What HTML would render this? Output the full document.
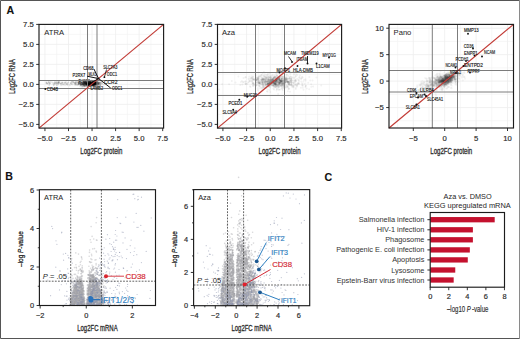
<!DOCTYPE html>
<html><head><meta charset="utf-8"><style>
html,body{margin:0;padding:0;background:#fff;}
body{width:520px;height:339px;overflow:hidden;}
svg{display:block;font-family:"Liberation Sans",sans-serif;}
.r60 circle{r:0.6px} .r70 circle{r:0.7px} .r75 circle{r:0.75px} .r80 circle{r:0.8px} .r90 circle{r:0.9px} .r95 circle{r:0.95px} .r100 circle{r:1px} .r110 circle{r:1.1px} .r120 circle{r:1.2px}
</style></head><body>
<svg width="520" height="339" viewBox="0 0 520 339">
<rect x="0" y="0" width="520" height="339" fill="#fff"/>
<line x1="56.72" y1="24.4" x2="56.72" y2="128.1" stroke="#f4f4f4" stroke-width="0.7"/>
<line x1="80.27" y1="24.4" x2="80.27" y2="128.1" stroke="#f4f4f4" stroke-width="0.7"/>
<line x1="103.83" y1="24.4" x2="103.83" y2="128.1" stroke="#f4f4f4" stroke-width="0.7"/>
<line x1="127.38" y1="24.4" x2="127.38" y2="128.1" stroke="#f4f4f4" stroke-width="0.7"/>
<line x1="150.93" y1="24.4" x2="150.93" y2="128.1" stroke="#f4f4f4" stroke-width="0.7"/>
<line x1="39" y1="34.4" x2="163.6" y2="34.4" stroke="#f4f4f4" stroke-width="0.7"/>
<line x1="39" y1="54.4" x2="163.6" y2="54.4" stroke="#f4f4f4" stroke-width="0.7"/>
<line x1="39" y1="74.4" x2="163.6" y2="74.4" stroke="#f4f4f4" stroke-width="0.7"/>
<line x1="39" y1="94.4" x2="163.6" y2="94.4" stroke="#f4f4f4" stroke-width="0.7"/>
<line x1="39" y1="114.4" x2="163.6" y2="114.4" stroke="#f4f4f4" stroke-width="0.7"/>
<line x1="44.95" y1="24.4" x2="44.95" y2="128.1" stroke="#eeeeee" stroke-width="0.8"/>
<line x1="68.5" y1="24.4" x2="68.5" y2="128.1" stroke="#eeeeee" stroke-width="0.8"/>
<line x1="92.05" y1="24.4" x2="92.05" y2="128.1" stroke="#eeeeee" stroke-width="0.8"/>
<line x1="115.6" y1="24.4" x2="115.6" y2="128.1" stroke="#eeeeee" stroke-width="0.8"/>
<line x1="139.15" y1="24.4" x2="139.15" y2="128.1" stroke="#eeeeee" stroke-width="0.8"/>
<line x1="39" y1="44.4" x2="163.6" y2="44.4" stroke="#eeeeee" stroke-width="0.8"/>
<line x1="39" y1="64.4" x2="163.6" y2="64.4" stroke="#eeeeee" stroke-width="0.8"/>
<line x1="39" y1="84.4" x2="163.6" y2="84.4" stroke="#eeeeee" stroke-width="0.8"/>
<line x1="39" y1="104.4" x2="163.6" y2="104.4" stroke="#eeeeee" stroke-width="0.8"/>
<line x1="39" y1="124.4" x2="163.6" y2="124.4" stroke="#eeeeee" stroke-width="0.8"/>
<g class="r90" fill="#111" fill-opacity="0.1"><circle cx="90.0" cy="83.9"/><circle cx="91.6" cy="83.8"/><circle cx="88.5" cy="83.4"/><circle cx="85.1" cy="83.0"/><circle cx="87.5" cy="84.3"/><circle cx="84.5" cy="81.4"/><circle cx="90.3" cy="84.2"/><circle cx="97.4" cy="83.9"/><circle cx="87.3" cy="84.0"/><circle cx="86.6" cy="84.1"/><circle cx="92.7" cy="82.8"/><circle cx="92.0" cy="83.3"/><circle cx="90.6" cy="84.4"/><circle cx="84.9" cy="84.2"/><circle cx="89.8" cy="83.9"/><circle cx="93.8" cy="81.6"/><circle cx="82.6" cy="84.3"/><circle cx="87.5" cy="85.1"/><circle cx="79.5" cy="84.9"/><circle cx="82.9" cy="83.9"/><circle cx="79.9" cy="81.6"/><circle cx="88.7" cy="84.8"/><circle cx="83.0" cy="83.4"/><circle cx="91.5" cy="80.3"/><circle cx="90.9" cy="84.1"/><circle cx="89.0" cy="81.7"/><circle cx="76.2" cy="81.9"/><circle cx="87.0" cy="82.8"/><circle cx="89.7" cy="85.3"/><circle cx="90.6" cy="83.1"/><circle cx="81.6" cy="84.0"/><circle cx="87.4" cy="85.9"/><circle cx="84.6" cy="85.7"/><circle cx="85.6" cy="83.5"/><circle cx="95.8" cy="83.3"/><circle cx="85.6" cy="82.0"/><circle cx="89.8" cy="82.7"/><circle cx="94.9" cy="84.2"/><circle cx="86.8" cy="84.1"/><circle cx="89.4" cy="83.7"/><circle cx="90.6" cy="84.9"/><circle cx="90.4" cy="82.6"/><circle cx="83.3" cy="83.5"/><circle cx="90.4" cy="84.6"/><circle cx="97.5" cy="84.4"/><circle cx="81.5" cy="85.0"/><circle cx="94.7" cy="84.1"/><circle cx="90.7" cy="83.2"/><circle cx="86.5" cy="84.1"/><circle cx="101.0" cy="82.3"/><circle cx="94.2" cy="81.5"/><circle cx="83.4" cy="84.4"/><circle cx="90.4" cy="83.5"/><circle cx="93.2" cy="84.0"/><circle cx="89.0" cy="81.4"/><circle cx="93.8" cy="83.1"/><circle cx="89.6" cy="82.8"/><circle cx="93.7" cy="82.5"/><circle cx="97.9" cy="80.7"/><circle cx="86.3" cy="83.2"/><circle cx="91.1" cy="84.8"/><circle cx="87.5" cy="84.1"/><circle cx="90.7" cy="82.8"/><circle cx="83.5" cy="83.6"/><circle cx="86.8" cy="84.6"/><circle cx="88.9" cy="80.0"/><circle cx="94.9" cy="83.4"/><circle cx="96.3" cy="84.3"/><circle cx="82.7" cy="84.5"/><circle cx="85.6" cy="85.8"/><circle cx="93.6" cy="85.1"/><circle cx="79.0" cy="84.0"/><circle cx="87.5" cy="84.0"/><circle cx="89.5" cy="84.6"/><circle cx="96.9" cy="82.9"/><circle cx="93.8" cy="83.5"/><circle cx="88.2" cy="84.8"/><circle cx="88.0" cy="86.1"/><circle cx="88.6" cy="83.4"/><circle cx="98.4" cy="83.5"/><circle cx="87.6" cy="83.9"/><circle cx="88.3" cy="85.3"/><circle cx="91.9" cy="83.6"/><circle cx="89.3" cy="85.5"/><circle cx="88.9" cy="82.3"/><circle cx="83.9" cy="83.4"/><circle cx="89.9" cy="83.3"/><circle cx="87.6" cy="84.6"/><circle cx="96.4" cy="85.0"/><circle cx="93.6" cy="81.6"/><circle cx="89.9" cy="82.4"/><circle cx="93.7" cy="84.0"/><circle cx="88.1" cy="82.7"/><circle cx="95.8" cy="81.6"/><circle cx="90.0" cy="85.0"/><circle cx="93.2" cy="84.2"/><circle cx="82.9" cy="84.2"/><circle cx="91.9" cy="83.0"/><circle cx="80.7" cy="84.9"/><circle cx="78.8" cy="83.3"/><circle cx="88.3" cy="85.0"/><circle cx="85.1" cy="82.4"/><circle cx="90.9" cy="82.5"/><circle cx="102.3" cy="83.9"/><circle cx="85.4" cy="82.7"/><circle cx="86.6" cy="84.5"/><circle cx="91.1" cy="83.9"/><circle cx="92.7" cy="82.4"/><circle cx="89.0" cy="83.7"/><circle cx="88.9" cy="83.1"/><circle cx="93.9" cy="84.8"/><circle cx="92.9" cy="82.8"/><circle cx="84.3" cy="83.0"/><circle cx="89.6" cy="85.2"/><circle cx="90.2" cy="86.5"/><circle cx="84.2" cy="86.2"/><circle cx="91.4" cy="83.7"/><circle cx="85.3" cy="83.9"/><circle cx="95.3" cy="85.6"/><circle cx="91.1" cy="83.4"/><circle cx="90.5" cy="82.3"/><circle cx="86.7" cy="83.8"/><circle cx="89.3" cy="84.2"/><circle cx="79.0" cy="82.5"/><circle cx="83.8" cy="81.5"/><circle cx="92.0" cy="81.7"/><circle cx="78.3" cy="84.5"/><circle cx="94.7" cy="82.6"/><circle cx="80.4" cy="83.4"/><circle cx="94.2" cy="83.9"/><circle cx="85.3" cy="84.4"/><circle cx="94.3" cy="83.2"/><circle cx="90.7" cy="84.2"/><circle cx="81.5" cy="82.4"/><circle cx="96.9" cy="83.1"/><circle cx="97.9" cy="82.3"/><circle cx="89.6" cy="85.1"/><circle cx="88.5" cy="83.6"/><circle cx="89.1" cy="82.6"/><circle cx="84.6" cy="83.1"/><circle cx="96.0" cy="83.3"/><circle cx="87.0" cy="84.5"/><circle cx="89.7" cy="81.5"/><circle cx="85.6" cy="82.3"/><circle cx="86.6" cy="83.1"/><circle cx="83.0" cy="86.9"/><circle cx="96.9" cy="84.8"/><circle cx="89.2" cy="83.5"/><circle cx="95.3" cy="84.5"/><circle cx="90.1" cy="86.3"/><circle cx="86.2" cy="83.3"/><circle cx="88.2" cy="83.1"/><circle cx="86.9" cy="85.2"/><circle cx="90.0" cy="84.2"/><circle cx="87.9" cy="84.5"/><circle cx="88.4" cy="82.9"/><circle cx="82.4" cy="86.1"/><circle cx="85.6" cy="85.8"/><circle cx="99.1" cy="84.3"/><circle cx="86.3" cy="84.5"/><circle cx="84.2" cy="81.0"/><circle cx="91.9" cy="84.4"/><circle cx="97.7" cy="83.3"/><circle cx="82.0" cy="84.2"/><circle cx="88.9" cy="84.5"/><circle cx="86.5" cy="83.2"/><circle cx="80.3" cy="81.4"/><circle cx="94.0" cy="84.1"/><circle cx="89.9" cy="82.6"/><circle cx="90.4" cy="83.2"/><circle cx="85.9" cy="82.8"/><circle cx="92.5" cy="83.2"/><circle cx="87.0" cy="80.6"/><circle cx="89.2" cy="85.2"/><circle cx="83.9" cy="83.9"/><circle cx="83.3" cy="85.0"/><circle cx="97.3" cy="86.2"/><circle cx="87.2" cy="83.6"/><circle cx="91.6" cy="81.3"/><circle cx="89.8" cy="82.4"/><circle cx="87.6" cy="82.0"/><circle cx="87.2" cy="82.9"/><circle cx="93.5" cy="83.7"/><circle cx="88.3" cy="81.0"/><circle cx="89.2" cy="84.0"/><circle cx="90.1" cy="81.6"/><circle cx="96.5" cy="84.0"/><circle cx="93.7" cy="83.5"/><circle cx="92.1" cy="83.2"/><circle cx="86.9" cy="83.5"/><circle cx="82.4" cy="82.9"/><circle cx="95.2" cy="82.8"/><circle cx="95.3" cy="81.4"/><circle cx="89.2" cy="83.6"/><circle cx="93.0" cy="86.0"/><circle cx="94.3" cy="86.2"/><circle cx="94.6" cy="85.3"/><circle cx="95.1" cy="84.5"/><circle cx="87.5" cy="82.7"/><circle cx="98.3" cy="85.5"/><circle cx="83.1" cy="83.5"/><circle cx="94.7" cy="83.5"/><circle cx="92.7" cy="83.2"/><circle cx="94.8" cy="83.7"/><circle cx="100.3" cy="83.0"/><circle cx="98.2" cy="83.5"/><circle cx="83.7" cy="82.2"/><circle cx="80.7" cy="83.1"/><circle cx="94.5" cy="86.6"/><circle cx="84.4" cy="83.5"/><circle cx="89.9" cy="83.3"/><circle cx="94.6" cy="84.3"/><circle cx="81.0" cy="84.5"/><circle cx="78.4" cy="82.2"/><circle cx="91.4" cy="83.3"/><circle cx="90.2" cy="84.8"/><circle cx="88.6" cy="84.0"/><circle cx="90.2" cy="83.8"/><circle cx="85.3" cy="85.6"/><circle cx="81.7" cy="82.7"/><circle cx="89.1" cy="83.7"/><circle cx="84.7" cy="82.9"/><circle cx="81.0" cy="85.5"/><circle cx="92.8" cy="81.1"/><circle cx="89.7" cy="82.7"/><circle cx="92.2" cy="82.9"/><circle cx="84.6" cy="84.5"/><circle cx="86.4" cy="84.4"/><circle cx="84.5" cy="85.4"/><circle cx="85.1" cy="81.6"/><circle cx="91.1" cy="84.6"/><circle cx="85.7" cy="83.2"/><circle cx="92.0" cy="82.7"/><circle cx="91.9" cy="84.3"/><circle cx="101.1" cy="82.4"/><circle cx="82.3" cy="80.9"/><circle cx="94.9" cy="83.1"/><circle cx="89.5" cy="81.7"/><circle cx="89.9" cy="82.8"/><circle cx="82.0" cy="84.1"/><circle cx="87.5" cy="84.0"/><circle cx="94.1" cy="85.7"/><circle cx="89.5" cy="83.3"/><circle cx="90.4" cy="81.6"/><circle cx="88.4" cy="82.6"/><circle cx="96.4" cy="82.4"/><circle cx="89.9" cy="82.0"/><circle cx="77.9" cy="84.2"/><circle cx="86.2" cy="82.8"/><circle cx="79.2" cy="81.0"/><circle cx="72.1" cy="84.5"/><circle cx="87.1" cy="83.5"/><circle cx="97.3" cy="84.1"/><circle cx="90.3" cy="83.7"/><circle cx="83.6" cy="84.4"/><circle cx="84.8" cy="83.6"/><circle cx="96.2" cy="85.2"/><circle cx="90.9" cy="84.2"/><circle cx="90.3" cy="84.1"/><circle cx="89.7" cy="84.1"/><circle cx="90.2" cy="81.7"/><circle cx="94.4" cy="83.4"/><circle cx="93.0" cy="83.3"/><circle cx="91.2" cy="83.9"/><circle cx="84.3" cy="81.8"/><circle cx="92.8" cy="85.7"/><circle cx="86.2" cy="83.7"/><circle cx="96.0" cy="82.0"/><circle cx="83.0" cy="81.4"/><circle cx="89.2" cy="83.2"/><circle cx="90.0" cy="83.5"/><circle cx="82.7" cy="82.7"/><circle cx="99.5" cy="83.7"/><circle cx="98.0" cy="82.8"/><circle cx="87.5" cy="84.3"/><circle cx="94.2" cy="82.7"/><circle cx="92.1" cy="83.5"/><circle cx="75.6" cy="84.9"/><circle cx="91.4" cy="86.9"/><circle cx="89.7" cy="82.3"/><circle cx="90.5" cy="83.0"/><circle cx="84.1" cy="82.5"/><circle cx="88.5" cy="84.6"/><circle cx="89.0" cy="82.1"/><circle cx="96.5" cy="83.0"/><circle cx="91.8" cy="83.6"/><circle cx="90.0" cy="82.3"/><circle cx="98.4" cy="82.4"/><circle cx="86.9" cy="83.0"/><circle cx="87.9" cy="80.9"/><circle cx="80.0" cy="81.7"/><circle cx="98.6" cy="83.1"/><circle cx="95.3" cy="83.8"/><circle cx="95.0" cy="83.4"/><circle cx="93.7" cy="81.3"/><circle cx="90.6" cy="83.0"/><circle cx="91.2" cy="84.6"/><circle cx="88.6" cy="84.3"/><circle cx="88.9" cy="83.5"/><circle cx="90.3" cy="82.4"/><circle cx="98.3" cy="84.4"/><circle cx="93.1" cy="82.8"/><circle cx="89.7" cy="82.1"/><circle cx="86.8" cy="82.6"/><circle cx="86.5" cy="85.5"/><circle cx="98.8" cy="83.9"/><circle cx="92.8" cy="85.1"/><circle cx="90.4" cy="83.0"/><circle cx="88.1" cy="84.8"/><circle cx="83.9" cy="82.8"/><circle cx="89.6" cy="83.4"/><circle cx="94.8" cy="86.8"/><circle cx="87.8" cy="84.6"/><circle cx="88.8" cy="82.9"/><circle cx="88.8" cy="83.5"/><circle cx="90.6" cy="84.0"/><circle cx="81.2" cy="85.2"/><circle cx="88.7" cy="83.0"/><circle cx="85.3" cy="81.3"/><circle cx="94.9" cy="83.2"/><circle cx="85.8" cy="83.6"/><circle cx="93.2" cy="83.7"/><circle cx="98.4" cy="85.3"/><circle cx="88.3" cy="84.0"/><circle cx="86.7" cy="84.7"/><circle cx="91.1" cy="82.2"/><circle cx="90.0" cy="84.7"/><circle cx="84.5" cy="86.3"/><circle cx="92.5" cy="84.6"/><circle cx="101.1" cy="83.9"/><circle cx="88.6" cy="83.8"/><circle cx="88.9" cy="85.9"/><circle cx="84.3" cy="82.4"/><circle cx="91.8" cy="83.5"/><circle cx="83.1" cy="84.2"/><circle cx="83.9" cy="84.6"/><circle cx="97.0" cy="83.0"/><circle cx="85.0" cy="84.0"/><circle cx="95.9" cy="83.2"/><circle cx="98.4" cy="83.8"/><circle cx="91.4" cy="83.4"/><circle cx="93.0" cy="82.1"/><circle cx="100.7" cy="83.6"/><circle cx="88.9" cy="84.7"/><circle cx="86.7" cy="82.3"/><circle cx="82.6" cy="83.3"/><circle cx="90.2" cy="84.5"/><circle cx="98.1" cy="82.2"/><circle cx="95.3" cy="83.8"/><circle cx="84.8" cy="82.2"/><circle cx="85.3" cy="85.1"/><circle cx="87.2" cy="86.6"/><circle cx="91.6" cy="86.2"/><circle cx="88.9" cy="83.3"/><circle cx="91.2" cy="84.6"/><circle cx="91.6" cy="83.8"/><circle cx="88.4" cy="83.7"/><circle cx="89.8" cy="85.6"/><circle cx="91.1" cy="81.9"/><circle cx="89.5" cy="85.0"/><circle cx="92.8" cy="83.5"/><circle cx="100.3" cy="85.4"/><circle cx="93.3" cy="83.8"/><circle cx="90.3" cy="82.7"/><circle cx="80.7" cy="84.0"/><circle cx="92.1" cy="84.6"/><circle cx="79.3" cy="83.6"/><circle cx="82.3" cy="84.2"/><circle cx="94.7" cy="82.9"/><circle cx="93.9" cy="80.8"/><circle cx="89.2" cy="84.8"/><circle cx="80.6" cy="84.5"/><circle cx="88.0" cy="83.8"/><circle cx="86.3" cy="83.7"/><circle cx="93.5" cy="84.9"/><circle cx="102.4" cy="83.0"/><circle cx="91.2" cy="82.7"/><circle cx="85.7" cy="83.4"/><circle cx="83.6" cy="85.1"/><circle cx="89.7" cy="81.8"/><circle cx="89.0" cy="85.1"/><circle cx="83.7" cy="82.8"/><circle cx="90.6" cy="82.2"/><circle cx="83.7" cy="85.2"/><circle cx="96.1" cy="83.5"/><circle cx="95.8" cy="81.9"/><circle cx="96.0" cy="83.1"/><circle cx="87.4" cy="84.8"/><circle cx="92.8" cy="85.1"/><circle cx="89.3" cy="83.0"/><circle cx="87.9" cy="84.1"/><circle cx="88.1" cy="84.5"/><circle cx="82.9" cy="82.8"/><circle cx="82.1" cy="84.1"/><circle cx="94.4" cy="83.6"/><circle cx="88.9" cy="82.9"/><circle cx="91.2" cy="83.0"/><circle cx="95.5" cy="83.7"/><circle cx="80.5" cy="83.6"/><circle cx="85.7" cy="82.9"/><circle cx="91.0" cy="83.0"/><circle cx="92.2" cy="85.0"/><circle cx="87.9" cy="83.9"/><circle cx="95.7" cy="84.8"/><circle cx="91.2" cy="85.2"/><circle cx="83.3" cy="84.4"/><circle cx="84.9" cy="86.6"/><circle cx="94.4" cy="82.5"/><circle cx="92.6" cy="84.7"/><circle cx="79.6" cy="83.2"/><circle cx="97.4" cy="86.0"/><circle cx="93.3" cy="85.8"/><circle cx="97.4" cy="81.1"/><circle cx="87.9" cy="82.3"/><circle cx="88.4" cy="84.5"/><circle cx="83.8" cy="84.6"/><circle cx="104.0" cy="84.6"/><circle cx="89.0" cy="83.5"/><circle cx="98.7" cy="84.2"/><circle cx="86.4" cy="84.4"/><circle cx="90.9" cy="83.5"/><circle cx="80.8" cy="84.9"/><circle cx="87.9" cy="80.7"/><circle cx="95.4" cy="84.4"/><circle cx="83.1" cy="82.3"/><circle cx="95.9" cy="84.8"/><circle cx="91.9" cy="83.3"/><circle cx="84.3" cy="82.4"/><circle cx="87.2" cy="84.1"/><circle cx="87.5" cy="82.4"/><circle cx="89.7" cy="82.4"/><circle cx="87.1" cy="81.6"/><circle cx="85.4" cy="83.6"/><circle cx="88.3" cy="84.2"/><circle cx="84.4" cy="84.9"/><circle cx="82.9" cy="83.4"/><circle cx="89.7" cy="85.0"/><circle cx="94.9" cy="83.6"/><circle cx="81.6" cy="83.5"/><circle cx="90.0" cy="84.3"/><circle cx="86.4" cy="85.0"/><circle cx="84.6" cy="83.2"/><circle cx="94.7" cy="83.3"/><circle cx="87.2" cy="83.4"/><circle cx="98.2" cy="83.7"/><circle cx="85.7" cy="82.4"/><circle cx="92.1" cy="84.9"/><circle cx="88.7" cy="83.1"/><circle cx="85.9" cy="84.2"/><circle cx="93.2" cy="82.5"/><circle cx="89.1" cy="84.1"/><circle cx="93.3" cy="84.1"/><circle cx="89.7" cy="83.1"/><circle cx="84.0" cy="86.2"/><circle cx="89.4" cy="84.1"/><circle cx="90.3" cy="85.9"/><circle cx="95.3" cy="84.8"/><circle cx="85.0" cy="82.7"/><circle cx="89.8" cy="83.1"/><circle cx="80.5" cy="84.2"/><circle cx="93.6" cy="83.7"/><circle cx="84.1" cy="83.7"/><circle cx="80.1" cy="83.2"/><circle cx="89.7" cy="81.2"/><circle cx="96.1" cy="83.3"/><circle cx="81.6" cy="80.7"/><circle cx="84.0" cy="84.1"/><circle cx="85.9" cy="82.7"/><circle cx="83.8" cy="82.7"/><circle cx="92.1" cy="83.3"/><circle cx="85.6" cy="84.0"/><circle cx="86.0" cy="81.7"/><circle cx="93.2" cy="81.3"/><circle cx="85.8" cy="82.2"/><circle cx="92.4" cy="80.9"/><circle cx="84.7" cy="82.3"/><circle cx="83.3" cy="85.7"/><circle cx="79.9" cy="82.2"/><circle cx="100.2" cy="84.4"/><circle cx="88.2" cy="81.8"/><circle cx="91.3" cy="84.0"/><circle cx="89.8" cy="83.2"/><circle cx="90.9" cy="83.5"/><circle cx="90.3" cy="84.3"/><circle cx="100.5" cy="85.9"/><circle cx="84.3" cy="83.9"/><circle cx="81.4" cy="83.8"/><circle cx="84.4" cy="82.3"/><circle cx="82.7" cy="84.4"/><circle cx="94.1" cy="83.3"/><circle cx="94.5" cy="84.7"/><circle cx="84.7" cy="83.5"/><circle cx="82.4" cy="85.9"/><circle cx="88.0" cy="81.0"/><circle cx="97.7" cy="83.2"/><circle cx="74.5" cy="84.7"/><circle cx="92.9" cy="83.1"/><circle cx="84.1" cy="82.6"/><circle cx="95.7" cy="83.3"/><circle cx="84.1" cy="81.8"/><circle cx="88.4" cy="83.8"/><circle cx="81.7" cy="86.8"/><circle cx="84.6" cy="85.1"/><circle cx="97.6" cy="82.2"/><circle cx="94.5" cy="82.5"/><circle cx="87.8" cy="83.1"/><circle cx="85.2" cy="84.9"/><circle cx="79.6" cy="82.5"/><circle cx="87.8" cy="82.7"/><circle cx="89.8" cy="84.8"/><circle cx="89.5" cy="84.7"/><circle cx="89.5" cy="83.1"/><circle cx="83.8" cy="82.1"/><circle cx="89.6" cy="81.6"/><circle cx="89.8" cy="82.7"/><circle cx="97.1" cy="80.7"/><circle cx="100.3" cy="84.6"/><circle cx="89.2" cy="82.8"/><circle cx="85.8" cy="84.2"/><circle cx="89.6" cy="86.0"/><circle cx="86.7" cy="85.1"/><circle cx="85.9" cy="82.1"/><circle cx="89.7" cy="84.7"/><circle cx="84.3" cy="85.1"/><circle cx="93.3" cy="82.6"/><circle cx="89.4" cy="82.4"/><circle cx="91.4" cy="83.5"/><circle cx="89.0" cy="81.5"/><circle cx="86.0" cy="85.5"/><circle cx="84.8" cy="80.5"/><circle cx="88.7" cy="82.2"/><circle cx="87.0" cy="83.2"/><circle cx="91.3" cy="83.3"/><circle cx="90.0" cy="83.8"/><circle cx="82.5" cy="84.0"/><circle cx="90.4" cy="83.3"/><circle cx="82.6" cy="85.1"/><circle cx="86.6" cy="80.8"/><circle cx="88.4" cy="83.6"/><circle cx="78.6" cy="82.7"/><circle cx="90.5" cy="83.8"/><circle cx="90.8" cy="83.9"/><circle cx="89.1" cy="82.4"/><circle cx="87.7" cy="82.8"/><circle cx="87.9" cy="84.6"/><circle cx="84.6" cy="84.1"/><circle cx="88.5" cy="82.7"/><circle cx="87.0" cy="86.3"/><circle cx="90.5" cy="86.6"/><circle cx="83.4" cy="81.7"/></g>
<g class="r90" fill="#111" fill-opacity="0.14"><circle cx="92.8" cy="82.4"/><circle cx="99.0" cy="83.4"/><circle cx="94.2" cy="81.4"/><circle cx="92.6" cy="81.9"/><circle cx="91.4" cy="83.7"/><circle cx="90.5" cy="82.6"/><circle cx="91.4" cy="83.4"/><circle cx="90.5" cy="83.5"/><circle cx="94.1" cy="85.5"/><circle cx="90.9" cy="84.9"/><circle cx="90.8" cy="83.6"/><circle cx="88.6" cy="84.8"/><circle cx="91.9" cy="82.8"/><circle cx="89.5" cy="83.3"/><circle cx="91.5" cy="84.5"/><circle cx="94.9" cy="82.4"/><circle cx="93.0" cy="83.3"/><circle cx="93.4" cy="82.3"/><circle cx="93.0" cy="83.7"/><circle cx="92.2" cy="85.2"/><circle cx="91.6" cy="82.8"/><circle cx="91.1" cy="83.8"/><circle cx="94.1" cy="82.7"/><circle cx="89.0" cy="82.5"/><circle cx="95.8" cy="82.4"/><circle cx="92.1" cy="85.1"/><circle cx="89.9" cy="86.0"/><circle cx="90.6" cy="84.1"/><circle cx="90.1" cy="82.9"/><circle cx="92.4" cy="84.3"/><circle cx="90.0" cy="83.3"/><circle cx="95.2" cy="84.4"/><circle cx="89.8" cy="83.9"/><circle cx="85.6" cy="83.9"/><circle cx="90.0" cy="84.2"/><circle cx="86.4" cy="83.0"/><circle cx="91.9" cy="83.2"/><circle cx="95.0" cy="81.9"/><circle cx="93.8" cy="83.2"/><circle cx="88.3" cy="82.2"/><circle cx="89.9" cy="83.5"/><circle cx="97.0" cy="82.6"/><circle cx="92.9" cy="83.7"/><circle cx="92.0" cy="84.1"/><circle cx="95.0" cy="82.2"/><circle cx="98.9" cy="82.8"/><circle cx="95.6" cy="82.7"/><circle cx="92.4" cy="84.3"/><circle cx="93.0" cy="85.3"/><circle cx="93.7" cy="84.5"/><circle cx="90.3" cy="83.3"/><circle cx="89.0" cy="85.1"/><circle cx="92.1" cy="82.1"/><circle cx="89.3" cy="85.1"/><circle cx="91.8" cy="82.9"/><circle cx="92.3" cy="80.8"/><circle cx="98.6" cy="86.3"/><circle cx="89.6" cy="85.2"/><circle cx="91.7" cy="82.6"/><circle cx="91.5" cy="83.8"/><circle cx="93.2" cy="83.4"/><circle cx="94.9" cy="83.7"/><circle cx="90.6" cy="82.1"/><circle cx="89.7" cy="82.9"/><circle cx="87.4" cy="84.1"/><circle cx="89.4" cy="83.8"/><circle cx="93.5" cy="84.8"/><circle cx="92.1" cy="83.7"/><circle cx="89.2" cy="85.9"/><circle cx="91.0" cy="82.9"/><circle cx="92.1" cy="83.9"/><circle cx="93.4" cy="81.7"/><circle cx="90.3" cy="82.3"/><circle cx="91.3" cy="84.9"/><circle cx="86.9" cy="82.7"/><circle cx="88.8" cy="84.1"/><circle cx="96.5" cy="83.5"/><circle cx="85.9" cy="82.6"/><circle cx="91.1" cy="83.3"/><circle cx="92.6" cy="83.1"/><circle cx="91.0" cy="83.1"/><circle cx="89.7" cy="84.4"/><circle cx="91.8" cy="84.3"/><circle cx="92.0" cy="83.0"/><circle cx="91.8" cy="82.7"/><circle cx="86.7" cy="83.9"/><circle cx="91.6" cy="83.5"/><circle cx="89.6" cy="84.6"/><circle cx="90.5" cy="86.3"/><circle cx="92.6" cy="84.4"/><circle cx="93.8" cy="83.6"/><circle cx="94.5" cy="83.4"/><circle cx="90.6" cy="82.7"/><circle cx="94.6" cy="82.7"/><circle cx="95.3" cy="82.6"/><circle cx="95.2" cy="83.2"/><circle cx="95.9" cy="83.2"/><circle cx="91.6" cy="84.3"/><circle cx="91.5" cy="83.2"/><circle cx="94.3" cy="83.4"/><circle cx="88.2" cy="82.4"/><circle cx="92.6" cy="85.2"/><circle cx="90.5" cy="84.1"/><circle cx="91.0" cy="85.4"/><circle cx="87.1" cy="84.4"/><circle cx="89.5" cy="85.1"/><circle cx="91.9" cy="83.4"/><circle cx="94.5" cy="84.3"/><circle cx="94.8" cy="86.3"/><circle cx="91.8" cy="82.4"/><circle cx="91.5" cy="84.8"/><circle cx="89.7" cy="85.3"/><circle cx="93.1" cy="84.0"/><circle cx="91.3" cy="84.4"/><circle cx="93.7" cy="84.9"/><circle cx="96.9" cy="82.9"/><circle cx="91.9" cy="84.0"/><circle cx="87.8" cy="82.7"/><circle cx="89.6" cy="82.9"/><circle cx="87.9" cy="83.0"/><circle cx="88.6" cy="83.5"/><circle cx="95.7" cy="83.7"/><circle cx="92.6" cy="84.1"/><circle cx="87.7" cy="82.1"/><circle cx="93.8" cy="85.6"/><circle cx="95.5" cy="84.8"/><circle cx="91.0" cy="84.3"/><circle cx="90.1" cy="83.2"/><circle cx="91.1" cy="83.5"/><circle cx="92.8" cy="84.2"/><circle cx="93.8" cy="84.0"/><circle cx="95.3" cy="81.9"/><circle cx="95.4" cy="84.4"/><circle cx="95.3" cy="86.6"/><circle cx="95.8" cy="81.7"/><circle cx="93.9" cy="84.6"/><circle cx="87.7" cy="84.0"/><circle cx="91.6" cy="83.5"/><circle cx="92.9" cy="85.0"/><circle cx="90.9" cy="82.4"/><circle cx="94.6" cy="83.8"/><circle cx="91.0" cy="85.1"/><circle cx="89.4" cy="83.4"/><circle cx="96.0" cy="83.2"/><circle cx="93.9" cy="83.7"/><circle cx="92.6" cy="83.1"/><circle cx="94.6" cy="85.2"/><circle cx="95.0" cy="82.7"/><circle cx="93.0" cy="84.5"/><circle cx="85.1" cy="82.3"/><circle cx="90.1" cy="84.3"/><circle cx="90.7" cy="83.5"/><circle cx="89.2" cy="80.9"/><circle cx="92.6" cy="83.6"/><circle cx="95.3" cy="82.5"/><circle cx="90.6" cy="83.1"/><circle cx="88.8" cy="85.2"/><circle cx="97.7" cy="82.5"/><circle cx="90.7" cy="82.5"/><circle cx="88.5" cy="85.1"/><circle cx="92.7" cy="83.7"/><circle cx="93.2" cy="85.2"/><circle cx="90.0" cy="83.9"/><circle cx="94.2" cy="82.7"/><circle cx="90.6" cy="83.5"/><circle cx="89.4" cy="84.9"/><circle cx="92.5" cy="84.6"/><circle cx="94.2" cy="83.6"/><circle cx="90.2" cy="83.7"/><circle cx="92.9" cy="83.5"/><circle cx="91.7" cy="83.0"/><circle cx="99.9" cy="85.6"/><circle cx="90.0" cy="83.6"/><circle cx="95.9" cy="82.4"/><circle cx="91.9" cy="83.1"/><circle cx="91.6" cy="84.3"/><circle cx="94.0" cy="84.3"/><circle cx="94.5" cy="83.5"/><circle cx="95.5" cy="82.9"/><circle cx="92.9" cy="83.6"/><circle cx="90.3" cy="81.9"/><circle cx="90.5" cy="82.3"/><circle cx="93.4" cy="84.4"/><circle cx="93.6" cy="83.1"/><circle cx="95.9" cy="84.0"/><circle cx="93.2" cy="84.9"/><circle cx="95.0" cy="84.3"/><circle cx="96.2" cy="83.6"/><circle cx="92.5" cy="85.8"/><circle cx="87.8" cy="84.3"/><circle cx="88.7" cy="83.2"/><circle cx="88.0" cy="84.4"/><circle cx="96.5" cy="84.0"/><circle cx="89.6" cy="82.7"/><circle cx="95.4" cy="83.7"/><circle cx="93.6" cy="83.4"/><circle cx="96.8" cy="81.6"/><circle cx="94.8" cy="83.4"/><circle cx="91.7" cy="83.3"/><circle cx="91.4" cy="83.1"/><circle cx="92.2" cy="81.9"/><circle cx="92.5" cy="83.2"/><circle cx="90.5" cy="83.6"/><circle cx="91.9" cy="83.7"/><circle cx="96.5" cy="82.4"/><circle cx="87.2" cy="84.3"/><circle cx="92.7" cy="82.4"/><circle cx="89.5" cy="83.4"/><circle cx="92.5" cy="84.9"/><circle cx="94.4" cy="82.9"/><circle cx="91.8" cy="83.1"/><circle cx="94.2" cy="84.7"/><circle cx="87.5" cy="83.2"/><circle cx="95.1" cy="83.3"/><circle cx="90.3" cy="83.8"/><circle cx="93.7" cy="84.7"/><circle cx="92.5" cy="81.3"/><circle cx="84.8" cy="82.7"/><circle cx="89.9" cy="82.6"/><circle cx="92.6" cy="82.5"/><circle cx="96.4" cy="82.7"/><circle cx="92.8" cy="82.7"/><circle cx="92.7" cy="83.9"/><circle cx="88.0" cy="82.7"/><circle cx="96.0" cy="83.7"/><circle cx="97.1" cy="84.0"/><circle cx="92.1" cy="82.9"/><circle cx="91.4" cy="83.7"/><circle cx="87.5" cy="85.3"/><circle cx="94.5" cy="83.9"/><circle cx="99.6" cy="82.9"/><circle cx="94.0" cy="83.5"/><circle cx="95.5" cy="82.7"/><circle cx="93.5" cy="83.9"/><circle cx="89.2" cy="84.5"/><circle cx="95.7" cy="82.8"/><circle cx="88.5" cy="83.4"/><circle cx="91.4" cy="84.7"/><circle cx="92.8" cy="83.1"/><circle cx="94.5" cy="83.8"/><circle cx="93.2" cy="82.6"/><circle cx="93.1" cy="82.8"/><circle cx="89.9" cy="83.1"/><circle cx="88.4" cy="85.8"/><circle cx="92.2" cy="83.2"/><circle cx="90.0" cy="83.1"/><circle cx="88.3" cy="83.0"/><circle cx="88.5" cy="83.4"/><circle cx="90.6" cy="84.3"/><circle cx="86.8" cy="83.8"/><circle cx="88.2" cy="85.7"/><circle cx="87.4" cy="83.8"/><circle cx="92.5" cy="85.0"/><circle cx="93.1" cy="83.9"/><circle cx="97.6" cy="84.2"/><circle cx="87.8" cy="82.2"/><circle cx="90.1" cy="83.5"/><circle cx="94.6" cy="83.5"/><circle cx="91.4" cy="83.4"/><circle cx="91.1" cy="81.4"/><circle cx="96.8" cy="84.5"/><circle cx="91.1" cy="83.2"/><circle cx="88.8" cy="83.2"/><circle cx="88.3" cy="83.3"/><circle cx="92.9" cy="83.4"/><circle cx="92.9" cy="84.0"/><circle cx="88.2" cy="82.3"/><circle cx="89.2" cy="82.7"/><circle cx="93.5" cy="83.9"/><circle cx="93.6" cy="83.7"/><circle cx="90.2" cy="83.2"/><circle cx="93.7" cy="83.0"/><circle cx="93.6" cy="82.8"/><circle cx="87.0" cy="83.5"/><circle cx="91.1" cy="84.8"/><circle cx="93.2" cy="82.5"/><circle cx="90.4" cy="85.1"/><circle cx="86.0" cy="84.4"/><circle cx="91.2" cy="83.1"/><circle cx="94.1" cy="84.4"/><circle cx="96.4" cy="82.1"/><circle cx="85.9" cy="81.9"/><circle cx="99.3" cy="82.3"/><circle cx="88.8" cy="83.2"/><circle cx="94.7" cy="83.3"/><circle cx="95.5" cy="83.1"/><circle cx="94.8" cy="83.7"/><circle cx="92.4" cy="81.5"/><circle cx="88.7" cy="84.1"/><circle cx="93.8" cy="82.2"/><circle cx="90.0" cy="82.9"/><circle cx="84.9" cy="83.2"/><circle cx="99.9" cy="82.4"/><circle cx="94.0" cy="82.2"/><circle cx="97.1" cy="82.6"/><circle cx="89.4" cy="83.6"/><circle cx="96.1" cy="84.2"/><circle cx="96.5" cy="84.2"/><circle cx="96.4" cy="82.6"/><circle cx="91.9" cy="82.8"/></g>
<g class="r80" fill="#333" fill-opacity="0.1"><circle cx="62.3" cy="82.9"/><circle cx="61.0" cy="85.4"/><circle cx="54.6" cy="82.9"/><circle cx="80.3" cy="81.8"/><circle cx="48.5" cy="82.4"/><circle cx="53.4" cy="82.9"/><circle cx="69.8" cy="85.6"/><circle cx="67.2" cy="83.4"/><circle cx="56.0" cy="84.2"/><circle cx="79.7" cy="82.1"/><circle cx="60.7" cy="83.6"/><circle cx="67.5" cy="83.9"/><circle cx="49.3" cy="85.2"/><circle cx="78.1" cy="82.4"/><circle cx="49.7" cy="83.9"/><circle cx="60.2" cy="83.5"/><circle cx="77.9" cy="82.1"/><circle cx="80.0" cy="83.2"/><circle cx="78.5" cy="82.9"/><circle cx="75.8" cy="80.6"/><circle cx="54.4" cy="83.9"/><circle cx="47.1" cy="83.8"/><circle cx="62.3" cy="82.7"/><circle cx="48.3" cy="81.7"/><circle cx="80.6" cy="84.8"/><circle cx="46.3" cy="83.5"/><circle cx="57.7" cy="84.3"/><circle cx="53.3" cy="84.8"/><circle cx="46.5" cy="82.6"/><circle cx="64.0" cy="84.1"/><circle cx="48.7" cy="82.9"/><circle cx="78.4" cy="83.1"/><circle cx="70.8" cy="83.1"/><circle cx="59.3" cy="83.2"/><circle cx="76.3" cy="84.4"/><circle cx="74.7" cy="83.3"/><circle cx="57.8" cy="83.0"/><circle cx="76.5" cy="82.9"/><circle cx="79.5" cy="83.6"/><circle cx="68.3" cy="82.2"/><circle cx="58.7" cy="82.6"/><circle cx="78.4" cy="83.1"/><circle cx="79.9" cy="82.6"/><circle cx="58.5" cy="83.1"/><circle cx="49.1" cy="82.5"/><circle cx="77.2" cy="85.4"/><circle cx="69.9" cy="84.7"/><circle cx="54.4" cy="83.7"/><circle cx="66.4" cy="83.1"/><circle cx="57.1" cy="85.6"/><circle cx="79.1" cy="83.6"/><circle cx="58.3" cy="83.1"/><circle cx="53.1" cy="83.5"/><circle cx="47.6" cy="83.5"/><circle cx="58.3" cy="84.8"/><circle cx="81.6" cy="83.2"/><circle cx="53.9" cy="85.5"/><circle cx="62.5" cy="82.2"/><circle cx="81.0" cy="84.0"/><circle cx="46.2" cy="82.1"/><circle cx="56.6" cy="85.2"/><circle cx="75.6" cy="82.8"/><circle cx="49.4" cy="83.1"/><circle cx="79.4" cy="84.2"/><circle cx="76.0" cy="84.6"/><circle cx="51.1" cy="82.0"/><circle cx="67.3" cy="82.8"/><circle cx="66.0" cy="81.7"/><circle cx="71.0" cy="83.4"/><circle cx="57.0" cy="83.1"/><circle cx="59.8" cy="82.8"/><circle cx="54.7" cy="82.4"/><circle cx="56.5" cy="82.8"/><circle cx="52.3" cy="82.4"/><circle cx="78.6" cy="83.8"/><circle cx="77.9" cy="84.9"/><circle cx="59.0" cy="81.1"/><circle cx="71.0" cy="83.1"/><circle cx="63.6" cy="82.7"/><circle cx="56.1" cy="83.7"/><circle cx="58.6" cy="82.2"/><circle cx="80.7" cy="83.0"/><circle cx="58.3" cy="82.1"/><circle cx="66.8" cy="84.0"/><circle cx="80.0" cy="83.3"/><circle cx="56.7" cy="83.0"/><circle cx="75.1" cy="83.6"/><circle cx="50.1" cy="82.9"/><circle cx="72.4" cy="81.5"/><circle cx="75.0" cy="83.9"/><circle cx="76.1" cy="83.5"/><circle cx="81.1" cy="83.0"/><circle cx="71.6" cy="84.3"/><circle cx="81.2" cy="84.5"/><circle cx="56.0" cy="82.0"/><circle cx="64.8" cy="82.3"/><circle cx="53.7" cy="84.9"/><circle cx="49.0" cy="84.8"/><circle cx="61.8" cy="82.4"/><circle cx="71.9" cy="81.9"/><circle cx="74.0" cy="82.5"/><circle cx="46.6" cy="82.7"/><circle cx="79.9" cy="81.5"/><circle cx="54.9" cy="83.2"/><circle cx="56.5" cy="81.8"/><circle cx="76.0" cy="81.9"/><circle cx="78.2" cy="84.2"/><circle cx="72.5" cy="82.4"/><circle cx="58.0" cy="83.1"/><circle cx="62.7" cy="83.9"/><circle cx="76.0" cy="84.1"/><circle cx="58.9" cy="82.8"/><circle cx="75.0" cy="83.2"/><circle cx="74.2" cy="82.3"/><circle cx="62.9" cy="85.1"/><circle cx="78.3" cy="83.9"/><circle cx="59.8" cy="82.0"/><circle cx="73.0" cy="83.2"/><circle cx="69.0" cy="84.0"/><circle cx="57.9" cy="83.7"/><circle cx="65.1" cy="85.2"/><circle cx="67.8" cy="84.7"/><circle cx="65.3" cy="82.6"/><circle cx="50.0" cy="83.1"/><circle cx="81.7" cy="81.8"/><circle cx="80.8" cy="83.5"/><circle cx="47.3" cy="83.4"/><circle cx="80.0" cy="86.2"/><circle cx="65.1" cy="83.3"/><circle cx="50.5" cy="80.9"/><circle cx="75.5" cy="82.5"/><circle cx="61.6" cy="83.3"/><circle cx="71.7" cy="81.8"/><circle cx="75.8" cy="82.2"/><circle cx="65.4" cy="82.8"/><circle cx="47.8" cy="83.6"/><circle cx="75.6" cy="83.0"/><circle cx="71.0" cy="82.2"/><circle cx="78.8" cy="84.1"/><circle cx="55.7" cy="82.6"/><circle cx="74.3" cy="82.7"/><circle cx="77.4" cy="81.7"/><circle cx="58.8" cy="82.3"/><circle cx="60.8" cy="83.9"/><circle cx="58.0" cy="81.4"/><circle cx="46.2" cy="83.1"/><circle cx="54.3" cy="84.0"/><circle cx="57.9" cy="82.8"/><circle cx="49.9" cy="83.5"/><circle cx="73.6" cy="82.0"/><circle cx="61.4" cy="84.6"/><circle cx="66.5" cy="84.4"/><circle cx="56.2" cy="83.5"/><circle cx="59.0" cy="81.3"/><circle cx="73.1" cy="82.0"/><circle cx="62.9" cy="84.3"/><circle cx="67.5" cy="85.1"/><circle cx="61.2" cy="83.5"/><circle cx="66.1" cy="84.6"/><circle cx="78.3" cy="82.5"/><circle cx="55.6" cy="83.0"/><circle cx="64.7" cy="83.2"/><circle cx="70.7" cy="83.7"/><circle cx="49.1" cy="81.5"/><circle cx="80.6" cy="84.2"/><circle cx="64.0" cy="84.7"/><circle cx="54.8" cy="81.9"/><circle cx="73.4" cy="81.7"/><circle cx="75.4" cy="83.6"/><circle cx="68.7" cy="82.5"/></g>
<text x="78.5" y="83.3" font-size="4.7" fill="#1a1a1a" textLength="11.5" lengthAdjust="spacingAndGlyphs" stroke="#1a1a1a" stroke-width="0.15">PLXNB2</text>
<line x1="87.5" y1="24.4" x2="87.5" y2="128.1" stroke="#7c7c7c" stroke-width="1"/>
<line x1="97" y1="24.4" x2="97" y2="128.1" stroke="#7c7c7c" stroke-width="1"/>
<line x1="39" y1="80.5" x2="163.6" y2="80.5" stroke="#7c7c7c" stroke-width="1"/>
<line x1="39" y1="88.5" x2="163.6" y2="88.5" stroke="#7c7c7c" stroke-width="1"/>
<line x1="39" y1="128.1" x2="163.6" y2="24.4" stroke="#c23b36" stroke-width="1.2"/>
<line x1="93.9" y1="69" x2="98.6" y2="78.6" stroke="#111" stroke-width="1.0"/>
<line x1="87.1" y1="76.2" x2="98.6" y2="78.6" stroke="#111" stroke-width="1.0"/>
<line x1="110.7" y1="88" x2="98.6" y2="78.6" stroke="#111" stroke-width="1.0"/>
<line x1="91.5" y1="82.5" x2="98.6" y2="78.6" stroke="#111" stroke-width="1.0"/>
<g class="r90" fill="#111" fill-opacity="1"><circle cx="104.4" cy="77.2"/><circle cx="98.6" cy="78.6"/><circle cx="45.3" cy="89.0"/></g>
<line x1="104.4" y1="77.2" x2="106.5" y2="69.5" stroke="#111" stroke-width="0.8"/>
<text x="83.2" y="70.2" font-size="4.7" fill="#1a1a1a" textLength="10.2" lengthAdjust="spacingAndGlyphs" stroke="#1a1a1a" stroke-width="0.15">CD68</text>
<text x="103.2" y="68.7" font-size="4.7" fill="#1a1a1a" textLength="14.2" lengthAdjust="spacingAndGlyphs" stroke="#1a1a1a" stroke-width="0.15">SLC7A3</text>
<text x="88.6" y="76" font-size="4.7" fill="#1a1a1a" textLength="7.7" lengthAdjust="spacingAndGlyphs" stroke="#1a1a1a" stroke-width="0.15">MLKL</text>
<text x="106.8" y="76.4" font-size="4.7" fill="#1a1a1a" textLength="10.2" lengthAdjust="spacingAndGlyphs" stroke="#1a1a1a" stroke-width="0.15">ODC1</text>
<text x="72.5" y="77.4" font-size="4.7" fill="#1a1a1a" textLength="12.7" lengthAdjust="spacingAndGlyphs" stroke="#1a1a1a" stroke-width="0.15">P2RX7</text>
<text x="104" y="84.1" font-size="4.7" fill="#1a1a1a" textLength="13.4" lengthAdjust="spacingAndGlyphs" stroke="#1a1a1a" stroke-width="0.15">CCR2</text>
<text x="90.5" y="90.1" font-size="4.7" fill="#1a1a1a" textLength="12.5" lengthAdjust="spacingAndGlyphs" stroke="#1a1a1a" stroke-width="0.15">LAMB2</text>
<text x="112.1" y="90.1" font-size="4.7" fill="#1a1a1a" textLength="10.1" lengthAdjust="spacingAndGlyphs" stroke="#1a1a1a" stroke-width="0.15">ODC1</text>
<text x="46.8" y="90.8" font-size="4.7" fill="#1a1a1a" textLength="11.2" lengthAdjust="spacingAndGlyphs" stroke="#1a1a1a" stroke-width="0.15">CD48</text>
<rect x="39" y="24.4" width="124.6" height="103.7" fill="none" stroke="#1c1c1c" stroke-width="1.15"/>
<line x1="44.95" y1="128.1" x2="44.95" y2="131.1" stroke="#1c1c1c" stroke-width="0.9"/>
<text x="44.95" y="140.9" font-size="7.7" fill="#2b2b2b" text-anchor="middle" stroke="#2b2b2b" stroke-width="0.18">−5.0</text>
<line x1="68.5" y1="128.1" x2="68.5" y2="131.1" stroke="#1c1c1c" stroke-width="0.9"/>
<text x="68.5" y="140.9" font-size="7.7" fill="#2b2b2b" text-anchor="middle" stroke="#2b2b2b" stroke-width="0.18">−2.5</text>
<line x1="92.05" y1="128.1" x2="92.05" y2="131.1" stroke="#1c1c1c" stroke-width="0.9"/>
<text x="92.05" y="140.9" font-size="7.7" fill="#2b2b2b" text-anchor="middle" stroke="#2b2b2b" stroke-width="0.18">0.0</text>
<line x1="115.6" y1="128.1" x2="115.6" y2="131.1" stroke="#1c1c1c" stroke-width="0.9"/>
<text x="115.6" y="140.9" font-size="7.7" fill="#2b2b2b" text-anchor="middle" stroke="#2b2b2b" stroke-width="0.18">2.5</text>
<line x1="139.15" y1="128.1" x2="139.15" y2="131.1" stroke="#1c1c1c" stroke-width="0.9"/>
<text x="139.15" y="140.9" font-size="7.7" fill="#2b2b2b" text-anchor="middle" stroke="#2b2b2b" stroke-width="0.18">5.0</text>
<line x1="162.7" y1="128.1" x2="162.7" y2="131.1" stroke="#1c1c1c" stroke-width="0.9"/>
<text x="162.7" y="140.9" font-size="7.7" fill="#2b2b2b" text-anchor="middle" stroke="#2b2b2b" stroke-width="0.18">7.5</text>
<line x1="36.2" y1="24.4" x2="39" y2="24.4" stroke="#1c1c1c" stroke-width="0.9"/>
<text x="33.8" y="27.15" font-size="7.7" fill="#2b2b2b" text-anchor="end" stroke="#2b2b2b" stroke-width="0.18">7.5</text>
<line x1="36.2" y1="44.4" x2="39" y2="44.4" stroke="#1c1c1c" stroke-width="0.9"/>
<text x="33.8" y="47.15" font-size="7.7" fill="#2b2b2b" text-anchor="end" stroke="#2b2b2b" stroke-width="0.18">5.0</text>
<line x1="36.2" y1="64.4" x2="39" y2="64.4" stroke="#1c1c1c" stroke-width="0.9"/>
<text x="33.8" y="67.15" font-size="7.7" fill="#2b2b2b" text-anchor="end" stroke="#2b2b2b" stroke-width="0.18">2.5</text>
<line x1="36.2" y1="84.4" x2="39" y2="84.4" stroke="#1c1c1c" stroke-width="0.9"/>
<text x="33.8" y="87.15" font-size="7.7" fill="#2b2b2b" text-anchor="end" stroke="#2b2b2b" stroke-width="0.18">0.0</text>
<line x1="36.2" y1="104.4" x2="39" y2="104.4" stroke="#1c1c1c" stroke-width="0.9"/>
<text x="33.8" y="107.15" font-size="7.7" fill="#2b2b2b" text-anchor="end" stroke="#2b2b2b" stroke-width="0.18">−2.5</text>
<line x1="36.2" y1="124.4" x2="39" y2="124.4" stroke="#1c1c1c" stroke-width="0.9"/>
<text x="33.8" y="127.15" font-size="7.7" fill="#2b2b2b" text-anchor="end" stroke="#2b2b2b" stroke-width="0.18">−5.0</text>
<text x="44.3" y="34.6" font-size="7.6" fill="#1c1c1c">ATRA</text>
<text x="101.3" y="153.5" font-size="8.8" fill="#2b2b2b" text-anchor="middle" textLength="42" lengthAdjust="spacingAndGlyphs" stroke="#2b2b2b" stroke-width="0.3">Log2FC protein</text>
<text x="15.4" y="76.4" font-size="8.4" fill="#2b2b2b" text-anchor="middle" textLength="34.6" lengthAdjust="spacingAndGlyphs" transform="rotate(-90 15.4 76.4)" stroke="#2b2b2b" stroke-width="0.3">Log2FC RNA</text>
<line x1="234.75" y1="24.4" x2="234.75" y2="128.1" stroke="#f4f4f4" stroke-width="0.7"/>
<line x1="258.42" y1="24.4" x2="258.42" y2="128.1" stroke="#f4f4f4" stroke-width="0.7"/>
<line x1="282.1" y1="24.4" x2="282.1" y2="128.1" stroke="#f4f4f4" stroke-width="0.7"/>
<line x1="305.77" y1="24.4" x2="305.77" y2="128.1" stroke="#f4f4f4" stroke-width="0.7"/>
<line x1="329.45" y1="24.4" x2="329.45" y2="128.1" stroke="#f4f4f4" stroke-width="0.7"/>
<line x1="217.5" y1="34.4" x2="341.6" y2="34.4" stroke="#f4f4f4" stroke-width="0.7"/>
<line x1="217.5" y1="54.4" x2="341.6" y2="54.4" stroke="#f4f4f4" stroke-width="0.7"/>
<line x1="217.5" y1="74.4" x2="341.6" y2="74.4" stroke="#f4f4f4" stroke-width="0.7"/>
<line x1="217.5" y1="94.4" x2="341.6" y2="94.4" stroke="#f4f4f4" stroke-width="0.7"/>
<line x1="217.5" y1="114.4" x2="341.6" y2="114.4" stroke="#f4f4f4" stroke-width="0.7"/>
<line x1="222.91" y1="24.4" x2="222.91" y2="128.1" stroke="#eeeeee" stroke-width="0.8"/>
<line x1="246.58" y1="24.4" x2="246.58" y2="128.1" stroke="#eeeeee" stroke-width="0.8"/>
<line x1="270.26" y1="24.4" x2="270.26" y2="128.1" stroke="#eeeeee" stroke-width="0.8"/>
<line x1="293.94" y1="24.4" x2="293.94" y2="128.1" stroke="#eeeeee" stroke-width="0.8"/>
<line x1="317.61" y1="24.4" x2="317.61" y2="128.1" stroke="#eeeeee" stroke-width="0.8"/>
<line x1="217.5" y1="44.4" x2="341.6" y2="44.4" stroke="#eeeeee" stroke-width="0.8"/>
<line x1="217.5" y1="64.4" x2="341.6" y2="64.4" stroke="#eeeeee" stroke-width="0.8"/>
<line x1="217.5" y1="84.4" x2="341.6" y2="84.4" stroke="#eeeeee" stroke-width="0.8"/>
<line x1="217.5" y1="104.4" x2="341.6" y2="104.4" stroke="#eeeeee" stroke-width="0.8"/>
<line x1="217.5" y1="124.4" x2="341.6" y2="124.4" stroke="#eeeeee" stroke-width="0.8"/>
<g class="r100" fill="#222" fill-opacity="0.06"><circle cx="238.4" cy="76.4"/><circle cx="286.1" cy="76.6"/><circle cx="276.3" cy="83.5"/><circle cx="266.9" cy="82.0"/><circle cx="305.7" cy="85.7"/><circle cx="276.1" cy="85.8"/><circle cx="262.7" cy="80.5"/><circle cx="275.5" cy="84.3"/><circle cx="258.4" cy="76.3"/><circle cx="262.6" cy="90.5"/><circle cx="279.8" cy="86.3"/><circle cx="265.7" cy="81.0"/><circle cx="267.2" cy="77.4"/><circle cx="299.0" cy="83.2"/><circle cx="286.9" cy="74.7"/><circle cx="286.0" cy="78.8"/><circle cx="281.9" cy="84.6"/><circle cx="281.3" cy="82.1"/><circle cx="295.8" cy="79.9"/><circle cx="273.7" cy="85.4"/><circle cx="301.8" cy="77.9"/><circle cx="259.7" cy="82.9"/><circle cx="270.2" cy="79.9"/><circle cx="253.3" cy="78.6"/><circle cx="268.8" cy="83.6"/><circle cx="281.8" cy="78.0"/><circle cx="295.8" cy="89.0"/><circle cx="264.1" cy="79.6"/><circle cx="274.1" cy="89.4"/><circle cx="268.6" cy="77.6"/><circle cx="262.9" cy="84.1"/><circle cx="256.2" cy="77.2"/><circle cx="274.9" cy="76.7"/><circle cx="248.0" cy="82.4"/><circle cx="275.7" cy="84.4"/><circle cx="274.3" cy="77.0"/><circle cx="264.1" cy="86.3"/><circle cx="258.8" cy="78.8"/><circle cx="253.2" cy="82.3"/><circle cx="302.1" cy="83.2"/><circle cx="253.9" cy="84.1"/><circle cx="297.4" cy="75.0"/><circle cx="283.0" cy="88.0"/><circle cx="268.5" cy="83.9"/><circle cx="256.6" cy="80.2"/><circle cx="289.6" cy="77.9"/><circle cx="299.9" cy="75.4"/><circle cx="260.0" cy="76.6"/><circle cx="269.5" cy="83.9"/><circle cx="289.8" cy="80.5"/><circle cx="279.0" cy="77.5"/><circle cx="304.0" cy="79.8"/><circle cx="265.4" cy="87.7"/><circle cx="282.1" cy="80.5"/><circle cx="255.2" cy="79.6"/><circle cx="305.4" cy="86.9"/><circle cx="263.0" cy="83.6"/><circle cx="240.9" cy="82.0"/><circle cx="272.1" cy="79.5"/><circle cx="271.9" cy="75.9"/><circle cx="302.7" cy="77.4"/><circle cx="268.9" cy="80.0"/><circle cx="273.8" cy="81.0"/><circle cx="282.9" cy="83.2"/><circle cx="297.8" cy="83.9"/><circle cx="273.1" cy="82.6"/><circle cx="289.6" cy="82.6"/><circle cx="281.8" cy="78.0"/><circle cx="269.6" cy="73.6"/><circle cx="275.2" cy="79.8"/><circle cx="274.4" cy="78.2"/><circle cx="260.3" cy="79.3"/><circle cx="292.2" cy="80.8"/><circle cx="253.2" cy="77.1"/><circle cx="291.6" cy="77.6"/><circle cx="288.3" cy="81.4"/><circle cx="272.6" cy="82.2"/><circle cx="262.5" cy="79.3"/><circle cx="270.6" cy="83.7"/><circle cx="281.1" cy="81.0"/><circle cx="285.1" cy="77.9"/><circle cx="278.3" cy="82.0"/><circle cx="288.9" cy="89.0"/><circle cx="265.6" cy="79.2"/><circle cx="277.5" cy="86.2"/><circle cx="250.5" cy="87.0"/><circle cx="285.5" cy="87.5"/><circle cx="276.3" cy="78.7"/><circle cx="267.8" cy="89.5"/><circle cx="291.4" cy="82.2"/><circle cx="284.4" cy="80.8"/><circle cx="231.8" cy="80.9"/><circle cx="274.6" cy="84.1"/><circle cx="252.2" cy="82.0"/><circle cx="290.0" cy="81.1"/><circle cx="311.3" cy="86.7"/><circle cx="266.2" cy="79.1"/><circle cx="275.1" cy="77.8"/><circle cx="270.2" cy="84.8"/><circle cx="279.3" cy="84.5"/><circle cx="283.7" cy="86.0"/><circle cx="293.3" cy="77.7"/><circle cx="259.2" cy="85.9"/><circle cx="297.6" cy="83.6"/><circle cx="260.0" cy="88.5"/><circle cx="278.2" cy="77.1"/><circle cx="291.4" cy="82.6"/><circle cx="284.7" cy="80.7"/><circle cx="259.9" cy="75.8"/><circle cx="263.5" cy="79.1"/><circle cx="267.1" cy="86.1"/><circle cx="273.2" cy="80.0"/><circle cx="291.2" cy="79.1"/><circle cx="254.6" cy="85.1"/><circle cx="281.0" cy="85.6"/><circle cx="283.1" cy="85.5"/><circle cx="282.4" cy="78.8"/><circle cx="281.0" cy="81.6"/><circle cx="296.8" cy="85.7"/><circle cx="281.3" cy="79.3"/><circle cx="286.9" cy="79.0"/><circle cx="282.5" cy="84.9"/><circle cx="300.9" cy="87.7"/><circle cx="245.5" cy="77.4"/><circle cx="293.2" cy="71.9"/><circle cx="270.1" cy="76.3"/><circle cx="269.8" cy="78.0"/><circle cx="259.5" cy="81.3"/><circle cx="246.0" cy="84.1"/><circle cx="268.3" cy="81.2"/><circle cx="263.7" cy="79.1"/><circle cx="281.4" cy="82.4"/><circle cx="251.9" cy="78.1"/><circle cx="295.5" cy="81.6"/><circle cx="278.1" cy="79.4"/><circle cx="270.3" cy="92.0"/><circle cx="263.4" cy="84.9"/><circle cx="262.2" cy="78.6"/><circle cx="257.0" cy="78.0"/><circle cx="265.8" cy="80.1"/><circle cx="274.1" cy="75.5"/><circle cx="271.3" cy="79.0"/><circle cx="252.8" cy="79.0"/><circle cx="270.0" cy="85.2"/><circle cx="260.6" cy="80.2"/><circle cx="276.4" cy="78.8"/><circle cx="302.0" cy="76.7"/><circle cx="283.4" cy="77.3"/><circle cx="269.3" cy="81.5"/><circle cx="249.6" cy="81.0"/><circle cx="252.8" cy="86.1"/><circle cx="248.7" cy="79.4"/><circle cx="284.9" cy="85.8"/><circle cx="262.5" cy="82.8"/><circle cx="274.9" cy="81.8"/><circle cx="264.7" cy="74.2"/><circle cx="275.4" cy="76.9"/><circle cx="295.0" cy="84.6"/><circle cx="263.7" cy="87.1"/><circle cx="268.9" cy="82.6"/><circle cx="261.9" cy="84.7"/><circle cx="287.1" cy="80.3"/><circle cx="258.6" cy="80.4"/><circle cx="257.0" cy="79.3"/><circle cx="253.2" cy="85.5"/><circle cx="252.9" cy="83.1"/><circle cx="281.1" cy="80.9"/><circle cx="312.5" cy="80.6"/><circle cx="259.1" cy="83.9"/><circle cx="288.3" cy="83.0"/><circle cx="277.8" cy="78.6"/><circle cx="257.5" cy="88.3"/><circle cx="269.8" cy="82.8"/><circle cx="270.5" cy="81.8"/><circle cx="263.6" cy="87.4"/><circle cx="303.0" cy="85.7"/><circle cx="245.4" cy="81.5"/><circle cx="279.7" cy="83.8"/><circle cx="279.0" cy="77.7"/><circle cx="265.3" cy="79.4"/><circle cx="276.2" cy="73.2"/><circle cx="287.2" cy="86.4"/><circle cx="276.3" cy="74.6"/><circle cx="280.3" cy="84.4"/><circle cx="284.4" cy="78.6"/><circle cx="243.5" cy="78.1"/><circle cx="296.2" cy="81.1"/><circle cx="308.2" cy="82.8"/><circle cx="288.7" cy="84.1"/><circle cx="289.2" cy="88.5"/><circle cx="252.9" cy="83.2"/><circle cx="272.2" cy="85.1"/><circle cx="261.8" cy="79.5"/><circle cx="265.2" cy="84.5"/><circle cx="288.5" cy="82.4"/><circle cx="261.9" cy="80.0"/><circle cx="272.0" cy="81.4"/><circle cx="245.4" cy="81.6"/><circle cx="271.6" cy="82.5"/><circle cx="275.4" cy="83.3"/><circle cx="263.4" cy="79.9"/><circle cx="263.2" cy="79.0"/><circle cx="302.3" cy="84.6"/><circle cx="255.9" cy="75.4"/><circle cx="258.2" cy="79.5"/><circle cx="261.9" cy="87.7"/><circle cx="292.0" cy="71.5"/><circle cx="305.5" cy="79.2"/><circle cx="279.0" cy="84.4"/><circle cx="263.2" cy="75.5"/><circle cx="267.6" cy="91.7"/><circle cx="290.0" cy="72.0"/><circle cx="260.3" cy="87.3"/><circle cx="295.8" cy="87.7"/><circle cx="295.2" cy="85.3"/><circle cx="275.1" cy="81.0"/><circle cx="283.7" cy="83.2"/><circle cx="285.2" cy="78.4"/><circle cx="297.3" cy="84.9"/><circle cx="258.2" cy="77.5"/><circle cx="291.7" cy="80.8"/><circle cx="268.4" cy="85.6"/><circle cx="262.5" cy="77.6"/><circle cx="275.5" cy="80.4"/><circle cx="270.8" cy="82.4"/><circle cx="259.2" cy="76.7"/><circle cx="250.0" cy="86.2"/><circle cx="259.9" cy="83.1"/><circle cx="295.8" cy="76.0"/><circle cx="303.4" cy="81.6"/><circle cx="283.8" cy="78.9"/><circle cx="291.8" cy="79.3"/><circle cx="266.2" cy="82.1"/><circle cx="272.8" cy="79.1"/><circle cx="278.2" cy="85.5"/><circle cx="257.8" cy="79.1"/><circle cx="259.2" cy="85.5"/><circle cx="275.5" cy="81.6"/><circle cx="269.2" cy="85.1"/><circle cx="258.0" cy="79.7"/><circle cx="279.8" cy="79.9"/><circle cx="270.1" cy="77.4"/><circle cx="289.3" cy="84.0"/><circle cx="273.9" cy="85.4"/><circle cx="269.5" cy="89.9"/><circle cx="275.9" cy="86.7"/><circle cx="271.4" cy="82.7"/><circle cx="264.0" cy="81.0"/><circle cx="268.0" cy="83.3"/><circle cx="285.2" cy="81.7"/><circle cx="283.7" cy="87.4"/><circle cx="293.3" cy="85.4"/><circle cx="248.6" cy="78.6"/><circle cx="268.1" cy="79.2"/><circle cx="267.8" cy="87.0"/><circle cx="276.6" cy="83.0"/><circle cx="267.2" cy="80.9"/><circle cx="266.3" cy="86.3"/><circle cx="285.7" cy="80.3"/><circle cx="276.7" cy="80.7"/><circle cx="256.5" cy="80.0"/><circle cx="294.0" cy="74.3"/><circle cx="289.0" cy="85.1"/><circle cx="265.4" cy="77.2"/><circle cx="286.5" cy="79.6"/><circle cx="263.0" cy="79.0"/><circle cx="290.9" cy="84.6"/><circle cx="270.7" cy="81.5"/><circle cx="262.0" cy="81.9"/><circle cx="268.4" cy="75.4"/><circle cx="262.5" cy="81.5"/><circle cx="276.9" cy="76.2"/><circle cx="276.6" cy="83.0"/><circle cx="274.5" cy="83.2"/><circle cx="265.7" cy="81.7"/><circle cx="219.1" cy="89.6"/><circle cx="275.4" cy="83.8"/><circle cx="245.6" cy="84.1"/><circle cx="277.7" cy="82.3"/><circle cx="291.0" cy="81.1"/><circle cx="278.1" cy="85.5"/><circle cx="268.2" cy="86.0"/><circle cx="271.3" cy="76.9"/><circle cx="272.0" cy="85.8"/><circle cx="265.8" cy="83.8"/><circle cx="265.2" cy="85.5"/><circle cx="260.1" cy="83.6"/><circle cx="291.8" cy="77.1"/><circle cx="273.8" cy="77.3"/><circle cx="288.3" cy="88.7"/><circle cx="270.2" cy="82.8"/><circle cx="275.1" cy="76.4"/><circle cx="271.4" cy="83.1"/><circle cx="280.9" cy="80.4"/><circle cx="286.4" cy="74.8"/><circle cx="277.6" cy="73.1"/><circle cx="263.9" cy="75.7"/><circle cx="262.3" cy="82.8"/><circle cx="298.9" cy="81.6"/><circle cx="269.8" cy="80.9"/><circle cx="269.6" cy="82.9"/><circle cx="296.0" cy="84.1"/><circle cx="290.3" cy="73.8"/><circle cx="282.0" cy="80.7"/><circle cx="268.0" cy="78.7"/><circle cx="309.3" cy="77.1"/><circle cx="279.9" cy="79.7"/><circle cx="282.2" cy="81.3"/><circle cx="271.4" cy="80.8"/><circle cx="252.8" cy="76.3"/><circle cx="254.0" cy="80.0"/><circle cx="280.1" cy="89.5"/><circle cx="279.9" cy="77.8"/><circle cx="270.4" cy="75.4"/><circle cx="256.4" cy="82.8"/><circle cx="252.4" cy="84.1"/><circle cx="269.1" cy="83.6"/><circle cx="252.2" cy="77.5"/><circle cx="287.5" cy="85.6"/><circle cx="291.3" cy="78.8"/><circle cx="316.4" cy="77.5"/><circle cx="287.2" cy="79.5"/><circle cx="265.1" cy="81.4"/><circle cx="260.9" cy="84.5"/><circle cx="222.2" cy="84.2"/><circle cx="265.1" cy="81.7"/><circle cx="271.3" cy="85.3"/><circle cx="288.5" cy="82.1"/><circle cx="283.2" cy="85.2"/><circle cx="282.8" cy="76.5"/><circle cx="277.2" cy="75.8"/><circle cx="283.9" cy="84.7"/><circle cx="295.7" cy="76.5"/><circle cx="258.0" cy="80.7"/><circle cx="267.1" cy="81.4"/><circle cx="253.2" cy="79.9"/><circle cx="298.3" cy="80.1"/><circle cx="293.5" cy="87.1"/><circle cx="285.3" cy="72.2"/><circle cx="256.0" cy="85.2"/><circle cx="276.6" cy="90.5"/><circle cx="270.5" cy="81.9"/><circle cx="275.2" cy="81.7"/><circle cx="271.2" cy="84.6"/><circle cx="281.8" cy="88.7"/><circle cx="268.1" cy="77.3"/><circle cx="286.8" cy="82.1"/><circle cx="277.6" cy="81.1"/><circle cx="269.6" cy="83.9"/><circle cx="272.3" cy="82.4"/><circle cx="267.4" cy="84.3"/><circle cx="286.2" cy="80.2"/><circle cx="269.9" cy="82.0"/><circle cx="278.4" cy="79.3"/><circle cx="268.1" cy="79.3"/><circle cx="251.7" cy="81.3"/><circle cx="287.6" cy="81.3"/><circle cx="258.1" cy="77.3"/><circle cx="284.2" cy="87.8"/><circle cx="280.3" cy="81.3"/><circle cx="249.2" cy="76.5"/><circle cx="259.8" cy="86.0"/><circle cx="266.3" cy="79.0"/><circle cx="261.7" cy="83.7"/><circle cx="256.3" cy="81.7"/><circle cx="285.1" cy="82.8"/><circle cx="270.4" cy="82.4"/><circle cx="279.8" cy="79.6"/><circle cx="267.5" cy="82.0"/><circle cx="278.6" cy="89.5"/><circle cx="262.7" cy="73.3"/><circle cx="273.6" cy="82.1"/><circle cx="282.7" cy="83.5"/><circle cx="274.7" cy="77.8"/><circle cx="267.1" cy="76.6"/><circle cx="257.7" cy="90.0"/><circle cx="276.5" cy="80.4"/><circle cx="279.2" cy="89.7"/><circle cx="270.1" cy="83.8"/><circle cx="262.5" cy="82.1"/><circle cx="282.1" cy="83.6"/><circle cx="311.2" cy="84.2"/><circle cx="269.5" cy="86.3"/><circle cx="279.1" cy="83.5"/><circle cx="279.7" cy="82.3"/><circle cx="235.5" cy="82.5"/><circle cx="275.9" cy="86.9"/><circle cx="263.4" cy="84.9"/><circle cx="294.8" cy="78.0"/><circle cx="270.2" cy="79.4"/><circle cx="262.3" cy="83.1"/><circle cx="270.7" cy="79.4"/><circle cx="276.5" cy="80.4"/><circle cx="265.6" cy="78.2"/><circle cx="273.2" cy="80.8"/><circle cx="253.7" cy="83.4"/><circle cx="270.6" cy="85.6"/><circle cx="285.6" cy="81.8"/><circle cx="303.5" cy="89.7"/><circle cx="284.6" cy="81.5"/><circle cx="278.1" cy="93.9"/><circle cx="291.8" cy="85.6"/><circle cx="289.3" cy="83.7"/><circle cx="299.0" cy="79.9"/><circle cx="290.2" cy="71.1"/><circle cx="272.2" cy="81.2"/><circle cx="277.9" cy="82.5"/><circle cx="276.7" cy="89.1"/><circle cx="278.5" cy="76.6"/><circle cx="277.0" cy="89.0"/><circle cx="262.3" cy="80.8"/><circle cx="242.4" cy="84.6"/><circle cx="263.9" cy="72.1"/><circle cx="243.6" cy="82.3"/><circle cx="275.0" cy="80.5"/><circle cx="274.1" cy="84.4"/><circle cx="248.9" cy="82.1"/><circle cx="284.3" cy="77.5"/><circle cx="287.0" cy="85.4"/><circle cx="275.4" cy="84.4"/><circle cx="299.0" cy="84.1"/><circle cx="302.1" cy="85.6"/><circle cx="255.9" cy="86.0"/><circle cx="289.6" cy="81.7"/><circle cx="280.6" cy="76.6"/><circle cx="280.3" cy="76.5"/><circle cx="288.0" cy="86.9"/><circle cx="263.2" cy="84.5"/><circle cx="265.1" cy="82.2"/><circle cx="261.6" cy="80.1"/><circle cx="262.7" cy="81.9"/><circle cx="272.5" cy="81.9"/><circle cx="252.2" cy="80.5"/><circle cx="258.3" cy="79.1"/><circle cx="282.7" cy="90.0"/><circle cx="272.9" cy="82.7"/><circle cx="279.7" cy="79.5"/><circle cx="245.7" cy="76.9"/><circle cx="262.2" cy="79.0"/><circle cx="265.7" cy="84.5"/><circle cx="274.5" cy="84.7"/><circle cx="265.2" cy="81.0"/><circle cx="288.0" cy="82.0"/><circle cx="273.1" cy="80.6"/><circle cx="274.3" cy="77.6"/><circle cx="274.2" cy="86.7"/><circle cx="284.6" cy="83.2"/><circle cx="266.9" cy="91.2"/><circle cx="290.8" cy="78.9"/><circle cx="280.9" cy="81.3"/><circle cx="276.3" cy="85.2"/><circle cx="274.6" cy="80.9"/><circle cx="281.8" cy="76.5"/><circle cx="289.2" cy="78.2"/><circle cx="288.2" cy="82.2"/><circle cx="279.6" cy="83.1"/><circle cx="287.2" cy="81.4"/><circle cx="275.8" cy="85.6"/><circle cx="292.8" cy="85.6"/><circle cx="273.6" cy="83.0"/><circle cx="242.9" cy="81.9"/><circle cx="294.1" cy="80.8"/><circle cx="275.6" cy="83.9"/><circle cx="256.4" cy="85.3"/><circle cx="271.0" cy="82.0"/><circle cx="260.7" cy="83.5"/><circle cx="305.5" cy="80.6"/><circle cx="281.5" cy="76.4"/><circle cx="250.5" cy="78.0"/><circle cx="282.2" cy="84.7"/><circle cx="268.0" cy="83.5"/><circle cx="302.8" cy="87.8"/><circle cx="258.2" cy="82.0"/><circle cx="240.3" cy="85.1"/><circle cx="275.0" cy="86.8"/><circle cx="268.8" cy="85.6"/><circle cx="267.8" cy="79.5"/><circle cx="241.9" cy="81.1"/><circle cx="280.4" cy="82.3"/><circle cx="299.1" cy="78.1"/><circle cx="245.4" cy="83.6"/><circle cx="291.6" cy="85.7"/><circle cx="265.5" cy="80.0"/><circle cx="309.2" cy="89.3"/><circle cx="280.5" cy="80.7"/><circle cx="271.2" cy="81.0"/><circle cx="290.6" cy="80.9"/><circle cx="281.9" cy="79.1"/><circle cx="265.1" cy="83.4"/><circle cx="284.7" cy="81.9"/><circle cx="266.3" cy="88.1"/><circle cx="247.2" cy="84.1"/><circle cx="304.5" cy="83.8"/><circle cx="268.8" cy="81.0"/><circle cx="264.9" cy="76.4"/><circle cx="279.1" cy="81.5"/><circle cx="250.6" cy="78.6"/><circle cx="253.7" cy="85.4"/><circle cx="266.5" cy="81.7"/><circle cx="266.2" cy="88.1"/><circle cx="275.1" cy="84.6"/><circle cx="290.8" cy="85.0"/><circle cx="266.9" cy="82.7"/><circle cx="281.4" cy="82.6"/><circle cx="283.0" cy="84.3"/><circle cx="257.7" cy="85.3"/><circle cx="277.4" cy="79.1"/><circle cx="259.9" cy="83.7"/><circle cx="290.0" cy="91.8"/><circle cx="280.8" cy="81.5"/><circle cx="274.2" cy="80.8"/><circle cx="253.9" cy="79.2"/><circle cx="275.7" cy="76.3"/><circle cx="262.5" cy="86.3"/><circle cx="284.6" cy="82.0"/><circle cx="272.2" cy="82.9"/><circle cx="261.8" cy="88.8"/><circle cx="287.9" cy="91.3"/><circle cx="284.8" cy="78.4"/><circle cx="265.1" cy="85.8"/><circle cx="291.4" cy="84.2"/><circle cx="269.5" cy="83.3"/><circle cx="269.4" cy="83.6"/><circle cx="275.9" cy="81.7"/><circle cx="262.7" cy="87.8"/><circle cx="267.4" cy="84.1"/><circle cx="271.6" cy="83.1"/><circle cx="297.0" cy="86.5"/><circle cx="296.5" cy="85.2"/><circle cx="270.1" cy="83.6"/><circle cx="298.2" cy="83.1"/><circle cx="273.4" cy="88.5"/><circle cx="279.7" cy="83.7"/><circle cx="287.3" cy="81.5"/><circle cx="278.4" cy="78.6"/><circle cx="310.2" cy="80.5"/><circle cx="277.7" cy="77.8"/><circle cx="256.0" cy="82.2"/><circle cx="293.6" cy="82.8"/><circle cx="267.8" cy="74.0"/><circle cx="269.4" cy="81.9"/><circle cx="229.1" cy="84.3"/><circle cx="289.0" cy="82.4"/><circle cx="286.3" cy="78.2"/><circle cx="286.0" cy="86.6"/><circle cx="288.7" cy="79.2"/><circle cx="299.4" cy="77.1"/><circle cx="273.3" cy="77.7"/><circle cx="288.1" cy="81.8"/><circle cx="262.8" cy="85.5"/><circle cx="268.7" cy="86.2"/><circle cx="289.9" cy="82.6"/><circle cx="279.9" cy="77.3"/><circle cx="254.0" cy="79.3"/><circle cx="279.4" cy="78.4"/><circle cx="271.3" cy="81.1"/><circle cx="261.7" cy="75.1"/><circle cx="280.5" cy="82.2"/><circle cx="267.9" cy="84.3"/><circle cx="250.4" cy="81.2"/><circle cx="257.3" cy="83.6"/><circle cx="300.5" cy="78.2"/><circle cx="251.3" cy="76.3"/><circle cx="277.3" cy="79.4"/><circle cx="283.2" cy="86.2"/><circle cx="283.6" cy="85.7"/><circle cx="255.6" cy="80.1"/><circle cx="269.2" cy="86.4"/><circle cx="276.1" cy="80.6"/><circle cx="286.0" cy="87.5"/><circle cx="264.3" cy="83.6"/><circle cx="256.5" cy="80.1"/><circle cx="289.0" cy="84.8"/><circle cx="290.6" cy="78.9"/><circle cx="279.6" cy="78.2"/><circle cx="264.9" cy="76.3"/><circle cx="280.1" cy="82.8"/><circle cx="275.6" cy="81.6"/><circle cx="286.6" cy="81.5"/><circle cx="255.3" cy="80.2"/><circle cx="275.7" cy="87.3"/><circle cx="271.6" cy="80.2"/><circle cx="257.4" cy="79.1"/><circle cx="277.2" cy="86.5"/><circle cx="274.5" cy="87.2"/><circle cx="267.8" cy="83.1"/><circle cx="279.9" cy="75.2"/><circle cx="252.7" cy="79.5"/><circle cx="273.2" cy="84.1"/><circle cx="280.5" cy="81.9"/><circle cx="278.3" cy="87.7"/><circle cx="290.1" cy="76.6"/><circle cx="256.0" cy="84.4"/><circle cx="251.4" cy="79.4"/><circle cx="277.6" cy="86.8"/><circle cx="280.8" cy="81.5"/><circle cx="305.8" cy="85.7"/><circle cx="283.2" cy="79.3"/><circle cx="260.9" cy="76.4"/><circle cx="286.1" cy="77.6"/><circle cx="261.3" cy="79.5"/><circle cx="251.7" cy="77.9"/><circle cx="313.1" cy="86.4"/><circle cx="278.9" cy="86.9"/><circle cx="284.7" cy="82.8"/><circle cx="282.5" cy="77.9"/><circle cx="301.2" cy="81.4"/><circle cx="278.3" cy="79.2"/><circle cx="292.3" cy="87.3"/><circle cx="258.6" cy="83.0"/><circle cx="253.1" cy="83.7"/><circle cx="295.4" cy="80.3"/><circle cx="296.1" cy="74.2"/><circle cx="281.7" cy="78.9"/><circle cx="277.4" cy="77.6"/><circle cx="276.5" cy="83.2"/><circle cx="263.7" cy="82.2"/><circle cx="297.1" cy="78.8"/><circle cx="283.9" cy="80.3"/><circle cx="281.6" cy="87.8"/><circle cx="279.6" cy="78.2"/><circle cx="289.7" cy="78.3"/><circle cx="281.6" cy="80.9"/><circle cx="285.2" cy="79.1"/><circle cx="256.5" cy="80.2"/><circle cx="281.7" cy="83.8"/><circle cx="306.8" cy="88.4"/><circle cx="266.2" cy="75.0"/><circle cx="272.1" cy="81.7"/><circle cx="287.4" cy="82.0"/><circle cx="288.4" cy="81.5"/><circle cx="283.4" cy="81.1"/><circle cx="249.7" cy="80.5"/><circle cx="281.5" cy="85.6"/><circle cx="256.2" cy="80.0"/><circle cx="261.6" cy="81.3"/><circle cx="282.2" cy="81.8"/><circle cx="269.6" cy="82.2"/><circle cx="286.1" cy="81.2"/><circle cx="321.2" cy="85.6"/><circle cx="285.7" cy="81.8"/><circle cx="284.8" cy="82.5"/><circle cx="260.6" cy="81.6"/><circle cx="264.4" cy="78.0"/><circle cx="258.0" cy="78.6"/><circle cx="266.0" cy="77.8"/><circle cx="257.6" cy="82.5"/><circle cx="264.1" cy="79.1"/><circle cx="270.9" cy="77.8"/><circle cx="259.0" cy="82.7"/></g>
<g class="r100" fill="#222" fill-opacity="0.065"><circle cx="280.2" cy="82.7"/><circle cx="261.9" cy="79.9"/><circle cx="289.5" cy="82.7"/><circle cx="276.3" cy="79.8"/><circle cx="275.2" cy="83.8"/><circle cx="284.5" cy="84.2"/><circle cx="276.6" cy="83.7"/><circle cx="271.2" cy="82.7"/><circle cx="293.6" cy="83.0"/><circle cx="267.4" cy="75.0"/><circle cx="275.2" cy="83.5"/><circle cx="282.8" cy="80.8"/><circle cx="267.4" cy="81.7"/><circle cx="275.2" cy="80.8"/><circle cx="279.1" cy="78.2"/><circle cx="295.2" cy="80.2"/><circle cx="268.9" cy="83.1"/><circle cx="275.6" cy="84.9"/><circle cx="281.3" cy="80.0"/><circle cx="276.6" cy="79.3"/><circle cx="266.4" cy="85.0"/><circle cx="279.3" cy="79.4"/><circle cx="276.9" cy="86.5"/><circle cx="279.6" cy="81.6"/><circle cx="285.1" cy="79.4"/><circle cx="284.1" cy="83.9"/><circle cx="279.3" cy="85.6"/><circle cx="278.5" cy="78.1"/><circle cx="267.2" cy="85.2"/><circle cx="274.9" cy="80.8"/><circle cx="277.8" cy="85.1"/><circle cx="272.8" cy="80.6"/><circle cx="276.8" cy="77.7"/><circle cx="269.4" cy="82.7"/><circle cx="288.3" cy="83.7"/><circle cx="293.2" cy="86.5"/><circle cx="272.9" cy="85.6"/><circle cx="279.2" cy="83.2"/><circle cx="274.1" cy="80.9"/><circle cx="286.1" cy="80.3"/><circle cx="279.5" cy="80.8"/><circle cx="276.6" cy="79.5"/><circle cx="274.2" cy="80.8"/><circle cx="277.0" cy="75.4"/><circle cx="268.0" cy="81.9"/><circle cx="281.4" cy="81.4"/><circle cx="270.3" cy="87.7"/><circle cx="280.3" cy="83.3"/><circle cx="277.0" cy="80.3"/><circle cx="284.8" cy="82.9"/><circle cx="275.9" cy="78.6"/><circle cx="284.2" cy="80.1"/><circle cx="268.6" cy="77.0"/><circle cx="280.9" cy="84.9"/><circle cx="274.2" cy="82.9"/><circle cx="277.6" cy="78.7"/><circle cx="276.6" cy="81.4"/><circle cx="283.5" cy="83.8"/><circle cx="259.8" cy="82.7"/><circle cx="278.6" cy="82.4"/><circle cx="264.0" cy="79.4"/><circle cx="285.7" cy="80.0"/><circle cx="260.2" cy="81.7"/><circle cx="268.0" cy="83.7"/><circle cx="262.6" cy="79.5"/><circle cx="289.1" cy="78.8"/><circle cx="265.7" cy="84.2"/><circle cx="276.9" cy="79.3"/><circle cx="271.7" cy="84.1"/><circle cx="261.6" cy="82.1"/><circle cx="273.3" cy="83.6"/><circle cx="281.3" cy="85.7"/><circle cx="274.5" cy="83.2"/><circle cx="283.5" cy="83.4"/><circle cx="273.1" cy="79.3"/><circle cx="276.1" cy="79.8"/><circle cx="272.9" cy="83.0"/><circle cx="278.7" cy="85.2"/><circle cx="291.2" cy="84.8"/><circle cx="278.9" cy="87.1"/><circle cx="277.6" cy="82.2"/><circle cx="271.1" cy="82.0"/><circle cx="270.0" cy="83.9"/><circle cx="287.7" cy="81.5"/><circle cx="267.1" cy="81.4"/><circle cx="268.7" cy="79.0"/><circle cx="275.2" cy="83.9"/><circle cx="272.6" cy="78.9"/><circle cx="291.6" cy="82.7"/><circle cx="257.1" cy="78.1"/><circle cx="278.9" cy="84.1"/><circle cx="281.7" cy="79.0"/><circle cx="267.0" cy="83.5"/><circle cx="270.8" cy="77.7"/><circle cx="279.5" cy="80.4"/><circle cx="289.0" cy="84.3"/><circle cx="268.6" cy="79.6"/><circle cx="263.4" cy="81.7"/><circle cx="283.8" cy="80.4"/><circle cx="288.2" cy="76.0"/><circle cx="273.3" cy="82.2"/><circle cx="258.3" cy="82.5"/><circle cx="287.6" cy="78.8"/><circle cx="274.4" cy="82.9"/><circle cx="285.0" cy="79.6"/><circle cx="275.7" cy="79.1"/><circle cx="273.0" cy="81.5"/><circle cx="272.4" cy="79.9"/><circle cx="287.8" cy="87.0"/><circle cx="287.5" cy="77.8"/><circle cx="258.9" cy="83.3"/><circle cx="268.5" cy="83.9"/><circle cx="290.2" cy="76.7"/><circle cx="273.1" cy="77.3"/><circle cx="265.1" cy="82.8"/><circle cx="276.0" cy="80.3"/><circle cx="275.1" cy="82.4"/><circle cx="275.2" cy="84.2"/><circle cx="272.2" cy="80.6"/><circle cx="273.5" cy="78.9"/><circle cx="272.4" cy="74.9"/><circle cx="278.7" cy="82.0"/><circle cx="269.5" cy="79.3"/><circle cx="273.7" cy="82.3"/><circle cx="274.8" cy="82.1"/><circle cx="286.4" cy="78.2"/><circle cx="279.0" cy="85.6"/><circle cx="275.1" cy="84.1"/><circle cx="280.3" cy="83.5"/><circle cx="279.2" cy="78.7"/><circle cx="284.7" cy="80.5"/><circle cx="280.1" cy="80.2"/><circle cx="290.4" cy="80.5"/><circle cx="286.8" cy="78.8"/><circle cx="275.7" cy="82.5"/><circle cx="272.7" cy="82.1"/><circle cx="283.1" cy="82.4"/><circle cx="280.1" cy="80.3"/><circle cx="275.2" cy="84.6"/><circle cx="264.2" cy="82.0"/><circle cx="261.3" cy="74.9"/><circle cx="278.8" cy="80.0"/><circle cx="282.2" cy="81.4"/><circle cx="282.4" cy="83.8"/><circle cx="265.7" cy="80.8"/><circle cx="284.3" cy="80.9"/><circle cx="271.7" cy="79.9"/><circle cx="279.1" cy="83.1"/><circle cx="279.3" cy="80.4"/><circle cx="269.6" cy="80.1"/><circle cx="271.3" cy="79.7"/><circle cx="259.4" cy="82.8"/><circle cx="268.7" cy="80.2"/><circle cx="261.6" cy="77.5"/><circle cx="279.5" cy="83.0"/><circle cx="276.5" cy="79.8"/><circle cx="283.3" cy="82.4"/><circle cx="278.9" cy="82.4"/><circle cx="270.9" cy="84.4"/><circle cx="278.8" cy="84.0"/><circle cx="272.9" cy="80.1"/><circle cx="280.9" cy="81.1"/><circle cx="278.5" cy="78.4"/><circle cx="268.1" cy="85.5"/><circle cx="276.0" cy="82.6"/><circle cx="276.4" cy="84.8"/><circle cx="273.5" cy="80.7"/><circle cx="283.2" cy="76.6"/><circle cx="289.7" cy="85.2"/><circle cx="273.1" cy="81.7"/><circle cx="273.2" cy="81.8"/><circle cx="258.0" cy="81.6"/><circle cx="275.0" cy="83.0"/><circle cx="272.5" cy="82.8"/><circle cx="258.7" cy="77.7"/><circle cx="278.3" cy="84.1"/><circle cx="280.7" cy="80.2"/><circle cx="270.1" cy="80.4"/><circle cx="273.0" cy="85.6"/><circle cx="268.3" cy="83.7"/><circle cx="282.1" cy="80.7"/><circle cx="263.9" cy="77.0"/><circle cx="273.5" cy="81.9"/><circle cx="291.6" cy="82.8"/><circle cx="276.4" cy="81.3"/><circle cx="279.7" cy="78.5"/><circle cx="274.8" cy="79.6"/><circle cx="266.6" cy="78.5"/><circle cx="275.7" cy="82.0"/><circle cx="279.3" cy="83.5"/><circle cx="267.8" cy="84.0"/><circle cx="278.7" cy="79.7"/><circle cx="286.0" cy="82.1"/><circle cx="284.6" cy="82.8"/><circle cx="263.3" cy="80.3"/><circle cx="268.2" cy="81.1"/><circle cx="263.1" cy="86.6"/><circle cx="284.6" cy="82.0"/><circle cx="280.9" cy="83.6"/><circle cx="281.6" cy="80.5"/><circle cx="269.0" cy="81.6"/><circle cx="266.7" cy="77.4"/><circle cx="276.6" cy="81.4"/><circle cx="276.8" cy="84.4"/><circle cx="269.2" cy="86.5"/><circle cx="277.1" cy="84.4"/><circle cx="281.2" cy="83.1"/><circle cx="277.8" cy="81.6"/><circle cx="267.7" cy="80.1"/><circle cx="259.1" cy="81.1"/><circle cx="273.9" cy="83.0"/><circle cx="277.3" cy="79.6"/><circle cx="273.9" cy="83.7"/><circle cx="272.6" cy="79.1"/><circle cx="270.5" cy="77.2"/><circle cx="281.7" cy="79.1"/><circle cx="275.6" cy="77.5"/><circle cx="277.0" cy="78.2"/><circle cx="268.2" cy="84.2"/><circle cx="271.0" cy="81.0"/><circle cx="277.3" cy="82.0"/><circle cx="268.0" cy="84.3"/><circle cx="265.9" cy="84.5"/><circle cx="273.4" cy="80.3"/><circle cx="285.6" cy="84.7"/><circle cx="277.5" cy="82.4"/><circle cx="287.7" cy="81.5"/><circle cx="274.9" cy="82.6"/><circle cx="273.5" cy="78.1"/><circle cx="264.9" cy="79.6"/><circle cx="271.4" cy="81.2"/><circle cx="287.5" cy="83.0"/><circle cx="278.6" cy="80.6"/><circle cx="281.9" cy="81.2"/><circle cx="281.6" cy="83.8"/><circle cx="275.9" cy="84.9"/><circle cx="274.4" cy="83.3"/><circle cx="277.0" cy="84.5"/><circle cx="281.4" cy="80.5"/><circle cx="279.7" cy="80.8"/><circle cx="279.9" cy="82.3"/><circle cx="277.2" cy="80.8"/><circle cx="269.8" cy="80.3"/><circle cx="273.9" cy="85.5"/><circle cx="268.5" cy="81.0"/><circle cx="284.0" cy="79.2"/><circle cx="259.2" cy="82.7"/><circle cx="274.3" cy="85.9"/><circle cx="295.1" cy="81.7"/><circle cx="273.3" cy="84.5"/><circle cx="266.9" cy="80.4"/><circle cx="275.9" cy="80.3"/><circle cx="286.3" cy="79.8"/><circle cx="274.7" cy="81.2"/><circle cx="280.9" cy="85.9"/><circle cx="276.8" cy="78.7"/><circle cx="273.0" cy="85.4"/><circle cx="301.2" cy="79.1"/><circle cx="276.6" cy="80.9"/><circle cx="271.7" cy="83.5"/><circle cx="272.1" cy="83.0"/><circle cx="279.0" cy="82.2"/><circle cx="279.3" cy="77.5"/><circle cx="282.2" cy="82.4"/><circle cx="277.1" cy="79.0"/><circle cx="264.5" cy="87.7"/><circle cx="280.3" cy="81.0"/><circle cx="273.5" cy="82.0"/><circle cx="273.7" cy="78.7"/><circle cx="264.1" cy="80.4"/><circle cx="271.4" cy="78.4"/><circle cx="270.2" cy="83.9"/><circle cx="275.7" cy="80.9"/><circle cx="264.4" cy="82.9"/><circle cx="276.4" cy="79.9"/><circle cx="277.0" cy="80.3"/><circle cx="267.0" cy="84.6"/><circle cx="271.0" cy="79.2"/><circle cx="269.1" cy="77.2"/><circle cx="283.3" cy="82.5"/><circle cx="255.8" cy="78.8"/><circle cx="273.3" cy="80.4"/><circle cx="262.7" cy="83.7"/><circle cx="272.5" cy="79.5"/><circle cx="282.8" cy="83.6"/><circle cx="271.0" cy="79.9"/><circle cx="277.1" cy="85.1"/><circle cx="269.2" cy="84.7"/><circle cx="291.5" cy="80.4"/><circle cx="283.3" cy="81.0"/><circle cx="285.0" cy="79.5"/><circle cx="265.4" cy="82.0"/><circle cx="267.2" cy="84.3"/><circle cx="284.6" cy="78.0"/><circle cx="274.4" cy="83.7"/><circle cx="273.9" cy="78.3"/><circle cx="278.7" cy="79.4"/><circle cx="266.0" cy="77.2"/><circle cx="282.2" cy="86.6"/><circle cx="276.1" cy="81.6"/></g>
<line x1="255.5" y1="24.4" x2="255.5" y2="128.1" stroke="#7c7c7c" stroke-width="1"/>
<line x1="284.5" y1="24.4" x2="284.5" y2="128.1" stroke="#7c7c7c" stroke-width="1"/>
<line x1="217.5" y1="72.5" x2="341.6" y2="72.5" stroke="#7c7c7c" stroke-width="1"/>
<line x1="217.5" y1="95.5" x2="341.6" y2="95.5" stroke="#7c7c7c" stroke-width="1"/>
<line x1="217.5" y1="128.1" x2="341.6" y2="24.4" stroke="#c23b36" stroke-width="1.2"/>
<line x1="288.5" y1="56.5" x2="292" y2="61.5" stroke="#111" stroke-width="0.9"/>
<line x1="307.5" y1="56" x2="307.5" y2="63" stroke="#111" stroke-width="0.9"/>
<g class="r95" fill="#111" fill-opacity="1"><circle cx="292.0" cy="62.0"/><circle cx="307.5" cy="63.5"/><circle cx="316.5" cy="63.5"/><circle cx="329.0" cy="57.5"/><circle cx="285.0" cy="68.3"/><circle cx="279.5" cy="72.5"/><circle cx="297.5" cy="66.0"/><circle cx="247.2" cy="96.8"/><circle cx="239.3" cy="99.8"/><circle cx="233.2" cy="109.8"/></g>
<text x="284" y="55" font-size="4.7" fill="#1a1a1a" textLength="12" lengthAdjust="spacingAndGlyphs" stroke="#1a1a1a" stroke-width="0.15">MCAM</text>
<text x="301" y="55" font-size="4.7" fill="#1a1a1a" textLength="17.6" lengthAdjust="spacingAndGlyphs" stroke="#1a1a1a" stroke-width="0.15">TMEM119</text>
<text x="322.4" y="57.3" font-size="4.7" fill="#1a1a1a" textLength="13.6" lengthAdjust="spacingAndGlyphs" stroke="#1a1a1a" stroke-width="0.15">MYO1G</text>
<text x="296.5" y="61.2" font-size="4.7" fill="#1a1a1a" textLength="11.1" lengthAdjust="spacingAndGlyphs" stroke="#1a1a1a" stroke-width="0.15">ITGAM</text>
<text x="316" y="68.3" font-size="4.7" fill="#1a1a1a" textLength="13.7" lengthAdjust="spacingAndGlyphs" stroke="#1a1a1a" stroke-width="0.15">L1CAM</text>
<text x="276.6" y="72.3" font-size="4.7" fill="#1a1a1a" textLength="13.4" lengthAdjust="spacingAndGlyphs" stroke="#1a1a1a" stroke-width="0.15">MOAP1</text>
<text x="293" y="72.3" font-size="4.7" fill="#1a1a1a" textLength="20" lengthAdjust="spacingAndGlyphs" stroke="#1a1a1a" stroke-width="0.15">HLA-DMB</text>
<text x="243.8" y="96.7" font-size="4.7" fill="#1a1a1a" textLength="13.2" lengthAdjust="spacingAndGlyphs" stroke="#1a1a1a" stroke-width="0.15">MUC20</text>
<text x="228.6" y="105" font-size="4.7" fill="#1a1a1a" textLength="13.8" lengthAdjust="spacingAndGlyphs" stroke="#1a1a1a" stroke-width="0.15">PCED1</text>
<text x="222.5" y="114.4" font-size="4.7" fill="#1a1a1a" textLength="14.5" lengthAdjust="spacingAndGlyphs" stroke="#1a1a1a" stroke-width="0.15">SLC9A4</text>
<rect x="217.5" y="24.4" width="124.1" height="103.7" fill="none" stroke="#1c1c1c" stroke-width="1.15"/>
<line x1="222.91" y1="128.1" x2="222.91" y2="131.1" stroke="#1c1c1c" stroke-width="0.9"/>
<text x="222.91" y="140.9" font-size="7.7" fill="#2b2b2b" text-anchor="middle" stroke="#2b2b2b" stroke-width="0.18">−5.0</text>
<line x1="246.58" y1="128.1" x2="246.58" y2="131.1" stroke="#1c1c1c" stroke-width="0.9"/>
<text x="246.58" y="140.9" font-size="7.7" fill="#2b2b2b" text-anchor="middle" stroke="#2b2b2b" stroke-width="0.18">−2.5</text>
<line x1="270.26" y1="128.1" x2="270.26" y2="131.1" stroke="#1c1c1c" stroke-width="0.9"/>
<text x="270.26" y="140.9" font-size="7.7" fill="#2b2b2b" text-anchor="middle" stroke="#2b2b2b" stroke-width="0.18">0.0</text>
<line x1="293.94" y1="128.1" x2="293.94" y2="131.1" stroke="#1c1c1c" stroke-width="0.9"/>
<text x="293.94" y="140.9" font-size="7.7" fill="#2b2b2b" text-anchor="middle" stroke="#2b2b2b" stroke-width="0.18">2.5</text>
<line x1="317.61" y1="128.1" x2="317.61" y2="131.1" stroke="#1c1c1c" stroke-width="0.9"/>
<text x="317.61" y="140.9" font-size="7.7" fill="#2b2b2b" text-anchor="middle" stroke="#2b2b2b" stroke-width="0.18">5.0</text>
<line x1="341.28" y1="128.1" x2="341.28" y2="131.1" stroke="#1c1c1c" stroke-width="0.9"/>
<text x="341.28" y="140.9" font-size="7.7" fill="#2b2b2b" text-anchor="middle" stroke="#2b2b2b" stroke-width="0.18">7.5</text>
<line x1="214.7" y1="24.4" x2="217.5" y2="24.4" stroke="#1c1c1c" stroke-width="0.9"/>
<text x="212.3" y="27.15" font-size="7.7" fill="#2b2b2b" text-anchor="end" stroke="#2b2b2b" stroke-width="0.18">7.5</text>
<line x1="214.7" y1="44.4" x2="217.5" y2="44.4" stroke="#1c1c1c" stroke-width="0.9"/>
<text x="212.3" y="47.15" font-size="7.7" fill="#2b2b2b" text-anchor="end" stroke="#2b2b2b" stroke-width="0.18">5.0</text>
<line x1="214.7" y1="64.4" x2="217.5" y2="64.4" stroke="#1c1c1c" stroke-width="0.9"/>
<text x="212.3" y="67.15" font-size="7.7" fill="#2b2b2b" text-anchor="end" stroke="#2b2b2b" stroke-width="0.18">2.5</text>
<line x1="214.7" y1="84.4" x2="217.5" y2="84.4" stroke="#1c1c1c" stroke-width="0.9"/>
<text x="212.3" y="87.15" font-size="7.7" fill="#2b2b2b" text-anchor="end" stroke="#2b2b2b" stroke-width="0.18">0.0</text>
<line x1="214.7" y1="104.4" x2="217.5" y2="104.4" stroke="#1c1c1c" stroke-width="0.9"/>
<text x="212.3" y="107.15" font-size="7.7" fill="#2b2b2b" text-anchor="end" stroke="#2b2b2b" stroke-width="0.18">−2.5</text>
<line x1="214.7" y1="124.4" x2="217.5" y2="124.4" stroke="#1c1c1c" stroke-width="0.9"/>
<text x="212.3" y="127.15" font-size="7.7" fill="#2b2b2b" text-anchor="end" stroke="#2b2b2b" stroke-width="0.18">−5.0</text>
<text x="222" y="34.6" font-size="7.6" fill="#1c1c1c">Aza</text>
<text x="279.55" y="153.5" font-size="8.8" fill="#2b2b2b" text-anchor="middle" textLength="42" lengthAdjust="spacingAndGlyphs" stroke="#2b2b2b" stroke-width="0.3">Log2FC protein</text>
<text x="193" y="76.4" font-size="8.4" fill="#2b2b2b" text-anchor="middle" textLength="34.6" lengthAdjust="spacingAndGlyphs" transform="rotate(-90 193 76.4)" stroke="#2b2b2b" stroke-width="0.3">Log2FC RNA</text>
<line x1="397.6" y1="24.4" x2="397.6" y2="128" stroke="#f4f4f4" stroke-width="0.7"/>
<line x1="429" y1="24.4" x2="429" y2="128" stroke="#f4f4f4" stroke-width="0.7"/>
<line x1="460.4" y1="24.4" x2="460.4" y2="128" stroke="#f4f4f4" stroke-width="0.7"/>
<line x1="491.8" y1="24.4" x2="491.8" y2="128" stroke="#f4f4f4" stroke-width="0.7"/>
<line x1="389" y1="41.42" x2="513.5" y2="41.42" stroke="#f4f4f4" stroke-width="0.7"/>
<line x1="389" y1="67.88" x2="513.5" y2="67.88" stroke="#f4f4f4" stroke-width="0.7"/>
<line x1="389" y1="94.32" x2="513.5" y2="94.32" stroke="#f4f4f4" stroke-width="0.7"/>
<line x1="389" y1="120.77" x2="513.5" y2="120.77" stroke="#f4f4f4" stroke-width="0.7"/>
<line x1="413.3" y1="24.4" x2="413.3" y2="128" stroke="#eeeeee" stroke-width="0.8"/>
<line x1="444.7" y1="24.4" x2="444.7" y2="128" stroke="#eeeeee" stroke-width="0.8"/>
<line x1="476.1" y1="24.4" x2="476.1" y2="128" stroke="#eeeeee" stroke-width="0.8"/>
<line x1="507.5" y1="24.4" x2="507.5" y2="128" stroke="#eeeeee" stroke-width="0.8"/>
<line x1="389" y1="28.2" x2="513.5" y2="28.2" stroke="#eeeeee" stroke-width="0.8"/>
<line x1="389" y1="54.65" x2="513.5" y2="54.65" stroke="#eeeeee" stroke-width="0.8"/>
<line x1="389" y1="81.1" x2="513.5" y2="81.1" stroke="#eeeeee" stroke-width="0.8"/>
<line x1="389" y1="107.55" x2="513.5" y2="107.55" stroke="#eeeeee" stroke-width="0.8"/>
<g class="r110" fill="#222" fill-opacity="0.048"><circle cx="443.4" cy="83.3"/><circle cx="434.2" cy="85.1"/><circle cx="451.7" cy="88.2"/><circle cx="420.0" cy="89.9"/><circle cx="441.3" cy="78.0"/><circle cx="463.1" cy="75.2"/><circle cx="437.2" cy="85.6"/><circle cx="441.2" cy="80.4"/><circle cx="447.7" cy="87.3"/><circle cx="432.9" cy="84.8"/><circle cx="441.2" cy="79.8"/><circle cx="450.6" cy="76.8"/><circle cx="442.9" cy="84.0"/><circle cx="444.7" cy="77.5"/><circle cx="437.5" cy="75.8"/><circle cx="444.2" cy="82.4"/><circle cx="441.6" cy="78.9"/><circle cx="455.6" cy="83.7"/><circle cx="448.2" cy="86.9"/><circle cx="438.6" cy="80.1"/><circle cx="416.5" cy="87.7"/><circle cx="448.2" cy="79.2"/><circle cx="448.6" cy="81.9"/><circle cx="431.8" cy="85.0"/><circle cx="421.0" cy="83.8"/><circle cx="429.6" cy="78.4"/><circle cx="450.3" cy="80.2"/><circle cx="430.4" cy="90.3"/><circle cx="436.4" cy="78.2"/><circle cx="443.2" cy="79.0"/><circle cx="453.2" cy="76.2"/><circle cx="440.8" cy="81.1"/><circle cx="440.0" cy="73.6"/><circle cx="435.5" cy="82.8"/><circle cx="457.3" cy="75.8"/><circle cx="451.7" cy="85.7"/><circle cx="440.0" cy="84.0"/><circle cx="427.0" cy="87.6"/><circle cx="433.1" cy="83.8"/><circle cx="446.8" cy="79.0"/><circle cx="433.8" cy="86.2"/><circle cx="449.9" cy="73.2"/><circle cx="444.6" cy="84.6"/><circle cx="443.9" cy="82.6"/><circle cx="447.5" cy="79.2"/><circle cx="446.0" cy="84.9"/><circle cx="432.4" cy="81.8"/><circle cx="437.7" cy="80.2"/><circle cx="464.4" cy="76.9"/><circle cx="428.9" cy="77.8"/><circle cx="436.3" cy="82.6"/><circle cx="451.7" cy="78.0"/><circle cx="439.4" cy="85.5"/><circle cx="432.9" cy="89.7"/><circle cx="427.8" cy="87.3"/><circle cx="446.4" cy="81.5"/><circle cx="451.2" cy="80.8"/><circle cx="455.0" cy="75.4"/><circle cx="441.5" cy="90.1"/><circle cx="451.4" cy="83.2"/><circle cx="430.7" cy="90.8"/><circle cx="442.7" cy="76.4"/><circle cx="434.2" cy="85.4"/><circle cx="442.7" cy="83.1"/><circle cx="448.5" cy="83.8"/><circle cx="451.7" cy="75.8"/><circle cx="431.1" cy="85.6"/><circle cx="453.7" cy="77.7"/><circle cx="436.3" cy="90.2"/><circle cx="430.7" cy="80.0"/><circle cx="439.3" cy="80.7"/><circle cx="426.4" cy="83.3"/><circle cx="441.0" cy="77.2"/><circle cx="443.9" cy="81.7"/><circle cx="439.0" cy="82.8"/><circle cx="446.4" cy="77.8"/><circle cx="437.9" cy="80.9"/><circle cx="441.0" cy="82.6"/><circle cx="426.6" cy="85.1"/><circle cx="441.4" cy="83.4"/><circle cx="432.5" cy="81.2"/><circle cx="436.5" cy="79.4"/><circle cx="440.1" cy="81.9"/><circle cx="442.9" cy="74.4"/><circle cx="424.5" cy="91.3"/><circle cx="425.4" cy="86.4"/><circle cx="438.0" cy="76.3"/><circle cx="445.7" cy="82.0"/><circle cx="444.6" cy="86.5"/><circle cx="449.9" cy="74.4"/><circle cx="454.0" cy="76.5"/><circle cx="446.0" cy="84.7"/><circle cx="440.8" cy="78.9"/><circle cx="430.7" cy="87.9"/><circle cx="431.5" cy="88.9"/><circle cx="436.3" cy="83.4"/><circle cx="443.7" cy="82.7"/><circle cx="443.2" cy="85.1"/><circle cx="441.0" cy="83.0"/><circle cx="439.5" cy="85.7"/><circle cx="447.3" cy="79.9"/><circle cx="443.1" cy="81.2"/><circle cx="444.0" cy="78.2"/><circle cx="444.1" cy="82.5"/><circle cx="435.5" cy="87.8"/><circle cx="430.7" cy="89.0"/><circle cx="445.9" cy="81.3"/><circle cx="445.2" cy="75.1"/><circle cx="438.8" cy="79.2"/><circle cx="436.8" cy="85.0"/><circle cx="463.8" cy="72.6"/><circle cx="433.4" cy="87.8"/><circle cx="438.8" cy="78.6"/><circle cx="443.7" cy="82.4"/><circle cx="429.5" cy="81.8"/><circle cx="442.2" cy="79.1"/><circle cx="459.0" cy="78.2"/><circle cx="450.3" cy="78.2"/><circle cx="447.3" cy="83.9"/><circle cx="446.9" cy="80.5"/><circle cx="442.1" cy="77.5"/><circle cx="450.6" cy="64.5"/><circle cx="439.4" cy="79.5"/><circle cx="436.8" cy="82.4"/><circle cx="442.0" cy="85.1"/><circle cx="450.1" cy="75.6"/><circle cx="444.3" cy="86.8"/><circle cx="447.7" cy="82.9"/><circle cx="420.8" cy="85.4"/><circle cx="452.9" cy="83.0"/><circle cx="464.4" cy="70.3"/><circle cx="454.3" cy="74.4"/><circle cx="437.8" cy="84.5"/><circle cx="432.5" cy="85.8"/><circle cx="443.8" cy="85.7"/><circle cx="431.1" cy="89.2"/><circle cx="448.3" cy="78.3"/><circle cx="435.7" cy="80.7"/><circle cx="450.6" cy="78.0"/><circle cx="454.6" cy="77.3"/><circle cx="420.7" cy="88.8"/><circle cx="443.9" cy="79.6"/><circle cx="434.0" cy="88.7"/><circle cx="426.9" cy="85.2"/><circle cx="434.8" cy="77.9"/><circle cx="438.8" cy="77.4"/><circle cx="451.3" cy="80.8"/><circle cx="425.8" cy="86.7"/><circle cx="451.5" cy="74.1"/><circle cx="461.2" cy="70.2"/><circle cx="447.0" cy="85.6"/><circle cx="446.5" cy="81.8"/><circle cx="440.9" cy="80.9"/><circle cx="429.2" cy="80.2"/><circle cx="446.3" cy="83.4"/><circle cx="444.8" cy="78.4"/><circle cx="448.3" cy="80.9"/><circle cx="466.7" cy="66.7"/><circle cx="448.3" cy="78.3"/><circle cx="445.3" cy="81.1"/><circle cx="456.6" cy="79.0"/><circle cx="427.5" cy="81.2"/><circle cx="429.6" cy="82.1"/><circle cx="437.2" cy="86.5"/><circle cx="434.5" cy="82.5"/><circle cx="447.9" cy="84.8"/><circle cx="437.8" cy="85.2"/><circle cx="458.4" cy="82.0"/><circle cx="456.2" cy="82.7"/><circle cx="448.7" cy="82.2"/><circle cx="437.1" cy="86.2"/><circle cx="447.2" cy="78.2"/><circle cx="449.1" cy="76.8"/><circle cx="430.3" cy="85.2"/><circle cx="444.5" cy="84.8"/><circle cx="448.1" cy="77.0"/><circle cx="443.2" cy="88.4"/><circle cx="456.7" cy="84.7"/><circle cx="453.1" cy="76.0"/><circle cx="432.7" cy="81.4"/><circle cx="442.2" cy="77.8"/><circle cx="432.6" cy="84.5"/><circle cx="446.8" cy="84.8"/><circle cx="432.3" cy="85.7"/><circle cx="450.2" cy="77.3"/><circle cx="444.9" cy="83.5"/><circle cx="450.7" cy="81.8"/><circle cx="439.5" cy="87.1"/><circle cx="426.4" cy="89.5"/><circle cx="458.7" cy="74.2"/><circle cx="439.3" cy="80.4"/><circle cx="454.8" cy="82.4"/><circle cx="445.3" cy="84.5"/><circle cx="447.7" cy="82.0"/><circle cx="459.3" cy="75.1"/><circle cx="444.4" cy="85.0"/><circle cx="455.0" cy="78.8"/><circle cx="426.2" cy="93.1"/><circle cx="449.7" cy="84.0"/><circle cx="438.6" cy="80.7"/><circle cx="439.7" cy="78.7"/><circle cx="441.1" cy="85.8"/><circle cx="444.5" cy="83.6"/><circle cx="457.6" cy="74.6"/><circle cx="422.5" cy="87.7"/><circle cx="441.4" cy="83.5"/><circle cx="433.8" cy="81.6"/><circle cx="452.7" cy="78.0"/><circle cx="436.8" cy="78.7"/><circle cx="445.6" cy="77.6"/><circle cx="437.0" cy="84.7"/><circle cx="447.7" cy="80.4"/><circle cx="451.1" cy="79.3"/><circle cx="437.0" cy="87.6"/><circle cx="441.5" cy="85.1"/><circle cx="426.8" cy="81.7"/><circle cx="444.1" cy="86.6"/><circle cx="449.6" cy="75.9"/><circle cx="435.4" cy="82.0"/><circle cx="452.2" cy="79.4"/><circle cx="420.3" cy="84.9"/><circle cx="422.5" cy="84.6"/><circle cx="427.1" cy="80.8"/><circle cx="436.2" cy="84.3"/><circle cx="441.2" cy="82.4"/><circle cx="440.2" cy="82.7"/><circle cx="440.3" cy="75.0"/><circle cx="448.2" cy="76.4"/><circle cx="436.3" cy="86.2"/><circle cx="428.4" cy="86.0"/><circle cx="428.6" cy="87.3"/><circle cx="462.1" cy="76.3"/><circle cx="417.5" cy="86.8"/><circle cx="439.2" cy="73.8"/><circle cx="455.6" cy="84.6"/><circle cx="445.8" cy="76.7"/><circle cx="432.7" cy="82.1"/><circle cx="441.0" cy="84.2"/><circle cx="449.6" cy="80.0"/><circle cx="453.1" cy="80.4"/><circle cx="432.0" cy="83.7"/><circle cx="448.6" cy="76.1"/><circle cx="443.5" cy="86.5"/><circle cx="452.0" cy="74.1"/><circle cx="454.9" cy="79.5"/><circle cx="437.6" cy="77.1"/><circle cx="426.5" cy="83.8"/><circle cx="445.0" cy="76.2"/><circle cx="458.8" cy="75.2"/><circle cx="447.9" cy="76.0"/><circle cx="443.3" cy="80.9"/><circle cx="465.0" cy="78.6"/><circle cx="430.6" cy="81.8"/><circle cx="450.0" cy="76.8"/><circle cx="435.3" cy="75.5"/><circle cx="441.5" cy="88.7"/><circle cx="441.9" cy="82.1"/><circle cx="456.1" cy="74.0"/><circle cx="431.6" cy="88.5"/><circle cx="435.6" cy="83.8"/><circle cx="425.1" cy="78.0"/><circle cx="445.9" cy="75.3"/><circle cx="436.4" cy="85.9"/><circle cx="445.2" cy="75.4"/><circle cx="430.3" cy="80.0"/><circle cx="437.4" cy="79.7"/><circle cx="451.4" cy="77.6"/><circle cx="439.3" cy="81.2"/><circle cx="447.3" cy="83.2"/><circle cx="446.3" cy="82.2"/><circle cx="437.5" cy="79.9"/><circle cx="425.4" cy="85.0"/><circle cx="450.9" cy="72.5"/><circle cx="442.7" cy="82.4"/><circle cx="450.8" cy="87.8"/><circle cx="420.9" cy="87.8"/><circle cx="424.5" cy="84.7"/><circle cx="419.6" cy="85.6"/><circle cx="432.2" cy="83.6"/><circle cx="451.4" cy="82.0"/><circle cx="446.7" cy="74.8"/><circle cx="440.7" cy="84.1"/><circle cx="442.3" cy="78.7"/><circle cx="448.6" cy="80.7"/><circle cx="438.0" cy="86.7"/><circle cx="445.0" cy="75.5"/><circle cx="442.4" cy="90.3"/><circle cx="419.1" cy="90.1"/><circle cx="437.2" cy="81.0"/><circle cx="454.6" cy="79.5"/><circle cx="437.0" cy="79.9"/><circle cx="439.6" cy="82.3"/><circle cx="434.9" cy="84.7"/><circle cx="436.2" cy="75.0"/><circle cx="452.2" cy="79.6"/><circle cx="438.3" cy="82.8"/><circle cx="430.8" cy="88.0"/><circle cx="409.9" cy="92.1"/><circle cx="435.3" cy="80.7"/><circle cx="421.3" cy="84.5"/><circle cx="422.8" cy="86.1"/><circle cx="449.0" cy="82.1"/><circle cx="448.1" cy="77.3"/><circle cx="421.8" cy="92.5"/><circle cx="449.5" cy="80.7"/><circle cx="445.6" cy="81.3"/><circle cx="433.2" cy="86.6"/><circle cx="448.3" cy="79.2"/><circle cx="424.7" cy="88.0"/><circle cx="429.0" cy="87.5"/><circle cx="426.6" cy="78.7"/><circle cx="429.9" cy="81.7"/><circle cx="449.8" cy="75.0"/><circle cx="427.7" cy="84.7"/><circle cx="429.5" cy="81.0"/><circle cx="431.5" cy="81.1"/><circle cx="443.0" cy="76.7"/><circle cx="437.6" cy="73.9"/><circle cx="449.6" cy="80.2"/><circle cx="433.9" cy="82.4"/><circle cx="428.1" cy="84.9"/><circle cx="436.0" cy="95.5"/><circle cx="441.3" cy="86.5"/><circle cx="431.7" cy="83.8"/><circle cx="443.7" cy="78.6"/><circle cx="459.1" cy="79.1"/><circle cx="435.1" cy="78.9"/><circle cx="441.4" cy="76.8"/><circle cx="454.4" cy="79.7"/><circle cx="434.4" cy="78.0"/><circle cx="432.4" cy="77.4"/><circle cx="429.9" cy="82.6"/><circle cx="444.9" cy="84.1"/><circle cx="446.0" cy="75.0"/><circle cx="439.4" cy="82.5"/><circle cx="441.3" cy="82.8"/><circle cx="453.6" cy="77.9"/><circle cx="449.5" cy="81.3"/><circle cx="426.8" cy="81.2"/><circle cx="440.7" cy="78.8"/><circle cx="441.8" cy="76.9"/><circle cx="448.0" cy="77.7"/><circle cx="438.5" cy="85.0"/><circle cx="434.3" cy="83.7"/><circle cx="436.2" cy="79.6"/><circle cx="423.0" cy="87.5"/><circle cx="440.5" cy="71.1"/><circle cx="434.8" cy="83.9"/><circle cx="445.4" cy="82.5"/><circle cx="430.4" cy="80.0"/><circle cx="436.3" cy="80.0"/><circle cx="430.9" cy="84.1"/><circle cx="430.0" cy="85.1"/><circle cx="447.7" cy="78.3"/><circle cx="436.0" cy="79.7"/><circle cx="445.1" cy="77.7"/><circle cx="429.5" cy="85.5"/><circle cx="441.6" cy="79.8"/><circle cx="423.7" cy="82.8"/><circle cx="435.8" cy="80.0"/><circle cx="435.6" cy="94.0"/><circle cx="446.4" cy="83.3"/><circle cx="442.4" cy="83.9"/><circle cx="438.8" cy="82.9"/><circle cx="449.0" cy="78.9"/><circle cx="442.5" cy="77.8"/><circle cx="446.0" cy="78.0"/><circle cx="448.2" cy="80.1"/><circle cx="439.9" cy="81.7"/><circle cx="437.6" cy="76.0"/><circle cx="443.8" cy="83.0"/><circle cx="436.4" cy="81.6"/><circle cx="444.4" cy="75.0"/><circle cx="451.6" cy="77.6"/><circle cx="449.1" cy="86.8"/><circle cx="436.7" cy="81.2"/><circle cx="427.7" cy="86.2"/><circle cx="440.0" cy="82.2"/><circle cx="439.3" cy="78.1"/><circle cx="451.6" cy="77.2"/><circle cx="436.7" cy="83.5"/><circle cx="438.5" cy="78.9"/><circle cx="447.9" cy="78.2"/><circle cx="435.8" cy="82.4"/><circle cx="438.9" cy="80.9"/><circle cx="457.6" cy="76.4"/><circle cx="455.4" cy="79.1"/><circle cx="446.8" cy="81.7"/><circle cx="443.2" cy="80.9"/><circle cx="430.9" cy="87.5"/><circle cx="446.1" cy="84.8"/><circle cx="441.1" cy="76.8"/><circle cx="442.7" cy="81.9"/><circle cx="435.4" cy="83.0"/><circle cx="440.4" cy="82.1"/><circle cx="438.7" cy="82.0"/><circle cx="443.7" cy="80.7"/><circle cx="454.8" cy="77.8"/><circle cx="444.1" cy="83.6"/><circle cx="424.0" cy="82.4"/><circle cx="430.8" cy="86.5"/><circle cx="424.7" cy="81.8"/><circle cx="432.6" cy="90.5"/><circle cx="446.1" cy="84.0"/><circle cx="444.5" cy="77.0"/><circle cx="434.5" cy="83.6"/><circle cx="443.2" cy="83.4"/><circle cx="433.0" cy="82.2"/><circle cx="426.3" cy="88.9"/><circle cx="426.5" cy="84.9"/><circle cx="431.9" cy="91.7"/><circle cx="454.7" cy="79.7"/><circle cx="427.1" cy="87.3"/><circle cx="452.9" cy="76.6"/><circle cx="453.8" cy="75.2"/><circle cx="438.7" cy="85.2"/><circle cx="440.0" cy="76.0"/><circle cx="434.4" cy="85.3"/><circle cx="440.3" cy="89.1"/><circle cx="447.1" cy="88.5"/><circle cx="440.6" cy="76.1"/><circle cx="450.4" cy="79.5"/><circle cx="452.3" cy="81.0"/><circle cx="443.9" cy="83.5"/><circle cx="443.8" cy="84.7"/><circle cx="439.9" cy="76.9"/><circle cx="443.9" cy="81.1"/><circle cx="429.4" cy="78.0"/><circle cx="444.5" cy="81.3"/><circle cx="442.5" cy="89.6"/><circle cx="431.9" cy="80.7"/><circle cx="462.0" cy="77.6"/><circle cx="430.8" cy="84.9"/><circle cx="431.8" cy="78.2"/><circle cx="443.3" cy="81.9"/><circle cx="421.1" cy="82.3"/><circle cx="432.6" cy="83.6"/><circle cx="425.3" cy="88.1"/><circle cx="430.8" cy="82.2"/><circle cx="439.1" cy="84.1"/><circle cx="443.7" cy="76.4"/><circle cx="451.5" cy="75.4"/><circle cx="448.5" cy="79.4"/><circle cx="452.3" cy="76.5"/><circle cx="446.3" cy="78.1"/><circle cx="435.8" cy="83.8"/><circle cx="451.6" cy="75.6"/><circle cx="435.6" cy="83.7"/><circle cx="434.3" cy="80.9"/><circle cx="455.7" cy="81.2"/><circle cx="448.3" cy="79.3"/><circle cx="442.6" cy="79.6"/><circle cx="448.0" cy="82.6"/><circle cx="449.2" cy="80.9"/><circle cx="426.8" cy="86.9"/><circle cx="439.5" cy="79.2"/><circle cx="428.7" cy="87.2"/><circle cx="441.7" cy="79.7"/><circle cx="433.7" cy="77.8"/><circle cx="454.0" cy="76.9"/><circle cx="445.6" cy="86.1"/><circle cx="432.3" cy="83.2"/><circle cx="440.3" cy="77.9"/><circle cx="428.3" cy="85.7"/><circle cx="440.9" cy="77.5"/><circle cx="445.9" cy="78.0"/><circle cx="443.1" cy="79.4"/><circle cx="421.2" cy="87.4"/><circle cx="437.1" cy="84.3"/><circle cx="445.5" cy="81.3"/><circle cx="443.5" cy="80.6"/><circle cx="452.0" cy="76.8"/><circle cx="427.6" cy="83.3"/><circle cx="445.7" cy="81.4"/><circle cx="433.9" cy="83.0"/><circle cx="442.4" cy="79.7"/><circle cx="444.5" cy="86.4"/><circle cx="447.3" cy="82.7"/><circle cx="434.7" cy="85.9"/><circle cx="442.3" cy="81.9"/><circle cx="428.8" cy="85.5"/><circle cx="426.3" cy="86.1"/><circle cx="446.0" cy="83.4"/><circle cx="439.9" cy="79.3"/><circle cx="424.2" cy="84.6"/><circle cx="431.9" cy="89.6"/><circle cx="440.6" cy="81.5"/><circle cx="456.0" cy="81.8"/><circle cx="450.9" cy="72.9"/><circle cx="448.4" cy="81.2"/><circle cx="422.6" cy="87.5"/><circle cx="439.4" cy="81.5"/><circle cx="445.2" cy="81.1"/><circle cx="444.4" cy="80.8"/><circle cx="444.6" cy="75.0"/><circle cx="438.1" cy="81.4"/><circle cx="458.0" cy="74.2"/><circle cx="455.2" cy="73.8"/><circle cx="439.5" cy="85.3"/><circle cx="430.6" cy="78.0"/><circle cx="460.9" cy="74.0"/><circle cx="434.9" cy="79.5"/><circle cx="452.4" cy="81.7"/><circle cx="459.5" cy="73.9"/><circle cx="431.0" cy="82.5"/><circle cx="443.3" cy="82.8"/><circle cx="436.9" cy="74.2"/><circle cx="445.6" cy="78.3"/><circle cx="443.6" cy="81.6"/><circle cx="459.9" cy="76.0"/><circle cx="446.3" cy="76.8"/><circle cx="440.3" cy="77.5"/><circle cx="451.7" cy="76.7"/><circle cx="437.7" cy="77.9"/><circle cx="436.8" cy="77.2"/><circle cx="462.8" cy="80.4"/><circle cx="432.2" cy="85.4"/><circle cx="435.5" cy="86.2"/><circle cx="440.9" cy="81.1"/><circle cx="429.8" cy="79.0"/><circle cx="419.3" cy="84.5"/><circle cx="451.0" cy="82.7"/><circle cx="432.6" cy="84.6"/><circle cx="435.0" cy="79.2"/><circle cx="436.7" cy="84.4"/><circle cx="430.6" cy="84.4"/><circle cx="429.7" cy="83.2"/><circle cx="442.0" cy="87.7"/><circle cx="464.4" cy="72.8"/><circle cx="447.8" cy="78.5"/><circle cx="447.9" cy="77.7"/><circle cx="425.4" cy="88.9"/><circle cx="440.2" cy="84.4"/><circle cx="428.6" cy="86.7"/><circle cx="448.1" cy="78.7"/><circle cx="438.1" cy="81.9"/><circle cx="440.8" cy="81.0"/><circle cx="439.5" cy="75.3"/><circle cx="434.6" cy="78.3"/><circle cx="425.2" cy="88.0"/><circle cx="446.2" cy="82.5"/><circle cx="426.6" cy="78.9"/><circle cx="428.6" cy="85.7"/><circle cx="437.4" cy="77.4"/><circle cx="433.3" cy="77.6"/><circle cx="443.0" cy="82.9"/><circle cx="450.5" cy="80.0"/><circle cx="442.9" cy="80.7"/><circle cx="442.4" cy="84.2"/><circle cx="440.6" cy="85.0"/><circle cx="449.0" cy="80.9"/><circle cx="422.0" cy="83.1"/><circle cx="444.1" cy="82.3"/><circle cx="431.1" cy="84.7"/><circle cx="428.1" cy="86.3"/><circle cx="440.5" cy="86.5"/><circle cx="436.5" cy="77.2"/><circle cx="446.2" cy="88.5"/><circle cx="451.4" cy="81.2"/><circle cx="417.2" cy="85.4"/><circle cx="439.7" cy="86.8"/><circle cx="460.0" cy="74.5"/><circle cx="449.1" cy="74.9"/><circle cx="454.9" cy="81.1"/><circle cx="441.4" cy="80.6"/><circle cx="426.1" cy="89.2"/><circle cx="429.2" cy="82.6"/><circle cx="447.5" cy="79.5"/><circle cx="450.0" cy="78.4"/><circle cx="433.1" cy="78.5"/><circle cx="437.7" cy="80.6"/><circle cx="443.0" cy="76.1"/><circle cx="422.9" cy="83.7"/><circle cx="436.9" cy="86.8"/><circle cx="456.6" cy="76.6"/><circle cx="462.3" cy="74.4"/><circle cx="439.3" cy="87.1"/><circle cx="458.7" cy="72.2"/><circle cx="435.2" cy="82.6"/><circle cx="432.3" cy="82.3"/><circle cx="418.0" cy="90.4"/><circle cx="450.0" cy="78.9"/><circle cx="436.7" cy="81.4"/><circle cx="463.8" cy="76.9"/><circle cx="443.7" cy="80.5"/><circle cx="442.3" cy="88.7"/><circle cx="422.4" cy="81.2"/><circle cx="455.4" cy="81.8"/><circle cx="436.8" cy="90.3"/><circle cx="438.8" cy="85.4"/><circle cx="418.4" cy="90.1"/><circle cx="449.7" cy="77.3"/><circle cx="450.3" cy="82.4"/><circle cx="434.4" cy="82.1"/><circle cx="441.4" cy="84.8"/><circle cx="444.4" cy="72.6"/><circle cx="450.1" cy="77.2"/><circle cx="441.5" cy="74.3"/><circle cx="457.7" cy="80.9"/><circle cx="438.0" cy="79.8"/></g>
<g class="r110" fill="#222" fill-opacity="0.08"><circle cx="442.8" cy="81.2"/><circle cx="449.7" cy="78.2"/><circle cx="450.1" cy="76.1"/><circle cx="439.9" cy="81.0"/><circle cx="442.0" cy="83.6"/><circle cx="441.8" cy="81.1"/><circle cx="440.3" cy="80.3"/><circle cx="443.8" cy="81.2"/><circle cx="442.8" cy="77.9"/><circle cx="440.6" cy="79.5"/><circle cx="447.5" cy="81.1"/><circle cx="449.5" cy="77.4"/><circle cx="441.2" cy="76.5"/><circle cx="444.6" cy="76.3"/><circle cx="447.1" cy="79.1"/><circle cx="446.0" cy="77.3"/><circle cx="443.9" cy="81.6"/><circle cx="450.7" cy="81.0"/><circle cx="450.9" cy="76.3"/><circle cx="450.1" cy="77.3"/><circle cx="446.1" cy="78.1"/><circle cx="456.0" cy="75.9"/><circle cx="454.9" cy="75.4"/><circle cx="445.2" cy="80.8"/><circle cx="446.5" cy="78.1"/><circle cx="452.4" cy="75.2"/><circle cx="443.5" cy="80.4"/><circle cx="448.8" cy="76.5"/><circle cx="447.3" cy="83.0"/><circle cx="443.9" cy="81.9"/><circle cx="446.0" cy="76.0"/><circle cx="440.0" cy="77.4"/><circle cx="444.6" cy="79.3"/><circle cx="438.1" cy="82.4"/><circle cx="457.3" cy="78.3"/><circle cx="453.8" cy="75.7"/><circle cx="452.6" cy="75.2"/><circle cx="448.4" cy="81.9"/><circle cx="451.5" cy="76.1"/><circle cx="452.8" cy="75.8"/><circle cx="451.6" cy="76.3"/><circle cx="451.2" cy="80.1"/><circle cx="442.9" cy="79.2"/><circle cx="449.0" cy="81.7"/><circle cx="444.6" cy="76.4"/><circle cx="441.7" cy="80.6"/><circle cx="441.9" cy="83.5"/><circle cx="449.0" cy="75.2"/><circle cx="451.8" cy="74.7"/><circle cx="440.9" cy="82.7"/><circle cx="454.9" cy="71.1"/><circle cx="453.6" cy="79.0"/><circle cx="445.3" cy="78.9"/><circle cx="444.9" cy="77.0"/><circle cx="446.7" cy="84.3"/><circle cx="451.4" cy="75.1"/><circle cx="445.3" cy="79.8"/><circle cx="442.0" cy="80.8"/><circle cx="448.6" cy="80.9"/><circle cx="437.7" cy="81.5"/><circle cx="447.6" cy="81.3"/><circle cx="452.2" cy="79.4"/><circle cx="448.4" cy="79.5"/><circle cx="450.5" cy="80.6"/><circle cx="449.2" cy="74.6"/><circle cx="450.3" cy="80.9"/><circle cx="447.7" cy="80.5"/><circle cx="443.3" cy="81.1"/><circle cx="446.0" cy="79.4"/><circle cx="446.7" cy="77.3"/><circle cx="452.7" cy="75.1"/><circle cx="454.3" cy="77.1"/><circle cx="448.9" cy="79.2"/><circle cx="443.6" cy="80.1"/><circle cx="443.7" cy="78.3"/><circle cx="446.2" cy="77.7"/><circle cx="453.2" cy="78.0"/><circle cx="448.5" cy="83.2"/><circle cx="446.8" cy="74.2"/><circle cx="443.6" cy="78.0"/><circle cx="451.0" cy="77.0"/><circle cx="448.3" cy="77.8"/><circle cx="446.8" cy="80.3"/><circle cx="447.5" cy="81.1"/><circle cx="454.6" cy="77.1"/><circle cx="446.3" cy="79.8"/><circle cx="454.6" cy="77.7"/><circle cx="452.6" cy="80.4"/><circle cx="447.2" cy="79.6"/><circle cx="451.0" cy="76.3"/><circle cx="446.4" cy="80.3"/><circle cx="443.3" cy="80.3"/><circle cx="445.8" cy="84.2"/><circle cx="442.9" cy="80.9"/><circle cx="449.3" cy="78.5"/><circle cx="447.1" cy="81.8"/><circle cx="449.6" cy="82.1"/><circle cx="450.7" cy="76.7"/><circle cx="433.0" cy="85.9"/><circle cx="448.4" cy="77.4"/><circle cx="438.9" cy="82.8"/><circle cx="447.7" cy="77.3"/><circle cx="443.1" cy="81.2"/><circle cx="447.5" cy="82.3"/><circle cx="453.1" cy="77.0"/><circle cx="439.3" cy="82.5"/><circle cx="447.9" cy="77.2"/><circle cx="446.6" cy="80.2"/><circle cx="438.5" cy="82.9"/><circle cx="449.9" cy="76.0"/><circle cx="447.2" cy="76.3"/><circle cx="444.7" cy="78.1"/><circle cx="443.8" cy="77.8"/><circle cx="461.5" cy="72.8"/><circle cx="445.2" cy="77.9"/><circle cx="438.9" cy="79.9"/><circle cx="442.8" cy="79.6"/><circle cx="445.4" cy="79.4"/><circle cx="445.3" cy="79.3"/><circle cx="446.6" cy="73.6"/><circle cx="442.3" cy="80.6"/><circle cx="449.4" cy="78.7"/><circle cx="444.8" cy="80.6"/><circle cx="440.9" cy="81.3"/><circle cx="443.3" cy="79.7"/><circle cx="445.3" cy="82.2"/><circle cx="450.8" cy="82.2"/><circle cx="449.2" cy="77.5"/><circle cx="445.5" cy="83.2"/><circle cx="447.1" cy="78.4"/><circle cx="448.0" cy="78.3"/><circle cx="456.2" cy="73.1"/><circle cx="444.2" cy="76.1"/><circle cx="449.1" cy="77.4"/><circle cx="450.3" cy="79.1"/><circle cx="442.7" cy="83.2"/><circle cx="447.9" cy="80.5"/><circle cx="447.7" cy="78.6"/><circle cx="444.9" cy="84.5"/><circle cx="449.6" cy="77.9"/><circle cx="451.6" cy="77.4"/><circle cx="452.1" cy="75.7"/><circle cx="446.1" cy="80.1"/><circle cx="447.9" cy="78.5"/><circle cx="457.6" cy="76.9"/><circle cx="442.0" cy="81.8"/><circle cx="448.0" cy="82.7"/><circle cx="451.0" cy="77.3"/><circle cx="447.7" cy="75.2"/><circle cx="450.0" cy="77.6"/><circle cx="447.8" cy="77.9"/><circle cx="450.4" cy="80.1"/><circle cx="452.8" cy="73.7"/><circle cx="446.0" cy="81.1"/><circle cx="447.9" cy="76.8"/><circle cx="446.8" cy="78.8"/><circle cx="445.2" cy="81.9"/><circle cx="446.9" cy="76.7"/><circle cx="441.9" cy="80.8"/><circle cx="450.4" cy="77.4"/><circle cx="454.7" cy="75.2"/><circle cx="454.7" cy="76.3"/><circle cx="452.7" cy="77.8"/><circle cx="442.7" cy="79.5"/><circle cx="453.8" cy="77.5"/><circle cx="443.8" cy="80.0"/><circle cx="446.8" cy="80.6"/><circle cx="455.3" cy="79.5"/><circle cx="442.2" cy="82.3"/><circle cx="450.8" cy="78.8"/><circle cx="448.3" cy="78.5"/><circle cx="446.3" cy="76.5"/><circle cx="443.1" cy="84.3"/><circle cx="448.9" cy="78.0"/><circle cx="444.9" cy="84.8"/><circle cx="451.7" cy="79.7"/><circle cx="452.5" cy="78.2"/><circle cx="440.8" cy="86.4"/><circle cx="444.7" cy="84.1"/><circle cx="445.6" cy="79.2"/><circle cx="441.7" cy="80.7"/><circle cx="442.0" cy="81.1"/><circle cx="447.4" cy="80.7"/><circle cx="446.1" cy="74.4"/><circle cx="439.6" cy="82.0"/><circle cx="444.6" cy="81.8"/><circle cx="449.3" cy="74.3"/><circle cx="441.6" cy="79.5"/><circle cx="442.8" cy="81.3"/><circle cx="454.1" cy="73.7"/><circle cx="452.9" cy="76.5"/><circle cx="439.7" cy="80.1"/><circle cx="440.9" cy="80.6"/><circle cx="448.7" cy="80.8"/><circle cx="441.6" cy="78.7"/><circle cx="445.9" cy="79.0"/><circle cx="445.0" cy="82.0"/><circle cx="449.5" cy="79.9"/><circle cx="435.6" cy="80.8"/><circle cx="437.1" cy="83.4"/><circle cx="441.5" cy="80.9"/><circle cx="451.6" cy="75.9"/><circle cx="446.3" cy="79.0"/><circle cx="439.3" cy="85.2"/><circle cx="449.2" cy="76.7"/><circle cx="450.2" cy="75.7"/><circle cx="445.9" cy="77.4"/><circle cx="445.5" cy="75.8"/><circle cx="449.0" cy="77.5"/><circle cx="452.4" cy="75.3"/><circle cx="447.7" cy="75.1"/><circle cx="449.4" cy="78.8"/><circle cx="446.8" cy="75.1"/><circle cx="445.3" cy="75.6"/><circle cx="442.9" cy="78.7"/><circle cx="448.2" cy="74.4"/><circle cx="445.6" cy="77.5"/><circle cx="445.9" cy="81.4"/><circle cx="451.2" cy="74.9"/><circle cx="449.2" cy="77.5"/><circle cx="450.9" cy="76.7"/><circle cx="439.9" cy="81.2"/><circle cx="449.5" cy="75.0"/><circle cx="444.3" cy="78.7"/><circle cx="443.4" cy="81.9"/><circle cx="443.2" cy="79.2"/><circle cx="452.5" cy="75.4"/><circle cx="450.7" cy="79.3"/><circle cx="443.8" cy="81.1"/><circle cx="441.9" cy="81.7"/><circle cx="447.1" cy="80.4"/><circle cx="444.9" cy="78.9"/><circle cx="454.5" cy="74.0"/><circle cx="440.4" cy="77.0"/><circle cx="438.8" cy="79.2"/><circle cx="445.8" cy="77.1"/><circle cx="447.0" cy="76.4"/><circle cx="447.6" cy="75.7"/><circle cx="450.4" cy="78.7"/><circle cx="456.3" cy="74.1"/><circle cx="445.5" cy="78.8"/><circle cx="444.6" cy="80.2"/><circle cx="439.1" cy="82.9"/><circle cx="448.1" cy="79.8"/><circle cx="450.8" cy="78.3"/><circle cx="445.8" cy="82.3"/><circle cx="452.3" cy="75.9"/><circle cx="447.1" cy="79.0"/><circle cx="453.8" cy="76.3"/><circle cx="448.5" cy="77.7"/><circle cx="442.2" cy="79.0"/><circle cx="444.1" cy="81.4"/><circle cx="440.1" cy="81.7"/><circle cx="439.2" cy="85.5"/><circle cx="448.2" cy="83.7"/><circle cx="450.9" cy="82.1"/><circle cx="455.8" cy="72.3"/><circle cx="446.8" cy="83.3"/><circle cx="445.9" cy="78.3"/><circle cx="442.0" cy="77.4"/><circle cx="451.4" cy="78.5"/><circle cx="448.8" cy="74.6"/><circle cx="444.3" cy="75.7"/><circle cx="450.1" cy="75.7"/><circle cx="449.5" cy="72.6"/><circle cx="438.6" cy="80.6"/><circle cx="450.3" cy="79.5"/><circle cx="447.6" cy="77.6"/><circle cx="445.2" cy="80.6"/><circle cx="445.1" cy="82.7"/><circle cx="454.9" cy="79.1"/><circle cx="453.9" cy="71.2"/><circle cx="455.2" cy="77.3"/><circle cx="441.8" cy="80.9"/><circle cx="444.1" cy="81.6"/><circle cx="451.1" cy="77.2"/><circle cx="441.6" cy="81.5"/><circle cx="443.8" cy="81.1"/><circle cx="438.9" cy="84.7"/><circle cx="455.3" cy="79.3"/><circle cx="451.8" cy="79.0"/><circle cx="449.1" cy="77.6"/><circle cx="448.0" cy="73.8"/><circle cx="445.1" cy="77.2"/><circle cx="445.2" cy="75.4"/><circle cx="449.8" cy="76.9"/><circle cx="443.8" cy="80.3"/><circle cx="452.5" cy="80.0"/><circle cx="444.8" cy="79.7"/><circle cx="443.1" cy="85.3"/><circle cx="452.8" cy="77.6"/><circle cx="446.4" cy="75.4"/><circle cx="449.5" cy="77.3"/><circle cx="445.1" cy="77.0"/><circle cx="436.9" cy="83.4"/><circle cx="449.5" cy="81.2"/><circle cx="440.9" cy="82.2"/><circle cx="451.9" cy="78.1"/><circle cx="440.0" cy="78.7"/><circle cx="438.6" cy="77.4"/><circle cx="448.4" cy="80.2"/><circle cx="448.9" cy="79.1"/><circle cx="447.5" cy="79.1"/><circle cx="441.5" cy="81.7"/><circle cx="451.0" cy="80.4"/><circle cx="440.4" cy="81.1"/><circle cx="444.9" cy="78.9"/><circle cx="443.5" cy="79.3"/><circle cx="445.3" cy="82.3"/><circle cx="450.8" cy="77.8"/><circle cx="444.1" cy="84.0"/><circle cx="449.5" cy="75.9"/><circle cx="450.1" cy="80.2"/><circle cx="439.3" cy="82.3"/><circle cx="441.8" cy="81.8"/><circle cx="445.3" cy="80.9"/><circle cx="444.3" cy="82.3"/><circle cx="448.4" cy="82.5"/><circle cx="438.3" cy="78.0"/><circle cx="450.2" cy="77.2"/><circle cx="450.4" cy="77.1"/><circle cx="446.2" cy="74.4"/><circle cx="440.8" cy="81.4"/><circle cx="447.0" cy="77.7"/><circle cx="444.6" cy="79.7"/><circle cx="449.5" cy="75.3"/><circle cx="446.6" cy="77.9"/><circle cx="450.3" cy="77.0"/><circle cx="445.1" cy="80.2"/><circle cx="453.5" cy="76.0"/><circle cx="436.6" cy="79.9"/><circle cx="442.4" cy="85.3"/><circle cx="449.2" cy="78.4"/><circle cx="440.2" cy="82.3"/><circle cx="450.3" cy="78.4"/><circle cx="441.5" cy="85.4"/><circle cx="447.4" cy="77.1"/><circle cx="442.9" cy="82.3"/><circle cx="445.0" cy="80.2"/><circle cx="447.8" cy="79.8"/><circle cx="446.5" cy="82.9"/><circle cx="445.3" cy="80.6"/><circle cx="456.7" cy="79.7"/><circle cx="447.0" cy="81.1"/><circle cx="442.6" cy="81.2"/><circle cx="451.2" cy="77.5"/><circle cx="450.7" cy="77.5"/><circle cx="452.5" cy="77.3"/><circle cx="455.0" cy="71.1"/><circle cx="442.8" cy="79.4"/><circle cx="451.8" cy="80.0"/><circle cx="452.1" cy="78.5"/><circle cx="447.0" cy="80.4"/><circle cx="448.1" cy="78.9"/><circle cx="433.5" cy="85.1"/><circle cx="444.4" cy="81.8"/><circle cx="455.0" cy="72.3"/><circle cx="439.0" cy="81.7"/><circle cx="444.6" cy="80.6"/><circle cx="448.3" cy="79.0"/><circle cx="449.6" cy="78.5"/><circle cx="454.3" cy="73.1"/><circle cx="439.1" cy="80.6"/><circle cx="447.2" cy="76.3"/><circle cx="450.9" cy="84.7"/><circle cx="441.1" cy="80.3"/><circle cx="446.8" cy="76.5"/><circle cx="455.5" cy="71.4"/><circle cx="452.9" cy="76.7"/><circle cx="449.4" cy="82.0"/><circle cx="435.2" cy="81.7"/><circle cx="446.4" cy="80.5"/><circle cx="448.7" cy="82.4"/><circle cx="445.6" cy="80.8"/><circle cx="446.7" cy="76.6"/><circle cx="460.9" cy="71.2"/><circle cx="446.0" cy="77.6"/><circle cx="442.6" cy="82.9"/><circle cx="448.1" cy="72.7"/><circle cx="445.6" cy="82.1"/></g>
<line x1="432.3" y1="24.4" x2="432.3" y2="128" stroke="#7c7c7c" stroke-width="1"/>
<line x1="457.5" y1="24.4" x2="457.5" y2="128" stroke="#7c7c7c" stroke-width="1"/>
<line x1="389" y1="70.5" x2="513.5" y2="70.5" stroke="#7c7c7c" stroke-width="1"/>
<line x1="389" y1="92" x2="513.5" y2="92" stroke="#7c7c7c" stroke-width="1"/>
<line x1="389" y1="128" x2="513.5" y2="24.4" stroke="#c23b36" stroke-width="1.2"/>
<g class="r95" fill="#111" fill-opacity="1"><circle cx="468.0" cy="33.8"/><circle cx="473.0" cy="48.5"/><circle cx="474.5" cy="55.5"/><circle cx="482.0" cy="56.5"/><circle cx="466.0" cy="61.0"/><circle cx="455.5" cy="67.5"/><circle cx="463.5" cy="66.0"/><circle cx="456.0" cy="73.0"/><circle cx="470.0" cy="72.5"/></g>
<g class="r110" fill="#111" fill-opacity="1"><circle cx="416.4" cy="93.0"/><circle cx="424.5" cy="94.5"/><circle cx="418.0" cy="97.5"/><circle cx="426.0" cy="96.0"/><circle cx="416.5" cy="104.5"/></g>
<text x="464" y="32.4" font-size="4.7" fill="#1a1a1a" textLength="14.6" lengthAdjust="spacingAndGlyphs" stroke="#1a1a1a" stroke-width="0.15">MMP13</text>
<text x="463.8" y="48.2" font-size="4.7" fill="#1a1a1a" textLength="9.7" lengthAdjust="spacingAndGlyphs" stroke="#1a1a1a" stroke-width="0.15">CD36</text>
<text x="464" y="54.8" font-size="4.7" fill="#1a1a1a" textLength="13.5" lengthAdjust="spacingAndGlyphs" stroke="#1a1a1a" stroke-width="0.15">ENPP1</text>
<text x="484" y="54.4" font-size="4.7" fill="#1a1a1a" textLength="11" lengthAdjust="spacingAndGlyphs" stroke="#1a1a1a" stroke-width="0.15">NCAM</text>
<text x="455.4" y="61" font-size="4.7" fill="#1a1a1a" textLength="13.3" lengthAdjust="spacingAndGlyphs" stroke="#1a1a1a" stroke-width="0.15">PCDH1</text>
<text x="445.4" y="67.2" font-size="4.7" fill="#1a1a1a" textLength="11.6" lengthAdjust="spacingAndGlyphs" stroke="#1a1a1a" stroke-width="0.15">NCAM1</text>
<text x="464" y="67.2" font-size="4.7" fill="#1a1a1a" textLength="19" lengthAdjust="spacingAndGlyphs" stroke="#1a1a1a" stroke-width="0.15">ENTPD2</text>
<text x="450" y="74.3" font-size="4.7" fill="#1a1a1a" textLength="11" lengthAdjust="spacingAndGlyphs" stroke="#1a1a1a" stroke-width="0.15">NR2E1</text>
<text x="467.6" y="73.2" font-size="4.7" fill="#1a1a1a" textLength="12.1" lengthAdjust="spacingAndGlyphs" stroke="#1a1a1a" stroke-width="0.15">PTPRF</text>
<text x="407" y="91.8" font-size="4.7" fill="#1a1a1a" textLength="9.4" lengthAdjust="spacingAndGlyphs" stroke="#1a1a1a" stroke-width="0.15">CD96</text>
<text x="419.9" y="91.8" font-size="4.7" fill="#1a1a1a" textLength="13.8" lengthAdjust="spacingAndGlyphs" stroke="#1a1a1a" stroke-width="0.15">LILRB4</text>
<text x="409.8" y="98.3" font-size="4.7" fill="#1a1a1a" textLength="13.2" lengthAdjust="spacingAndGlyphs" stroke="#1a1a1a" stroke-width="0.15">EPCAM</text>
<text x="427" y="101" font-size="4.7" fill="#1a1a1a" textLength="16" lengthAdjust="spacingAndGlyphs" stroke="#1a1a1a" stroke-width="0.15">SLC45A1</text>
<text x="405.8" y="108.8" font-size="4.7" fill="#1a1a1a" textLength="14.1" lengthAdjust="spacingAndGlyphs" stroke="#1a1a1a" stroke-width="0.15">SLC8A1</text>
<rect x="389" y="24.4" width="124.5" height="103.6" fill="none" stroke="#1c1c1c" stroke-width="1.15"/>
<line x1="413.3" y1="128" x2="413.3" y2="131" stroke="#1c1c1c" stroke-width="0.9"/>
<text x="413.3" y="140.9" font-size="7.7" fill="#2b2b2b" text-anchor="middle" stroke="#2b2b2b" stroke-width="0.18">−5</text>
<line x1="444.7" y1="128" x2="444.7" y2="131" stroke="#1c1c1c" stroke-width="0.9"/>
<text x="444.7" y="140.9" font-size="7.7" fill="#2b2b2b" text-anchor="middle" stroke="#2b2b2b" stroke-width="0.18">0</text>
<line x1="476.1" y1="128" x2="476.1" y2="131" stroke="#1c1c1c" stroke-width="0.9"/>
<text x="476.1" y="140.9" font-size="7.7" fill="#2b2b2b" text-anchor="middle" stroke="#2b2b2b" stroke-width="0.18">5</text>
<line x1="507.5" y1="128" x2="507.5" y2="131" stroke="#1c1c1c" stroke-width="0.9"/>
<text x="507.5" y="140.9" font-size="7.7" fill="#2b2b2b" text-anchor="middle" stroke="#2b2b2b" stroke-width="0.18">10</text>
<line x1="386.2" y1="28.2" x2="389" y2="28.2" stroke="#1c1c1c" stroke-width="0.9"/>
<text x="383.8" y="30.95" font-size="7.7" fill="#2b2b2b" text-anchor="end" stroke="#2b2b2b" stroke-width="0.18">10</text>
<line x1="386.2" y1="54.65" x2="389" y2="54.65" stroke="#1c1c1c" stroke-width="0.9"/>
<text x="383.8" y="57.4" font-size="7.7" fill="#2b2b2b" text-anchor="end" stroke="#2b2b2b" stroke-width="0.18">5</text>
<line x1="386.2" y1="81.1" x2="389" y2="81.1" stroke="#1c1c1c" stroke-width="0.9"/>
<text x="383.8" y="83.85" font-size="7.7" fill="#2b2b2b" text-anchor="end" stroke="#2b2b2b" stroke-width="0.18">0</text>
<line x1="386.2" y1="107.55" x2="389" y2="107.55" stroke="#1c1c1c" stroke-width="0.9"/>
<text x="383.8" y="110.3" font-size="7.7" fill="#2b2b2b" text-anchor="end" stroke="#2b2b2b" stroke-width="0.18">−5</text>
<text x="393.6" y="34.6" font-size="7.6" fill="#1c1c1c">Pano</text>
<text x="451.25" y="153.5" font-size="8.8" fill="#2b2b2b" text-anchor="middle" textLength="42" lengthAdjust="spacingAndGlyphs" stroke="#2b2b2b" stroke-width="0.3">Log2FC protein</text>
<text x="368.2" y="76.4" font-size="8.4" fill="#2b2b2b" text-anchor="middle" textLength="34.6" lengthAdjust="spacingAndGlyphs" transform="rotate(-90 368.2 76.4)" stroke="#2b2b2b" stroke-width="0.3">Log2FC RNA</text>
<g class="r80" fill="#a4a4a9" fill-opacity="0.4"><circle cx="73.4" cy="305.2"/><circle cx="77.6" cy="293.5"/><circle cx="77.0" cy="288.3"/><circle cx="82.1" cy="296.5"/><circle cx="75.1" cy="302.0"/><circle cx="81.2" cy="289.5"/><circle cx="76.3" cy="295.5"/><circle cx="73.5" cy="297.3"/><circle cx="70.7" cy="300.9"/><circle cx="77.3" cy="299.1"/><circle cx="81.0" cy="299.5"/><circle cx="81.3" cy="292.5"/><circle cx="72.9" cy="296.2"/><circle cx="72.8" cy="300.4"/><circle cx="76.3" cy="297.1"/><circle cx="75.3" cy="286.0"/><circle cx="75.0" cy="292.0"/><circle cx="73.2" cy="297.6"/><circle cx="79.0" cy="288.4"/><circle cx="73.5" cy="304.5"/><circle cx="80.5" cy="302.8"/><circle cx="72.0" cy="298.0"/><circle cx="71.4" cy="302.0"/><circle cx="75.6" cy="296.5"/><circle cx="81.3" cy="296.7"/><circle cx="84.8" cy="304.0"/><circle cx="73.8" cy="300.6"/><circle cx="76.1" cy="291.7"/><circle cx="74.0" cy="296.0"/><circle cx="76.9" cy="292.8"/><circle cx="74.9" cy="299.4"/><circle cx="81.6" cy="293.8"/><circle cx="76.8" cy="297.7"/><circle cx="76.3" cy="301.5"/><circle cx="81.1" cy="304.7"/><circle cx="75.0" cy="301.2"/><circle cx="83.4" cy="291.8"/><circle cx="82.3" cy="297.3"/><circle cx="79.6" cy="297.1"/><circle cx="71.1" cy="300.6"/><circle cx="81.6" cy="303.9"/><circle cx="74.6" cy="300.1"/><circle cx="79.7" cy="294.1"/><circle cx="77.8" cy="282.2"/><circle cx="74.8" cy="303.3"/><circle cx="80.5" cy="284.1"/><circle cx="79.1" cy="281.0"/><circle cx="76.3" cy="287.7"/><circle cx="80.4" cy="302.2"/><circle cx="83.2" cy="300.2"/><circle cx="72.0" cy="303.3"/><circle cx="78.2" cy="302.3"/><circle cx="71.8" cy="305.1"/><circle cx="76.4" cy="295.4"/><circle cx="79.6" cy="303.4"/><circle cx="80.4" cy="293.2"/><circle cx="84.5" cy="303.2"/><circle cx="83.9" cy="301.3"/><circle cx="74.6" cy="292.7"/><circle cx="80.7" cy="296.9"/><circle cx="76.9" cy="298.6"/><circle cx="70.8" cy="305.2"/><circle cx="83.6" cy="294.4"/><circle cx="80.4" cy="288.2"/><circle cx="77.5" cy="300.9"/><circle cx="85.0" cy="305.0"/><circle cx="71.7" cy="300.6"/><circle cx="82.0" cy="299.0"/><circle cx="81.8" cy="293.0"/><circle cx="77.1" cy="283.9"/><circle cx="81.3" cy="297.6"/><circle cx="81.7" cy="304.9"/><circle cx="79.6" cy="282.9"/><circle cx="70.9" cy="300.2"/><circle cx="77.2" cy="293.1"/><circle cx="77.1" cy="286.9"/><circle cx="79.0" cy="304.9"/><circle cx="78.8" cy="284.5"/><circle cx="79.5" cy="287.8"/><circle cx="78.3" cy="301.4"/><circle cx="81.5" cy="286.1"/><circle cx="78.4" cy="291.3"/><circle cx="70.8" cy="301.8"/><circle cx="75.2" cy="302.2"/><circle cx="78.6" cy="295.5"/><circle cx="77.9" cy="298.7"/><circle cx="70.9" cy="302.1"/><circle cx="83.5" cy="301.5"/><circle cx="76.5" cy="289.3"/><circle cx="80.3" cy="283.1"/><circle cx="81.8" cy="288.7"/><circle cx="80.8" cy="281.9"/><circle cx="84.3" cy="298.4"/><circle cx="74.4" cy="296.6"/><circle cx="79.4" cy="296.2"/><circle cx="74.3" cy="296.5"/><circle cx="72.5" cy="298.8"/><circle cx="76.2" cy="285.7"/><circle cx="79.8" cy="298.4"/><circle cx="82.9" cy="295.1"/><circle cx="75.0" cy="293.7"/><circle cx="73.0" cy="297.3"/><circle cx="83.0" cy="288.2"/><circle cx="75.7" cy="295.8"/><circle cx="83.6" cy="305.0"/><circle cx="74.1" cy="292.4"/><circle cx="75.3" cy="298.9"/><circle cx="76.5" cy="298.2"/><circle cx="74.0" cy="305.5"/><circle cx="73.2" cy="296.0"/><circle cx="80.3" cy="294.0"/><circle cx="74.0" cy="296.8"/><circle cx="74.8" cy="301.7"/><circle cx="81.9" cy="303.4"/><circle cx="71.9" cy="297.1"/><circle cx="75.1" cy="291.2"/><circle cx="81.7" cy="290.9"/><circle cx="79.2" cy="287.3"/><circle cx="82.9" cy="289.0"/><circle cx="78.4" cy="303.4"/><circle cx="79.2" cy="296.2"/><circle cx="79.0" cy="302.7"/><circle cx="83.2" cy="304.4"/><circle cx="73.5" cy="292.3"/><circle cx="83.1" cy="302.5"/><circle cx="75.6" cy="286.1"/><circle cx="76.4" cy="303.9"/><circle cx="81.9" cy="299.5"/><circle cx="76.7" cy="300.3"/><circle cx="75.0" cy="295.4"/><circle cx="80.0" cy="284.2"/><circle cx="75.7" cy="295.2"/><circle cx="78.7" cy="303.7"/><circle cx="81.9" cy="296.5"/><circle cx="73.9" cy="304.8"/><circle cx="82.7" cy="291.1"/><circle cx="71.8" cy="303.8"/><circle cx="81.3" cy="298.1"/><circle cx="79.8" cy="302.0"/><circle cx="75.6" cy="288.1"/><circle cx="72.4" cy="299.9"/><circle cx="77.6" cy="292.1"/><circle cx="82.1" cy="294.4"/><circle cx="75.6" cy="304.7"/><circle cx="76.0" cy="287.8"/><circle cx="79.2" cy="282.7"/><circle cx="77.0" cy="296.2"/><circle cx="82.3" cy="289.4"/><circle cx="75.1" cy="290.3"/><circle cx="78.1" cy="304.2"/><circle cx="77.5" cy="298.7"/><circle cx="82.6" cy="290.0"/><circle cx="82.4" cy="292.9"/><circle cx="79.5" cy="283.7"/><circle cx="79.7" cy="303.2"/><circle cx="81.9" cy="300.9"/><circle cx="82.6" cy="283.4"/><circle cx="77.8" cy="286.3"/><circle cx="81.2" cy="289.1"/><circle cx="81.3" cy="282.7"/><circle cx="82.4" cy="300.1"/><circle cx="80.9" cy="287.3"/><circle cx="83.1" cy="301.0"/><circle cx="74.0" cy="294.0"/><circle cx="80.8" cy="297.0"/><circle cx="78.9" cy="289.7"/><circle cx="80.8" cy="289.5"/><circle cx="79.2" cy="282.9"/><circle cx="80.4" cy="284.5"/><circle cx="79.6" cy="303.9"/><circle cx="74.1" cy="301.2"/><circle cx="82.4" cy="304.4"/><circle cx="74.5" cy="287.7"/><circle cx="79.7" cy="296.8"/><circle cx="83.2" cy="300.1"/><circle cx="80.8" cy="286.4"/><circle cx="81.8" cy="299.6"/><circle cx="80.9" cy="283.8"/><circle cx="83.3" cy="290.3"/><circle cx="83.2" cy="299.8"/><circle cx="76.3" cy="293.2"/><circle cx="76.4" cy="297.6"/><circle cx="77.2" cy="304.4"/><circle cx="78.3" cy="281.8"/><circle cx="81.2" cy="285.4"/><circle cx="78.8" cy="292.2"/><circle cx="75.2" cy="290.7"/><circle cx="81.3" cy="287.4"/><circle cx="82.7" cy="285.4"/><circle cx="71.2" cy="303.0"/><circle cx="77.2" cy="291.0"/><circle cx="72.1" cy="301.4"/><circle cx="71.8" cy="296.1"/><circle cx="73.1" cy="293.8"/><circle cx="73.4" cy="303.6"/><circle cx="76.1" cy="292.1"/><circle cx="83.2" cy="305.0"/><circle cx="71.5" cy="302.1"/><circle cx="75.9" cy="293.2"/><circle cx="77.9" cy="294.0"/><circle cx="70.4" cy="303.8"/><circle cx="82.0" cy="297.0"/><circle cx="82.4" cy="298.3"/><circle cx="71.3" cy="298.3"/><circle cx="82.6" cy="294.4"/><circle cx="72.4" cy="304.6"/><circle cx="81.8" cy="304.7"/><circle cx="72.5" cy="299.6"/><circle cx="78.8" cy="287.6"/><circle cx="75.7" cy="286.6"/><circle cx="79.0" cy="303.6"/><circle cx="77.1" cy="284.9"/><circle cx="72.3" cy="299.0"/><circle cx="81.9" cy="293.1"/><circle cx="81.6" cy="294.5"/><circle cx="79.0" cy="304.6"/><circle cx="73.1" cy="292.0"/><circle cx="77.1" cy="298.9"/><circle cx="80.2" cy="281.7"/><circle cx="82.1" cy="285.3"/><circle cx="74.1" cy="304.7"/><circle cx="76.3" cy="294.0"/><circle cx="75.9" cy="299.2"/><circle cx="80.5" cy="291.7"/><circle cx="78.0" cy="294.7"/><circle cx="83.1" cy="288.8"/><circle cx="79.4" cy="298.8"/><circle cx="79.8" cy="283.4"/><circle cx="79.0" cy="288.3"/><circle cx="81.3" cy="296.9"/><circle cx="81.9" cy="292.4"/><circle cx="74.3" cy="296.6"/><circle cx="75.2" cy="303.5"/><circle cx="81.4" cy="301.3"/><circle cx="80.7" cy="295.1"/><circle cx="79.6" cy="292.5"/><circle cx="81.4" cy="280.7"/><circle cx="77.6" cy="299.0"/><circle cx="75.2" cy="301.1"/><circle cx="80.9" cy="303.7"/><circle cx="74.3" cy="302.8"/><circle cx="75.9" cy="296.4"/><circle cx="77.8" cy="300.6"/><circle cx="70.9" cy="300.7"/><circle cx="76.3" cy="298.7"/><circle cx="75.6" cy="297.0"/><circle cx="75.8" cy="298.9"/><circle cx="80.6" cy="285.4"/><circle cx="83.7" cy="303.7"/><circle cx="75.0" cy="299.4"/><circle cx="71.9" cy="304.2"/><circle cx="72.5" cy="302.5"/><circle cx="79.9" cy="292.8"/><circle cx="78.8" cy="297.6"/><circle cx="82.5" cy="302.6"/><circle cx="80.4" cy="298.8"/><circle cx="81.4" cy="282.0"/><circle cx="82.3" cy="303.1"/><circle cx="75.8" cy="302.5"/><circle cx="72.3" cy="301.4"/><circle cx="81.4" cy="289.5"/><circle cx="76.4" cy="301.8"/><circle cx="77.2" cy="291.1"/><circle cx="83.2" cy="290.6"/><circle cx="80.3" cy="291.2"/><circle cx="76.3" cy="290.9"/><circle cx="74.5" cy="303.3"/><circle cx="81.3" cy="298.2"/><circle cx="76.5" cy="289.6"/><circle cx="78.4" cy="290.2"/><circle cx="81.7" cy="284.7"/><circle cx="80.3" cy="296.6"/><circle cx="73.3" cy="305.2"/><circle cx="74.0" cy="304.3"/><circle cx="81.3" cy="305.0"/><circle cx="81.5" cy="297.5"/><circle cx="78.3" cy="289.1"/><circle cx="76.3" cy="286.3"/><circle cx="79.4" cy="287.5"/><circle cx="82.3" cy="294.0"/><circle cx="78.8" cy="295.2"/><circle cx="76.4" cy="303.5"/><circle cx="83.0" cy="305.2"/><circle cx="73.8" cy="301.8"/><circle cx="79.3" cy="304.0"/><circle cx="78.1" cy="284.8"/><circle cx="79.6" cy="292.0"/><circle cx="74.3" cy="292.8"/><circle cx="82.8" cy="299.0"/><circle cx="78.1" cy="295.5"/><circle cx="78.8" cy="283.3"/><circle cx="77.0" cy="285.1"/><circle cx="80.0" cy="292.1"/><circle cx="75.0" cy="294.0"/><circle cx="74.8" cy="292.4"/><circle cx="75.6" cy="296.3"/><circle cx="78.0" cy="304.0"/><circle cx="75.6" cy="295.7"/><circle cx="78.0" cy="289.3"/><circle cx="79.5" cy="290.5"/><circle cx="77.1" cy="283.2"/><circle cx="73.7" cy="305.3"/><circle cx="77.6" cy="302.5"/><circle cx="81.7" cy="288.8"/><circle cx="84.0" cy="302.0"/><circle cx="79.1" cy="298.3"/><circle cx="75.0" cy="299.5"/><circle cx="81.0" cy="303.3"/><circle cx="74.4" cy="296.1"/><circle cx="78.3" cy="303.0"/><circle cx="80.8" cy="297.5"/><circle cx="79.9" cy="286.3"/><circle cx="75.7" cy="286.0"/><circle cx="82.3" cy="281.2"/><circle cx="74.1" cy="291.1"/><circle cx="82.0" cy="291.9"/><circle cx="78.2" cy="300.8"/><circle cx="77.8" cy="293.8"/><circle cx="76.4" cy="302.5"/><circle cx="77.9" cy="282.5"/><circle cx="82.1" cy="293.0"/><circle cx="74.5" cy="302.2"/><circle cx="81.0" cy="281.3"/><circle cx="80.6" cy="291.0"/><circle cx="71.9" cy="298.5"/><circle cx="81.7" cy="304.2"/><circle cx="77.0" cy="302.7"/><circle cx="76.4" cy="296.3"/><circle cx="80.8" cy="283.3"/><circle cx="79.1" cy="282.9"/><circle cx="76.5" cy="284.9"/><circle cx="79.7" cy="302.0"/><circle cx="76.4" cy="292.4"/><circle cx="79.6" cy="297.7"/><circle cx="74.1" cy="297.7"/><circle cx="77.3" cy="297.2"/><circle cx="73.8" cy="291.3"/><circle cx="82.9" cy="302.0"/><circle cx="72.5" cy="294.1"/><circle cx="78.8" cy="282.5"/><circle cx="76.4" cy="287.4"/><circle cx="81.8" cy="286.8"/><circle cx="76.7" cy="294.8"/><circle cx="74.6" cy="302.1"/><circle cx="72.2" cy="301.3"/><circle cx="84.6" cy="302.5"/><circle cx="70.8" cy="304.0"/><circle cx="77.3" cy="287.9"/><circle cx="70.8" cy="300.9"/><circle cx="82.3" cy="288.3"/><circle cx="79.4" cy="291.4"/><circle cx="82.5" cy="288.2"/><circle cx="74.7" cy="287.9"/><circle cx="73.2" cy="299.2"/><circle cx="76.4" cy="293.0"/><circle cx="81.7" cy="303.3"/><circle cx="84.4" cy="303.7"/><circle cx="79.3" cy="305.2"/><circle cx="74.5" cy="295.6"/><circle cx="82.0" cy="293.5"/><circle cx="75.9" cy="297.1"/><circle cx="70.1" cy="304.7"/><circle cx="76.3" cy="290.7"/><circle cx="73.4" cy="303.4"/><circle cx="77.3" cy="293.6"/><circle cx="78.3" cy="296.6"/><circle cx="81.9" cy="289.0"/><circle cx="80.7" cy="283.4"/><circle cx="83.6" cy="301.3"/><circle cx="80.9" cy="295.5"/><circle cx="76.6" cy="283.9"/><circle cx="76.3" cy="295.7"/><circle cx="76.9" cy="296.4"/><circle cx="71.9" cy="303.4"/><circle cx="81.0" cy="302.5"/><circle cx="76.5" cy="291.2"/><circle cx="81.0" cy="291.3"/><circle cx="74.7" cy="295.5"/><circle cx="76.5" cy="297.4"/><circle cx="79.3" cy="299.4"/><circle cx="76.3" cy="287.8"/><circle cx="79.9" cy="284.3"/><circle cx="75.2" cy="289.6"/><circle cx="74.5" cy="302.8"/><circle cx="75.2" cy="293.1"/><circle cx="77.0" cy="300.9"/><circle cx="79.6" cy="302.9"/><circle cx="78.5" cy="298.9"/><circle cx="80.7" cy="302.4"/><circle cx="75.5" cy="302.1"/><circle cx="82.0" cy="280.6"/><circle cx="80.5" cy="304.0"/><circle cx="74.4" cy="302.5"/><circle cx="76.5" cy="291.3"/><circle cx="78.9" cy="285.2"/><circle cx="74.6" cy="305.2"/><circle cx="82.6" cy="285.0"/><circle cx="73.4" cy="292.4"/><circle cx="82.7" cy="304.9"/><circle cx="76.7" cy="292.7"/><circle cx="79.3" cy="291.4"/><circle cx="80.9" cy="283.4"/><circle cx="73.9" cy="303.9"/><circle cx="70.5" cy="302.0"/><circle cx="83.8" cy="301.3"/><circle cx="78.3" cy="295.4"/><circle cx="80.3" cy="304.0"/><circle cx="79.1" cy="286.1"/><circle cx="81.8" cy="292.7"/><circle cx="80.0" cy="292.5"/><circle cx="78.0" cy="297.6"/><circle cx="75.8" cy="287.4"/><circle cx="72.1" cy="298.0"/><circle cx="78.8" cy="290.5"/><circle cx="78.3" cy="302.3"/><circle cx="78.8" cy="284.0"/><circle cx="79.3" cy="295.0"/><circle cx="71.8" cy="297.9"/><circle cx="80.7" cy="302.4"/><circle cx="74.6" cy="292.0"/><circle cx="79.4" cy="294.6"/><circle cx="73.0" cy="298.5"/><circle cx="77.5" cy="292.5"/><circle cx="76.6" cy="296.3"/><circle cx="71.8" cy="297.8"/><circle cx="78.3" cy="283.9"/><circle cx="74.7" cy="289.1"/><circle cx="81.0" cy="297.9"/><circle cx="76.0" cy="301.6"/><circle cx="74.8" cy="295.9"/><circle cx="82.1" cy="282.0"/><circle cx="76.7" cy="284.7"/><circle cx="70.8" cy="300.2"/><circle cx="82.0" cy="290.3"/><circle cx="77.5" cy="305.4"/><circle cx="78.5" cy="281.9"/><circle cx="77.0" cy="296.9"/><circle cx="77.9" cy="298.0"/><circle cx="70.7" cy="300.8"/><circle cx="74.8" cy="288.4"/><circle cx="73.1" cy="296.1"/><circle cx="79.4" cy="305.4"/><circle cx="71.2" cy="300.0"/><circle cx="74.9" cy="305.1"/><circle cx="75.0" cy="289.5"/><circle cx="81.1" cy="289.2"/><circle cx="76.0" cy="286.0"/><circle cx="76.8" cy="297.1"/><circle cx="80.5" cy="284.2"/><circle cx="73.0" cy="294.5"/><circle cx="78.4" cy="304.0"/><circle cx="75.0" cy="289.2"/><circle cx="73.0" cy="296.9"/><circle cx="73.8" cy="289.6"/><circle cx="83.5" cy="296.2"/><circle cx="75.0" cy="287.8"/><circle cx="82.8" cy="298.1"/><circle cx="83.1" cy="288.8"/><circle cx="77.4" cy="299.7"/><circle cx="82.3" cy="285.7"/><circle cx="81.6" cy="303.7"/><circle cx="70.5" cy="304.5"/><circle cx="74.0" cy="290.5"/><circle cx="76.5" cy="297.4"/><circle cx="74.7" cy="291.1"/><circle cx="74.4" cy="297.7"/><circle cx="80.7" cy="294.5"/><circle cx="77.5" cy="283.7"/><circle cx="84.4" cy="304.4"/><circle cx="75.4" cy="300.8"/><circle cx="74.0" cy="295.9"/><circle cx="78.4" cy="283.3"/><circle cx="79.2" cy="292.5"/><circle cx="81.1" cy="289.0"/><circle cx="78.2" cy="303.8"/><circle cx="78.6" cy="300.9"/><circle cx="71.5" cy="301.6"/><circle cx="73.3" cy="300.3"/><circle cx="72.8" cy="302.0"/><circle cx="77.3" cy="289.5"/><circle cx="80.9" cy="282.7"/><circle cx="72.5" cy="298.9"/><circle cx="83.3" cy="296.1"/><circle cx="75.9" cy="289.5"/><circle cx="75.3" cy="298.0"/><circle cx="83.4" cy="293.2"/><circle cx="81.9" cy="282.7"/><circle cx="74.7" cy="302.6"/><circle cx="79.0" cy="300.2"/><circle cx="76.9" cy="286.2"/><circle cx="74.1" cy="300.3"/><circle cx="76.1" cy="285.2"/><circle cx="77.9" cy="295.4"/><circle cx="74.1" cy="296.4"/><circle cx="72.7" cy="293.2"/><circle cx="76.4" cy="302.8"/><circle cx="74.9" cy="298.6"/><circle cx="82.1" cy="295.1"/><circle cx="82.6" cy="283.2"/><circle cx="81.6" cy="285.3"/><circle cx="78.3" cy="284.2"/><circle cx="71.4" cy="303.2"/><circle cx="82.8" cy="297.6"/><circle cx="81.2" cy="286.6"/><circle cx="75.4" cy="291.4"/><circle cx="72.4" cy="295.4"/><circle cx="73.0" cy="305.1"/><circle cx="77.1" cy="302.3"/><circle cx="76.7" cy="296.6"/><circle cx="82.4" cy="302.0"/><circle cx="83.3" cy="299.7"/><circle cx="82.2" cy="291.3"/><circle cx="78.2" cy="299.8"/><circle cx="75.6" cy="290.0"/><circle cx="73.4" cy="295.0"/><circle cx="80.5" cy="282.0"/><circle cx="72.3" cy="296.9"/><circle cx="73.4" cy="299.5"/><circle cx="76.1" cy="286.3"/><circle cx="76.2" cy="285.2"/><circle cx="79.1" cy="287.5"/><circle cx="79.1" cy="300.7"/><circle cx="81.4" cy="290.4"/><circle cx="76.4" cy="292.1"/><circle cx="76.1" cy="299.4"/><circle cx="79.0" cy="297.8"/><circle cx="73.5" cy="292.7"/><circle cx="74.2" cy="293.8"/><circle cx="75.0" cy="302.4"/><circle cx="81.7" cy="286.0"/><circle cx="75.4" cy="300.5"/><circle cx="73.2" cy="295.7"/><circle cx="78.5" cy="290.2"/><circle cx="82.5" cy="284.7"/><circle cx="79.6" cy="305.3"/><circle cx="81.9" cy="302.1"/><circle cx="76.6" cy="296.7"/><circle cx="75.0" cy="293.7"/><circle cx="73.5" cy="301.8"/><circle cx="80.0" cy="295.8"/><circle cx="81.9" cy="304.2"/><circle cx="75.7" cy="296.9"/><circle cx="78.7" cy="302.1"/><circle cx="78.7" cy="289.0"/><circle cx="83.2" cy="290.4"/><circle cx="75.9" cy="303.6"/><circle cx="83.3" cy="304.8"/><circle cx="82.6" cy="298.0"/><circle cx="80.4" cy="291.2"/><circle cx="82.8" cy="294.9"/><circle cx="78.3" cy="298.5"/><circle cx="73.4" cy="300.4"/><circle cx="73.0" cy="304.4"/><circle cx="75.9" cy="285.3"/><circle cx="82.8" cy="304.3"/><circle cx="76.8" cy="289.5"/><circle cx="81.2" cy="295.1"/><circle cx="79.7" cy="294.9"/><circle cx="80.6" cy="297.7"/><circle cx="79.6" cy="293.1"/><circle cx="79.7" cy="296.8"/><circle cx="73.4" cy="295.7"/><circle cx="77.9" cy="293.1"/><circle cx="72.0" cy="303.6"/><circle cx="77.3" cy="290.4"/><circle cx="80.6" cy="290.9"/><circle cx="75.0" cy="299.4"/><circle cx="72.0" cy="304.5"/><circle cx="81.5" cy="287.8"/><circle cx="75.3" cy="290.6"/><circle cx="79.3" cy="298.7"/><circle cx="81.2" cy="296.8"/><circle cx="83.6" cy="298.9"/><circle cx="82.1" cy="289.3"/><circle cx="80.3" cy="299.6"/><circle cx="76.9" cy="297.6"/><circle cx="78.9" cy="293.9"/><circle cx="82.9" cy="296.3"/><circle cx="84.8" cy="303.9"/><circle cx="80.5" cy="294.1"/><circle cx="82.7" cy="291.0"/><circle cx="71.4" cy="304.3"/><circle cx="75.6" cy="303.4"/><circle cx="82.3" cy="304.6"/><circle cx="77.2" cy="290.5"/><circle cx="70.6" cy="301.2"/><circle cx="73.7" cy="300.7"/><circle cx="77.2" cy="292.6"/><circle cx="77.7" cy="293.9"/><circle cx="81.7" cy="295.8"/><circle cx="76.4" cy="286.8"/><circle cx="76.4" cy="300.8"/><circle cx="84.1" cy="304.0"/><circle cx="80.5" cy="294.8"/><circle cx="82.4" cy="300.7"/><circle cx="81.6" cy="282.5"/><circle cx="80.2" cy="294.2"/><circle cx="79.4" cy="299.9"/><circle cx="80.0" cy="301.0"/><circle cx="77.6" cy="303.3"/><circle cx="82.5" cy="304.2"/><circle cx="81.7" cy="287.6"/><circle cx="81.7" cy="302.9"/><circle cx="76.3" cy="284.5"/><circle cx="80.4" cy="281.3"/><circle cx="80.8" cy="282.6"/><circle cx="77.0" cy="301.1"/><circle cx="78.7" cy="298.2"/><circle cx="82.5" cy="290.1"/><circle cx="84.4" cy="300.8"/><circle cx="77.6" cy="290.5"/><circle cx="75.3" cy="287.4"/><circle cx="79.2" cy="285.3"/><circle cx="81.7" cy="284.1"/><circle cx="74.4" cy="304.8"/><circle cx="76.0" cy="286.5"/><circle cx="79.7" cy="297.4"/><circle cx="75.6" cy="286.4"/><circle cx="72.1" cy="301.7"/><circle cx="77.1" cy="296.1"/><circle cx="79.1" cy="295.3"/><circle cx="75.6" cy="288.1"/><circle cx="77.3" cy="290.1"/><circle cx="71.1" cy="305.3"/><circle cx="83.2" cy="298.4"/><circle cx="78.4" cy="299.5"/><circle cx="77.0" cy="297.7"/><circle cx="77.8" cy="304.1"/><circle cx="81.3" cy="282.6"/><circle cx="73.2" cy="302.7"/><circle cx="72.3" cy="295.2"/><circle cx="77.3" cy="295.8"/><circle cx="74.1" cy="292.1"/><circle cx="82.1" cy="285.6"/><circle cx="79.7" cy="300.6"/><circle cx="76.5" cy="300.2"/><circle cx="71.2" cy="305.2"/><circle cx="74.7" cy="303.2"/><circle cx="80.6" cy="285.9"/><circle cx="80.6" cy="304.1"/><circle cx="74.7" cy="295.9"/><circle cx="84.3" cy="301.6"/><circle cx="81.1" cy="297.0"/><circle cx="76.5" cy="299.2"/><circle cx="82.2" cy="295.3"/><circle cx="77.9" cy="301.0"/><circle cx="74.8" cy="304.9"/><circle cx="81.2" cy="286.9"/><circle cx="74.6" cy="295.3"/><circle cx="77.8" cy="298.3"/><circle cx="81.9" cy="305.0"/><circle cx="79.9" cy="282.4"/><circle cx="76.1" cy="294.8"/><circle cx="83.8" cy="305.1"/><circle cx="80.3" cy="296.8"/><circle cx="76.3" cy="298.7"/><circle cx="80.2" cy="287.4"/><circle cx="83.7" cy="297.5"/><circle cx="80.4" cy="296.4"/><circle cx="75.4" cy="303.3"/><circle cx="74.3" cy="293.0"/><circle cx="71.5" cy="299.7"/><circle cx="74.5" cy="292.9"/><circle cx="74.7" cy="293.4"/><circle cx="75.9" cy="285.1"/><circle cx="74.8" cy="299.8"/><circle cx="73.8" cy="292.8"/><circle cx="82.3" cy="303.0"/><circle cx="75.1" cy="302.0"/><circle cx="83.2" cy="299.5"/><circle cx="81.9" cy="294.6"/><circle cx="78.8" cy="286.9"/><circle cx="81.8" cy="303.2"/><circle cx="76.1" cy="286.0"/><circle cx="74.8" cy="288.4"/><circle cx="76.5" cy="305.0"/><circle cx="80.1" cy="283.7"/><circle cx="73.1" cy="304.4"/><circle cx="79.1" cy="293.2"/><circle cx="79.9" cy="300.1"/><circle cx="76.6" cy="290.7"/><circle cx="73.7" cy="290.3"/><circle cx="83.1" cy="290.7"/><circle cx="78.5" cy="296.0"/><circle cx="75.4" cy="288.8"/><circle cx="76.4" cy="294.3"/><circle cx="84.6" cy="303.1"/><circle cx="80.7" cy="305.2"/><circle cx="82.0" cy="284.1"/><circle cx="74.5" cy="303.4"/><circle cx="83.7" cy="303.0"/><circle cx="76.9" cy="286.0"/><circle cx="84.1" cy="299.9"/><circle cx="72.8" cy="303.7"/><circle cx="80.0" cy="283.7"/><circle cx="80.4" cy="291.1"/><circle cx="80.7" cy="303.1"/><circle cx="81.6" cy="303.1"/><circle cx="79.4" cy="287.6"/><circle cx="70.6" cy="301.0"/><circle cx="84.6" cy="304.8"/><circle cx="80.4" cy="286.3"/><circle cx="80.1" cy="289.8"/><circle cx="73.5" cy="295.9"/><circle cx="74.6" cy="295.9"/><circle cx="73.5" cy="297.8"/><circle cx="79.0" cy="293.6"/><circle cx="78.5" cy="293.0"/><circle cx="70.5" cy="301.4"/><circle cx="84.4" cy="305.2"/><circle cx="72.4" cy="303.0"/><circle cx="77.1" cy="299.2"/><circle cx="74.3" cy="301.9"/><circle cx="72.5" cy="298.2"/><circle cx="76.9" cy="289.3"/><circle cx="80.0" cy="305.3"/><circle cx="78.7" cy="281.6"/><circle cx="82.1" cy="286.6"/><circle cx="73.3" cy="295.1"/><circle cx="80.7" cy="293.6"/><circle cx="77.2" cy="283.0"/><circle cx="77.8" cy="299.6"/><circle cx="75.7" cy="292.9"/><circle cx="80.8" cy="297.1"/><circle cx="75.6" cy="293.7"/><circle cx="77.3" cy="304.6"/><circle cx="81.7" cy="301.3"/><circle cx="75.1" cy="299.0"/><circle cx="83.7" cy="299.9"/><circle cx="76.7" cy="287.5"/><circle cx="76.7" cy="288.3"/><circle cx="76.1" cy="299.8"/><circle cx="76.0" cy="296.4"/><circle cx="81.7" cy="300.4"/><circle cx="78.4" cy="293.8"/><circle cx="79.0" cy="292.5"/><circle cx="82.5" cy="301.3"/><circle cx="79.1" cy="287.2"/><circle cx="83.6" cy="293.6"/><circle cx="83.2" cy="302.0"/><circle cx="77.2" cy="287.2"/><circle cx="80.1" cy="292.0"/><circle cx="82.3" cy="285.3"/><circle cx="73.6" cy="290.4"/><circle cx="72.4" cy="305.1"/><circle cx="82.6" cy="289.2"/><circle cx="75.5" cy="290.5"/><circle cx="81.0" cy="286.0"/><circle cx="77.4" cy="300.0"/><circle cx="78.2" cy="290.9"/><circle cx="76.1" cy="298.8"/><circle cx="76.3" cy="286.6"/><circle cx="70.9" cy="303.5"/><circle cx="75.4" cy="301.6"/><circle cx="79.7" cy="281.9"/><circle cx="82.6" cy="299.2"/><circle cx="73.1" cy="297.7"/><circle cx="76.2" cy="294.6"/><circle cx="81.1" cy="299.7"/><circle cx="73.4" cy="302.0"/><circle cx="80.9" cy="286.8"/><circle cx="77.3" cy="287.5"/><circle cx="75.3" cy="287.1"/><circle cx="80.2" cy="297.9"/><circle cx="76.1" cy="299.9"/><circle cx="73.9" cy="295.8"/><circle cx="80.4" cy="300.0"/><circle cx="77.7" cy="292.8"/><circle cx="72.6" cy="300.8"/><circle cx="79.1" cy="299.4"/><circle cx="79.9" cy="294.3"/><circle cx="79.9" cy="289.4"/><circle cx="72.9" cy="301.5"/><circle cx="78.2" cy="283.8"/><circle cx="78.6" cy="291.2"/><circle cx="76.3" cy="292.9"/><circle cx="82.2" cy="302.8"/><circle cx="83.6" cy="299.5"/><circle cx="78.8" cy="302.7"/><circle cx="80.9" cy="292.2"/><circle cx="82.7" cy="294.6"/><circle cx="74.3" cy="303.0"/><circle cx="79.1" cy="291.1"/><circle cx="83.4" cy="305.2"/><circle cx="79.7" cy="299.9"/><circle cx="72.8" cy="292.6"/><circle cx="82.2" cy="299.9"/><circle cx="76.3" cy="293.8"/><circle cx="84.0" cy="305.3"/><circle cx="84.1" cy="297.4"/><circle cx="83.5" cy="294.4"/><circle cx="74.1" cy="304.1"/><circle cx="75.4" cy="301.8"/><circle cx="81.8" cy="293.3"/><circle cx="78.7" cy="283.1"/><circle cx="70.4" cy="304.1"/><circle cx="81.8" cy="291.4"/><circle cx="84.0" cy="298.4"/><circle cx="75.1" cy="295.8"/><circle cx="76.5" cy="289.8"/><circle cx="81.1" cy="298.4"/><circle cx="80.2" cy="294.9"/><circle cx="82.6" cy="292.3"/><circle cx="81.3" cy="301.7"/><circle cx="81.3" cy="281.3"/><circle cx="79.4" cy="299.8"/><circle cx="81.4" cy="300.0"/><circle cx="81.3" cy="302.7"/><circle cx="76.8" cy="292.3"/><circle cx="82.8" cy="296.2"/><circle cx="76.4" cy="291.6"/><circle cx="81.3" cy="284.1"/><circle cx="80.6" cy="288.1"/><circle cx="81.5" cy="288.4"/><circle cx="80.0" cy="297.5"/><circle cx="72.1" cy="298.9"/><circle cx="78.3" cy="300.6"/><circle cx="78.2" cy="284.1"/><circle cx="72.6" cy="293.4"/><circle cx="69.6" cy="305.5"/><circle cx="78.2" cy="282.5"/><circle cx="81.6" cy="283.8"/><circle cx="81.2" cy="301.1"/><circle cx="81.9" cy="292.6"/><circle cx="74.5" cy="287.8"/><circle cx="73.4" cy="296.5"/><circle cx="81.0" cy="304.6"/><circle cx="79.7" cy="286.0"/><circle cx="77.6" cy="295.9"/><circle cx="81.2" cy="299.3"/><circle cx="80.6" cy="284.4"/><circle cx="79.5" cy="288.8"/><circle cx="79.8" cy="304.6"/><circle cx="78.0" cy="302.8"/><circle cx="72.4" cy="296.7"/><circle cx="79.5" cy="301.0"/><circle cx="82.5" cy="291.0"/><circle cx="75.9" cy="296.8"/><circle cx="84.3" cy="300.6"/><circle cx="75.1" cy="295.9"/><circle cx="82.6" cy="294.0"/><circle cx="74.7" cy="300.4"/><circle cx="77.0" cy="290.4"/><circle cx="80.3" cy="299.5"/><circle cx="77.2" cy="302.8"/><circle cx="75.8" cy="294.3"/><circle cx="82.9" cy="302.8"/><circle cx="74.2" cy="295.2"/><circle cx="74.4" cy="291.6"/><circle cx="79.5" cy="281.1"/><circle cx="73.9" cy="288.4"/><circle cx="80.3" cy="269.1"/><circle cx="82.2" cy="270.0"/><circle cx="73.0" cy="278.4"/><circle cx="80.4" cy="264.7"/><circle cx="81.3" cy="271.1"/><circle cx="80.6" cy="277.4"/><circle cx="81.5" cy="273.5"/><circle cx="83.0" cy="271.9"/><circle cx="79.1" cy="270.2"/><circle cx="82.2" cy="268.0"/><circle cx="75.1" cy="280.9"/><circle cx="83.5" cy="287.7"/><circle cx="79.6" cy="279.3"/><circle cx="70.4" cy="298.8"/><circle cx="78.0" cy="277.0"/><circle cx="71.3" cy="288.7"/><circle cx="81.6" cy="257.6"/><circle cx="72.9" cy="285.8"/><circle cx="83.8" cy="291.4"/><circle cx="70.4" cy="298.2"/><circle cx="70.2" cy="297.6"/><circle cx="74.4" cy="285.5"/><circle cx="82.0" cy="259.1"/><circle cx="73.4" cy="289.3"/><circle cx="72.6" cy="281.6"/><circle cx="75.0" cy="284.7"/><circle cx="73.1" cy="282.3"/><circle cx="81.2" cy="270.3"/><circle cx="73.0" cy="287.8"/><circle cx="81.6" cy="271.0"/><circle cx="77.3" cy="278.3"/><circle cx="79.0" cy="266.4"/><circle cx="81.8" cy="278.2"/><circle cx="81.1" cy="278.9"/><circle cx="71.4" cy="293.2"/><circle cx="84.1" cy="294.6"/><circle cx="77.5" cy="276.5"/><circle cx="77.6" cy="281.1"/><circle cx="83.4" cy="285.2"/><circle cx="83.8" cy="292.8"/><circle cx="78.3" cy="270.9"/><circle cx="79.5" cy="279.2"/><circle cx="81.1" cy="261.3"/><circle cx="81.1" cy="271.1"/><circle cx="81.6" cy="279.3"/><circle cx="75.2" cy="285.6"/><circle cx="80.3" cy="279.5"/><circle cx="78.9" cy="280.4"/><circle cx="74.3" cy="285.2"/><circle cx="80.3" cy="262.4"/><circle cx="83.1" cy="287.5"/><circle cx="75.0" cy="284.9"/><circle cx="79.6" cy="279.4"/><circle cx="80.0" cy="276.8"/><circle cx="71.5" cy="290.8"/><circle cx="84.3" cy="297.0"/><circle cx="71.3" cy="295.7"/><circle cx="75.6" cy="278.8"/><circle cx="72.2" cy="275.8"/><circle cx="76.4" cy="268.1"/><circle cx="74.1" cy="285.2"/><circle cx="71.4" cy="275.0"/><circle cx="82.4" cy="275.9"/><circle cx="83.4" cy="286.9"/><circle cx="76.2" cy="267.4"/><circle cx="77.7" cy="277.5"/><circle cx="77.0" cy="280.1"/><circle cx="79.5" cy="277.5"/><circle cx="75.7" cy="284.3"/><circle cx="75.6" cy="282.5"/><circle cx="84.7" cy="298.3"/><circle cx="80.8" cy="273.7"/><circle cx="80.7" cy="278.9"/><circle cx="83.0" cy="270.9"/><circle cx="77.3" cy="279.2"/><circle cx="73.8" cy="286.8"/><circle cx="75.5" cy="274.4"/><circle cx="73.3" cy="283.8"/><circle cx="79.5" cy="280.1"/><circle cx="82.6" cy="272.2"/><circle cx="81.6" cy="280.3"/><circle cx="76.6" cy="282.3"/><circle cx="77.0" cy="279.6"/><circle cx="78.8" cy="280.4"/><circle cx="70.9" cy="289.9"/><circle cx="78.9" cy="278.4"/><circle cx="81.8" cy="276.7"/><circle cx="75.8" cy="252.9"/><circle cx="76.1" cy="283.5"/><circle cx="72.9" cy="291.1"/><circle cx="76.4" cy="270.3"/><circle cx="77.6" cy="281.0"/><circle cx="82.2" cy="265.9"/><circle cx="81.5" cy="275.2"/><circle cx="73.2" cy="291.0"/><circle cx="70.2" cy="300.4"/><circle cx="71.6" cy="294.1"/><circle cx="81.4" cy="256.7"/><circle cx="78.5" cy="254.1"/><circle cx="71.8" cy="258.8"/><circle cx="72.1" cy="282.6"/><circle cx="84.2" cy="290.9"/><circle cx="80.8" cy="280.0"/><circle cx="75.9" cy="264.7"/><circle cx="82.1" cy="267.7"/><circle cx="84.8" cy="300.4"/><circle cx="81.7" cy="272.1"/><circle cx="76.7" cy="282.2"/><circle cx="74.0" cy="282.0"/><circle cx="73.7" cy="286.7"/><circle cx="76.3" cy="281.4"/><circle cx="75.8" cy="277.8"/><circle cx="77.0" cy="275.9"/><circle cx="72.8" cy="287.9"/><circle cx="75.0" cy="284.4"/><circle cx="74.5" cy="267.6"/><circle cx="71.1" cy="291.2"/><circle cx="83.3" cy="286.1"/><circle cx="84.5" cy="299.0"/><circle cx="76.9" cy="279.8"/><circle cx="78.2" cy="273.1"/><circle cx="71.0" cy="288.8"/><circle cx="80.3" cy="269.4"/><circle cx="74.6" cy="286.4"/><circle cx="74.3" cy="274.4"/><circle cx="81.4" cy="276.5"/><circle cx="92.6" cy="280.4"/><circle cx="97.9" cy="283.8"/><circle cx="99.9" cy="295.9"/><circle cx="88.8" cy="290.2"/><circle cx="91.0" cy="281.6"/><circle cx="97.1" cy="282.9"/><circle cx="91.0" cy="276.1"/><circle cx="89.2" cy="300.9"/><circle cx="89.2" cy="282.6"/><circle cx="94.7" cy="296.7"/><circle cx="97.9" cy="290.2"/><circle cx="92.2" cy="285.7"/><circle cx="94.5" cy="288.8"/><circle cx="95.8" cy="287.5"/><circle cx="95.4" cy="279.5"/><circle cx="87.1" cy="303.8"/><circle cx="95.0" cy="301.6"/><circle cx="94.1" cy="278.6"/><circle cx="96.2" cy="286.7"/><circle cx="93.9" cy="282.2"/><circle cx="97.4" cy="296.1"/><circle cx="87.8" cy="303.8"/><circle cx="92.8" cy="284.5"/><circle cx="89.1" cy="283.2"/><circle cx="95.8" cy="284.3"/><circle cx="97.9" cy="284.6"/><circle cx="89.9" cy="300.6"/><circle cx="92.1" cy="299.9"/><circle cx="97.2" cy="289.4"/><circle cx="88.5" cy="300.3"/><circle cx="100.3" cy="289.9"/><circle cx="98.8" cy="297.2"/><circle cx="90.6" cy="279.5"/><circle cx="96.2" cy="281.0"/><circle cx="94.2" cy="297.9"/><circle cx="96.7" cy="289.0"/><circle cx="93.7" cy="286.4"/><circle cx="99.8" cy="304.0"/><circle cx="97.8" cy="297.8"/><circle cx="96.7" cy="290.9"/><circle cx="90.9" cy="290.0"/><circle cx="95.6" cy="301.7"/><circle cx="88.5" cy="298.6"/><circle cx="98.6" cy="300.3"/><circle cx="93.0" cy="294.1"/><circle cx="98.2" cy="294.7"/><circle cx="93.3" cy="289.5"/><circle cx="92.7" cy="276.2"/><circle cx="90.7" cy="280.3"/><circle cx="91.4" cy="275.1"/><circle cx="99.5" cy="298.4"/><circle cx="98.1" cy="291.2"/><circle cx="93.8" cy="281.0"/><circle cx="101.2" cy="298.3"/><circle cx="92.3" cy="291.6"/><circle cx="90.1" cy="301.5"/><circle cx="89.5" cy="288.3"/><circle cx="94.5" cy="300.1"/><circle cx="92.3" cy="287.0"/><circle cx="94.4" cy="300.9"/><circle cx="93.8" cy="292.1"/><circle cx="100.7" cy="300.2"/><circle cx="92.9" cy="288.6"/><circle cx="94.6" cy="290.4"/><circle cx="100.3" cy="304.3"/><circle cx="93.0" cy="283.2"/><circle cx="90.8" cy="291.3"/><circle cx="94.8" cy="291.1"/><circle cx="89.2" cy="279.5"/><circle cx="92.4" cy="295.0"/><circle cx="87.3" cy="300.0"/><circle cx="94.4" cy="282.2"/><circle cx="94.5" cy="286.4"/><circle cx="95.8" cy="294.9"/><circle cx="92.6" cy="279.4"/><circle cx="90.6" cy="282.1"/><circle cx="97.0" cy="304.5"/><circle cx="89.7" cy="283.5"/><circle cx="89.1" cy="298.2"/><circle cx="90.7" cy="300.8"/><circle cx="90.6" cy="278.9"/><circle cx="98.4" cy="292.4"/><circle cx="98.0" cy="292.7"/><circle cx="93.6" cy="281.8"/><circle cx="100.1" cy="297.3"/><circle cx="88.8" cy="290.4"/><circle cx="90.4" cy="275.2"/><circle cx="88.2" cy="291.6"/><circle cx="99.3" cy="304.9"/><circle cx="89.7" cy="302.2"/><circle cx="94.5" cy="300.8"/><circle cx="98.4" cy="296.6"/><circle cx="92.9" cy="290.1"/><circle cx="89.7" cy="276.5"/><circle cx="93.7" cy="290.7"/><circle cx="89.8" cy="290.9"/><circle cx="95.9" cy="294.5"/><circle cx="87.6" cy="304.5"/><circle cx="91.7" cy="295.9"/><circle cx="100.0" cy="303.3"/><circle cx="90.1" cy="301.9"/><circle cx="91.8" cy="301.8"/><circle cx="91.4" cy="294.0"/><circle cx="90.0" cy="288.3"/><circle cx="97.1" cy="299.7"/><circle cx="90.9" cy="296.5"/><circle cx="90.7" cy="301.6"/><circle cx="99.4" cy="300.6"/><circle cx="88.7" cy="290.2"/><circle cx="89.9" cy="303.2"/><circle cx="92.5" cy="279.8"/><circle cx="94.1" cy="289.8"/><circle cx="91.7" cy="296.0"/><circle cx="88.3" cy="293.5"/><circle cx="101.0" cy="301.1"/><circle cx="101.1" cy="293.7"/><circle cx="92.0" cy="279.2"/><circle cx="95.9" cy="279.1"/><circle cx="100.9" cy="298.1"/><circle cx="100.3" cy="290.6"/><circle cx="94.2" cy="295.7"/><circle cx="89.5" cy="277.7"/><circle cx="90.9" cy="305.4"/><circle cx="96.2" cy="296.4"/><circle cx="95.6" cy="297.0"/><circle cx="100.5" cy="291.5"/><circle cx="90.9" cy="282.2"/><circle cx="101.6" cy="299.5"/><circle cx="94.3" cy="290.2"/><circle cx="95.0" cy="295.6"/><circle cx="96.7" cy="291.7"/><circle cx="96.5" cy="297.3"/><circle cx="97.3" cy="286.0"/><circle cx="89.3" cy="293.1"/><circle cx="93.8" cy="297.8"/><circle cx="90.7" cy="303.8"/><circle cx="87.4" cy="302.7"/><circle cx="92.5" cy="291.8"/><circle cx="90.5" cy="286.9"/><circle cx="89.3" cy="284.8"/><circle cx="101.9" cy="297.3"/><circle cx="95.7" cy="299.0"/><circle cx="91.2" cy="295.0"/><circle cx="93.9" cy="276.7"/><circle cx="97.4" cy="296.1"/><circle cx="98.5" cy="304.5"/><circle cx="94.3" cy="302.5"/><circle cx="100.8" cy="291.5"/><circle cx="100.3" cy="304.7"/><circle cx="94.1" cy="292.7"/><circle cx="89.1" cy="300.9"/><circle cx="94.7" cy="294.1"/><circle cx="88.9" cy="297.9"/><circle cx="94.4" cy="282.2"/><circle cx="98.6" cy="288.7"/><circle cx="89.7" cy="294.6"/><circle cx="90.5" cy="280.4"/><circle cx="91.9" cy="287.5"/><circle cx="92.4" cy="277.2"/><circle cx="100.6" cy="299.1"/><circle cx="89.3" cy="279.2"/><circle cx="89.9" cy="282.6"/><circle cx="90.6" cy="296.4"/><circle cx="100.4" cy="291.7"/><circle cx="95.0" cy="279.9"/><circle cx="100.8" cy="303.1"/><circle cx="87.9" cy="305.1"/><circle cx="100.0" cy="303.5"/><circle cx="88.7" cy="301.4"/><circle cx="92.1" cy="298.3"/><circle cx="103.4" cy="301.3"/><circle cx="99.6" cy="304.9"/><circle cx="99.6" cy="297.1"/><circle cx="98.1" cy="286.8"/><circle cx="93.0" cy="282.5"/><circle cx="97.7" cy="290.8"/><circle cx="94.1" cy="276.8"/><circle cx="100.7" cy="304.2"/><circle cx="102.6" cy="304.0"/><circle cx="101.6" cy="299.1"/><circle cx="93.2" cy="280.3"/><circle cx="97.4" cy="300.6"/><circle cx="96.8" cy="281.9"/><circle cx="97.9" cy="291.4"/><circle cx="88.3" cy="292.1"/><circle cx="94.9" cy="290.0"/><circle cx="101.0" cy="301.6"/><circle cx="95.8" cy="302.3"/><circle cx="91.5" cy="282.5"/><circle cx="94.1" cy="280.1"/><circle cx="92.7" cy="292.2"/><circle cx="87.6" cy="294.1"/><circle cx="92.0" cy="290.1"/><circle cx="89.0" cy="287.0"/><circle cx="88.8" cy="285.1"/><circle cx="90.3" cy="295.1"/><circle cx="94.8" cy="294.0"/><circle cx="89.1" cy="301.6"/><circle cx="95.2" cy="278.5"/><circle cx="90.8" cy="275.7"/><circle cx="99.3" cy="297.3"/><circle cx="92.7" cy="286.0"/><circle cx="92.5" cy="277.7"/><circle cx="99.5" cy="299.9"/><circle cx="92.3" cy="286.0"/><circle cx="97.5" cy="285.3"/><circle cx="100.0" cy="295.5"/><circle cx="90.2" cy="299.8"/><circle cx="90.4" cy="281.3"/><circle cx="96.0" cy="280.8"/><circle cx="94.9" cy="294.3"/><circle cx="89.1" cy="280.6"/><circle cx="95.1" cy="286.6"/><circle cx="91.2" cy="276.4"/><circle cx="101.2" cy="298.5"/><circle cx="95.2" cy="281.6"/><circle cx="95.9" cy="291.6"/><circle cx="88.8" cy="299.1"/><circle cx="90.9" cy="297.8"/><circle cx="96.9" cy="284.4"/><circle cx="95.8" cy="296.1"/><circle cx="92.1" cy="295.0"/><circle cx="98.0" cy="301.7"/><circle cx="99.4" cy="289.1"/><circle cx="88.8" cy="302.1"/><circle cx="90.9" cy="295.8"/><circle cx="89.6" cy="277.4"/><circle cx="97.6" cy="295.9"/><circle cx="91.2" cy="305.5"/><circle cx="93.3" cy="280.5"/><circle cx="87.9" cy="298.9"/><circle cx="92.0" cy="298.6"/><circle cx="98.8" cy="299.6"/><circle cx="91.9" cy="292.5"/><circle cx="96.8" cy="287.3"/><circle cx="93.5" cy="301.4"/><circle cx="97.7" cy="298.9"/><circle cx="88.8" cy="286.8"/><circle cx="93.8" cy="281.2"/><circle cx="92.7" cy="291.2"/><circle cx="96.6" cy="288.8"/><circle cx="91.5" cy="303.1"/><circle cx="94.1" cy="296.8"/><circle cx="100.2" cy="301.8"/><circle cx="93.2" cy="304.1"/><circle cx="100.5" cy="296.4"/><circle cx="93.3" cy="301.4"/><circle cx="96.3" cy="300.3"/><circle cx="91.8" cy="293.0"/><circle cx="87.8" cy="294.8"/><circle cx="100.6" cy="297.2"/><circle cx="95.6" cy="299.9"/><circle cx="100.5" cy="293.4"/><circle cx="93.2" cy="299.5"/><circle cx="91.6" cy="281.2"/><circle cx="90.4" cy="302.3"/><circle cx="94.8" cy="293.6"/><circle cx="97.3" cy="299.1"/><circle cx="96.6" cy="284.8"/><circle cx="91.5" cy="285.5"/><circle cx="96.9" cy="303.0"/><circle cx="91.4" cy="305.1"/><circle cx="90.4" cy="281.2"/><circle cx="93.7" cy="278.8"/><circle cx="90.3" cy="274.8"/><circle cx="90.2" cy="278.3"/><circle cx="89.9" cy="284.2"/><circle cx="92.1" cy="294.5"/><circle cx="93.1" cy="298.3"/><circle cx="90.4" cy="284.3"/><circle cx="90.9" cy="280.3"/><circle cx="96.4" cy="285.5"/><circle cx="90.2" cy="280.7"/><circle cx="88.5" cy="301.9"/><circle cx="94.4" cy="282.6"/><circle cx="94.0" cy="291.0"/><circle cx="98.1" cy="290.5"/><circle cx="94.2" cy="281.6"/><circle cx="93.5" cy="303.6"/><circle cx="93.5" cy="282.4"/><circle cx="101.5" cy="297.7"/><circle cx="88.8" cy="293.9"/><circle cx="90.8" cy="285.4"/><circle cx="99.1" cy="297.1"/><circle cx="89.4" cy="289.8"/><circle cx="102.2" cy="303.2"/><circle cx="86.6" cy="303.3"/><circle cx="102.6" cy="299.1"/><circle cx="97.2" cy="291.4"/><circle cx="93.5" cy="277.1"/><circle cx="91.7" cy="281.9"/><circle cx="93.4" cy="296.0"/><circle cx="96.5" cy="283.7"/><circle cx="91.9" cy="286.4"/><circle cx="89.1" cy="303.2"/><circle cx="95.3" cy="287.0"/><circle cx="86.6" cy="304.2"/><circle cx="91.1" cy="285.8"/><circle cx="97.5" cy="293.8"/><circle cx="103.1" cy="300.1"/><circle cx="89.1" cy="289.5"/><circle cx="94.8" cy="300.6"/><circle cx="88.1" cy="293.7"/><circle cx="88.1" cy="304.5"/><circle cx="95.2" cy="278.0"/><circle cx="96.1" cy="294.2"/><circle cx="93.0" cy="280.0"/><circle cx="93.5" cy="280.2"/><circle cx="100.2" cy="292.5"/><circle cx="93.3" cy="294.3"/><circle cx="101.2" cy="299.2"/><circle cx="93.2" cy="280.6"/><circle cx="90.4" cy="275.5"/><circle cx="94.0" cy="286.3"/><circle cx="94.3" cy="305.4"/><circle cx="89.4" cy="299.3"/><circle cx="99.2" cy="304.1"/><circle cx="90.6" cy="296.5"/><circle cx="98.2" cy="287.7"/><circle cx="95.9" cy="288.4"/><circle cx="98.1" cy="286.7"/><circle cx="97.5" cy="291.9"/><circle cx="98.8" cy="298.2"/><circle cx="95.7" cy="292.7"/><circle cx="101.2" cy="299.9"/><circle cx="89.1" cy="287.7"/><circle cx="89.0" cy="289.1"/><circle cx="94.2" cy="305.0"/><circle cx="88.8" cy="301.9"/><circle cx="90.6" cy="295.0"/><circle cx="100.0" cy="303.4"/><circle cx="96.2" cy="294.0"/><circle cx="89.3" cy="304.2"/><circle cx="86.8" cy="303.4"/><circle cx="92.3" cy="283.0"/><circle cx="89.7" cy="298.6"/><circle cx="95.7" cy="292.6"/><circle cx="95.5" cy="287.9"/><circle cx="95.3" cy="302.2"/><circle cx="90.6" cy="304.8"/><circle cx="99.7" cy="294.5"/><circle cx="95.2" cy="292.8"/><circle cx="88.6" cy="286.7"/><circle cx="103.9" cy="305.5"/><circle cx="89.1" cy="285.1"/><circle cx="97.2" cy="302.6"/><circle cx="91.3" cy="291.7"/><circle cx="99.7" cy="296.1"/><circle cx="98.0" cy="303.2"/><circle cx="88.3" cy="293.5"/><circle cx="99.9" cy="300.9"/><circle cx="89.6" cy="304.5"/><circle cx="93.9" cy="292.8"/><circle cx="97.5" cy="295.2"/><circle cx="91.6" cy="284.5"/><circle cx="98.0" cy="295.7"/><circle cx="90.5" cy="288.6"/><circle cx="89.5" cy="292.2"/><circle cx="90.9" cy="293.3"/><circle cx="96.5" cy="298.7"/><circle cx="86.8" cy="303.4"/><circle cx="97.0" cy="290.2"/><circle cx="101.2" cy="295.6"/><circle cx="94.9" cy="302.0"/><circle cx="93.2" cy="291.6"/><circle cx="95.3" cy="299.1"/><circle cx="97.4" cy="284.2"/><circle cx="89.0" cy="295.9"/><circle cx="89.9" cy="288.7"/><circle cx="89.6" cy="280.9"/><circle cx="96.4" cy="287.5"/><circle cx="92.3" cy="276.1"/><circle cx="91.7" cy="302.3"/><circle cx="89.1" cy="304.6"/><circle cx="94.2" cy="300.7"/><circle cx="97.9" cy="303.8"/><circle cx="101.2" cy="292.9"/><circle cx="103.1" cy="300.6"/><circle cx="98.1" cy="287.1"/><circle cx="93.6" cy="303.7"/><circle cx="97.1" cy="292.7"/><circle cx="96.3" cy="302.6"/><circle cx="94.5" cy="292.2"/><circle cx="99.2" cy="291.0"/><circle cx="89.0" cy="287.0"/><circle cx="89.9" cy="293.0"/><circle cx="92.6" cy="292.4"/><circle cx="94.0" cy="282.6"/><circle cx="93.5" cy="280.6"/><circle cx="93.4" cy="303.9"/><circle cx="93.3" cy="297.3"/><circle cx="93.9" cy="277.0"/><circle cx="89.4" cy="304.8"/><circle cx="100.7" cy="293.1"/><circle cx="100.6" cy="303.0"/><circle cx="95.4" cy="295.2"/><circle cx="97.6" cy="302.3"/><circle cx="95.7" cy="294.6"/><circle cx="90.4" cy="291.2"/><circle cx="101.7" cy="297.5"/><circle cx="97.2" cy="282.2"/><circle cx="91.0" cy="296.3"/><circle cx="98.3" cy="290.1"/><circle cx="94.3" cy="302.6"/><circle cx="95.7" cy="279.1"/><circle cx="90.5" cy="280.9"/><circle cx="90.0" cy="281.6"/><circle cx="98.6" cy="295.1"/><circle cx="95.9" cy="301.2"/><circle cx="95.3" cy="292.4"/><circle cx="96.6" cy="287.7"/><circle cx="97.5" cy="285.8"/><circle cx="101.6" cy="298.1"/><circle cx="101.5" cy="302.7"/><circle cx="102.2" cy="302.1"/><circle cx="87.7" cy="303.9"/><circle cx="93.7" cy="278.6"/><circle cx="95.5" cy="279.4"/><circle cx="97.3" cy="293.2"/><circle cx="97.3" cy="285.4"/><circle cx="95.2" cy="283.9"/><circle cx="88.7" cy="297.3"/><circle cx="88.3" cy="290.4"/><circle cx="88.1" cy="288.7"/><circle cx="95.2" cy="292.9"/><circle cx="98.4" cy="304.4"/><circle cx="93.5" cy="281.7"/><circle cx="94.9" cy="292.1"/><circle cx="88.7" cy="299.0"/><circle cx="97.2" cy="286.1"/><circle cx="102.1" cy="300.8"/><circle cx="95.5" cy="288.0"/><circle cx="101.9" cy="297.2"/><circle cx="100.7" cy="303.1"/><circle cx="93.3" cy="279.7"/><circle cx="86.7" cy="304.5"/><circle cx="90.9" cy="279.9"/><circle cx="98.2" cy="288.4"/><circle cx="92.0" cy="305.3"/><circle cx="92.0" cy="301.6"/><circle cx="94.6" cy="294.2"/><circle cx="101.0" cy="298.0"/><circle cx="99.9" cy="291.7"/><circle cx="96.9" cy="291.1"/><circle cx="92.6" cy="289.2"/><circle cx="96.5" cy="283.9"/><circle cx="100.2" cy="300.3"/><circle cx="89.8" cy="304.7"/><circle cx="91.7" cy="293.4"/><circle cx="88.3" cy="301.4"/><circle cx="93.7" cy="298.4"/><circle cx="87.7" cy="300.3"/><circle cx="86.7" cy="301.9"/><circle cx="99.2" cy="286.2"/><circle cx="98.6" cy="305.2"/><circle cx="92.5" cy="277.2"/><circle cx="91.6" cy="280.7"/><circle cx="90.4" cy="291.0"/><circle cx="88.7" cy="294.7"/><circle cx="96.3" cy="301.2"/><circle cx="93.7" cy="302.4"/><circle cx="95.6" cy="282.8"/><circle cx="100.2" cy="296.2"/><circle cx="90.3" cy="297.2"/><circle cx="92.0" cy="280.5"/><circle cx="95.1" cy="278.5"/><circle cx="92.2" cy="293.6"/><circle cx="98.8" cy="294.8"/><circle cx="88.8" cy="289.5"/><circle cx="88.5" cy="289.0"/><circle cx="95.2" cy="297.3"/><circle cx="92.6" cy="305.3"/><circle cx="92.5" cy="276.2"/><circle cx="89.9" cy="295.0"/><circle cx="90.6" cy="292.3"/><circle cx="100.6" cy="298.4"/><circle cx="97.8" cy="302.6"/><circle cx="102.5" cy="303.6"/><circle cx="97.3" cy="304.6"/><circle cx="91.6" cy="303.0"/><circle cx="97.3" cy="282.8"/><circle cx="93.5" cy="289.6"/><circle cx="100.0" cy="301.3"/><circle cx="92.3" cy="294.8"/><circle cx="88.6" cy="298.0"/><circle cx="94.0" cy="277.2"/><circle cx="96.3" cy="287.6"/><circle cx="86.5" cy="303.7"/><circle cx="92.7" cy="294.3"/><circle cx="97.4" cy="285.3"/><circle cx="88.7" cy="291.9"/><circle cx="88.7" cy="287.9"/><circle cx="97.0" cy="300.5"/><circle cx="97.3" cy="287.8"/><circle cx="91.3" cy="300.5"/><circle cx="93.0" cy="293.0"/><circle cx="97.7" cy="289.8"/><circle cx="88.7" cy="296.5"/><circle cx="91.8" cy="303.2"/><circle cx="94.5" cy="289.6"/><circle cx="93.1" cy="302.4"/><circle cx="96.5" cy="289.3"/><circle cx="93.5" cy="280.5"/><circle cx="87.5" cy="299.9"/><circle cx="86.9" cy="299.2"/><circle cx="100.7" cy="299.7"/><circle cx="93.0" cy="278.1"/><circle cx="92.0" cy="302.8"/><circle cx="93.7" cy="286.3"/><circle cx="99.1" cy="304.9"/><circle cx="103.6" cy="302.1"/><circle cx="93.1" cy="282.5"/><circle cx="98.7" cy="289.9"/><circle cx="96.7" cy="300.3"/><circle cx="91.3" cy="291.6"/><circle cx="91.8" cy="301.2"/><circle cx="87.5" cy="302.6"/><circle cx="95.8" cy="300.2"/><circle cx="97.8" cy="288.4"/><circle cx="100.2" cy="296.1"/><circle cx="99.7" cy="304.7"/><circle cx="95.6" cy="293.1"/><circle cx="99.4" cy="287.9"/><circle cx="93.9" cy="296.5"/><circle cx="93.2" cy="276.7"/><circle cx="97.4" cy="282.1"/><circle cx="97.5" cy="293.0"/><circle cx="90.7" cy="279.3"/><circle cx="97.9" cy="296.7"/><circle cx="93.0" cy="275.6"/><circle cx="92.9" cy="292.6"/><circle cx="100.5" cy="300.3"/><circle cx="92.6" cy="300.2"/><circle cx="92.6" cy="304.6"/><circle cx="95.2" cy="294.1"/><circle cx="89.6" cy="285.6"/><circle cx="90.0" cy="303.2"/><circle cx="99.3" cy="289.5"/><circle cx="102.9" cy="300.1"/><circle cx="91.3" cy="303.3"/><circle cx="104.3" cy="305.3"/><circle cx="93.3" cy="277.3"/><circle cx="100.3" cy="293.5"/><circle cx="99.9" cy="290.6"/><circle cx="95.0" cy="290.3"/><circle cx="91.6" cy="293.4"/><circle cx="92.9" cy="283.8"/><circle cx="88.8" cy="304.5"/><circle cx="93.2" cy="285.0"/><circle cx="92.3" cy="302.3"/><circle cx="96.5" cy="283.3"/><circle cx="93.0" cy="289.2"/><circle cx="93.0" cy="277.9"/><circle cx="96.2" cy="289.4"/><circle cx="91.7" cy="278.7"/><circle cx="93.6" cy="299.7"/><circle cx="91.4" cy="281.7"/><circle cx="93.8" cy="288.5"/><circle cx="92.9" cy="275.0"/><circle cx="95.4" cy="304.0"/><circle cx="90.8" cy="296.3"/><circle cx="93.4" cy="276.9"/><circle cx="90.2" cy="287.5"/><circle cx="93.9" cy="298.9"/><circle cx="88.9" cy="300.1"/><circle cx="100.8" cy="304.6"/><circle cx="91.5" cy="277.4"/><circle cx="96.6" cy="290.1"/><circle cx="91.0" cy="297.1"/><circle cx="93.2" cy="303.9"/><circle cx="91.3" cy="276.8"/><circle cx="90.6" cy="293.8"/><circle cx="96.6" cy="297.1"/><circle cx="88.4" cy="298.1"/><circle cx="90.4" cy="276.5"/><circle cx="99.5" cy="289.0"/><circle cx="94.4" cy="282.4"/><circle cx="93.5" cy="289.0"/><circle cx="94.0" cy="284.9"/><circle cx="90.4" cy="282.2"/><circle cx="101.7" cy="295.1"/><circle cx="89.8" cy="283.7"/><circle cx="98.1" cy="300.5"/><circle cx="91.4" cy="304.1"/><circle cx="97.6" cy="290.0"/><circle cx="89.4" cy="281.8"/><circle cx="102.3" cy="298.6"/><circle cx="93.0" cy="278.0"/><circle cx="98.7" cy="291.0"/><circle cx="94.8" cy="278.5"/><circle cx="96.1" cy="280.7"/><circle cx="96.2" cy="296.9"/><circle cx="96.0" cy="300.0"/><circle cx="92.7" cy="287.2"/><circle cx="89.0" cy="286.9"/><circle cx="93.7" cy="293.2"/><circle cx="100.7" cy="300.0"/><circle cx="96.4" cy="304.7"/><circle cx="99.4" cy="289.0"/><circle cx="94.8" cy="289.0"/><circle cx="89.8" cy="303.2"/><circle cx="98.5" cy="298.8"/><circle cx="90.6" cy="300.6"/><circle cx="94.5" cy="286.3"/><circle cx="90.1" cy="278.5"/><circle cx="93.4" cy="295.4"/><circle cx="89.6" cy="288.4"/><circle cx="91.6" cy="287.5"/><circle cx="88.4" cy="300.6"/><circle cx="92.0" cy="292.2"/><circle cx="87.4" cy="297.2"/><circle cx="97.3" cy="295.8"/><circle cx="96.4" cy="303.8"/><circle cx="93.7" cy="295.6"/><circle cx="92.6" cy="290.9"/><circle cx="87.3" cy="303.2"/><circle cx="99.3" cy="288.3"/><circle cx="95.9" cy="285.5"/><circle cx="95.6" cy="296.5"/><circle cx="98.7" cy="303.8"/><circle cx="90.9" cy="285.4"/><circle cx="90.0" cy="282.5"/><circle cx="101.6" cy="296.0"/><circle cx="98.8" cy="293.5"/><circle cx="95.1" cy="277.5"/><circle cx="93.1" cy="302.0"/><circle cx="87.8" cy="297.3"/><circle cx="90.4" cy="292.3"/><circle cx="102.5" cy="301.7"/><circle cx="90.1" cy="305.0"/><circle cx="91.6" cy="280.7"/><circle cx="99.3" cy="300.6"/><circle cx="100.3" cy="296.7"/><circle cx="87.1" cy="299.4"/><circle cx="97.7" cy="290.4"/><circle cx="90.0" cy="288.9"/><circle cx="102.1" cy="298.7"/><circle cx="97.0" cy="296.0"/><circle cx="88.2" cy="293.5"/><circle cx="99.9" cy="302.3"/><circle cx="93.0" cy="297.4"/><circle cx="92.1" cy="275.4"/><circle cx="90.4" cy="304.9"/><circle cx="94.4" cy="305.3"/><circle cx="99.0" cy="293.8"/><circle cx="91.0" cy="277.9"/><circle cx="93.6" cy="287.1"/><circle cx="100.7" cy="295.5"/><circle cx="96.9" cy="285.2"/><circle cx="89.7" cy="286.1"/><circle cx="90.1" cy="280.1"/><circle cx="97.1" cy="301.7"/><circle cx="103.3" cy="302.8"/><circle cx="92.1" cy="289.9"/><circle cx="95.7" cy="304.7"/><circle cx="91.6" cy="292.2"/><circle cx="91.1" cy="298.8"/><circle cx="93.8" cy="281.2"/><circle cx="90.5" cy="294.5"/><circle cx="92.9" cy="301.5"/><circle cx="91.4" cy="303.6"/><circle cx="97.8" cy="298.0"/><circle cx="97.6" cy="302.2"/><circle cx="94.7" cy="280.9"/><circle cx="98.5" cy="303.4"/><circle cx="96.3" cy="299.1"/><circle cx="92.4" cy="290.8"/><circle cx="87.9" cy="304.0"/><circle cx="102.3" cy="300.6"/><circle cx="93.5" cy="275.8"/><circle cx="94.0" cy="285.8"/><circle cx="93.0" cy="275.1"/><circle cx="96.0" cy="284.7"/><circle cx="97.1" cy="296.5"/><circle cx="91.4" cy="294.5"/><circle cx="101.9" cy="305.4"/><circle cx="87.6" cy="303.0"/><circle cx="90.0" cy="299.8"/><circle cx="93.9" cy="284.8"/><circle cx="92.6" cy="293.2"/><circle cx="101.0" cy="295.6"/><circle cx="98.6" cy="295.3"/><circle cx="91.0" cy="286.6"/><circle cx="95.8" cy="282.3"/><circle cx="93.4" cy="282.6"/><circle cx="91.6" cy="275.2"/><circle cx="90.5" cy="274.8"/><circle cx="100.1" cy="296.3"/><circle cx="87.4" cy="302.1"/><circle cx="90.0" cy="301.6"/><circle cx="95.2" cy="285.5"/><circle cx="94.7" cy="284.4"/><circle cx="91.4" cy="294.0"/><circle cx="90.9" cy="280.4"/><circle cx="94.3" cy="282.1"/><circle cx="90.0" cy="293.8"/><circle cx="87.6" cy="294.7"/><circle cx="98.1" cy="285.1"/><circle cx="101.7" cy="302.5"/><circle cx="90.8" cy="284.5"/><circle cx="88.6" cy="297.9"/><circle cx="98.0" cy="294.9"/><circle cx="87.9" cy="298.0"/><circle cx="94.8" cy="291.9"/><circle cx="95.1" cy="285.8"/><circle cx="91.4" cy="280.8"/><circle cx="99.0" cy="298.8"/><circle cx="96.7" cy="294.9"/><circle cx="97.7" cy="304.0"/><circle cx="100.0" cy="293.0"/><circle cx="91.5" cy="291.7"/><circle cx="94.7" cy="293.8"/><circle cx="92.0" cy="299.2"/><circle cx="95.9" cy="280.0"/><circle cx="99.2" cy="304.9"/><circle cx="88.0" cy="291.7"/><circle cx="91.3" cy="294.1"/><circle cx="98.6" cy="299.9"/><circle cx="96.1" cy="292.6"/><circle cx="96.1" cy="281.3"/><circle cx="101.0" cy="295.0"/><circle cx="90.7" cy="304.3"/><circle cx="96.1" cy="299.8"/><circle cx="97.2" cy="299.5"/><circle cx="98.1" cy="302.0"/><circle cx="91.9" cy="279.0"/><circle cx="97.0" cy="293.6"/><circle cx="99.0" cy="296.5"/><circle cx="97.6" cy="286.8"/><circle cx="86.8" cy="305.2"/><circle cx="101.9" cy="299.4"/><circle cx="90.7" cy="282.9"/><circle cx="100.3" cy="292.4"/><circle cx="97.7" cy="305.3"/><circle cx="94.3" cy="279.3"/><circle cx="97.8" cy="285.8"/><circle cx="87.9" cy="301.0"/><circle cx="99.6" cy="302.5"/><circle cx="92.3" cy="304.9"/><circle cx="88.7" cy="290.4"/><circle cx="92.9" cy="292.6"/><circle cx="99.9" cy="292.1"/><circle cx="93.2" cy="289.8"/><circle cx="96.5" cy="301.0"/><circle cx="92.4" cy="293.9"/><circle cx="90.8" cy="290.4"/><circle cx="95.5" cy="295.8"/><circle cx="90.6" cy="279.0"/><circle cx="97.8" cy="288.5"/><circle cx="87.3" cy="304.2"/><circle cx="91.3" cy="300.5"/><circle cx="97.7" cy="285.6"/><circle cx="101.7" cy="301.7"/><circle cx="99.6" cy="289.1"/><circle cx="91.5" cy="275.5"/><circle cx="93.5" cy="289.4"/><circle cx="95.4" cy="291.4"/><circle cx="89.5" cy="289.2"/><circle cx="88.3" cy="305.1"/><circle cx="88.2" cy="300.4"/><circle cx="93.2" cy="298.7"/><circle cx="93.0" cy="287.9"/><circle cx="92.0" cy="300.5"/><circle cx="88.0" cy="294.4"/><circle cx="93.7" cy="285.1"/><circle cx="95.6" cy="281.6"/><circle cx="101.8" cy="295.1"/><circle cx="95.9" cy="297.5"/><circle cx="91.7" cy="283.7"/><circle cx="87.7" cy="293.0"/><circle cx="93.6" cy="303.1"/><circle cx="88.2" cy="293.7"/><circle cx="95.7" cy="295.4"/><circle cx="97.5" cy="299.0"/><circle cx="98.3" cy="291.7"/><circle cx="96.9" cy="290.1"/><circle cx="99.2" cy="295.2"/><circle cx="94.2" cy="280.3"/><circle cx="90.2" cy="291.6"/><circle cx="95.9" cy="299.6"/><circle cx="92.0" cy="296.7"/><circle cx="88.5" cy="293.3"/><circle cx="93.9" cy="292.7"/><circle cx="97.3" cy="300.3"/><circle cx="95.7" cy="294.4"/><circle cx="93.3" cy="303.6"/><circle cx="96.4" cy="296.8"/><circle cx="95.5" cy="285.2"/><circle cx="98.9" cy="298.8"/><circle cx="94.7" cy="298.4"/><circle cx="90.7" cy="297.8"/><circle cx="99.6" cy="304.0"/><circle cx="98.0" cy="294.8"/><circle cx="98.6" cy="299.1"/><circle cx="94.1" cy="291.4"/><circle cx="89.6" cy="279.3"/><circle cx="93.3" cy="285.3"/><circle cx="93.2" cy="304.8"/><circle cx="91.3" cy="287.2"/><circle cx="101.3" cy="294.4"/><circle cx="92.4" cy="275.4"/><circle cx="101.7" cy="303.2"/><circle cx="88.2" cy="305.3"/><circle cx="92.9" cy="284.5"/><circle cx="103.1" cy="300.8"/><circle cx="90.7" cy="279.3"/><circle cx="93.1" cy="292.0"/><circle cx="90.9" cy="295.1"/><circle cx="97.0" cy="283.3"/><circle cx="90.9" cy="292.9"/><circle cx="98.6" cy="300.4"/><circle cx="98.7" cy="292.2"/><circle cx="100.3" cy="304.3"/><circle cx="94.5" cy="295.9"/><circle cx="94.1" cy="287.4"/><circle cx="90.8" cy="303.0"/><circle cx="95.1" cy="292.0"/><circle cx="95.9" cy="290.6"/><circle cx="91.3" cy="304.4"/><circle cx="96.5" cy="299.0"/><circle cx="89.4" cy="304.1"/><circle cx="93.9" cy="289.4"/><circle cx="92.2" cy="285.7"/><circle cx="96.0" cy="305.4"/><circle cx="94.3" cy="304.1"/><circle cx="92.7" cy="295.6"/><circle cx="99.7" cy="301.1"/><circle cx="99.4" cy="295.8"/><circle cx="92.5" cy="277.5"/><circle cx="93.1" cy="297.7"/><circle cx="89.7" cy="278.4"/><circle cx="92.2" cy="277.3"/><circle cx="97.6" cy="305.4"/><circle cx="96.1" cy="305.4"/><circle cx="93.1" cy="302.3"/><circle cx="95.2" cy="294.9"/><circle cx="97.7" cy="296.3"/><circle cx="94.2" cy="295.9"/><circle cx="93.5" cy="280.2"/><circle cx="103.7" cy="304.2"/><circle cx="94.8" cy="291.5"/><circle cx="88.2" cy="295.4"/><circle cx="89.9" cy="286.0"/><circle cx="96.1" cy="283.2"/><circle cx="91.9" cy="300.6"/><circle cx="103.5" cy="300.9"/><circle cx="90.9" cy="278.7"/><circle cx="98.1" cy="283.9"/><circle cx="99.7" cy="305.0"/><circle cx="93.3" cy="287.0"/><circle cx="96.0" cy="298.3"/><circle cx="92.7" cy="284.8"/><circle cx="95.5" cy="302.9"/><circle cx="93.8" cy="290.8"/><circle cx="91.7" cy="280.9"/><circle cx="97.1" cy="291.9"/><circle cx="99.2" cy="293.3"/><circle cx="90.5" cy="305.1"/><circle cx="100.8" cy="291.2"/><circle cx="99.6" cy="302.8"/><circle cx="98.7" cy="304.5"/><circle cx="96.6" cy="300.1"/><circle cx="93.5" cy="286.1"/><circle cx="99.4" cy="296.0"/><circle cx="94.0" cy="297.9"/><circle cx="89.5" cy="278.5"/><circle cx="102.7" cy="305.2"/><circle cx="88.5" cy="294.7"/><circle cx="97.6" cy="296.5"/><circle cx="92.3" cy="289.5"/><circle cx="92.3" cy="301.1"/><circle cx="88.9" cy="296.9"/><circle cx="94.4" cy="285.5"/><circle cx="90.1" cy="284.5"/><circle cx="98.6" cy="300.2"/><circle cx="91.7" cy="275.2"/><circle cx="91.0" cy="286.7"/><circle cx="95.8" cy="296.8"/><circle cx="88.8" cy="287.4"/><circle cx="89.5" cy="285.1"/><circle cx="100.7" cy="300.8"/><circle cx="101.5" cy="297.9"/><circle cx="91.7" cy="301.4"/><circle cx="96.1" cy="286.2"/><circle cx="101.9" cy="300.6"/><circle cx="98.3" cy="296.1"/><circle cx="89.3" cy="301.4"/><circle cx="95.1" cy="294.3"/><circle cx="93.7" cy="302.5"/><circle cx="88.4" cy="304.9"/><circle cx="88.8" cy="303.7"/><circle cx="99.2" cy="291.8"/><circle cx="98.4" cy="300.5"/><circle cx="93.9" cy="303.7"/><circle cx="90.9" cy="281.8"/><circle cx="93.8" cy="276.1"/><circle cx="92.9" cy="289.1"/><circle cx="97.3" cy="292.7"/><circle cx="100.0" cy="295.2"/><circle cx="93.9" cy="305.0"/><circle cx="94.8" cy="283.5"/><circle cx="89.7" cy="289.8"/><circle cx="95.1" cy="288.2"/><circle cx="92.9" cy="287.0"/><circle cx="89.5" cy="286.8"/><circle cx="93.7" cy="296.5"/><circle cx="91.4" cy="289.8"/><circle cx="103.3" cy="303.9"/><circle cx="92.0" cy="280.8"/><circle cx="93.9" cy="290.4"/><circle cx="90.8" cy="288.7"/><circle cx="90.6" cy="280.6"/><circle cx="92.6" cy="293.2"/><circle cx="91.6" cy="289.8"/><circle cx="98.4" cy="300.5"/><circle cx="92.5" cy="286.9"/><circle cx="92.3" cy="286.6"/><circle cx="93.8" cy="294.7"/><circle cx="91.3" cy="286.4"/><circle cx="102.0" cy="297.7"/><circle cx="100.8" cy="293.5"/><circle cx="101.0" cy="303.2"/><circle cx="92.2" cy="296.8"/><circle cx="95.6" cy="296.2"/><circle cx="92.0" cy="292.7"/><circle cx="88.8" cy="296.5"/><circle cx="101.1" cy="297.6"/><circle cx="99.2" cy="294.9"/><circle cx="102.6" cy="301.3"/><circle cx="90.8" cy="280.5"/><circle cx="92.3" cy="303.0"/><circle cx="88.5" cy="298.5"/><circle cx="95.4" cy="305.0"/><circle cx="90.0" cy="290.0"/><circle cx="87.3" cy="305.1"/><circle cx="103.8" cy="303.5"/><circle cx="88.7" cy="285.5"/><circle cx="93.0" cy="285.4"/><circle cx="89.9" cy="302.5"/><circle cx="100.6" cy="292.2"/><circle cx="94.9" cy="287.6"/><circle cx="101.6" cy="296.9"/><circle cx="89.1" cy="291.4"/><circle cx="95.2" cy="281.5"/><circle cx="91.8" cy="304.2"/><circle cx="100.6" cy="305.1"/><circle cx="97.9" cy="296.8"/><circle cx="99.9" cy="303.5"/><circle cx="94.2" cy="304.8"/><circle cx="90.6" cy="301.1"/><circle cx="95.3" cy="295.7"/><circle cx="90.0" cy="293.2"/><circle cx="101.2" cy="304.1"/><circle cx="90.9" cy="292.6"/><circle cx="97.0" cy="282.9"/><circle cx="102.8" cy="300.6"/><circle cx="94.5" cy="297.3"/><circle cx="90.2" cy="295.1"/><circle cx="91.9" cy="305.1"/><circle cx="98.5" cy="302.6"/><circle cx="97.7" cy="298.8"/><circle cx="90.1" cy="291.7"/><circle cx="101.6" cy="302.9"/><circle cx="91.3" cy="289.8"/><circle cx="97.4" cy="300.3"/><circle cx="100.7" cy="300.0"/><circle cx="94.6" cy="288.8"/><circle cx="96.5" cy="302.7"/><circle cx="100.0" cy="300.4"/><circle cx="98.9" cy="286.4"/><circle cx="91.2" cy="302.1"/><circle cx="98.7" cy="297.0"/><circle cx="89.4" cy="305.0"/><circle cx="98.4" cy="287.5"/><circle cx="100.6" cy="305.4"/><circle cx="98.7" cy="302.2"/><circle cx="97.4" cy="302.7"/><circle cx="92.5" cy="290.4"/><circle cx="89.4" cy="301.5"/><circle cx="95.3" cy="293.3"/><circle cx="97.0" cy="294.7"/><circle cx="92.9" cy="283.9"/><circle cx="92.3" cy="295.5"/><circle cx="89.6" cy="304.7"/><circle cx="90.3" cy="290.5"/><circle cx="97.8" cy="292.8"/><circle cx="91.6" cy="282.0"/><circle cx="92.9" cy="285.6"/><circle cx="98.8" cy="288.8"/><circle cx="98.7" cy="301.1"/><circle cx="96.6" cy="297.9"/><circle cx="96.6" cy="286.7"/><circle cx="92.8" cy="299.7"/><circle cx="93.0" cy="298.3"/><circle cx="97.3" cy="286.1"/><circle cx="96.0" cy="285.8"/><circle cx="90.9" cy="286.9"/><circle cx="99.7" cy="296.5"/><circle cx="88.8" cy="303.8"/><circle cx="94.0" cy="294.9"/><circle cx="87.0" cy="292.1"/><circle cx="89.6" cy="250.1"/><circle cx="90.6" cy="268.2"/><circle cx="89.1" cy="275.0"/><circle cx="96.1" cy="264.9"/><circle cx="88.9" cy="266.3"/><circle cx="87.9" cy="278.6"/><circle cx="87.5" cy="284.8"/><circle cx="102.5" cy="237.4"/><circle cx="87.7" cy="288.2"/><circle cx="103.9" cy="295.0"/><circle cx="103.3" cy="296.6"/><circle cx="95.6" cy="267.5"/><circle cx="102.5" cy="290.0"/><circle cx="86.6" cy="300.7"/><circle cx="100.1" cy="282.9"/><circle cx="96.0" cy="259.8"/><circle cx="97.5" cy="274.2"/><circle cx="89.2" cy="274.4"/><circle cx="91.9" cy="259.6"/><circle cx="98.8" cy="279.8"/><circle cx="89.5" cy="261.8"/><circle cx="103.1" cy="283.0"/><circle cx="89.2" cy="275.8"/><circle cx="93.4" cy="269.5"/><circle cx="100.0" cy="282.7"/><circle cx="102.2" cy="278.1"/><circle cx="100.7" cy="273.9"/><circle cx="101.3" cy="290.8"/><circle cx="93.7" cy="239.0"/><circle cx="93.1" cy="274.2"/><circle cx="96.3" cy="272.0"/><circle cx="89.4" cy="275.2"/><circle cx="96.1" cy="222.7"/><circle cx="96.4" cy="252.1"/><circle cx="92.1" cy="265.2"/><circle cx="88.9" cy="275.2"/><circle cx="87.9" cy="288.6"/><circle cx="92.8" cy="248.9"/><circle cx="96.1" cy="263.5"/><circle cx="89.8" cy="273.3"/><circle cx="86.6" cy="299.5"/><circle cx="91.7" cy="255.7"/><circle cx="94.8" cy="272.8"/><circle cx="96.9" cy="274.0"/><circle cx="92.4" cy="267.1"/><circle cx="103.0" cy="279.9"/><circle cx="90.2" cy="271.7"/><circle cx="91.0" cy="242.3"/><circle cx="90.9" cy="258.9"/><circle cx="104.0" cy="285.9"/><circle cx="95.0" cy="260.1"/><circle cx="92.7" cy="268.4"/><circle cx="87.1" cy="290.4"/><circle cx="93.3" cy="269.7"/><circle cx="101.0" cy="270.3"/><circle cx="101.6" cy="292.3"/><circle cx="103.7" cy="294.1"/><circle cx="89.9" cy="273.1"/><circle cx="86.9" cy="293.9"/><circle cx="89.5" cy="252.4"/><circle cx="87.5" cy="285.6"/><circle cx="102.1" cy="294.3"/><circle cx="91.5" cy="254.2"/><circle cx="101.6" cy="292.3"/><circle cx="91.5" cy="269.7"/><circle cx="88.1" cy="274.6"/><circle cx="91.2" cy="272.5"/><circle cx="97.5" cy="268.4"/><circle cx="104.1" cy="298.9"/><circle cx="97.9" cy="279.8"/><circle cx="101.0" cy="270.1"/><circle cx="95.6" cy="277.7"/><circle cx="103.2" cy="287.3"/><circle cx="102.0" cy="292.5"/><circle cx="101.7" cy="290.4"/><circle cx="99.0" cy="281.0"/><circle cx="101.5" cy="283.4"/><circle cx="102.6" cy="275.1"/><circle cx="98.7" cy="275.4"/><circle cx="87.6" cy="282.0"/><circle cx="94.3" cy="268.6"/><circle cx="104.0" cy="291.6"/><circle cx="98.9" cy="279.7"/><circle cx="93.5" cy="266.5"/><circle cx="102.5" cy="296.4"/><circle cx="92.8" cy="269.0"/><circle cx="93.4" cy="270.0"/><circle cx="96.1" cy="251.1"/><circle cx="98.7" cy="264.8"/><circle cx="96.7" cy="271.6"/><circle cx="92.3" cy="270.5"/><circle cx="96.6" cy="217.6"/><circle cx="92.7" cy="274.7"/><circle cx="98.5" cy="282.5"/><circle cx="96.5" cy="278.0"/><circle cx="88.2" cy="275.2"/><circle cx="97.8" cy="278.8"/><circle cx="103.5" cy="298.8"/><circle cx="97.7" cy="272.9"/><circle cx="87.6" cy="291.0"/><circle cx="96.4" cy="240.0"/><circle cx="89.2" cy="272.1"/><circle cx="93.9" cy="274.2"/><circle cx="89.2" cy="256.3"/><circle cx="103.1" cy="298.1"/><circle cx="100.4" cy="282.5"/><circle cx="96.7" cy="277.5"/><circle cx="91.7" cy="271.3"/><circle cx="88.1" cy="274.7"/><circle cx="99.3" cy="285.3"/><circle cx="90.6" cy="262.6"/><circle cx="102.9" cy="294.1"/><circle cx="102.4" cy="284.4"/><circle cx="89.2" cy="270.6"/><circle cx="104.0" cy="292.9"/><circle cx="87.7" cy="290.2"/><circle cx="95.6" cy="268.2"/><circle cx="91.6" cy="270.0"/><circle cx="97.8" cy="282.2"/><circle cx="101.7" cy="271.1"/><circle cx="91.1" cy="226.6"/><circle cx="87.5" cy="287.5"/><circle cx="92.9" cy="267.2"/><circle cx="89.9" cy="261.9"/><circle cx="99.3" cy="275.4"/><circle cx="91.6" cy="262.3"/><circle cx="97.2" cy="268.8"/><circle cx="88.2" cy="284.7"/><circle cx="91.2" cy="272.0"/><circle cx="100.3" cy="283.9"/><circle cx="101.5" cy="280.6"/><circle cx="96.4" cy="268.3"/><circle cx="96.8" cy="269.1"/><circle cx="87.2" cy="288.8"/><circle cx="97.1" cy="274.0"/><circle cx="97.0" cy="240.2"/><circle cx="90.3" cy="239.7"/><circle cx="99.5" cy="282.9"/><circle cx="88.5" cy="277.6"/><circle cx="96.0" cy="278.2"/><circle cx="87.9" cy="277.9"/><circle cx="101.8" cy="280.1"/><circle cx="93.6" cy="275.4"/><circle cx="103.9" cy="287.4"/><circle cx="94.5" cy="248.6"/><circle cx="100.5" cy="286.7"/><circle cx="95.4" cy="273.0"/><circle cx="87.1" cy="295.0"/><circle cx="92.1" cy="236.4"/></g>
<g class="r60" fill="#8d93ad" fill-opacity="0.55"><circle cx="72.3" cy="263.2"/><circle cx="91.8" cy="301.8"/><circle cx="114.3" cy="301.0"/><circle cx="94.4" cy="279.3"/><circle cx="93.1" cy="300.3"/><circle cx="72.5" cy="301.9"/><circle cx="71.6" cy="282.7"/><circle cx="90.2" cy="293.4"/><circle cx="80.3" cy="301.3"/><circle cx="109.7" cy="238.5"/><circle cx="80.1" cy="287.5"/><circle cx="89.9" cy="299.0"/><circle cx="81.0" cy="303.2"/><circle cx="110.1" cy="288.2"/><circle cx="94.5" cy="302.5"/><circle cx="106.6" cy="280.8"/><circle cx="89.3" cy="301.7"/><circle cx="118.5" cy="283.0"/><circle cx="103.5" cy="286.8"/><circle cx="91.1" cy="302.2"/><circle cx="117.2" cy="217.6"/><circle cx="61.6" cy="232.8"/><circle cx="101.4" cy="287.3"/><circle cx="106.4" cy="301.2"/><circle cx="87.8" cy="304.0"/><circle cx="91.8" cy="292.6"/><circle cx="102.6" cy="249.3"/><circle cx="111.4" cy="244.5"/><circle cx="108.9" cy="303.2"/><circle cx="95.5" cy="296.9"/><circle cx="94.7" cy="304.6"/><circle cx="72.8" cy="285.0"/><circle cx="78.6" cy="298.4"/><circle cx="106.1" cy="281.0"/><circle cx="107.0" cy="291.3"/><circle cx="102.4" cy="303.0"/><circle cx="96.5" cy="278.5"/><circle cx="96.5" cy="296.2"/><circle cx="92.4" cy="304.8"/><circle cx="93.5" cy="302.1"/><circle cx="95.2" cy="304.8"/><circle cx="100.6" cy="262.7"/><circle cx="97.0" cy="301.6"/><circle cx="96.8" cy="270.5"/><circle cx="105.9" cy="239.2"/><circle cx="111.9" cy="299.7"/><circle cx="115.6" cy="230.5"/><circle cx="111.7" cy="293.5"/><circle cx="112.5" cy="246.7"/><circle cx="107.4" cy="234.7"/><circle cx="87.9" cy="302.6"/><circle cx="78.8" cy="302.4"/><circle cx="101.0" cy="275.1"/><circle cx="100.6" cy="278.8"/><circle cx="97.1" cy="299.3"/><circle cx="95.5" cy="290.5"/><circle cx="96.4" cy="290.3"/><circle cx="71.7" cy="290.6"/><circle cx="102.0" cy="290.1"/><circle cx="98.3" cy="266.7"/><circle cx="93.0" cy="290.8"/><circle cx="87.7" cy="303.3"/><circle cx="70.5" cy="281.2"/><circle cx="99.2" cy="280.2"/><circle cx="67.9" cy="255.3"/><circle cx="89.5" cy="300.8"/><circle cx="97.6" cy="274.4"/><circle cx="91.6" cy="303.7"/><circle cx="93.9" cy="286.9"/><circle cx="76.1" cy="285.0"/><circle cx="93.8" cy="305.4"/><circle cx="71.8" cy="279.0"/><circle cx="91.1" cy="304.9"/><circle cx="96.2" cy="273.8"/><circle cx="117.2" cy="255.6"/><circle cx="67.0" cy="300.1"/><circle cx="80.0" cy="292.8"/><circle cx="106.1" cy="292.6"/><circle cx="66.3" cy="303.5"/><circle cx="73.9" cy="286.7"/><circle cx="81.4" cy="294.8"/><circle cx="91.8" cy="291.8"/><circle cx="109.8" cy="243.7"/><circle cx="108.8" cy="255.0"/><circle cx="89.1" cy="302.0"/><circle cx="90.6" cy="303.2"/><circle cx="106.4" cy="288.2"/><circle cx="72.3" cy="269.9"/><circle cx="98.5" cy="305.2"/><circle cx="77.4" cy="304.5"/><circle cx="95.6" cy="275.2"/><circle cx="110.7" cy="305.3"/><circle cx="92.2" cy="295.0"/><circle cx="81.9" cy="294.6"/><circle cx="96.0" cy="290.3"/><circle cx="104.6" cy="261.6"/><circle cx="107.9" cy="304.7"/><circle cx="103.1" cy="265.5"/><circle cx="87.9" cy="301.2"/><circle cx="108.3" cy="262.8"/><circle cx="101.2" cy="295.5"/><circle cx="96.4" cy="286.1"/><circle cx="76.3" cy="283.2"/><circle cx="92.0" cy="288.0"/><circle cx="80.0" cy="304.8"/><circle cx="87.7" cy="299.4"/><circle cx="56.0" cy="240.8"/><circle cx="68.3" cy="278.7"/><circle cx="94.3" cy="285.6"/><circle cx="52.6" cy="228.6"/><circle cx="98.9" cy="284.7"/><circle cx="97.6" cy="271.9"/><circle cx="69.0" cy="258.0"/><circle cx="100.0" cy="268.4"/><circle cx="66.3" cy="296.2"/><circle cx="98.0" cy="293.2"/><circle cx="106.6" cy="271.5"/><circle cx="102.8" cy="299.7"/><circle cx="79.8" cy="290.6"/><circle cx="69.8" cy="299.9"/><circle cx="88.2" cy="297.0"/><circle cx="94.8" cy="287.3"/><circle cx="83.3" cy="298.2"/><circle cx="88.9" cy="303.0"/><circle cx="93.2" cy="283.6"/><circle cx="98.3" cy="296.2"/><circle cx="97.0" cy="304.1"/><circle cx="97.1" cy="278.4"/><circle cx="104.2" cy="247.8"/><circle cx="92.5" cy="284.4"/><circle cx="99.4" cy="302.1"/><circle cx="91.4" cy="296.2"/><circle cx="92.7" cy="291.3"/><circle cx="89.1" cy="302.8"/><circle cx="88.6" cy="298.7"/><circle cx="96.3" cy="295.3"/><circle cx="100.3" cy="264.1"/><circle cx="99.3" cy="283.4"/><circle cx="66.4" cy="283.8"/><circle cx="109.8" cy="272.0"/><circle cx="97.3" cy="292.8"/><circle cx="109.5" cy="273.8"/><circle cx="56.9" cy="244.3"/><circle cx="88.3" cy="303.4"/><circle cx="74.4" cy="305.2"/><circle cx="113.4" cy="248.2"/><circle cx="70.2" cy="286.9"/><circle cx="68.6" cy="257.7"/><circle cx="69.8" cy="305.1"/><circle cx="90.7" cy="293.2"/><circle cx="87.9" cy="303.8"/><circle cx="65.6" cy="253.4"/><circle cx="80.9" cy="301.8"/><circle cx="96.7" cy="303.0"/><circle cx="81.6" cy="297.7"/><circle cx="69.0" cy="298.0"/><circle cx="88.5" cy="298.2"/><circle cx="97.1" cy="287.4"/><circle cx="93.8" cy="282.9"/><circle cx="95.7" cy="284.8"/><circle cx="65.1" cy="280.6"/><circle cx="92.5" cy="293.4"/><circle cx="72.3" cy="304.4"/><circle cx="102.7" cy="302.6"/><circle cx="103.0" cy="295.7"/><circle cx="80.9" cy="298.7"/><circle cx="99.1" cy="265.7"/><circle cx="96.1" cy="305.4"/><circle cx="93.1" cy="301.0"/><circle cx="104.5" cy="302.7"/><circle cx="95.6" cy="279.2"/><circle cx="103.6" cy="253.2"/><circle cx="100.7" cy="281.8"/><circle cx="96.9" cy="300.1"/><circle cx="98.1" cy="272.4"/><circle cx="88.2" cy="303.4"/><circle cx="87.9" cy="301.2"/><circle cx="101.9" cy="264.4"/><circle cx="126.9" cy="271.1"/><circle cx="93.3" cy="302.0"/><circle cx="107.7" cy="303.1"/><circle cx="90.8" cy="289.7"/><circle cx="79.1" cy="305.2"/><circle cx="95.1" cy="280.7"/><circle cx="93.7" cy="280.1"/><circle cx="106.2" cy="283.0"/><circle cx="93.7" cy="303.5"/><circle cx="93.6" cy="288.7"/><circle cx="99.0" cy="300.0"/><circle cx="111.3" cy="275.7"/><circle cx="80.9" cy="301.7"/><circle cx="96.9" cy="280.0"/><circle cx="88.1" cy="299.7"/><circle cx="96.8" cy="285.1"/><circle cx="97.9" cy="288.2"/><circle cx="63.3" cy="254.1"/><circle cx="68.6" cy="299.2"/><circle cx="93.8" cy="302.0"/><circle cx="109.2" cy="297.3"/><circle cx="119.2" cy="292.2"/><circle cx="96.6" cy="292.1"/><circle cx="82.1" cy="304.5"/><circle cx="61.8" cy="232.2"/><circle cx="99.3" cy="304.0"/><circle cx="71.1" cy="260.3"/><circle cx="89.2" cy="296.3"/><circle cx="66.8" cy="275.8"/><circle cx="100.4" cy="283.6"/><circle cx="88.6" cy="297.9"/><circle cx="91.3" cy="300.9"/><circle cx="100.3" cy="267.3"/><circle cx="91.5" cy="298.7"/><circle cx="105.1" cy="255.6"/><circle cx="83.4" cy="302.3"/><circle cx="117.7" cy="199.6"/><circle cx="82.4" cy="299.7"/><circle cx="76.5" cy="288.0"/><circle cx="90.5" cy="303.0"/><circle cx="90.8" cy="287.7"/><circle cx="76.7" cy="304.7"/><circle cx="124.7" cy="304.3"/><circle cx="105.1" cy="288.2"/><circle cx="96.1" cy="270.7"/><circle cx="91.5" cy="302.0"/><circle cx="107.7" cy="303.2"/><circle cx="49.5" cy="277.5"/><circle cx="96.2" cy="280.0"/><circle cx="93.0" cy="287.0"/><circle cx="74.2" cy="304.1"/><circle cx="62.7" cy="280.6"/><circle cx="101.5" cy="287.5"/><circle cx="94.6" cy="302.4"/><circle cx="89.6" cy="304.4"/><circle cx="79.6" cy="300.9"/><circle cx="114.3" cy="277.4"/><circle cx="77.8" cy="291.6"/><circle cx="110.0" cy="257.8"/><circle cx="98.1" cy="283.0"/><circle cx="99.2" cy="290.4"/><circle cx="119.4" cy="293.7"/><circle cx="94.4" cy="303.8"/><circle cx="90.2" cy="304.3"/><circle cx="74.8" cy="280.9"/><circle cx="100.7" cy="299.5"/><circle cx="55.8" cy="267.2"/><circle cx="94.3" cy="300.7"/><circle cx="103.1" cy="295.0"/><circle cx="107.9" cy="253.8"/><circle cx="104.1" cy="259.2"/><circle cx="102.0" cy="280.6"/><circle cx="68.1" cy="273.2"/><circle cx="91.4" cy="294.5"/><circle cx="88.2" cy="299.0"/><circle cx="99.6" cy="305.5"/><circle cx="83.5" cy="304.2"/><circle cx="83.3" cy="299.8"/><circle cx="99.6" cy="258.1"/><circle cx="96.5" cy="282.2"/><circle cx="87.8" cy="299.6"/><circle cx="104.1" cy="298.5"/><circle cx="110.6" cy="304.3"/><circle cx="89.1" cy="294.5"/><circle cx="95.5" cy="300.2"/><circle cx="70.2" cy="295.7"/><circle cx="68.6" cy="273.5"/><circle cx="102.2" cy="281.7"/><circle cx="82.6" cy="297.4"/><circle cx="113.7" cy="290.5"/><circle cx="95.5" cy="302.0"/><circle cx="77.8" cy="304.5"/><circle cx="99.6" cy="270.4"/><circle cx="105.2" cy="267.1"/><circle cx="80.3" cy="294.7"/><circle cx="102.6" cy="295.1"/><circle cx="91.8" cy="302.9"/><circle cx="74.4" cy="280.4"/><circle cx="102.1" cy="263.5"/><circle cx="47.8" cy="280.0"/><circle cx="93.2" cy="299.8"/><circle cx="83.2" cy="299.4"/><circle cx="87.8" cy="299.8"/><circle cx="96.7" cy="301.7"/><circle cx="59.5" cy="289.9"/><circle cx="77.6" cy="286.6"/><circle cx="93.3" cy="288.8"/><circle cx="91.5" cy="299.8"/><circle cx="78.3" cy="287.0"/><circle cx="82.6" cy="299.2"/><circle cx="96.8" cy="292.6"/><circle cx="67.8" cy="281.1"/><circle cx="76.8" cy="301.6"/><circle cx="107.5" cy="282.4"/><circle cx="92.9" cy="304.0"/><circle cx="99.8" cy="285.1"/><circle cx="98.3" cy="304.1"/><circle cx="96.4" cy="305.4"/><circle cx="88.0" cy="297.6"/><circle cx="78.2" cy="303.6"/><circle cx="81.4" cy="302.2"/></g>
<g class="r60" fill="#8d93ad" fill-opacity="0.55"><circle cx="74.7" cy="298.5"/><circle cx="99.5" cy="297.5"/><circle cx="111.1" cy="281.6"/><circle cx="108.8" cy="304.5"/><circle cx="104.1" cy="290.8"/><circle cx="127.8" cy="297.4"/><circle cx="105.9" cy="304.2"/><circle cx="77.7" cy="286.6"/><circle cx="96.9" cy="284.1"/><circle cx="119.4" cy="285.9"/><circle cx="115.1" cy="264.9"/><circle cx="95.8" cy="301.7"/><circle cx="59.7" cy="270.8"/><circle cx="100.1" cy="293.6"/><circle cx="97.5" cy="299.8"/><circle cx="114.8" cy="281.4"/><circle cx="81.1" cy="298.0"/><circle cx="88.0" cy="301.4"/><circle cx="91.3" cy="305.2"/><circle cx="133.8" cy="194.2"/><circle cx="82.4" cy="302.2"/><circle cx="93.3" cy="305.1"/><circle cx="115.1" cy="247.3"/><circle cx="106.3" cy="280.5"/><circle cx="97.4" cy="304.2"/><circle cx="73.4" cy="305.5"/><circle cx="126.7" cy="290.2"/><circle cx="89.0" cy="298.2"/><circle cx="121.2" cy="256.0"/><circle cx="135.1" cy="277.7"/><circle cx="67.1" cy="296.1"/><circle cx="104.6" cy="275.8"/><circle cx="94.0" cy="299.4"/><circle cx="110.5" cy="303.0"/><circle cx="130.2" cy="245.7"/><circle cx="100.7" cy="290.4"/><circle cx="122.1" cy="232.0"/><circle cx="96.6" cy="304.2"/><circle cx="115.5" cy="263.6"/><circle cx="81.9" cy="299.2"/><circle cx="91.9" cy="299.3"/><circle cx="79.9" cy="295.3"/><circle cx="100.3" cy="275.3"/><circle cx="106.0" cy="272.6"/><circle cx="94.1" cy="303.0"/><circle cx="134.9" cy="297.7"/><circle cx="97.4" cy="292.6"/><circle cx="51.8" cy="226.4"/><circle cx="96.5" cy="280.9"/><circle cx="74.0" cy="295.4"/><circle cx="113.8" cy="269.0"/><circle cx="151.2" cy="217.9"/><circle cx="98.3" cy="305.3"/><circle cx="138.0" cy="196.3"/><circle cx="78.5" cy="290.5"/><circle cx="103.2" cy="279.8"/><circle cx="78.5" cy="304.2"/><circle cx="113.9" cy="249.3"/><circle cx="80.1" cy="302.7"/><circle cx="92.4" cy="293.4"/><circle cx="109.1" cy="259.1"/><circle cx="80.1" cy="297.1"/><circle cx="127.6" cy="284.4"/><circle cx="114.6" cy="268.0"/><circle cx="101.9" cy="273.4"/><circle cx="119.6" cy="252.5"/><circle cx="108.4" cy="263.4"/><circle cx="138.3" cy="199.3"/><circle cx="96.6" cy="293.9"/><circle cx="99.8" cy="285.1"/><circle cx="126.5" cy="258.6"/><circle cx="91.6" cy="291.5"/><circle cx="149.9" cy="298.4"/><circle cx="126.6" cy="304.6"/><circle cx="103.5" cy="273.5"/><circle cx="115.3" cy="254.4"/><circle cx="143.9" cy="231.2"/><circle cx="137.5" cy="305.1"/><circle cx="116.9" cy="289.4"/><circle cx="111.6" cy="255.6"/><circle cx="88.9" cy="304.8"/><circle cx="64.3" cy="305.1"/><circle cx="120.7" cy="223.6"/><circle cx="90.8" cy="299.9"/><circle cx="104.0" cy="302.8"/><circle cx="99.4" cy="296.4"/><circle cx="97.0" cy="283.4"/><circle cx="97.6" cy="282.3"/><circle cx="96.8" cy="300.9"/><circle cx="125.1" cy="237.9"/><circle cx="92.0" cy="301.7"/><circle cx="77.3" cy="303.3"/><circle cx="134.9" cy="248.0"/><circle cx="136.5" cy="271.4"/><circle cx="133.9" cy="222.1"/><circle cx="92.8" cy="290.6"/><circle cx="113.0" cy="259.9"/><circle cx="117.5" cy="285.4"/><circle cx="107.3" cy="292.4"/><circle cx="110.2" cy="298.8"/><circle cx="146.2" cy="251.4"/><circle cx="83.0" cy="301.2"/><circle cx="89.3" cy="305.3"/><circle cx="99.2" cy="303.6"/><circle cx="138.1" cy="227.3"/><circle cx="93.0" cy="302.5"/><circle cx="99.5" cy="290.2"/><circle cx="80.3" cy="300.0"/><circle cx="127.6" cy="295.6"/><circle cx="93.9" cy="288.6"/><circle cx="132.5" cy="264.0"/><circle cx="97.4" cy="305.1"/><circle cx="93.1" cy="290.3"/><circle cx="103.3" cy="277.2"/><circle cx="150.4" cy="290.5"/><circle cx="95.2" cy="288.3"/><circle cx="131.4" cy="298.6"/><circle cx="105.6" cy="286.8"/><circle cx="92.7" cy="295.3"/><circle cx="89.4" cy="296.6"/><circle cx="113.7" cy="242.2"/><circle cx="107.3" cy="261.1"/><circle cx="99.5" cy="275.1"/><circle cx="108.6" cy="302.1"/><circle cx="114.7" cy="304.1"/><circle cx="108.1" cy="302.4"/><circle cx="119.1" cy="256.6"/><circle cx="79.6" cy="305.3"/><circle cx="94.1" cy="303.0"/><circle cx="99.1" cy="304.8"/><circle cx="104.7" cy="280.5"/><circle cx="117.4" cy="259.7"/><circle cx="95.1" cy="302.1"/><circle cx="115.2" cy="293.8"/><circle cx="89.5" cy="302.4"/><circle cx="125.7" cy="288.0"/><circle cx="131.1" cy="240.1"/><circle cx="119.6" cy="252.4"/><circle cx="95.4" cy="295.4"/><circle cx="120.5" cy="301.9"/><circle cx="99.7" cy="299.6"/><circle cx="100.6" cy="278.5"/><circle cx="127.4" cy="286.5"/><circle cx="104.6" cy="301.3"/><circle cx="91.9" cy="302.6"/><circle cx="95.1" cy="289.9"/><circle cx="104.6" cy="265.1"/><circle cx="113.4" cy="249.4"/><circle cx="63.6" cy="260.2"/><circle cx="88.6" cy="299.2"/><circle cx="75.1" cy="281.4"/><circle cx="93.8" cy="289.7"/><circle cx="122.2" cy="257.7"/><circle cx="72.5" cy="299.0"/><circle cx="120.0" cy="223.2"/><circle cx="127.9" cy="291.4"/><circle cx="74.0" cy="299.2"/><circle cx="112.3" cy="260.2"/><circle cx="88.4" cy="303.2"/><circle cx="107.1" cy="281.8"/><circle cx="137.7" cy="199.8"/><circle cx="76.8" cy="296.4"/><circle cx="69.0" cy="277.3"/><circle cx="115.8" cy="296.6"/><circle cx="98.6" cy="282.9"/><circle cx="88.7" cy="303.7"/><circle cx="89.6" cy="303.0"/><circle cx="95.0" cy="290.2"/><circle cx="91.5" cy="298.8"/><circle cx="70.6" cy="293.4"/><circle cx="73.8" cy="298.1"/><circle cx="105.0" cy="295.3"/><circle cx="81.0" cy="296.1"/><circle cx="130.5" cy="252.6"/><circle cx="108.0" cy="267.2"/><circle cx="94.4" cy="285.6"/><circle cx="61.3" cy="284.6"/><circle cx="109.3" cy="268.7"/><circle cx="65.9" cy="303.9"/><circle cx="116.8" cy="275.3"/><circle cx="140.8" cy="225.4"/><circle cx="114.9" cy="256.4"/><circle cx="97.9" cy="289.6"/><circle cx="119.1" cy="275.0"/><circle cx="115.5" cy="240.2"/><circle cx="117.5" cy="297.4"/><circle cx="104.4" cy="277.7"/><circle cx="104.2" cy="292.4"/><circle cx="97.5" cy="305.4"/><circle cx="92.8" cy="293.1"/><circle cx="96.7" cy="284.0"/><circle cx="135.4" cy="298.6"/><circle cx="92.3" cy="293.0"/><circle cx="95.8" cy="296.9"/><circle cx="64.6" cy="295.8"/><circle cx="115.4" cy="272.2"/><circle cx="75.1" cy="285.1"/><circle cx="116.9" cy="236.0"/><circle cx="75.8" cy="295.7"/><circle cx="108.1" cy="268.2"/><circle cx="74.0" cy="283.6"/><circle cx="127.0" cy="249.4"/><circle cx="88.0" cy="299.7"/><circle cx="116.8" cy="278.3"/><circle cx="108.6" cy="302.7"/><circle cx="131.2" cy="267.2"/><circle cx="133.7" cy="255.5"/><circle cx="123.0" cy="242.9"/><circle cx="114.5" cy="251.0"/><circle cx="119.1" cy="304.1"/><circle cx="102.4" cy="299.3"/><circle cx="137.1" cy="294.5"/><circle cx="111.1" cy="251.5"/><circle cx="93.8" cy="304.5"/><circle cx="77.9" cy="290.2"/><circle cx="94.7" cy="303.0"/><circle cx="94.3" cy="288.1"/><circle cx="99.0" cy="292.1"/><circle cx="90.4" cy="296.8"/><circle cx="88.2" cy="299.4"/><circle cx="92.4" cy="304.9"/><circle cx="67.7" cy="268.9"/><circle cx="100.8" cy="280.6"/><circle cx="117.7" cy="285.5"/><circle cx="60.4" cy="271.0"/><circle cx="89.6" cy="299.5"/><circle cx="104.1" cy="302.2"/><circle cx="102.1" cy="279.3"/><circle cx="134.2" cy="251.5"/><circle cx="93.8" cy="293.5"/><circle cx="115.2" cy="249.6"/><circle cx="90.2" cy="301.5"/><circle cx="134.8" cy="198.7"/><circle cx="101.1" cy="287.5"/><circle cx="95.1" cy="301.4"/><circle cx="94.2" cy="299.8"/><circle cx="88.3" cy="304.2"/><circle cx="104.0" cy="264.7"/><circle cx="92.2" cy="296.3"/><circle cx="119.0" cy="269.5"/><circle cx="92.3" cy="291.1"/><circle cx="82.5" cy="301.6"/><circle cx="123.3" cy="267.9"/><circle cx="127.2" cy="270.5"/><circle cx="81.5" cy="297.3"/><circle cx="72.8" cy="292.5"/><circle cx="94.8" cy="299.5"/><circle cx="106.0" cy="299.4"/><circle cx="116.1" cy="252.6"/><circle cx="109.7" cy="298.0"/><circle cx="123.1" cy="232.4"/><circle cx="136.2" cy="213.4"/><circle cx="122.4" cy="291.6"/><circle cx="129.6" cy="299.2"/><circle cx="81.4" cy="297.4"/><circle cx="90.8" cy="299.3"/><circle cx="91.4" cy="294.3"/><circle cx="97.5" cy="279.2"/><circle cx="115.0" cy="297.8"/><circle cx="105.1" cy="278.6"/><circle cx="81.9" cy="304.0"/><circle cx="100.1" cy="291.5"/><circle cx="105.5" cy="302.4"/><circle cx="100.5" cy="278.8"/><circle cx="125.1" cy="277.7"/><circle cx="111.3" cy="300.5"/><circle cx="101.7" cy="303.0"/><circle cx="141.4" cy="262.6"/><circle cx="138.4" cy="278.3"/><circle cx="137.0" cy="227.4"/><circle cx="75.9" cy="300.5"/><circle cx="100.9" cy="272.3"/><circle cx="115.6" cy="287.3"/><circle cx="107.1" cy="302.0"/><circle cx="89.2" cy="304.5"/><circle cx="116.7" cy="240.2"/><circle cx="108.7" cy="300.3"/><circle cx="102.5" cy="300.2"/><circle cx="81.9" cy="301.1"/><circle cx="119.8" cy="283.3"/><circle cx="108.6" cy="304.5"/><circle cx="75.8" cy="298.0"/><circle cx="114.8" cy="296.0"/><circle cx="66.9" cy="291.4"/><circle cx="107.6" cy="279.9"/><circle cx="113.0" cy="279.3"/><circle cx="100.2" cy="303.2"/><circle cx="89.4" cy="300.0"/><circle cx="124.6" cy="293.3"/><circle cx="97.3" cy="284.3"/><circle cx="123.6" cy="268.4"/><circle cx="89.2" cy="305.4"/><circle cx="89.2" cy="296.9"/><circle cx="77.5" cy="302.4"/><circle cx="113.5" cy="305.4"/><circle cx="141.5" cy="197.2"/><circle cx="99.3" cy="294.6"/><circle cx="139.4" cy="269.9"/><circle cx="112.1" cy="260.9"/><circle cx="115.2" cy="234.5"/><circle cx="113.1" cy="256.6"/><circle cx="133.0" cy="194.3"/><circle cx="125.8" cy="217.2"/><circle cx="98.5" cy="298.9"/><circle cx="96.4" cy="305.0"/><circle cx="136.8" cy="254.7"/><circle cx="89.1" cy="301.0"/><circle cx="96.2" cy="301.6"/><circle cx="77.5" cy="295.5"/><circle cx="120.1" cy="304.6"/><circle cx="91.1" cy="294.7"/><circle cx="105.5" cy="293.1"/><circle cx="132.4" cy="303.2"/><circle cx="91.4" cy="303.0"/><circle cx="104.4" cy="266.6"/><circle cx="50.6" cy="295.7"/><circle cx="97.0" cy="300.8"/></g>
<line x1="70.7" y1="189.7" x2="70.7" y2="305.5" stroke="#3a3a3a" stroke-width="0.8" stroke-dasharray="1.8,1.3"/>
<line x1="101.4" y1="189.7" x2="101.4" y2="305.5" stroke="#3a3a3a" stroke-width="0.8" stroke-dasharray="1.8,1.3"/>
<line x1="39.4" y1="281.2" x2="155.5" y2="281.2" stroke="#3a3a3a" stroke-width="0.8" stroke-dasharray="1.8,1.3"/>
<g class="r100" fill="#2a72bb" fill-opacity="0.9"><circle cx="92.1" cy="299.5"/><circle cx="91.5" cy="300.4"/><circle cx="90.1" cy="298.9"/><circle cx="89.4" cy="297.6"/><circle cx="89.9" cy="300.1"/><circle cx="90.9" cy="300.8"/><circle cx="90.2" cy="297.7"/><circle cx="90.1" cy="297.3"/><circle cx="91.4" cy="298.9"/><circle cx="90.6" cy="297.3"/><circle cx="90.5" cy="299.9"/><circle cx="91.0" cy="298.1"/><circle cx="92.0" cy="300.2"/><circle cx="91.0" cy="299.0"/><circle cx="91.3" cy="299.5"/><circle cx="90.9" cy="300.1"/><circle cx="92.0" cy="299.2"/><circle cx="89.8" cy="298.3"/><circle cx="89.9" cy="300.4"/><circle cx="90.4" cy="297.8"/><circle cx="92.4" cy="300.9"/><circle cx="92.0" cy="298.7"/><circle cx="89.9" cy="298.8"/><circle cx="90.4" cy="299.8"/><circle cx="91.2" cy="299.9"/></g>
<ellipse cx="90.9" cy="299.4" rx="2.5" ry="3.1" fill="#2a72bb"/>
<line x1="92" y1="299.6" x2="100.2" y2="299.6" stroke="#2a72bb" stroke-width="1.2"/>
<text x="100.6" y="303.4" font-size="8.2" fill="#2f7dc0" textLength="33.6" lengthAdjust="spacingAndGlyphs" stroke="#2f7dc0" stroke-width="0.12">IFIT1/2/3</text>
<line x1="106" y1="276.2" x2="124" y2="276.2" stroke="#d42a35" stroke-width="0.9"/>
<circle cx="106" cy="276.2" r="2" fill="#d9252f"/>
<text x="125.5" y="278.9" font-size="7.4" fill="#d42a35" textLength="20.3" lengthAdjust="spacingAndGlyphs" stroke="#d42a35" stroke-width="0.18">CD38</text>
<rect x="39.4" y="189.7" width="116.1" height="115.8" fill="none" stroke="#1c1c1c" stroke-width="1.15"/>
<line x1="40.15" y1="305.5" x2="40.15" y2="308.5" stroke="#1c1c1c" stroke-width="0.9"/>
<text x="40.15" y="318.2" font-size="7.4" fill="#2b2b2b" text-anchor="middle" stroke="#2b2b2b" stroke-width="0.18">−2</text>
<line x1="86.25" y1="305.5" x2="86.25" y2="308.5" stroke="#1c1c1c" stroke-width="0.9"/>
<text x="86.25" y="318.2" font-size="7.4" fill="#2b2b2b" text-anchor="middle" stroke="#2b2b2b" stroke-width="0.18">0</text>
<line x1="132.35" y1="305.5" x2="132.35" y2="308.5" stroke="#1c1c1c" stroke-width="0.9"/>
<text x="132.35" y="318.2" font-size="7.4" fill="#2b2b2b" text-anchor="middle" stroke="#2b2b2b" stroke-width="0.18">2</text>
<line x1="63.2" y1="305.5" x2="63.2" y2="307.1" stroke="#1c1c1c" stroke-width="0.8"/>
<line x1="109.3" y1="305.5" x2="109.3" y2="307.1" stroke="#1c1c1c" stroke-width="0.8"/>
<line x1="36.6" y1="305.5" x2="39.4" y2="305.5" stroke="#1c1c1c" stroke-width="0.9"/>
<text x="34" y="308.15" font-size="7.4" fill="#2b2b2b" text-anchor="end" stroke="#2b2b2b" stroke-width="0.18">0</text>
<line x1="36.6" y1="267" x2="39.4" y2="267" stroke="#1c1c1c" stroke-width="0.9"/>
<text x="34" y="269.65" font-size="7.4" fill="#2b2b2b" text-anchor="end" stroke="#2b2b2b" stroke-width="0.18">2</text>
<line x1="36.6" y1="228.5" x2="39.4" y2="228.5" stroke="#1c1c1c" stroke-width="0.9"/>
<text x="34" y="231.15" font-size="7.4" fill="#2b2b2b" text-anchor="end" stroke="#2b2b2b" stroke-width="0.18">4</text>
<line x1="36.6" y1="190" x2="39.4" y2="190" stroke="#1c1c1c" stroke-width="0.9"/>
<text x="34" y="192.65" font-size="7.4" fill="#2b2b2b" text-anchor="end" stroke="#2b2b2b" stroke-width="0.18">6</text>
<line x1="37.8" y1="286.25" x2="39.4" y2="286.25" stroke="#1c1c1c" stroke-width="0.8"/>
<line x1="37.8" y1="247.75" x2="39.4" y2="247.75" stroke="#1c1c1c" stroke-width="0.8"/>
<line x1="37.8" y1="209.25" x2="39.4" y2="209.25" stroke="#1c1c1c" stroke-width="0.8"/>
<text x="44" y="199.6" font-size="7.4" fill="#1c1c1c">ATRA</text>
<text x="97.45" y="330.9" font-size="8.8" fill="#2b2b2b" text-anchor="middle" textLength="40.4" lengthAdjust="spacingAndGlyphs" stroke="#2b2b2b" stroke-width="0.3">Log2FC mRNA</text>
<text x="22.7" y="249.1" font-size="8.1" fill="#2b2b2b" stroke="#2b2b2b" stroke-width="0.3" text-anchor="middle" transform="rotate(-90 22.7 249.1)" textLength="35.6" lengthAdjust="spacingAndGlyphs">–log <tspan font-style="italic">P</tspan>-value</text>
<text x="42.8" y="279.4" font-size="8.1" fill="#1c1c1c" textLength="24.2" lengthAdjust="spacingAndGlyphs"><tspan font-style="italic">P</tspan> = .05</text>
<g class="r80" fill="#a4a4a9" fill-opacity="0.42"><circle cx="228.5" cy="283.1"/><circle cx="222.1" cy="295.5"/><circle cx="226.9" cy="271.7"/><circle cx="227.3" cy="289.6"/><circle cx="222.7" cy="299.6"/><circle cx="227.0" cy="281.1"/><circle cx="232.3" cy="288.2"/><circle cx="223.5" cy="299.5"/><circle cx="227.2" cy="294.8"/><circle cx="227.5" cy="271.7"/><circle cx="223.2" cy="291.1"/><circle cx="229.8" cy="287.9"/><circle cx="230.5" cy="256.7"/><circle cx="228.8" cy="293.7"/><circle cx="229.7" cy="297.3"/><circle cx="225.0" cy="288.4"/><circle cx="223.7" cy="285.5"/><circle cx="227.3" cy="279.8"/><circle cx="222.2" cy="298.1"/><circle cx="222.3" cy="295.8"/><circle cx="230.5" cy="300.3"/><circle cx="224.7" cy="275.1"/><circle cx="228.9" cy="262.1"/><circle cx="228.4" cy="293.0"/><circle cx="227.0" cy="264.4"/><circle cx="226.2" cy="291.2"/><circle cx="233.0" cy="268.6"/><circle cx="223.3" cy="284.3"/><circle cx="230.6" cy="275.1"/><circle cx="228.3" cy="273.2"/><circle cx="231.1" cy="301.9"/><circle cx="225.2" cy="271.2"/><circle cx="231.4" cy="264.3"/><circle cx="226.4" cy="295.9"/><circle cx="228.5" cy="301.5"/><circle cx="226.3" cy="278.4"/><circle cx="227.7" cy="282.1"/><circle cx="226.2" cy="302.3"/><circle cx="231.9" cy="272.8"/><circle cx="227.2" cy="263.8"/><circle cx="233.9" cy="295.0"/><circle cx="227.3" cy="294.7"/><circle cx="230.2" cy="283.7"/><circle cx="233.5" cy="265.0"/><circle cx="220.8" cy="301.3"/><circle cx="225.0" cy="302.6"/><circle cx="226.1" cy="286.3"/><circle cx="229.7" cy="274.0"/><circle cx="227.7" cy="257.2"/><circle cx="233.1" cy="300.7"/><circle cx="225.7" cy="284.8"/><circle cx="226.7" cy="296.0"/><circle cx="230.3" cy="268.3"/><circle cx="231.3" cy="283.3"/><circle cx="227.7" cy="270.6"/><circle cx="231.3" cy="294.9"/><circle cx="232.7" cy="297.0"/><circle cx="229.9" cy="284.7"/><circle cx="228.5" cy="290.8"/><circle cx="223.9" cy="281.5"/><circle cx="233.8" cy="296.3"/><circle cx="233.1" cy="270.9"/><circle cx="223.9" cy="277.5"/><circle cx="231.8" cy="296.1"/><circle cx="234.3" cy="301.4"/><circle cx="233.4" cy="275.3"/><circle cx="232.6" cy="283.7"/><circle cx="233.7" cy="300.3"/><circle cx="222.9" cy="305.6"/><circle cx="227.3" cy="299.7"/><circle cx="233.9" cy="304.7"/><circle cx="227.8" cy="262.1"/><circle cx="232.8" cy="278.0"/><circle cx="227.8" cy="302.3"/><circle cx="224.6" cy="272.0"/><circle cx="233.8" cy="272.9"/><circle cx="226.6" cy="263.5"/><circle cx="231.0" cy="288.1"/><circle cx="231.0" cy="290.7"/><circle cx="231.0" cy="280.1"/><circle cx="227.1" cy="291.4"/><circle cx="229.9" cy="255.0"/><circle cx="226.1" cy="300.7"/><circle cx="233.4" cy="285.0"/><circle cx="223.4" cy="278.0"/><circle cx="225.6" cy="289.1"/><circle cx="229.4" cy="268.0"/><circle cx="232.7" cy="280.6"/><circle cx="226.4" cy="276.0"/><circle cx="231.6" cy="267.6"/><circle cx="230.7" cy="296.8"/><circle cx="230.3" cy="298.5"/><circle cx="229.8" cy="297.4"/><circle cx="226.4" cy="285.2"/><circle cx="227.2" cy="265.5"/><circle cx="232.5" cy="271.6"/><circle cx="229.6" cy="271.3"/><circle cx="232.9" cy="255.0"/><circle cx="223.1" cy="304.2"/><circle cx="226.4" cy="281.1"/><circle cx="223.5" cy="287.0"/><circle cx="226.5" cy="289.4"/><circle cx="222.8" cy="284.1"/><circle cx="222.0" cy="297.7"/><circle cx="232.5" cy="294.2"/><circle cx="227.7" cy="278.8"/><circle cx="230.6" cy="275.6"/><circle cx="229.9" cy="293.1"/><circle cx="223.5" cy="288.2"/><circle cx="223.1" cy="286.0"/><circle cx="232.4" cy="260.7"/><circle cx="227.0" cy="277.1"/><circle cx="228.8" cy="261.1"/><circle cx="228.9" cy="271.3"/><circle cx="222.4" cy="287.8"/><circle cx="224.6" cy="288.5"/><circle cx="228.7" cy="275.2"/><circle cx="227.1" cy="288.1"/><circle cx="231.5" cy="267.3"/><circle cx="232.9" cy="291.9"/><circle cx="231.9" cy="289.5"/><circle cx="233.4" cy="305.4"/><circle cx="222.8" cy="299.9"/><circle cx="224.9" cy="288.6"/><circle cx="225.5" cy="288.7"/><circle cx="223.5" cy="283.4"/><circle cx="228.0" cy="271.7"/><circle cx="223.3" cy="291.7"/><circle cx="223.1" cy="296.8"/><circle cx="224.8" cy="273.1"/><circle cx="232.0" cy="268.4"/><circle cx="227.5" cy="279.6"/><circle cx="224.2" cy="302.5"/><circle cx="230.8" cy="288.0"/><circle cx="233.1" cy="270.1"/><circle cx="233.9" cy="284.8"/><circle cx="233.8" cy="298.2"/><circle cx="233.5" cy="261.5"/><circle cx="232.6" cy="292.2"/><circle cx="221.6" cy="299.0"/><circle cx="222.7" cy="292.8"/><circle cx="223.4" cy="279.2"/><circle cx="225.4" cy="290.8"/><circle cx="231.0" cy="286.2"/><circle cx="223.5" cy="278.0"/><circle cx="230.9" cy="304.8"/><circle cx="230.7" cy="288.5"/><circle cx="223.6" cy="298.7"/><circle cx="226.7" cy="260.9"/><circle cx="229.5" cy="264.4"/><circle cx="231.9" cy="291.7"/><circle cx="223.9" cy="302.5"/><circle cx="230.3" cy="259.7"/><circle cx="228.6" cy="275.7"/><circle cx="226.6" cy="298.8"/><circle cx="227.2" cy="302.1"/><circle cx="232.3" cy="287.8"/><circle cx="232.6" cy="275.7"/><circle cx="225.1" cy="302.9"/><circle cx="229.3" cy="294.8"/><circle cx="230.4" cy="282.4"/><circle cx="231.8" cy="282.9"/><circle cx="229.7" cy="254.6"/><circle cx="224.5" cy="282.3"/><circle cx="226.5" cy="303.2"/><circle cx="231.1" cy="270.7"/><circle cx="230.4" cy="290.5"/><circle cx="225.1" cy="302.1"/><circle cx="231.3" cy="269.0"/><circle cx="229.7" cy="285.5"/><circle cx="222.1" cy="298.4"/><circle cx="222.8" cy="302.5"/><circle cx="233.1" cy="269.2"/><circle cx="223.6" cy="299.8"/><circle cx="228.8" cy="303.0"/><circle cx="230.0" cy="292.8"/><circle cx="224.4" cy="305.0"/><circle cx="228.5" cy="274.4"/><circle cx="230.6" cy="282.8"/><circle cx="231.2" cy="301.6"/><circle cx="233.6" cy="278.8"/><circle cx="229.2" cy="288.0"/><circle cx="233.8" cy="291.6"/><circle cx="232.4" cy="291.0"/><circle cx="231.5" cy="285.9"/><circle cx="224.9" cy="275.7"/><circle cx="220.6" cy="303.4"/><circle cx="229.7" cy="293.6"/><circle cx="229.6" cy="263.5"/><circle cx="233.8" cy="285.4"/><circle cx="223.5" cy="282.1"/><circle cx="222.2" cy="289.8"/><circle cx="229.9" cy="260.5"/><circle cx="221.8" cy="302.6"/><circle cx="228.7" cy="292.3"/><circle cx="223.2" cy="283.3"/><circle cx="228.6" cy="266.1"/><circle cx="233.4" cy="296.1"/><circle cx="224.1" cy="298.3"/><circle cx="223.2" cy="285.1"/><circle cx="222.4" cy="288.3"/><circle cx="230.1" cy="283.1"/><circle cx="227.4" cy="269.1"/><circle cx="234.2" cy="293.5"/><circle cx="223.2" cy="295.6"/><circle cx="233.8" cy="299.5"/><circle cx="231.4" cy="258.4"/><circle cx="230.5" cy="282.1"/><circle cx="229.7" cy="302.2"/><circle cx="229.3" cy="294.6"/><circle cx="232.1" cy="284.2"/><circle cx="230.7" cy="265.9"/><circle cx="233.5" cy="282.8"/><circle cx="229.7" cy="301.9"/><circle cx="231.8" cy="283.8"/><circle cx="233.4" cy="295.7"/><circle cx="232.6" cy="255.5"/><circle cx="228.8" cy="284.5"/><circle cx="222.7" cy="301.2"/><circle cx="231.2" cy="254.9"/><circle cx="233.1" cy="272.6"/><circle cx="229.2" cy="280.2"/><circle cx="222.9" cy="295.3"/><circle cx="230.3" cy="298.2"/><circle cx="230.3" cy="283.7"/><circle cx="227.3" cy="287.8"/><circle cx="229.8" cy="274.9"/><circle cx="233.5" cy="296.1"/><circle cx="234.2" cy="296.4"/><circle cx="222.8" cy="286.2"/><circle cx="222.3" cy="302.8"/><circle cx="228.5" cy="295.3"/><circle cx="222.2" cy="288.5"/><circle cx="229.5" cy="294.2"/><circle cx="229.2" cy="303.1"/><circle cx="233.2" cy="289.7"/><circle cx="231.4" cy="278.6"/><circle cx="230.3" cy="286.1"/><circle cx="225.4" cy="274.4"/><circle cx="228.5" cy="301.1"/><circle cx="225.8" cy="273.5"/><circle cx="230.7" cy="287.9"/><circle cx="233.2" cy="261.5"/><circle cx="226.1" cy="302.7"/><circle cx="221.4" cy="294.6"/><circle cx="228.0" cy="276.1"/><circle cx="231.9" cy="285.3"/><circle cx="232.2" cy="275.8"/><circle cx="228.2" cy="298.4"/><circle cx="230.5" cy="292.2"/><circle cx="224.4" cy="293.6"/><circle cx="227.9" cy="283.9"/><circle cx="226.3" cy="286.4"/><circle cx="229.7" cy="285.0"/><circle cx="223.4" cy="285.1"/><circle cx="227.2" cy="286.0"/><circle cx="227.9" cy="281.5"/><circle cx="230.6" cy="276.8"/><circle cx="230.4" cy="259.4"/><circle cx="228.8" cy="303.8"/><circle cx="225.6" cy="284.6"/><circle cx="226.9" cy="294.8"/><circle cx="233.7" cy="279.3"/><circle cx="228.8" cy="286.4"/><circle cx="227.0" cy="274.0"/><circle cx="230.7" cy="293.3"/><circle cx="233.1" cy="272.6"/><circle cx="227.5" cy="268.2"/><circle cx="228.6" cy="299.6"/><circle cx="227.7" cy="304.2"/><circle cx="232.4" cy="284.2"/><circle cx="228.9" cy="287.5"/><circle cx="232.0" cy="297.6"/><circle cx="227.0" cy="270.1"/><circle cx="232.9" cy="271.6"/><circle cx="228.3" cy="276.9"/><circle cx="224.5" cy="277.7"/><circle cx="232.5" cy="292.5"/><circle cx="223.3" cy="287.6"/><circle cx="222.9" cy="291.2"/><circle cx="232.9" cy="287.5"/><circle cx="231.1" cy="254.0"/><circle cx="229.9" cy="299.0"/><circle cx="226.3" cy="296.7"/><circle cx="229.8" cy="288.1"/><circle cx="231.1" cy="297.1"/><circle cx="227.5" cy="296.1"/><circle cx="231.0" cy="256.4"/><circle cx="233.4" cy="305.0"/><circle cx="231.7" cy="285.1"/><circle cx="233.2" cy="290.5"/><circle cx="226.1" cy="304.3"/><circle cx="230.9" cy="303.9"/><circle cx="223.0" cy="297.4"/><circle cx="232.9" cy="288.1"/><circle cx="231.8" cy="282.3"/><circle cx="230.1" cy="285.3"/><circle cx="226.8" cy="261.0"/><circle cx="233.9" cy="279.7"/><circle cx="224.3" cy="303.2"/><circle cx="228.0" cy="291.8"/><circle cx="229.2" cy="292.8"/><circle cx="228.7" cy="260.4"/><circle cx="227.6" cy="277.2"/><circle cx="225.9" cy="263.9"/><circle cx="232.8" cy="298.4"/><circle cx="232.6" cy="294.2"/><circle cx="231.6" cy="304.0"/><circle cx="229.5" cy="296.4"/><circle cx="222.0" cy="293.7"/><circle cx="222.4" cy="302.0"/><circle cx="229.0" cy="280.8"/><circle cx="228.5" cy="288.7"/><circle cx="233.1" cy="274.7"/><circle cx="232.4" cy="256.8"/><circle cx="222.6" cy="297.8"/><circle cx="229.3" cy="265.7"/><circle cx="228.4" cy="273.7"/><circle cx="232.9" cy="285.0"/><circle cx="226.9" cy="294.6"/><circle cx="232.3" cy="271.2"/><circle cx="222.9" cy="281.7"/><circle cx="233.0" cy="296.7"/><circle cx="225.5" cy="301.7"/><circle cx="230.1" cy="263.7"/><circle cx="227.5" cy="271.7"/><circle cx="228.4" cy="281.1"/><circle cx="229.1" cy="301.0"/><circle cx="227.4" cy="301.6"/><circle cx="231.8" cy="282.8"/><circle cx="227.4" cy="258.9"/><circle cx="228.3" cy="296.5"/><circle cx="229.1" cy="265.6"/><circle cx="227.8" cy="277.6"/><circle cx="232.2" cy="263.6"/><circle cx="220.9" cy="300.9"/><circle cx="222.4" cy="288.2"/><circle cx="227.8" cy="291.8"/><circle cx="223.0" cy="304.6"/><circle cx="225.5" cy="303.7"/><circle cx="233.8" cy="283.7"/><circle cx="230.2" cy="294.0"/><circle cx="225.4" cy="290.6"/><circle cx="222.3" cy="289.9"/><circle cx="232.5" cy="304.4"/><circle cx="233.0" cy="269.4"/><circle cx="227.2" cy="264.9"/><circle cx="221.0" cy="302.9"/><circle cx="225.1" cy="300.2"/><circle cx="229.9" cy="290.4"/><circle cx="234.4" cy="297.4"/><circle cx="227.6" cy="303.9"/><circle cx="226.3" cy="278.8"/><circle cx="229.7" cy="284.4"/><circle cx="229.1" cy="293.3"/><circle cx="226.2" cy="304.6"/><circle cx="230.0" cy="271.8"/><circle cx="226.8" cy="269.1"/><circle cx="228.9" cy="285.3"/><circle cx="232.8" cy="299.5"/><circle cx="234.3" cy="299.4"/><circle cx="227.0" cy="280.5"/><circle cx="233.0" cy="301.8"/><circle cx="230.7" cy="263.7"/><circle cx="226.7" cy="294.8"/><circle cx="231.8" cy="302.7"/><circle cx="228.2" cy="298.2"/><circle cx="228.4" cy="302.9"/><circle cx="229.2" cy="256.5"/><circle cx="224.2" cy="293.0"/><circle cx="229.4" cy="269.2"/><circle cx="225.3" cy="291.9"/><circle cx="230.9" cy="259.1"/><circle cx="230.1" cy="259.2"/><circle cx="223.1" cy="303.8"/><circle cx="229.8" cy="291.0"/><circle cx="224.4" cy="284.9"/><circle cx="233.5" cy="289.3"/><circle cx="230.3" cy="270.0"/><circle cx="228.7" cy="271.8"/><circle cx="226.6" cy="294.3"/><circle cx="224.8" cy="280.8"/><circle cx="228.4" cy="272.5"/><circle cx="231.7" cy="266.7"/><circle cx="230.1" cy="268.1"/><circle cx="231.0" cy="276.6"/><circle cx="232.8" cy="295.1"/><circle cx="230.8" cy="302.1"/><circle cx="231.9" cy="278.2"/><circle cx="225.9" cy="263.7"/><circle cx="226.6" cy="260.4"/><circle cx="229.2" cy="270.1"/><circle cx="223.4" cy="289.3"/><circle cx="224.8" cy="283.5"/><circle cx="225.9" cy="263.7"/><circle cx="221.2" cy="298.5"/><circle cx="234.0" cy="293.9"/><circle cx="230.8" cy="290.5"/><circle cx="227.9" cy="298.8"/><circle cx="232.5" cy="279.1"/><circle cx="226.0" cy="303.3"/><circle cx="231.5" cy="286.3"/><circle cx="228.9" cy="281.2"/><circle cx="230.3" cy="266.9"/><circle cx="232.9" cy="264.8"/><circle cx="221.9" cy="296.8"/><circle cx="225.0" cy="289.6"/><circle cx="232.1" cy="282.9"/><circle cx="225.3" cy="275.7"/><circle cx="232.0" cy="301.5"/><circle cx="231.4" cy="278.0"/><circle cx="228.9" cy="294.9"/><circle cx="231.7" cy="289.4"/><circle cx="227.4" cy="284.9"/><circle cx="230.6" cy="296.7"/><circle cx="222.6" cy="305.4"/><circle cx="228.4" cy="257.6"/><circle cx="229.4" cy="273.2"/><circle cx="221.8" cy="293.4"/><circle cx="225.3" cy="305.2"/><circle cx="232.3" cy="257.7"/><circle cx="223.5" cy="287.6"/><circle cx="232.7" cy="287.4"/><circle cx="223.6" cy="299.6"/><circle cx="228.2" cy="270.8"/><circle cx="229.5" cy="290.4"/><circle cx="223.0" cy="301.6"/><circle cx="229.7" cy="298.0"/><circle cx="233.5" cy="297.2"/><circle cx="231.4" cy="276.6"/><circle cx="223.4" cy="289.8"/><circle cx="229.2" cy="281.3"/><circle cx="232.1" cy="258.7"/><circle cx="223.5" cy="302.5"/><circle cx="231.8" cy="255.5"/><circle cx="228.9" cy="268.9"/><circle cx="227.5" cy="285.8"/><circle cx="231.0" cy="290.2"/><circle cx="223.7" cy="291.7"/><circle cx="229.4" cy="303.7"/><circle cx="231.9" cy="304.9"/><circle cx="227.8" cy="282.5"/><circle cx="231.9" cy="281.5"/><circle cx="232.6" cy="292.8"/><circle cx="227.8" cy="281.2"/><circle cx="230.3" cy="273.4"/><circle cx="225.5" cy="298.7"/><circle cx="223.1" cy="297.3"/><circle cx="224.0" cy="278.2"/><circle cx="230.0" cy="260.0"/><circle cx="230.7" cy="261.2"/><circle cx="231.3" cy="287.7"/><circle cx="229.0" cy="292.4"/><circle cx="226.1" cy="286.0"/><circle cx="223.7" cy="288.3"/><circle cx="230.7" cy="284.6"/><circle cx="228.2" cy="287.9"/><circle cx="230.4" cy="260.9"/><circle cx="231.6" cy="260.2"/><circle cx="231.8" cy="275.2"/><circle cx="232.6" cy="264.7"/><circle cx="224.6" cy="281.6"/><circle cx="226.6" cy="266.6"/><circle cx="221.4" cy="294.5"/><circle cx="234.2" cy="286.9"/><circle cx="223.1" cy="287.1"/><circle cx="225.0" cy="276.8"/><circle cx="231.2" cy="296.5"/><circle cx="228.8" cy="279.1"/><circle cx="228.0" cy="258.3"/><circle cx="232.8" cy="270.6"/><circle cx="231.6" cy="262.6"/><circle cx="231.4" cy="283.5"/><circle cx="225.3" cy="298.2"/><circle cx="229.5" cy="262.5"/><circle cx="230.1" cy="280.7"/><circle cx="228.8" cy="298.0"/><circle cx="230.4" cy="276.6"/><circle cx="225.1" cy="277.2"/><circle cx="227.8" cy="294.7"/><circle cx="224.2" cy="280.8"/><circle cx="223.7" cy="294.9"/><circle cx="228.5" cy="274.3"/><circle cx="232.6" cy="278.5"/><circle cx="232.8" cy="303.1"/><circle cx="228.1" cy="295.7"/><circle cx="224.1" cy="273.3"/><circle cx="232.2" cy="272.8"/><circle cx="228.6" cy="294.5"/><circle cx="225.3" cy="270.4"/><circle cx="231.2" cy="258.2"/><circle cx="228.2" cy="264.0"/><circle cx="231.3" cy="279.1"/><circle cx="226.6" cy="265.0"/><circle cx="223.4" cy="295.1"/><circle cx="233.6" cy="273.4"/><circle cx="234.0" cy="286.0"/><circle cx="233.5" cy="271.1"/><circle cx="227.0" cy="293.1"/><circle cx="233.9" cy="278.0"/><circle cx="232.1" cy="275.5"/><circle cx="231.9" cy="266.2"/><circle cx="229.8" cy="269.4"/><circle cx="230.2" cy="259.9"/><circle cx="232.4" cy="254.9"/><circle cx="223.1" cy="298.6"/><circle cx="229.7" cy="298.0"/><circle cx="224.5" cy="280.0"/><circle cx="232.0" cy="267.0"/><circle cx="228.3" cy="271.9"/><circle cx="229.4" cy="292.6"/><circle cx="230.4" cy="254.4"/><circle cx="231.6" cy="272.1"/><circle cx="224.7" cy="305.4"/><circle cx="224.9" cy="288.4"/><circle cx="230.7" cy="281.1"/><circle cx="231.8" cy="283.6"/><circle cx="233.3" cy="255.1"/><circle cx="233.0" cy="290.3"/><circle cx="223.6" cy="290.5"/><circle cx="223.1" cy="305.3"/><circle cx="227.9" cy="268.3"/><circle cx="223.5" cy="283.3"/><circle cx="227.0" cy="302.2"/><circle cx="226.0" cy="273.2"/><circle cx="222.1" cy="294.7"/><circle cx="228.0" cy="296.4"/><circle cx="227.0" cy="263.5"/><circle cx="220.3" cy="304.9"/><circle cx="227.5" cy="293.7"/><circle cx="228.1" cy="280.6"/><circle cx="230.5" cy="302.7"/><circle cx="228.2" cy="263.2"/><circle cx="231.3" cy="278.5"/><circle cx="231.3" cy="262.7"/><circle cx="225.1" cy="272.9"/><circle cx="229.1" cy="292.2"/><circle cx="233.3" cy="280.0"/><circle cx="224.9" cy="296.5"/><circle cx="225.7" cy="273.2"/><circle cx="233.5" cy="288.2"/><circle cx="225.9" cy="273.3"/><circle cx="222.8" cy="304.1"/><circle cx="223.9" cy="291.4"/><circle cx="223.1" cy="290.2"/><circle cx="228.4" cy="300.8"/><circle cx="230.1" cy="264.5"/><circle cx="230.1" cy="294.4"/><circle cx="228.0" cy="267.1"/><circle cx="226.1" cy="272.0"/><circle cx="223.8" cy="282.7"/><circle cx="229.8" cy="267.5"/><circle cx="228.1" cy="299.2"/><circle cx="223.9" cy="279.9"/><circle cx="226.3" cy="275.0"/><circle cx="227.8" cy="301.9"/><circle cx="232.8" cy="263.8"/><circle cx="224.3" cy="274.5"/><circle cx="223.6" cy="291.9"/><circle cx="228.7" cy="267.2"/><circle cx="228.7" cy="266.1"/><circle cx="226.4" cy="281.4"/><circle cx="232.4" cy="262.7"/><circle cx="228.0" cy="286.3"/><circle cx="229.6" cy="289.2"/><circle cx="231.2" cy="296.1"/><circle cx="227.6" cy="291.7"/><circle cx="229.8" cy="291.3"/><circle cx="226.1" cy="286.6"/><circle cx="228.4" cy="290.4"/><circle cx="222.6" cy="297.6"/><circle cx="226.8" cy="274.6"/><circle cx="222.0" cy="288.8"/><circle cx="227.3" cy="269.0"/><circle cx="229.6" cy="290.8"/><circle cx="226.4" cy="281.5"/><circle cx="222.4" cy="299.7"/><circle cx="226.8" cy="302.1"/><circle cx="229.6" cy="263.4"/><circle cx="226.5" cy="300.4"/><circle cx="225.2" cy="304.0"/><circle cx="228.2" cy="284.2"/><circle cx="232.8" cy="270.5"/><circle cx="233.4" cy="284.0"/><circle cx="233.7" cy="277.6"/><circle cx="228.5" cy="304.9"/><circle cx="229.2" cy="293.1"/><circle cx="228.7" cy="259.5"/><circle cx="230.0" cy="295.1"/><circle cx="225.7" cy="294.5"/><circle cx="227.1" cy="287.4"/><circle cx="233.9" cy="285.7"/><circle cx="223.2" cy="282.9"/><circle cx="229.6" cy="281.0"/><circle cx="226.8" cy="273.5"/><circle cx="225.3" cy="290.2"/><circle cx="230.1" cy="276.5"/><circle cx="227.9" cy="266.7"/><circle cx="230.3" cy="300.4"/><circle cx="226.0" cy="290.0"/><circle cx="225.5" cy="266.7"/><circle cx="228.9" cy="300.5"/><circle cx="222.2" cy="297.1"/><circle cx="222.9" cy="301.5"/><circle cx="223.9" cy="292.4"/><circle cx="230.3" cy="269.8"/><circle cx="228.8" cy="292.7"/><circle cx="223.9" cy="295.0"/><circle cx="230.4" cy="255.3"/><circle cx="224.8" cy="294.4"/><circle cx="229.0" cy="305.4"/><circle cx="227.9" cy="257.6"/><circle cx="227.6" cy="271.1"/><circle cx="229.1" cy="297.9"/><circle cx="221.8" cy="296.0"/><circle cx="222.6" cy="290.8"/><circle cx="234.1" cy="295.6"/><circle cx="232.6" cy="283.4"/><circle cx="231.6" cy="293.0"/><circle cx="231.8" cy="290.5"/><circle cx="230.6" cy="257.9"/><circle cx="229.0" cy="270.8"/><circle cx="226.0" cy="266.2"/><circle cx="232.9" cy="291.9"/><circle cx="224.9" cy="293.7"/><circle cx="226.3" cy="264.4"/><circle cx="222.1" cy="300.7"/><circle cx="231.7" cy="292.0"/><circle cx="227.4" cy="288.8"/><circle cx="227.2" cy="269.3"/><circle cx="233.9" cy="294.0"/><circle cx="232.6" cy="280.6"/><circle cx="232.2" cy="279.5"/><circle cx="221.7" cy="304.2"/><circle cx="231.1" cy="279.4"/><circle cx="228.6" cy="285.3"/><circle cx="226.8" cy="301.1"/><circle cx="233.9" cy="284.7"/><circle cx="232.7" cy="268.2"/><circle cx="233.1" cy="255.7"/><circle cx="228.0" cy="258.0"/><circle cx="227.0" cy="259.7"/><circle cx="234.3" cy="302.0"/><circle cx="229.1" cy="292.9"/><circle cx="227.8" cy="262.0"/><circle cx="225.2" cy="266.9"/><circle cx="232.4" cy="280.3"/><circle cx="232.1" cy="283.5"/><circle cx="225.5" cy="274.4"/><circle cx="231.5" cy="271.9"/><circle cx="227.9" cy="280.7"/><circle cx="234.1" cy="295.9"/><circle cx="223.6" cy="293.1"/><circle cx="229.8" cy="272.9"/><circle cx="231.1" cy="273.2"/><circle cx="234.2" cy="293.8"/><circle cx="230.5" cy="288.5"/><circle cx="221.7" cy="301.1"/><circle cx="225.8" cy="304.1"/><circle cx="231.6" cy="279.8"/><circle cx="230.1" cy="282.4"/><circle cx="231.7" cy="272.5"/><circle cx="226.3" cy="283.8"/><circle cx="233.3" cy="254.7"/><circle cx="223.2" cy="281.8"/><circle cx="225.3" cy="304.1"/><circle cx="223.2" cy="290.5"/><circle cx="224.4" cy="291.7"/><circle cx="225.1" cy="300.0"/><circle cx="230.1" cy="302.3"/><circle cx="223.6" cy="302.6"/><circle cx="232.9" cy="301.2"/><circle cx="231.3" cy="301.6"/><circle cx="233.3" cy="272.0"/><circle cx="224.9" cy="281.7"/><circle cx="228.1" cy="284.6"/><circle cx="231.3" cy="265.5"/><circle cx="224.5" cy="280.8"/><circle cx="233.1" cy="283.5"/><circle cx="233.3" cy="292.6"/><circle cx="225.8" cy="304.4"/><circle cx="230.3" cy="272.5"/><circle cx="229.9" cy="303.2"/><circle cx="233.5" cy="293.5"/><circle cx="221.6" cy="293.0"/><circle cx="227.6" cy="274.8"/><circle cx="226.7" cy="274.0"/><circle cx="231.9" cy="304.4"/><circle cx="231.3" cy="284.4"/><circle cx="233.1" cy="266.4"/><circle cx="220.7" cy="302.5"/><circle cx="228.3" cy="298.9"/><circle cx="229.6" cy="266.5"/><circle cx="231.5" cy="271.7"/><circle cx="233.6" cy="263.6"/><circle cx="224.3" cy="278.1"/><circle cx="229.5" cy="291.7"/><circle cx="229.2" cy="299.7"/><circle cx="230.3" cy="268.5"/><circle cx="228.0" cy="284.0"/><circle cx="234.1" cy="283.8"/><circle cx="232.2" cy="273.5"/><circle cx="232.5" cy="268.5"/><circle cx="224.4" cy="285.9"/><circle cx="230.3" cy="259.1"/><circle cx="227.5" cy="257.4"/><circle cx="232.0" cy="278.7"/><circle cx="233.0" cy="277.6"/><circle cx="223.9" cy="290.0"/><circle cx="226.6" cy="281.2"/><circle cx="225.8" cy="279.7"/><circle cx="231.3" cy="286.9"/><circle cx="233.0" cy="266.7"/><circle cx="226.7" cy="269.1"/><circle cx="226.5" cy="301.6"/><circle cx="233.1" cy="288.3"/><circle cx="224.6" cy="275.0"/><circle cx="228.6" cy="301.1"/><circle cx="227.9" cy="269.2"/><circle cx="234.4" cy="293.8"/><circle cx="231.0" cy="297.5"/><circle cx="228.6" cy="297.1"/><circle cx="233.2" cy="260.5"/><circle cx="229.3" cy="259.8"/><circle cx="221.6" cy="299.8"/><circle cx="228.0" cy="261.3"/><circle cx="230.4" cy="304.4"/><circle cx="228.3" cy="273.3"/><circle cx="233.0" cy="274.6"/><circle cx="230.1" cy="282.0"/><circle cx="230.6" cy="295.7"/><circle cx="227.3" cy="260.5"/><circle cx="233.6" cy="288.0"/><circle cx="229.4" cy="262.6"/><circle cx="226.5" cy="284.5"/><circle cx="226.3" cy="294.0"/><circle cx="229.1" cy="286.9"/><circle cx="228.7" cy="277.4"/><circle cx="230.3" cy="300.2"/><circle cx="232.4" cy="256.0"/><circle cx="229.9" cy="286.0"/><circle cx="225.2" cy="294.1"/><circle cx="230.4" cy="273.8"/><circle cx="226.6" cy="297.6"/><circle cx="232.4" cy="286.3"/><circle cx="228.0" cy="284.5"/><circle cx="232.1" cy="261.7"/><circle cx="232.8" cy="292.2"/><circle cx="233.1" cy="287.2"/><circle cx="232.2" cy="295.4"/><circle cx="232.0" cy="279.8"/><circle cx="228.1" cy="286.8"/><circle cx="225.3" cy="296.4"/><circle cx="233.7" cy="298.3"/><circle cx="230.0" cy="269.1"/><circle cx="228.8" cy="297.7"/><circle cx="227.8" cy="296.8"/><circle cx="224.9" cy="269.0"/><circle cx="227.3" cy="266.5"/><circle cx="227.1" cy="302.6"/><circle cx="230.6" cy="299.9"/><circle cx="233.9" cy="291.8"/><circle cx="225.1" cy="287.6"/><circle cx="227.1" cy="279.3"/><circle cx="227.2" cy="296.9"/><circle cx="221.1" cy="297.3"/><circle cx="227.6" cy="291.1"/><circle cx="231.7" cy="275.4"/><circle cx="232.3" cy="282.4"/><circle cx="226.3" cy="296.6"/><circle cx="223.4" cy="299.6"/><circle cx="224.9" cy="282.6"/><circle cx="223.7" cy="283.1"/><circle cx="233.6" cy="303.7"/><circle cx="233.5" cy="286.9"/><circle cx="226.5" cy="304.2"/><circle cx="223.5" cy="302.4"/><circle cx="231.8" cy="267.3"/><circle cx="227.9" cy="295.4"/><circle cx="233.8" cy="282.2"/><circle cx="228.3" cy="292.9"/><circle cx="229.8" cy="289.8"/><circle cx="227.2" cy="294.9"/><circle cx="229.2" cy="304.7"/><circle cx="234.1" cy="285.8"/><circle cx="229.0" cy="260.3"/><circle cx="225.0" cy="270.2"/><circle cx="232.0" cy="259.9"/><circle cx="228.2" cy="289.0"/><circle cx="231.1" cy="304.8"/><circle cx="232.3" cy="294.7"/><circle cx="229.7" cy="290.6"/><circle cx="232.3" cy="259.4"/><circle cx="225.1" cy="292.9"/><circle cx="229.9" cy="292.5"/><circle cx="233.4" cy="283.2"/><circle cx="230.2" cy="291.9"/><circle cx="232.8" cy="262.8"/><circle cx="225.5" cy="269.3"/><circle cx="233.9" cy="283.9"/><circle cx="227.6" cy="284.5"/><circle cx="234.1" cy="293.3"/><circle cx="233.0" cy="269.9"/><circle cx="233.0" cy="282.6"/><circle cx="233.7" cy="272.8"/><circle cx="229.2" cy="303.3"/><circle cx="225.1" cy="276.9"/><circle cx="227.0" cy="304.7"/><circle cx="228.6" cy="278.3"/><circle cx="231.2" cy="261.2"/><circle cx="222.6" cy="301.4"/><circle cx="231.1" cy="289.8"/><circle cx="228.2" cy="288.5"/><circle cx="224.9" cy="300.9"/><circle cx="232.5" cy="263.3"/><circle cx="228.0" cy="273.9"/><circle cx="230.8" cy="300.4"/><circle cx="232.0" cy="293.5"/><circle cx="230.2" cy="286.2"/><circle cx="232.2" cy="253.9"/><circle cx="231.6" cy="279.8"/><circle cx="229.5" cy="263.5"/><circle cx="226.2" cy="295.8"/><circle cx="229.7" cy="285.2"/><circle cx="233.2" cy="267.3"/><circle cx="225.1" cy="291.9"/><circle cx="231.2" cy="302.0"/><circle cx="223.5" cy="285.4"/><circle cx="224.6" cy="278.5"/><circle cx="229.6" cy="258.6"/><circle cx="227.6" cy="272.3"/><circle cx="227.2" cy="271.4"/><circle cx="230.7" cy="261.3"/><circle cx="228.9" cy="274.6"/><circle cx="226.7" cy="273.5"/><circle cx="231.4" cy="275.6"/><circle cx="232.6" cy="304.5"/><circle cx="233.1" cy="273.1"/><circle cx="231.9" cy="300.0"/><circle cx="223.5" cy="297.7"/><circle cx="231.3" cy="268.0"/><circle cx="226.1" cy="287.4"/><circle cx="226.5" cy="267.0"/><circle cx="228.4" cy="267.9"/><circle cx="231.7" cy="276.7"/><circle cx="227.2" cy="301.0"/><circle cx="229.3" cy="262.5"/><circle cx="233.0" cy="269.0"/><circle cx="221.9" cy="293.5"/><circle cx="229.6" cy="261.6"/><circle cx="222.4" cy="285.2"/><circle cx="229.0" cy="267.3"/><circle cx="227.5" cy="291.6"/><circle cx="225.9" cy="294.7"/><circle cx="227.9" cy="291.2"/><circle cx="232.8" cy="305.3"/><circle cx="220.9" cy="301.8"/><circle cx="228.2" cy="258.8"/><circle cx="231.8" cy="261.5"/><circle cx="222.6" cy="288.8"/><circle cx="222.1" cy="293.5"/><circle cx="230.3" cy="284.3"/><circle cx="233.4" cy="270.5"/><circle cx="229.2" cy="281.5"/><circle cx="229.2" cy="260.6"/><circle cx="225.7" cy="284.8"/><circle cx="232.7" cy="284.8"/><circle cx="228.5" cy="258.5"/><circle cx="227.1" cy="279.6"/><circle cx="223.8" cy="276.8"/><circle cx="226.2" cy="294.3"/><circle cx="222.1" cy="300.5"/><circle cx="233.1" cy="274.4"/><circle cx="229.9" cy="257.3"/><circle cx="234.5" cy="303.6"/><circle cx="230.7" cy="292.6"/><circle cx="225.3" cy="292.9"/><circle cx="229.2" cy="257.6"/><circle cx="226.1" cy="280.1"/><circle cx="230.1" cy="278.1"/><circle cx="231.7" cy="294.5"/><circle cx="223.9" cy="302.2"/><circle cx="233.5" cy="272.5"/><circle cx="229.7" cy="256.7"/><circle cx="227.4" cy="284.4"/><circle cx="224.0" cy="305.2"/><circle cx="227.4" cy="287.2"/><circle cx="233.8" cy="282.7"/><circle cx="230.8" cy="286.9"/><circle cx="231.5" cy="276.4"/><circle cx="227.6" cy="284.2"/><circle cx="227.9" cy="292.5"/><circle cx="233.9" cy="295.3"/><circle cx="221.6" cy="296.3"/><circle cx="231.8" cy="296.9"/><circle cx="230.4" cy="296.5"/><circle cx="234.0" cy="286.0"/><circle cx="226.4" cy="304.1"/><circle cx="226.8" cy="273.9"/><circle cx="233.1" cy="280.1"/><circle cx="232.8" cy="273.6"/><circle cx="231.3" cy="268.4"/><circle cx="223.6" cy="296.4"/><circle cx="226.1" cy="267.9"/><circle cx="229.1" cy="263.4"/><circle cx="228.3" cy="268.8"/><circle cx="232.5" cy="293.5"/><circle cx="223.4" cy="280.8"/><circle cx="225.8" cy="287.9"/><circle cx="231.3" cy="284.9"/><circle cx="231.8" cy="292.0"/><circle cx="231.6" cy="281.1"/><circle cx="224.2" cy="300.9"/><circle cx="228.6" cy="297.2"/><circle cx="231.7" cy="294.0"/><circle cx="228.3" cy="292.2"/><circle cx="230.1" cy="259.5"/><circle cx="233.3" cy="276.8"/><circle cx="225.1" cy="267.1"/><circle cx="233.2" cy="292.2"/><circle cx="227.3" cy="300.6"/><circle cx="232.3" cy="288.0"/><circle cx="225.9" cy="289.7"/><circle cx="233.7" cy="289.0"/><circle cx="231.1" cy="272.7"/><circle cx="223.5" cy="295.6"/><circle cx="233.2" cy="286.1"/><circle cx="231.6" cy="276.1"/><circle cx="226.1" cy="276.6"/><circle cx="233.7" cy="269.4"/><circle cx="226.8" cy="280.3"/><circle cx="233.0" cy="303.1"/><circle cx="229.3" cy="284.7"/><circle cx="234.2" cy="294.8"/><circle cx="225.1" cy="287.2"/><circle cx="233.4" cy="290.0"/><circle cx="229.1" cy="269.1"/><circle cx="232.0" cy="273.9"/><circle cx="232.0" cy="282.9"/><circle cx="230.5" cy="296.4"/><circle cx="224.9" cy="294.0"/><circle cx="233.6" cy="277.4"/><circle cx="226.8" cy="292.7"/><circle cx="232.4" cy="282.7"/><circle cx="232.1" cy="257.3"/><circle cx="233.5" cy="300.1"/><circle cx="231.1" cy="255.4"/><circle cx="229.7" cy="263.1"/><circle cx="224.4" cy="299.9"/><circle cx="231.9" cy="259.2"/><circle cx="232.8" cy="274.5"/><circle cx="230.8" cy="295.8"/><circle cx="226.0" cy="266.7"/><circle cx="229.2" cy="301.9"/><circle cx="226.8" cy="260.8"/><circle cx="223.1" cy="303.2"/><circle cx="232.7" cy="280.2"/><circle cx="222.9" cy="301.1"/><circle cx="224.4" cy="284.8"/><circle cx="225.3" cy="288.6"/><circle cx="226.7" cy="269.4"/><circle cx="225.3" cy="268.8"/><circle cx="230.0" cy="286.5"/><circle cx="233.7" cy="268.5"/><circle cx="230.9" cy="305.1"/><circle cx="234.3" cy="293.5"/><circle cx="223.4" cy="299.9"/><circle cx="230.8" cy="297.3"/><circle cx="226.4" cy="296.3"/><circle cx="224.6" cy="278.7"/><circle cx="232.8" cy="263.4"/><circle cx="224.8" cy="298.2"/><circle cx="222.7" cy="301.3"/><circle cx="224.6" cy="271.3"/><circle cx="222.6" cy="283.7"/><circle cx="224.7" cy="295.6"/><circle cx="228.1" cy="301.2"/><circle cx="233.6" cy="289.7"/><circle cx="231.3" cy="282.3"/><circle cx="224.3" cy="304.4"/><circle cx="230.4" cy="284.5"/><circle cx="223.6" cy="297.4"/><circle cx="221.7" cy="294.6"/><circle cx="231.2" cy="264.9"/><circle cx="233.3" cy="266.1"/><circle cx="230.0" cy="298.4"/><circle cx="231.7" cy="292.6"/><circle cx="230.6" cy="299.0"/><circle cx="224.8" cy="290.6"/><circle cx="224.8" cy="271.6"/><circle cx="226.7" cy="301.5"/><circle cx="227.6" cy="266.5"/><circle cx="233.6" cy="298.9"/><circle cx="223.9" cy="291.8"/><circle cx="233.9" cy="282.2"/><circle cx="224.6" cy="303.1"/><circle cx="223.0" cy="287.8"/><circle cx="231.0" cy="256.2"/><circle cx="231.3" cy="263.6"/><circle cx="229.2" cy="290.1"/><circle cx="221.3" cy="305.6"/><circle cx="223.5" cy="283.9"/><circle cx="222.2" cy="293.3"/><circle cx="229.8" cy="253.8"/><circle cx="232.7" cy="301.5"/><circle cx="230.7" cy="275.2"/><circle cx="232.1" cy="284.8"/><circle cx="230.7" cy="255.5"/><circle cx="229.9" cy="274.4"/><circle cx="232.3" cy="287.6"/><circle cx="230.6" cy="274.4"/><circle cx="231.6" cy="294.2"/><circle cx="226.0" cy="292.9"/><circle cx="228.1" cy="266.4"/><circle cx="230.9" cy="269.0"/><circle cx="227.1" cy="272.3"/><circle cx="226.2" cy="298.6"/><circle cx="231.7" cy="259.6"/><circle cx="229.1" cy="299.0"/><circle cx="226.5" cy="282.5"/><circle cx="227.6" cy="258.0"/><circle cx="225.4" cy="270.5"/><circle cx="226.3" cy="297.6"/><circle cx="233.7" cy="300.0"/><circle cx="226.6" cy="264.4"/><circle cx="232.4" cy="297.2"/><circle cx="227.6" cy="291.3"/><circle cx="230.7" cy="260.4"/><circle cx="228.6" cy="278.0"/><circle cx="228.4" cy="265.1"/><circle cx="226.1" cy="265.5"/><circle cx="227.4" cy="283.6"/><circle cx="230.3" cy="267.1"/><circle cx="226.6" cy="286.0"/><circle cx="228.9" cy="270.5"/><circle cx="234.4" cy="300.8"/><circle cx="228.3" cy="266.9"/><circle cx="226.7" cy="265.8"/><circle cx="227.8" cy="279.4"/><circle cx="230.6" cy="263.1"/><circle cx="234.3" cy="294.1"/><circle cx="232.4" cy="304.6"/><circle cx="226.8" cy="298.9"/><circle cx="221.5" cy="293.7"/><circle cx="233.1" cy="291.1"/><circle cx="232.4" cy="304.4"/><circle cx="221.9" cy="293.4"/><circle cx="234.1" cy="284.6"/><circle cx="227.8" cy="296.8"/><circle cx="227.0" cy="302.7"/><circle cx="225.1" cy="290.5"/><circle cx="234.0" cy="294.5"/><circle cx="226.7" cy="277.7"/><circle cx="227.0" cy="301.4"/><circle cx="227.7" cy="297.0"/><circle cx="230.0" cy="266.3"/><circle cx="228.1" cy="285.6"/><circle cx="232.3" cy="286.3"/><circle cx="226.9" cy="297.1"/><circle cx="230.8" cy="278.8"/><circle cx="230.2" cy="280.3"/><circle cx="221.2" cy="301.5"/><circle cx="228.2" cy="256.4"/><circle cx="230.9" cy="259.3"/><circle cx="223.9" cy="300.0"/><circle cx="222.2" cy="288.1"/><circle cx="226.1" cy="292.0"/><circle cx="223.7" cy="278.1"/><circle cx="230.4" cy="264.5"/><circle cx="233.4" cy="255.5"/><circle cx="223.8" cy="290.5"/><circle cx="230.3" cy="282.7"/><circle cx="229.1" cy="281.5"/><circle cx="223.9" cy="302.1"/><circle cx="232.6" cy="276.6"/><circle cx="226.2" cy="286.9"/><circle cx="228.4" cy="279.1"/><circle cx="225.5" cy="296.6"/><circle cx="222.8" cy="283.2"/><circle cx="225.6" cy="293.2"/><circle cx="234.2" cy="303.3"/><circle cx="229.8" cy="275.4"/><circle cx="230.0" cy="284.3"/><circle cx="232.7" cy="269.5"/><circle cx="231.3" cy="302.1"/><circle cx="233.0" cy="300.2"/><circle cx="224.7" cy="281.8"/><circle cx="229.2" cy="283.6"/><circle cx="229.6" cy="278.2"/><circle cx="224.0" cy="274.7"/><circle cx="228.2" cy="290.2"/><circle cx="230.0" cy="284.7"/><circle cx="234.2" cy="293.5"/><circle cx="229.0" cy="276.1"/><circle cx="232.4" cy="257.7"/><circle cx="232.8" cy="266.3"/><circle cx="226.9" cy="274.8"/><circle cx="221.0" cy="304.9"/><circle cx="232.8" cy="265.5"/><circle cx="228.3" cy="265.4"/><circle cx="223.0" cy="274.6"/><circle cx="222.0" cy="288.4"/><circle cx="232.4" cy="250.2"/><circle cx="233.3" cy="245.8"/><circle cx="232.9" cy="252.6"/><circle cx="221.2" cy="278.6"/><circle cx="230.8" cy="249.7"/><circle cx="228.6" cy="240.1"/><circle cx="221.9" cy="288.5"/><circle cx="234.6" cy="299.1"/><circle cx="226.2" cy="241.0"/><circle cx="227.2" cy="252.9"/><circle cx="232.2" cy="238.6"/><circle cx="225.7" cy="258.1"/><circle cx="222.3" cy="285.6"/><circle cx="232.5" cy="253.0"/><circle cx="232.5" cy="240.0"/><circle cx="226.4" cy="250.3"/><circle cx="224.2" cy="264.5"/><circle cx="223.0" cy="278.2"/><circle cx="220.6" cy="293.7"/><circle cx="222.3" cy="284.2"/><circle cx="227.3" cy="225.5"/><circle cx="227.5" cy="253.3"/><circle cx="226.7" cy="255.8"/><circle cx="228.9" cy="235.4"/><circle cx="222.9" cy="280.4"/><circle cx="232.9" cy="249.7"/><circle cx="223.9" cy="264.3"/><circle cx="232.7" cy="252.6"/><circle cx="230.7" cy="243.7"/><circle cx="227.6" cy="251.3"/><circle cx="221.3" cy="289.6"/><circle cx="220.9" cy="283.9"/><circle cx="222.8" cy="280.5"/><circle cx="226.8" cy="246.8"/><circle cx="224.9" cy="267.1"/><circle cx="232.3" cy="234.2"/><circle cx="225.5" cy="264.3"/><circle cx="222.0" cy="279.5"/><circle cx="225.6" cy="261.6"/><circle cx="227.6" cy="257.1"/><circle cx="229.6" cy="246.6"/><circle cx="228.4" cy="250.6"/><circle cx="228.9" cy="247.2"/><circle cx="226.5" cy="247.9"/><circle cx="221.1" cy="291.3"/><circle cx="229.0" cy="248.8"/><circle cx="227.0" cy="253.1"/><circle cx="223.9" cy="267.0"/><circle cx="231.7" cy="247.8"/><circle cx="225.9" cy="255.8"/><circle cx="226.7" cy="257.6"/><circle cx="223.2" cy="277.8"/><circle cx="224.4" cy="262.8"/><circle cx="234.4" cy="286.1"/><circle cx="230.5" cy="250.0"/><circle cx="234.4" cy="294.4"/><circle cx="224.5" cy="269.2"/><circle cx="225.0" cy="266.7"/><circle cx="226.0" cy="252.2"/><circle cx="222.6" cy="266.1"/><circle cx="221.7" cy="290.4"/><circle cx="229.9" cy="239.8"/><circle cx="222.4" cy="282.1"/><circle cx="227.2" cy="247.6"/><circle cx="221.2" cy="289.8"/><circle cx="233.9" cy="264.5"/><circle cx="232.7" cy="247.4"/><circle cx="225.0" cy="261.7"/><circle cx="232.3" cy="251.6"/><circle cx="225.1" cy="252.5"/><circle cx="232.8" cy="253.3"/><circle cx="222.2" cy="283.1"/><circle cx="226.9" cy="247.0"/><circle cx="234.3" cy="284.8"/><circle cx="230.3" cy="241.5"/><circle cx="227.6" cy="249.6"/><circle cx="224.3" cy="261.0"/><circle cx="230.5" cy="203.2"/><circle cx="224.5" cy="259.5"/><circle cx="225.1" cy="253.3"/><circle cx="221.9" cy="284.2"/><circle cx="229.0" cy="249.4"/><circle cx="232.9" cy="243.7"/><circle cx="231.5" cy="217.5"/><circle cx="222.8" cy="272.3"/><circle cx="227.6" cy="255.0"/><circle cx="226.5" cy="253.0"/><circle cx="230.0" cy="243.1"/><circle cx="222.7" cy="282.2"/><circle cx="233.9" cy="271.1"/><circle cx="223.8" cy="268.4"/><circle cx="231.5" cy="245.4"/><circle cx="224.6" cy="269.8"/><circle cx="231.3" cy="233.9"/><circle cx="230.6" cy="247.2"/><circle cx="226.2" cy="254.6"/><circle cx="226.7" cy="254.9"/><circle cx="223.1" cy="272.8"/><circle cx="225.1" cy="261.7"/><circle cx="232.2" cy="252.6"/><circle cx="234.5" cy="290.7"/><circle cx="224.3" cy="265.9"/><circle cx="225.4" cy="263.1"/><circle cx="220.9" cy="297.8"/><circle cx="226.8" cy="253.9"/><circle cx="225.7" cy="246.2"/><circle cx="224.7" cy="243.4"/><circle cx="231.6" cy="249.6"/><circle cx="228.5" cy="231.7"/><circle cx="224.8" cy="265.9"/><circle cx="228.6" cy="243.9"/><circle cx="226.8" cy="258.3"/><circle cx="234.5" cy="295.8"/><circle cx="229.2" cy="246.3"/><circle cx="228.8" cy="254.4"/><circle cx="223.8" cy="270.5"/><circle cx="223.6" cy="234.1"/><circle cx="222.4" cy="268.8"/><circle cx="224.5" cy="254.9"/><circle cx="227.9" cy="254.6"/><circle cx="224.9" cy="262.5"/><circle cx="227.5" cy="224.3"/><circle cx="228.3" cy="255.2"/><circle cx="229.5" cy="252.3"/><circle cx="222.1" cy="286.9"/><circle cx="231.0" cy="245.3"/><circle cx="233.6" cy="227.8"/><circle cx="234.3" cy="288.8"/><circle cx="230.7" cy="242.2"/><circle cx="234.0" cy="271.8"/><circle cx="223.9" cy="272.7"/><circle cx="232.4" cy="250.6"/><circle cx="230.8" cy="249.2"/><circle cx="224.6" cy="262.8"/><circle cx="222.1" cy="284.3"/><circle cx="223.7" cy="275.3"/><circle cx="225.5" cy="233.0"/><circle cx="224.3" cy="252.0"/><circle cx="230.0" cy="242.9"/><circle cx="220.7" cy="297.2"/><circle cx="228.6" cy="252.8"/><circle cx="225.0" cy="250.9"/><circle cx="227.4" cy="244.8"/><circle cx="228.6" cy="248.6"/><circle cx="231.6" cy="245.2"/><circle cx="220.6" cy="295.8"/><circle cx="225.3" cy="264.3"/><circle cx="223.2" cy="269.9"/><circle cx="226.6" cy="253.1"/><circle cx="229.8" cy="250.6"/><circle cx="226.8" cy="250.6"/><circle cx="225.7" cy="245.0"/><circle cx="229.5" cy="250.1"/><circle cx="234.1" cy="267.2"/><circle cx="222.1" cy="286.3"/><circle cx="230.0" cy="237.0"/><circle cx="221.1" cy="295.5"/><circle cx="222.0" cy="277.0"/><circle cx="221.3" cy="290.9"/><circle cx="233.8" cy="270.0"/><circle cx="226.2" cy="248.0"/><circle cx="223.6" cy="274.7"/><circle cx="232.9" cy="250.6"/><circle cx="251.9" cy="292.5"/><circle cx="237.7" cy="290.5"/><circle cx="236.7" cy="284.4"/><circle cx="252.9" cy="284.7"/><circle cx="250.5" cy="296.1"/><circle cx="249.1" cy="299.2"/><circle cx="253.8" cy="297.4"/><circle cx="256.6" cy="294.4"/><circle cx="243.6" cy="270.9"/><circle cx="246.4" cy="280.2"/><circle cx="246.4" cy="272.9"/><circle cx="236.9" cy="282.4"/><circle cx="240.2" cy="282.5"/><circle cx="237.2" cy="294.0"/><circle cx="247.5" cy="300.8"/><circle cx="257.3" cy="299.5"/><circle cx="250.9" cy="271.2"/><circle cx="249.5" cy="267.8"/><circle cx="248.6" cy="294.9"/><circle cx="246.4" cy="258.5"/><circle cx="237.3" cy="305.1"/><circle cx="241.3" cy="251.3"/><circle cx="239.3" cy="249.9"/><circle cx="244.4" cy="290.5"/><circle cx="249.4" cy="279.2"/><circle cx="245.7" cy="275.3"/><circle cx="245.8" cy="264.1"/><circle cx="238.8" cy="256.4"/><circle cx="241.8" cy="289.1"/><circle cx="237.9" cy="278.7"/><circle cx="256.9" cy="303.9"/><circle cx="242.1" cy="304.6"/><circle cx="247.9" cy="292.8"/><circle cx="240.3" cy="293.2"/><circle cx="242.8" cy="282.4"/><circle cx="243.0" cy="305.3"/><circle cx="240.7" cy="260.5"/><circle cx="240.9" cy="292.8"/><circle cx="250.2" cy="287.9"/><circle cx="240.0" cy="302.4"/><circle cx="245.3" cy="282.9"/><circle cx="240.6" cy="255.4"/><circle cx="248.1" cy="281.3"/><circle cx="236.6" cy="286.9"/><circle cx="241.8" cy="304.4"/><circle cx="244.4" cy="302.1"/><circle cx="250.1" cy="289.2"/><circle cx="251.5" cy="282.3"/><circle cx="247.6" cy="283.0"/><circle cx="248.4" cy="274.2"/><circle cx="253.2" cy="283.4"/><circle cx="245.3" cy="289.9"/><circle cx="237.4" cy="277.1"/><circle cx="253.4" cy="282.5"/><circle cx="250.8" cy="280.5"/><circle cx="254.0" cy="286.6"/><circle cx="241.3" cy="265.0"/><circle cx="254.0" cy="290.4"/><circle cx="243.1" cy="274.6"/><circle cx="249.3" cy="292.0"/><circle cx="241.4" cy="270.8"/><circle cx="246.3" cy="264.6"/><circle cx="242.4" cy="268.3"/><circle cx="250.0" cy="285.3"/><circle cx="247.2" cy="299.4"/><circle cx="243.5" cy="255.8"/><circle cx="253.4" cy="290.2"/><circle cx="248.8" cy="296.9"/><circle cx="240.6" cy="263.5"/><circle cx="240.7" cy="261.4"/><circle cx="251.6" cy="298.8"/><circle cx="242.1" cy="282.9"/><circle cx="243.3" cy="263.3"/><circle cx="247.1" cy="299.6"/><circle cx="241.3" cy="305.1"/><circle cx="245.8" cy="304.9"/><circle cx="252.6" cy="300.1"/><circle cx="240.7" cy="266.0"/><circle cx="243.1" cy="281.9"/><circle cx="243.0" cy="265.3"/><circle cx="253.0" cy="283.5"/><circle cx="251.5" cy="292.3"/><circle cx="254.7" cy="298.5"/><circle cx="238.2" cy="253.5"/><circle cx="240.5" cy="252.0"/><circle cx="246.4" cy="258.2"/><circle cx="237.5" cy="260.3"/><circle cx="251.6" cy="292.1"/><circle cx="236.7" cy="282.5"/><circle cx="238.0" cy="260.9"/><circle cx="247.5" cy="264.7"/><circle cx="237.5" cy="301.6"/><circle cx="240.5" cy="285.3"/><circle cx="250.4" cy="288.3"/><circle cx="246.2" cy="283.9"/><circle cx="242.6" cy="271.5"/><circle cx="237.1" cy="271.3"/><circle cx="242.7" cy="248.4"/><circle cx="250.8" cy="285.1"/><circle cx="242.5" cy="300.0"/><circle cx="236.9" cy="267.0"/><circle cx="244.7" cy="252.7"/><circle cx="248.6" cy="280.2"/><circle cx="240.7" cy="257.7"/><circle cx="238.4" cy="280.4"/><circle cx="239.1" cy="276.2"/><circle cx="244.8" cy="264.4"/><circle cx="240.4" cy="279.7"/><circle cx="240.9" cy="248.4"/><circle cx="239.4" cy="275.2"/><circle cx="241.5" cy="258.2"/><circle cx="250.0" cy="303.4"/><circle cx="237.5" cy="290.4"/><circle cx="249.5" cy="282.1"/><circle cx="239.7" cy="301.7"/><circle cx="237.8" cy="274.0"/><circle cx="238.9" cy="275.0"/><circle cx="244.4" cy="297.8"/><circle cx="245.1" cy="264.8"/><circle cx="239.2" cy="284.8"/><circle cx="251.6" cy="285.1"/><circle cx="252.0" cy="296.1"/><circle cx="245.1" cy="264.3"/><circle cx="245.1" cy="258.3"/><circle cx="256.3" cy="305.3"/><circle cx="245.5" cy="257.8"/><circle cx="237.7" cy="276.4"/><circle cx="242.8" cy="268.6"/><circle cx="236.6" cy="288.3"/><circle cx="245.9" cy="259.3"/><circle cx="242.3" cy="271.3"/><circle cx="247.5" cy="295.2"/><circle cx="244.6" cy="293.9"/><circle cx="251.0" cy="305.3"/><circle cx="247.6" cy="284.5"/><circle cx="253.0" cy="304.6"/><circle cx="236.9" cy="295.0"/><circle cx="249.5" cy="273.8"/><circle cx="244.3" cy="277.0"/><circle cx="247.0" cy="273.2"/><circle cx="242.9" cy="279.7"/><circle cx="246.3" cy="303.0"/><circle cx="239.2" cy="274.9"/><circle cx="242.4" cy="287.4"/><circle cx="238.6" cy="248.1"/><circle cx="239.3" cy="303.3"/><circle cx="245.8" cy="280.2"/><circle cx="248.9" cy="269.3"/><circle cx="242.1" cy="263.3"/><circle cx="241.1" cy="297.0"/><circle cx="238.6" cy="300.6"/><circle cx="239.2" cy="301.0"/><circle cx="251.6" cy="275.9"/><circle cx="247.0" cy="262.5"/><circle cx="239.0" cy="283.9"/><circle cx="250.5" cy="300.2"/><circle cx="239.6" cy="303.3"/><circle cx="247.0" cy="301.9"/><circle cx="238.7" cy="256.2"/><circle cx="251.0" cy="288.3"/><circle cx="254.6" cy="298.0"/><circle cx="236.4" cy="303.1"/><circle cx="242.3" cy="305.2"/><circle cx="238.0" cy="247.2"/><circle cx="246.1" cy="283.5"/><circle cx="239.5" cy="286.3"/><circle cx="245.9" cy="263.4"/><circle cx="239.4" cy="279.8"/><circle cx="237.0" cy="262.6"/><circle cx="237.3" cy="286.8"/><circle cx="251.3" cy="276.7"/><circle cx="247.4" cy="294.7"/><circle cx="256.0" cy="292.4"/><circle cx="252.7" cy="299.1"/><circle cx="246.3" cy="265.4"/><circle cx="237.6" cy="302.2"/><circle cx="253.6" cy="294.1"/><circle cx="249.6" cy="278.1"/><circle cx="241.8" cy="254.0"/><circle cx="254.0" cy="303.7"/><circle cx="248.7" cy="295.2"/><circle cx="239.4" cy="277.4"/><circle cx="253.4" cy="296.6"/><circle cx="248.5" cy="295.2"/><circle cx="253.4" cy="285.2"/><circle cx="253.5" cy="298.4"/><circle cx="247.3" cy="296.8"/><circle cx="253.5" cy="304.4"/><circle cx="243.5" cy="300.9"/><circle cx="238.9" cy="290.4"/><circle cx="239.5" cy="260.2"/><circle cx="237.3" cy="262.7"/><circle cx="238.1" cy="291.9"/><circle cx="245.3" cy="275.3"/><circle cx="246.6" cy="296.6"/><circle cx="251.4" cy="305.0"/><circle cx="237.8" cy="292.7"/><circle cx="245.1" cy="263.4"/><circle cx="244.1" cy="261.9"/><circle cx="246.8" cy="298.4"/><circle cx="248.9" cy="271.6"/><circle cx="236.4" cy="302.6"/><circle cx="242.4" cy="250.5"/><circle cx="242.2" cy="263.8"/><circle cx="257.4" cy="299.3"/><circle cx="254.3" cy="283.7"/><circle cx="239.7" cy="282.8"/><circle cx="241.3" cy="302.7"/><circle cx="247.9" cy="283.7"/><circle cx="244.8" cy="260.9"/><circle cx="251.7" cy="277.6"/><circle cx="243.9" cy="264.6"/><circle cx="248.3" cy="292.9"/><circle cx="241.1" cy="260.5"/><circle cx="245.6" cy="272.3"/><circle cx="250.0" cy="271.5"/><circle cx="254.5" cy="297.6"/><circle cx="240.0" cy="287.2"/><circle cx="242.4" cy="266.1"/><circle cx="237.0" cy="262.1"/><circle cx="245.6" cy="263.7"/><circle cx="240.0" cy="303.7"/><circle cx="239.8" cy="279.1"/><circle cx="245.3" cy="293.6"/><circle cx="245.6" cy="265.7"/><circle cx="246.1" cy="302.1"/><circle cx="257.4" cy="299.4"/><circle cx="256.3" cy="301.0"/><circle cx="242.5" cy="274.4"/><circle cx="243.8" cy="292.9"/><circle cx="239.2" cy="294.9"/><circle cx="250.0" cy="278.3"/><circle cx="244.0" cy="282.7"/><circle cx="240.1" cy="269.9"/><circle cx="254.1" cy="301.1"/><circle cx="242.2" cy="258.5"/><circle cx="248.3" cy="300.4"/><circle cx="239.6" cy="266.3"/><circle cx="247.6" cy="274.0"/><circle cx="244.6" cy="257.9"/><circle cx="238.1" cy="256.6"/><circle cx="250.2" cy="275.8"/><circle cx="241.9" cy="286.8"/><circle cx="251.4" cy="283.4"/><circle cx="240.7" cy="274.4"/><circle cx="248.9" cy="262.7"/><circle cx="242.4" cy="246.5"/><circle cx="245.5" cy="303.8"/><circle cx="244.2" cy="304.0"/><circle cx="237.9" cy="265.4"/><circle cx="243.8" cy="255.1"/><circle cx="250.0" cy="284.3"/><circle cx="239.1" cy="301.2"/><circle cx="239.5" cy="281.4"/><circle cx="244.1" cy="302.9"/><circle cx="239.6" cy="277.0"/><circle cx="250.3" cy="273.5"/><circle cx="241.8" cy="248.2"/><circle cx="244.2" cy="271.9"/><circle cx="239.2" cy="302.2"/><circle cx="243.7" cy="291.6"/><circle cx="239.5" cy="285.3"/><circle cx="249.1" cy="283.0"/><circle cx="237.1" cy="266.6"/><circle cx="239.0" cy="282.6"/><circle cx="241.6" cy="295.2"/><circle cx="242.7" cy="297.2"/><circle cx="236.8" cy="286.1"/><circle cx="237.6" cy="248.3"/><circle cx="240.4" cy="293.9"/><circle cx="246.7" cy="256.6"/><circle cx="240.7" cy="246.3"/><circle cx="250.8" cy="272.6"/><circle cx="242.2" cy="248.3"/><circle cx="253.1" cy="282.2"/><circle cx="252.0" cy="299.9"/><circle cx="240.0" cy="295.0"/><circle cx="238.2" cy="284.4"/><circle cx="242.5" cy="258.4"/><circle cx="246.8" cy="276.2"/><circle cx="248.1" cy="282.2"/><circle cx="242.2" cy="285.3"/><circle cx="242.5" cy="260.5"/><circle cx="243.0" cy="295.3"/><circle cx="238.6" cy="259.9"/><circle cx="252.7" cy="304.3"/><circle cx="242.9" cy="282.6"/><circle cx="252.0" cy="304.2"/><circle cx="243.8" cy="257.4"/><circle cx="245.0" cy="284.9"/><circle cx="248.8" cy="298.1"/><circle cx="243.8" cy="289.9"/><circle cx="250.9" cy="295.7"/><circle cx="249.3" cy="281.4"/><circle cx="238.9" cy="271.4"/><circle cx="236.5" cy="295.1"/><circle cx="247.1" cy="275.2"/><circle cx="244.7" cy="266.3"/><circle cx="251.7" cy="291.6"/><circle cx="246.8" cy="279.2"/><circle cx="247.1" cy="278.2"/><circle cx="241.1" cy="298.3"/><circle cx="257.7" cy="301.1"/><circle cx="254.6" cy="286.0"/><circle cx="240.8" cy="302.4"/><circle cx="242.9" cy="299.4"/><circle cx="239.5" cy="274.1"/><circle cx="246.9" cy="261.3"/><circle cx="242.6" cy="262.9"/><circle cx="248.7" cy="284.6"/><circle cx="245.0" cy="274.4"/><circle cx="247.7" cy="263.5"/><circle cx="246.6" cy="284.8"/><circle cx="249.7" cy="268.1"/><circle cx="238.8" cy="264.1"/><circle cx="236.1" cy="295.4"/><circle cx="249.2" cy="282.6"/><circle cx="237.9" cy="290.9"/><circle cx="255.9" cy="292.7"/><circle cx="238.3" cy="253.8"/><circle cx="257.5" cy="303.5"/><circle cx="254.6" cy="301.8"/><circle cx="237.2" cy="295.0"/><circle cx="243.3" cy="298.8"/><circle cx="239.1" cy="299.5"/><circle cx="247.2" cy="304.7"/><circle cx="244.5" cy="287.9"/><circle cx="248.3" cy="277.9"/><circle cx="238.7" cy="284.2"/><circle cx="246.9" cy="294.4"/><circle cx="237.0" cy="272.1"/><circle cx="256.6" cy="298.8"/><circle cx="246.2" cy="277.3"/><circle cx="237.5" cy="245.4"/><circle cx="241.3" cy="299.1"/><circle cx="251.7" cy="305.4"/><circle cx="246.8" cy="303.2"/><circle cx="248.8" cy="298.5"/><circle cx="241.5" cy="270.4"/><circle cx="247.0" cy="261.5"/><circle cx="250.4" cy="275.3"/><circle cx="240.4" cy="292.7"/><circle cx="249.4" cy="294.3"/><circle cx="245.9" cy="281.9"/><circle cx="248.7" cy="265.9"/><circle cx="243.3" cy="298.4"/><circle cx="249.3" cy="278.4"/><circle cx="243.4" cy="287.9"/><circle cx="244.7" cy="255.3"/><circle cx="255.9" cy="293.8"/><circle cx="239.1" cy="276.4"/><circle cx="242.3" cy="268.2"/><circle cx="248.3" cy="291.2"/><circle cx="243.1" cy="268.5"/><circle cx="239.3" cy="298.7"/><circle cx="243.9" cy="278.3"/><circle cx="242.6" cy="253.5"/><circle cx="240.4" cy="288.1"/><circle cx="237.7" cy="278.0"/><circle cx="247.4" cy="299.8"/><circle cx="241.3" cy="284.1"/><circle cx="243.2" cy="260.0"/><circle cx="242.2" cy="283.8"/><circle cx="248.1" cy="286.7"/><circle cx="237.4" cy="287.6"/><circle cx="246.5" cy="292.3"/><circle cx="247.9" cy="292.5"/><circle cx="241.5" cy="304.8"/><circle cx="251.1" cy="283.1"/><circle cx="238.7" cy="270.0"/><circle cx="251.0" cy="273.0"/><circle cx="241.8" cy="251.4"/><circle cx="241.6" cy="304.4"/><circle cx="247.2" cy="272.2"/><circle cx="244.0" cy="263.8"/><circle cx="252.6" cy="280.5"/><circle cx="242.7" cy="268.6"/><circle cx="239.0" cy="270.7"/><circle cx="237.7" cy="260.0"/><circle cx="241.0" cy="266.7"/><circle cx="246.3" cy="293.1"/><circle cx="252.7" cy="292.2"/><circle cx="238.6" cy="263.9"/><circle cx="244.7" cy="296.2"/><circle cx="257.0" cy="300.2"/><circle cx="252.4" cy="293.0"/><circle cx="240.7" cy="295.7"/><circle cx="249.8" cy="302.9"/><circle cx="239.5" cy="288.9"/><circle cx="250.8" cy="283.4"/><circle cx="243.6" cy="275.9"/><circle cx="239.0" cy="285.9"/><circle cx="248.4" cy="266.5"/><circle cx="238.4" cy="277.4"/><circle cx="237.0" cy="292.4"/><circle cx="238.1" cy="293.9"/><circle cx="242.8" cy="283.1"/><circle cx="248.4" cy="278.0"/><circle cx="248.9" cy="303.1"/><circle cx="250.9" cy="273.0"/><circle cx="240.8" cy="257.2"/><circle cx="240.0" cy="280.2"/><circle cx="237.5" cy="277.4"/><circle cx="256.1" cy="301.9"/><circle cx="239.7" cy="290.1"/><circle cx="240.6" cy="294.8"/><circle cx="244.0" cy="290.9"/><circle cx="251.7" cy="279.8"/><circle cx="241.9" cy="296.1"/><circle cx="242.0" cy="250.5"/><circle cx="255.0" cy="295.4"/><circle cx="246.4" cy="264.4"/><circle cx="250.3" cy="295.3"/><circle cx="237.8" cy="302.6"/><circle cx="254.6" cy="292.0"/><circle cx="243.5" cy="295.2"/><circle cx="236.7" cy="301.0"/><circle cx="242.6" cy="304.6"/><circle cx="245.2" cy="282.9"/><circle cx="240.8" cy="255.7"/><circle cx="247.1" cy="266.3"/><circle cx="255.6" cy="300.2"/><circle cx="248.2" cy="292.4"/><circle cx="250.3" cy="272.6"/><circle cx="245.2" cy="278.6"/><circle cx="239.1" cy="273.8"/><circle cx="246.7" cy="285.7"/><circle cx="237.2" cy="262.4"/><circle cx="246.5" cy="300.1"/><circle cx="246.8" cy="258.5"/><circle cx="246.3" cy="260.6"/><circle cx="257.1" cy="304.4"/><circle cx="247.1" cy="268.3"/><circle cx="241.8" cy="260.9"/><circle cx="246.9" cy="258.6"/><circle cx="237.8" cy="292.1"/><circle cx="242.5" cy="305.0"/><circle cx="239.3" cy="292.6"/><circle cx="244.8" cy="303.1"/><circle cx="242.3" cy="281.4"/><circle cx="241.2" cy="281.0"/><circle cx="240.4" cy="279.5"/><circle cx="249.3" cy="286.3"/><circle cx="243.9" cy="266.7"/><circle cx="239.6" cy="298.5"/><circle cx="257.1" cy="301.1"/><circle cx="256.2" cy="292.2"/><circle cx="244.4" cy="269.8"/><circle cx="246.5" cy="259.1"/><circle cx="240.9" cy="274.8"/><circle cx="245.5" cy="295.5"/><circle cx="248.5" cy="280.8"/><circle cx="247.7" cy="304.8"/><circle cx="242.0" cy="262.8"/><circle cx="238.4" cy="286.9"/><circle cx="242.0" cy="298.5"/><circle cx="237.5" cy="283.9"/><circle cx="245.5" cy="305.0"/><circle cx="254.1" cy="289.9"/><circle cx="242.3" cy="303.8"/><circle cx="240.3" cy="266.9"/><circle cx="241.0" cy="261.9"/><circle cx="245.0" cy="258.3"/><circle cx="242.3" cy="245.1"/><circle cx="239.8" cy="277.2"/><circle cx="245.4" cy="287.0"/><circle cx="240.2" cy="273.5"/><circle cx="241.3" cy="274.8"/><circle cx="241.2" cy="244.9"/><circle cx="241.1" cy="287.0"/><circle cx="251.5" cy="274.3"/><circle cx="240.0" cy="301.1"/><circle cx="244.4" cy="259.1"/><circle cx="241.6" cy="280.2"/><circle cx="239.3" cy="282.7"/><circle cx="256.8" cy="304.8"/><circle cx="245.2" cy="262.6"/><circle cx="237.5" cy="271.0"/><circle cx="242.6" cy="291.1"/><circle cx="248.8" cy="291.8"/><circle cx="244.7" cy="284.0"/><circle cx="247.6" cy="286.1"/><circle cx="250.0" cy="302.1"/><circle cx="242.5" cy="254.2"/><circle cx="246.6" cy="304.2"/><circle cx="243.1" cy="258.8"/><circle cx="243.0" cy="294.9"/><circle cx="239.5" cy="272.5"/><circle cx="254.0" cy="296.9"/><circle cx="239.2" cy="286.4"/><circle cx="254.7" cy="289.1"/><circle cx="241.7" cy="276.2"/><circle cx="238.3" cy="297.4"/><circle cx="242.8" cy="274.4"/><circle cx="243.9" cy="298.3"/><circle cx="243.9" cy="301.2"/><circle cx="241.8" cy="262.1"/><circle cx="239.2" cy="263.2"/><circle cx="238.2" cy="281.5"/><circle cx="244.3" cy="274.6"/><circle cx="250.2" cy="286.4"/><circle cx="238.4" cy="269.3"/><circle cx="252.2" cy="287.2"/><circle cx="251.6" cy="299.2"/><circle cx="242.4" cy="271.4"/><circle cx="240.9" cy="268.2"/><circle cx="244.8" cy="269.3"/><circle cx="239.3" cy="294.9"/><circle cx="245.6" cy="270.2"/><circle cx="240.1" cy="246.1"/><circle cx="239.3" cy="245.1"/><circle cx="244.9" cy="279.7"/><circle cx="244.5" cy="251.7"/><circle cx="237.7" cy="258.6"/><circle cx="238.6" cy="280.5"/><circle cx="244.8" cy="293.5"/><circle cx="238.1" cy="248.3"/><circle cx="240.2" cy="265.3"/><circle cx="247.7" cy="259.6"/><circle cx="240.9" cy="290.0"/><circle cx="242.1" cy="256.7"/><circle cx="251.8" cy="289.4"/><circle cx="237.6" cy="265.6"/><circle cx="246.9" cy="262.7"/><circle cx="251.5" cy="291.7"/><circle cx="253.4" cy="297.0"/><circle cx="247.4" cy="282.0"/><circle cx="249.1" cy="282.7"/><circle cx="236.8" cy="296.3"/><circle cx="244.1" cy="254.3"/><circle cx="244.7" cy="296.9"/><circle cx="249.5" cy="288.0"/><circle cx="256.6" cy="296.9"/><circle cx="252.0" cy="300.8"/><circle cx="240.7" cy="277.0"/><circle cx="242.9" cy="292.6"/><circle cx="238.6" cy="295.0"/><circle cx="240.1" cy="277.7"/><circle cx="246.9" cy="257.2"/><circle cx="238.2" cy="270.8"/><circle cx="239.5" cy="250.5"/><circle cx="239.2" cy="256.5"/><circle cx="251.8" cy="286.9"/><circle cx="244.8" cy="271.8"/><circle cx="237.8" cy="274.8"/><circle cx="240.4" cy="257.6"/><circle cx="238.9" cy="284.6"/><circle cx="246.1" cy="255.9"/><circle cx="250.2" cy="284.1"/><circle cx="241.6" cy="283.8"/><circle cx="236.8" cy="291.4"/><circle cx="244.2" cy="297.4"/><circle cx="252.3" cy="283.5"/><circle cx="242.4" cy="262.6"/><circle cx="240.3" cy="272.2"/><circle cx="238.9" cy="271.3"/><circle cx="247.9" cy="278.3"/><circle cx="241.5" cy="267.4"/><circle cx="254.1" cy="290.4"/><circle cx="242.2" cy="298.6"/><circle cx="237.1" cy="263.1"/><circle cx="243.6" cy="277.0"/><circle cx="238.9" cy="247.6"/><circle cx="255.7" cy="301.4"/><circle cx="250.1" cy="299.5"/><circle cx="247.2" cy="281.5"/><circle cx="248.9" cy="304.3"/><circle cx="236.8" cy="297.1"/><circle cx="239.5" cy="278.7"/><circle cx="250.8" cy="288.2"/><circle cx="250.8" cy="302.5"/><circle cx="248.5" cy="282.6"/><circle cx="242.0" cy="261.9"/><circle cx="248.7" cy="276.1"/><circle cx="248.5" cy="289.2"/><circle cx="251.9" cy="279.0"/><circle cx="250.9" cy="297.2"/><circle cx="253.5" cy="284.9"/><circle cx="240.7" cy="278.0"/><circle cx="241.5" cy="278.8"/><circle cx="238.7" cy="244.2"/><circle cx="239.2" cy="274.5"/><circle cx="256.7" cy="299.6"/><circle cx="247.0" cy="300.0"/><circle cx="253.2" cy="298.2"/><circle cx="243.5" cy="286.5"/><circle cx="244.3" cy="305.2"/><circle cx="249.1" cy="282.3"/><circle cx="252.2" cy="303.4"/><circle cx="244.7" cy="252.4"/><circle cx="252.8" cy="287.4"/><circle cx="237.5" cy="259.5"/><circle cx="245.4" cy="290.6"/><circle cx="245.4" cy="263.2"/><circle cx="243.9" cy="301.9"/><circle cx="238.1" cy="272.0"/><circle cx="242.3" cy="258.7"/><circle cx="246.1" cy="288.0"/><circle cx="242.8" cy="298.1"/><circle cx="248.3" cy="265.8"/><circle cx="238.2" cy="263.6"/><circle cx="239.5" cy="280.5"/><circle cx="240.1" cy="305.5"/><circle cx="244.6" cy="304.5"/><circle cx="239.5" cy="286.2"/><circle cx="241.9" cy="294.6"/><circle cx="245.8" cy="283.0"/><circle cx="253.4" cy="282.5"/><circle cx="254.1" cy="299.4"/><circle cx="252.4" cy="276.5"/><circle cx="240.3" cy="279.1"/><circle cx="242.1" cy="277.1"/><circle cx="245.5" cy="287.9"/><circle cx="246.4" cy="275.2"/><circle cx="249.4" cy="296.1"/><circle cx="244.0" cy="251.7"/><circle cx="244.1" cy="264.4"/><circle cx="246.8" cy="294.2"/><circle cx="243.6" cy="304.4"/><circle cx="244.6" cy="290.1"/><circle cx="247.5" cy="288.9"/><circle cx="240.2" cy="288.6"/><circle cx="240.3" cy="263.5"/><circle cx="243.9" cy="253.6"/><circle cx="239.6" cy="285.9"/><circle cx="251.2" cy="303.9"/><circle cx="245.6" cy="277.8"/><circle cx="244.1" cy="301.2"/><circle cx="237.9" cy="246.4"/><circle cx="241.1" cy="297.0"/><circle cx="252.6" cy="276.6"/><circle cx="249.3" cy="292.2"/><circle cx="245.4" cy="285.3"/><circle cx="246.4" cy="273.8"/><circle cx="248.8" cy="287.8"/><circle cx="247.3" cy="293.6"/><circle cx="240.4" cy="284.1"/><circle cx="239.5" cy="243.7"/><circle cx="246.2" cy="258.7"/><circle cx="243.9" cy="249.9"/><circle cx="243.6" cy="302.3"/><circle cx="238.9" cy="269.6"/><circle cx="244.2" cy="269.9"/><circle cx="246.5" cy="296.5"/><circle cx="240.7" cy="263.4"/><circle cx="237.3" cy="305.2"/><circle cx="247.5" cy="263.9"/><circle cx="240.5" cy="301.4"/><circle cx="243.9" cy="285.4"/><circle cx="238.3" cy="286.5"/><circle cx="256.0" cy="305.4"/><circle cx="238.2" cy="296.2"/><circle cx="243.9" cy="282.0"/><circle cx="236.9" cy="280.2"/><circle cx="256.7" cy="295.4"/><circle cx="241.2" cy="282.3"/><circle cx="248.5" cy="290.2"/><circle cx="238.4" cy="278.7"/><circle cx="243.0" cy="274.3"/><circle cx="250.4" cy="271.4"/><circle cx="248.5" cy="287.3"/><circle cx="238.8" cy="274.5"/><circle cx="242.8" cy="293.3"/><circle cx="242.0" cy="245.3"/><circle cx="237.2" cy="255.3"/><circle cx="245.8" cy="300.5"/><circle cx="243.6" cy="275.7"/><circle cx="242.9" cy="251.2"/><circle cx="247.4" cy="263.1"/><circle cx="242.6" cy="265.7"/><circle cx="243.8" cy="269.8"/><circle cx="237.3" cy="272.4"/><circle cx="243.3" cy="282.8"/><circle cx="239.6" cy="279.8"/><circle cx="241.5" cy="302.5"/><circle cx="239.7" cy="261.6"/><circle cx="243.8" cy="280.1"/><circle cx="252.7" cy="286.4"/><circle cx="250.7" cy="295.0"/><circle cx="249.2" cy="302.8"/><circle cx="238.7" cy="250.0"/><circle cx="248.3" cy="294.8"/><circle cx="237.4" cy="255.5"/><circle cx="242.5" cy="290.1"/><circle cx="247.1" cy="284.8"/><circle cx="238.1" cy="299.8"/><circle cx="250.2" cy="302.0"/><circle cx="238.9" cy="249.9"/><circle cx="255.7" cy="299.4"/><circle cx="244.6" cy="279.6"/><circle cx="239.3" cy="291.8"/><circle cx="238.5" cy="297.2"/><circle cx="253.1" cy="280.9"/><circle cx="241.2" cy="276.1"/><circle cx="237.7" cy="261.6"/><circle cx="251.6" cy="290.0"/><circle cx="251.9" cy="294.4"/><circle cx="242.7" cy="304.0"/><circle cx="249.9" cy="283.7"/><circle cx="237.8" cy="304.1"/><circle cx="243.2" cy="258.1"/><circle cx="236.4" cy="284.4"/><circle cx="244.1" cy="284.8"/><circle cx="242.5" cy="295.1"/><circle cx="254.1" cy="296.3"/><circle cx="248.6" cy="265.6"/><circle cx="239.0" cy="295.2"/><circle cx="246.8" cy="264.0"/><circle cx="249.8" cy="292.4"/><circle cx="252.7" cy="301.6"/><circle cx="253.6" cy="283.7"/><circle cx="243.7" cy="277.3"/><circle cx="242.6" cy="294.9"/><circle cx="240.7" cy="269.3"/><circle cx="249.2" cy="269.8"/><circle cx="237.3" cy="257.6"/><circle cx="237.6" cy="279.3"/><circle cx="246.3" cy="267.2"/><circle cx="238.1" cy="283.8"/><circle cx="248.8" cy="275.8"/><circle cx="248.1" cy="298.1"/><circle cx="248.0" cy="266.6"/><circle cx="248.5" cy="278.2"/><circle cx="257.7" cy="298.8"/><circle cx="243.8" cy="302.8"/><circle cx="236.0" cy="302.4"/><circle cx="241.4" cy="273.1"/><circle cx="241.7" cy="260.4"/><circle cx="242.5" cy="265.0"/><circle cx="236.3" cy="296.7"/><circle cx="243.7" cy="304.4"/><circle cx="246.8" cy="259.8"/><circle cx="245.7" cy="277.5"/><circle cx="237.4" cy="291.8"/><circle cx="240.1" cy="289.1"/><circle cx="238.6" cy="269.5"/><circle cx="238.9" cy="295.2"/><circle cx="242.0" cy="251.2"/><circle cx="247.2" cy="285.9"/><circle cx="242.1" cy="278.6"/><circle cx="248.1" cy="291.2"/><circle cx="241.4" cy="252.5"/><circle cx="241.7" cy="244.1"/><circle cx="242.1" cy="282.9"/><circle cx="247.6" cy="293.1"/><circle cx="241.4" cy="247.8"/><circle cx="256.6" cy="305.0"/><circle cx="240.0" cy="252.7"/><circle cx="245.4" cy="254.0"/><circle cx="255.6" cy="293.4"/><circle cx="244.1" cy="260.7"/><circle cx="237.4" cy="294.3"/><circle cx="245.5" cy="267.3"/><circle cx="246.0" cy="294.6"/><circle cx="238.9" cy="280.9"/><circle cx="243.3" cy="250.6"/><circle cx="245.2" cy="271.2"/><circle cx="237.6" cy="243.7"/><circle cx="241.3" cy="304.2"/><circle cx="240.4" cy="276.2"/><circle cx="243.1" cy="254.9"/><circle cx="256.0" cy="302.6"/><circle cx="254.8" cy="302.8"/><circle cx="255.3" cy="298.7"/><circle cx="240.1" cy="275.5"/><circle cx="249.9" cy="284.2"/><circle cx="240.4" cy="293.4"/><circle cx="251.8" cy="290.6"/><circle cx="243.7" cy="284.3"/><circle cx="236.8" cy="296.5"/><circle cx="243.9" cy="296.2"/><circle cx="240.6" cy="268.5"/><circle cx="237.1" cy="260.1"/><circle cx="254.1" cy="302.5"/><circle cx="250.0" cy="293.5"/><circle cx="250.5" cy="294.0"/><circle cx="246.2" cy="292.0"/><circle cx="240.2" cy="266.4"/><circle cx="238.1" cy="282.9"/><circle cx="257.0" cy="303.5"/><circle cx="245.8" cy="303.6"/><circle cx="237.3" cy="270.4"/><circle cx="246.4" cy="254.5"/><circle cx="254.1" cy="297.4"/><circle cx="245.5" cy="278.0"/><circle cx="243.9" cy="289.4"/><circle cx="238.8" cy="279.4"/><circle cx="238.2" cy="300.2"/><circle cx="258.0" cy="301.3"/><circle cx="245.4" cy="270.3"/><circle cx="236.9" cy="274.4"/><circle cx="241.0" cy="273.8"/><circle cx="244.6" cy="283.2"/><circle cx="244.3" cy="289.0"/><circle cx="245.9" cy="260.4"/><circle cx="252.6" cy="283.6"/><circle cx="237.2" cy="276.8"/><circle cx="238.7" cy="300.2"/><circle cx="240.3" cy="251.6"/><circle cx="240.9" cy="300.3"/><circle cx="249.6" cy="288.9"/><circle cx="246.7" cy="289.4"/><circle cx="253.7" cy="283.5"/><circle cx="246.7" cy="278.5"/><circle cx="237.8" cy="246.4"/><circle cx="241.6" cy="300.3"/><circle cx="243.0" cy="297.6"/><circle cx="246.3" cy="304.2"/><circle cx="238.8" cy="291.5"/><circle cx="237.4" cy="286.9"/><circle cx="244.4" cy="296.5"/><circle cx="244.1" cy="269.8"/><circle cx="238.4" cy="274.6"/><circle cx="251.3" cy="276.7"/><circle cx="244.9" cy="262.6"/><circle cx="237.7" cy="296.1"/><circle cx="240.9" cy="276.4"/><circle cx="242.9" cy="249.4"/><circle cx="257.3" cy="304.3"/><circle cx="245.9" cy="254.9"/><circle cx="244.0" cy="254.2"/><circle cx="236.5" cy="293.3"/><circle cx="253.0" cy="297.9"/><circle cx="253.6" cy="289.1"/><circle cx="241.8" cy="282.9"/><circle cx="242.5" cy="253.6"/><circle cx="244.4" cy="304.6"/><circle cx="248.3" cy="288.5"/><circle cx="244.3" cy="290.0"/><circle cx="242.8" cy="289.7"/><circle cx="238.2" cy="268.4"/><circle cx="246.5" cy="266.4"/><circle cx="245.7" cy="262.9"/><circle cx="252.0" cy="298.3"/><circle cx="241.8" cy="260.5"/><circle cx="245.6" cy="293.5"/><circle cx="242.0" cy="283.8"/><circle cx="237.6" cy="245.3"/><circle cx="245.7" cy="298.3"/><circle cx="249.2" cy="273.9"/><circle cx="243.8" cy="288.1"/><circle cx="237.2" cy="294.1"/><circle cx="245.8" cy="275.8"/><circle cx="256.5" cy="294.3"/><circle cx="241.9" cy="265.5"/><circle cx="255.0" cy="297.3"/><circle cx="246.6" cy="279.1"/><circle cx="240.5" cy="272.7"/><circle cx="239.6" cy="286.0"/><circle cx="237.6" cy="294.5"/><circle cx="249.7" cy="286.7"/><circle cx="246.5" cy="284.0"/><circle cx="243.9" cy="300.7"/><circle cx="238.4" cy="260.8"/><circle cx="240.2" cy="277.4"/><circle cx="258.5" cy="303.3"/><circle cx="251.4" cy="301.2"/><circle cx="251.9" cy="276.0"/><circle cx="238.0" cy="291.2"/><circle cx="243.7" cy="258.8"/><circle cx="252.4" cy="283.1"/><circle cx="255.8" cy="291.2"/><circle cx="247.5" cy="284.4"/><circle cx="240.0" cy="245.7"/><circle cx="248.8" cy="291.3"/><circle cx="237.8" cy="296.1"/><circle cx="240.2" cy="284.8"/><circle cx="243.0" cy="280.5"/><circle cx="237.6" cy="273.8"/><circle cx="250.2" cy="302.9"/><circle cx="237.8" cy="292.5"/><circle cx="241.7" cy="249.6"/><circle cx="244.1" cy="301.7"/><circle cx="237.3" cy="289.4"/><circle cx="240.2" cy="244.8"/><circle cx="249.6" cy="274.4"/><circle cx="247.3" cy="260.4"/><circle cx="243.9" cy="253.8"/><circle cx="241.2" cy="252.1"/><circle cx="238.9" cy="266.4"/><circle cx="244.6" cy="255.2"/><circle cx="250.3" cy="284.1"/><circle cx="242.9" cy="285.6"/><circle cx="243.2" cy="299.0"/><circle cx="245.9" cy="305.1"/><circle cx="254.8" cy="287.3"/><circle cx="240.9" cy="299.1"/><circle cx="250.8" cy="305.4"/><circle cx="249.1" cy="282.0"/><circle cx="236.5" cy="285.5"/><circle cx="240.2" cy="298.8"/><circle cx="237.5" cy="279.3"/><circle cx="244.5" cy="293.9"/><circle cx="250.1" cy="304.0"/><circle cx="255.5" cy="303.1"/><circle cx="241.4" cy="293.3"/><circle cx="247.8" cy="279.6"/><circle cx="243.8" cy="279.2"/><circle cx="247.0" cy="267.2"/><circle cx="239.6" cy="276.4"/><circle cx="247.7" cy="268.7"/><circle cx="249.9" cy="276.9"/><circle cx="252.1" cy="294.5"/><circle cx="245.8" cy="280.3"/><circle cx="244.1" cy="291.1"/><circle cx="243.6" cy="290.7"/><circle cx="245.4" cy="288.5"/><circle cx="254.3" cy="297.1"/><circle cx="257.8" cy="301.6"/><circle cx="244.9" cy="305.2"/><circle cx="247.7" cy="262.2"/><circle cx="237.3" cy="301.9"/><circle cx="236.6" cy="286.3"/><circle cx="251.4" cy="275.2"/><circle cx="238.5" cy="264.7"/><circle cx="237.7" cy="302.0"/><circle cx="242.1" cy="250.3"/><circle cx="242.7" cy="246.2"/><circle cx="240.3" cy="274.0"/><circle cx="239.6" cy="258.5"/><circle cx="250.8" cy="299.7"/><circle cx="239.5" cy="269.5"/><circle cx="238.9" cy="279.7"/><circle cx="242.3" cy="284.6"/><circle cx="251.1" cy="291.7"/><circle cx="257.3" cy="303.1"/><circle cx="246.5" cy="285.7"/><circle cx="252.9" cy="284.4"/><circle cx="236.9" cy="265.3"/><circle cx="245.4" cy="286.2"/><circle cx="246.1" cy="278.1"/><circle cx="244.9" cy="281.0"/><circle cx="242.6" cy="263.3"/><circle cx="238.4" cy="258.1"/><circle cx="253.1" cy="282.6"/><circle cx="239.4" cy="259.7"/><circle cx="244.0" cy="304.4"/><circle cx="253.1" cy="292.2"/><circle cx="240.6" cy="276.4"/><circle cx="252.4" cy="282.5"/><circle cx="252.2" cy="302.7"/><circle cx="243.2" cy="270.1"/><circle cx="250.1" cy="302.3"/><circle cx="248.3" cy="287.0"/><circle cx="245.5" cy="288.1"/><circle cx="249.0" cy="288.4"/><circle cx="238.8" cy="270.2"/><circle cx="241.7" cy="299.8"/><circle cx="251.4" cy="303.2"/><circle cx="239.8" cy="291.2"/><circle cx="239.3" cy="305.0"/><circle cx="238.4" cy="292.5"/><circle cx="244.4" cy="301.6"/><circle cx="246.3" cy="287.6"/><circle cx="241.8" cy="268.7"/><circle cx="253.7" cy="293.7"/><circle cx="240.1" cy="244.8"/><circle cx="239.5" cy="261.9"/><circle cx="241.5" cy="245.5"/><circle cx="248.8" cy="262.8"/><circle cx="243.0" cy="281.4"/><circle cx="247.9" cy="275.7"/><circle cx="251.8" cy="300.9"/><circle cx="251.1" cy="293.7"/><circle cx="238.8" cy="298.9"/><circle cx="252.4" cy="282.5"/><circle cx="244.6" cy="270.2"/><circle cx="244.5" cy="261.9"/><circle cx="240.5" cy="259.7"/><circle cx="242.0" cy="290.3"/><circle cx="238.1" cy="271.9"/><circle cx="238.9" cy="270.0"/><circle cx="249.2" cy="301.8"/><circle cx="254.6" cy="301.6"/><circle cx="245.5" cy="274.4"/><circle cx="240.6" cy="287.5"/><circle cx="244.2" cy="262.4"/><circle cx="245.1" cy="251.7"/><circle cx="248.4" cy="276.3"/><circle cx="239.3" cy="268.6"/><circle cx="242.5" cy="285.1"/><circle cx="249.8" cy="267.8"/><circle cx="249.1" cy="280.4"/><circle cx="246.8" cy="285.0"/><circle cx="241.4" cy="259.9"/><circle cx="238.5" cy="294.5"/><circle cx="239.5" cy="256.7"/><circle cx="244.9" cy="278.1"/><circle cx="254.6" cy="290.2"/><circle cx="241.5" cy="249.6"/><circle cx="239.3" cy="292.4"/><circle cx="238.2" cy="258.6"/><circle cx="249.5" cy="300.5"/><circle cx="246.6" cy="263.0"/><circle cx="238.5" cy="250.5"/><circle cx="239.3" cy="294.9"/><circle cx="243.8" cy="260.0"/><circle cx="242.6" cy="274.9"/><circle cx="250.4" cy="301.0"/><circle cx="240.6" cy="275.4"/><circle cx="253.4" cy="282.3"/><circle cx="240.8" cy="284.5"/><circle cx="244.5" cy="300.3"/><circle cx="250.7" cy="299.4"/><circle cx="242.3" cy="293.3"/><circle cx="246.7" cy="291.6"/><circle cx="243.6" cy="285.5"/><circle cx="246.6" cy="294.2"/><circle cx="237.0" cy="290.1"/><circle cx="245.0" cy="252.8"/><circle cx="241.4" cy="270.4"/><circle cx="239.3" cy="278.0"/><circle cx="243.2" cy="261.4"/><circle cx="241.0" cy="250.4"/><circle cx="254.4" cy="294.8"/><circle cx="243.1" cy="259.0"/><circle cx="248.8" cy="266.3"/><circle cx="250.2" cy="271.2"/><circle cx="241.2" cy="305.0"/><circle cx="237.7" cy="293.1"/><circle cx="248.8" cy="278.1"/><circle cx="237.9" cy="248.2"/><circle cx="239.8" cy="260.5"/><circle cx="245.8" cy="267.2"/><circle cx="241.6" cy="259.6"/><circle cx="250.2" cy="280.9"/><circle cx="240.6" cy="259.9"/><circle cx="237.8" cy="294.3"/><circle cx="238.3" cy="304.5"/><circle cx="243.3" cy="297.1"/><circle cx="246.8" cy="280.7"/><circle cx="243.7" cy="274.8"/><circle cx="249.1" cy="287.1"/><circle cx="244.4" cy="288.5"/><circle cx="239.3" cy="277.4"/><circle cx="244.0" cy="304.0"/><circle cx="248.0" cy="303.7"/><circle cx="248.6" cy="286.2"/><circle cx="250.8" cy="271.1"/><circle cx="240.5" cy="264.7"/><circle cx="241.1" cy="252.0"/><circle cx="248.8" cy="285.5"/><circle cx="239.0" cy="258.5"/><circle cx="239.4" cy="305.0"/><circle cx="250.0" cy="300.8"/><circle cx="237.7" cy="282.1"/><circle cx="242.5" cy="267.7"/><circle cx="239.9" cy="284.1"/><circle cx="254.9" cy="286.9"/><circle cx="244.8" cy="289.7"/><circle cx="242.6" cy="248.2"/><circle cx="243.2" cy="263.7"/><circle cx="237.5" cy="286.0"/><circle cx="237.1" cy="273.9"/><circle cx="241.9" cy="251.5"/><circle cx="240.5" cy="270.7"/><circle cx="253.6" cy="282.8"/><circle cx="247.7" cy="278.0"/><circle cx="247.8" cy="283.6"/><circle cx="248.5" cy="296.9"/><circle cx="247.6" cy="289.3"/><circle cx="255.3" cy="290.9"/><circle cx="250.2" cy="282.4"/><circle cx="244.6" cy="251.5"/><circle cx="242.7" cy="282.3"/><circle cx="241.9" cy="281.2"/><circle cx="236.6" cy="277.2"/><circle cx="242.1" cy="249.2"/><circle cx="240.6" cy="304.8"/><circle cx="243.3" cy="261.4"/><circle cx="250.3" cy="295.7"/><circle cx="240.2" cy="290.1"/><circle cx="248.2" cy="304.4"/><circle cx="245.0" cy="275.8"/><circle cx="246.0" cy="298.9"/><circle cx="236.9" cy="301.8"/><circle cx="242.3" cy="298.0"/><circle cx="250.4" cy="299.7"/><circle cx="242.5" cy="277.5"/><circle cx="255.7" cy="299.0"/><circle cx="241.1" cy="253.8"/><circle cx="245.1" cy="253.7"/><circle cx="241.7" cy="250.3"/><circle cx="248.6" cy="289.6"/><circle cx="246.5" cy="259.1"/><circle cx="257.1" cy="301.4"/><circle cx="243.9" cy="252.6"/><circle cx="243.3" cy="299.2"/><circle cx="246.2" cy="258.7"/><circle cx="249.4" cy="287.9"/><circle cx="238.0" cy="256.6"/><circle cx="238.9" cy="244.8"/><circle cx="248.0" cy="274.0"/><circle cx="237.0" cy="281.2"/><circle cx="244.3" cy="277.2"/><circle cx="244.9" cy="287.7"/><circle cx="239.6" cy="248.7"/><circle cx="238.1" cy="271.0"/><circle cx="253.3" cy="300.1"/><circle cx="247.0" cy="285.0"/><circle cx="250.3" cy="287.8"/><circle cx="238.8" cy="276.7"/><circle cx="244.3" cy="272.2"/><circle cx="240.8" cy="261.8"/><circle cx="249.1" cy="274.0"/><circle cx="240.5" cy="253.6"/><circle cx="252.3" cy="278.7"/><circle cx="256.9" cy="301.3"/><circle cx="255.2" cy="304.7"/><circle cx="237.5" cy="296.6"/><circle cx="242.4" cy="260.1"/><circle cx="245.4" cy="294.2"/><circle cx="236.2" cy="302.3"/><circle cx="246.0" cy="259.5"/><circle cx="256.8" cy="302.8"/><circle cx="243.0" cy="305.2"/><circle cx="237.8" cy="260.0"/><circle cx="255.7" cy="300.3"/><circle cx="242.6" cy="268.2"/><circle cx="251.1" cy="299.3"/><circle cx="248.4" cy="283.0"/><circle cx="245.6" cy="267.5"/><circle cx="241.8" cy="291.6"/><circle cx="245.3" cy="289.8"/><circle cx="248.0" cy="269.2"/><circle cx="248.3" cy="303.9"/><circle cx="249.9" cy="267.1"/><circle cx="243.0" cy="250.5"/><circle cx="245.5" cy="288.3"/><circle cx="257.3" cy="301.9"/><circle cx="240.9" cy="298.7"/><circle cx="250.6" cy="286.6"/><circle cx="246.1" cy="268.7"/><circle cx="252.0" cy="291.1"/><circle cx="247.9" cy="288.9"/><circle cx="240.8" cy="268.9"/><circle cx="243.2" cy="257.1"/><circle cx="238.2" cy="305.0"/><circle cx="250.0" cy="283.6"/><circle cx="238.8" cy="262.7"/><circle cx="253.5" cy="299.6"/><circle cx="240.1" cy="245.8"/><circle cx="237.1" cy="268.3"/><circle cx="251.9" cy="284.0"/><circle cx="242.7" cy="301.7"/><circle cx="251.2" cy="276.5"/><circle cx="250.5" cy="296.7"/><circle cx="242.9" cy="269.6"/><circle cx="245.8" cy="268.1"/><circle cx="241.7" cy="247.4"/><circle cx="247.7" cy="304.2"/><circle cx="245.0" cy="272.4"/><circle cx="243.9" cy="248.8"/><circle cx="257.2" cy="305.0"/><circle cx="251.5" cy="292.2"/><circle cx="243.9" cy="294.4"/><circle cx="238.5" cy="255.1"/><circle cx="242.5" cy="294.7"/><circle cx="249.6" cy="293.2"/><circle cx="240.4" cy="290.9"/><circle cx="238.5" cy="255.9"/><circle cx="239.3" cy="298.4"/><circle cx="245.8" cy="297.5"/><circle cx="253.1" cy="297.4"/><circle cx="240.8" cy="276.6"/><circle cx="252.8" cy="284.2"/><circle cx="245.9" cy="270.6"/><circle cx="241.6" cy="257.8"/><circle cx="236.3" cy="293.4"/><circle cx="242.2" cy="268.9"/><circle cx="250.8" cy="282.5"/><circle cx="243.6" cy="274.0"/><circle cx="242.5" cy="270.6"/><circle cx="256.4" cy="303.7"/><circle cx="251.6" cy="300.2"/><circle cx="242.2" cy="276.6"/><circle cx="249.8" cy="284.3"/><circle cx="244.9" cy="269.2"/><circle cx="240.8" cy="275.1"/><circle cx="253.5" cy="280.1"/><circle cx="243.4" cy="298.8"/><circle cx="239.4" cy="257.1"/><circle cx="245.8" cy="300.1"/><circle cx="239.0" cy="255.3"/><circle cx="245.4" cy="302.8"/><circle cx="236.2" cy="300.0"/><circle cx="242.5" cy="300.5"/><circle cx="240.1" cy="305.0"/><circle cx="245.7" cy="303.6"/><circle cx="244.5" cy="285.2"/><circle cx="241.3" cy="275.5"/><circle cx="236.2" cy="303.1"/><circle cx="243.0" cy="250.2"/><circle cx="249.0" cy="264.9"/><circle cx="242.0" cy="245.0"/><circle cx="246.3" cy="290.2"/><circle cx="240.1" cy="273.8"/><circle cx="240.6" cy="292.8"/><circle cx="247.4" cy="263.7"/><circle cx="242.8" cy="250.6"/><circle cx="251.1" cy="295.8"/><circle cx="243.7" cy="265.2"/><circle cx="247.2" cy="288.2"/><circle cx="238.0" cy="279.4"/><circle cx="244.3" cy="290.9"/><circle cx="252.2" cy="304.7"/><circle cx="247.1" cy="305.6"/><circle cx="240.3" cy="285.3"/><circle cx="240.2" cy="254.0"/><circle cx="242.4" cy="260.0"/><circle cx="241.7" cy="304.4"/><circle cx="241.5" cy="255.8"/><circle cx="237.0" cy="274.9"/><circle cx="246.2" cy="293.6"/><circle cx="243.0" cy="280.2"/><circle cx="242.8" cy="279.7"/><circle cx="253.7" cy="290.2"/><circle cx="246.8" cy="279.1"/><circle cx="239.1" cy="250.8"/><circle cx="248.5" cy="275.4"/><circle cx="241.3" cy="263.3"/><circle cx="236.3" cy="287.5"/><circle cx="240.2" cy="305.0"/><circle cx="239.7" cy="285.8"/><circle cx="247.7" cy="275.6"/><circle cx="242.7" cy="265.9"/><circle cx="247.3" cy="272.1"/><circle cx="242.5" cy="302.6"/><circle cx="255.1" cy="300.3"/><circle cx="238.0" cy="265.4"/><circle cx="237.1" cy="263.2"/><circle cx="239.9" cy="255.4"/><circle cx="242.8" cy="277.7"/><circle cx="257.3" cy="300.1"/><circle cx="242.2" cy="275.1"/><circle cx="253.1" cy="296.4"/><circle cx="239.7" cy="297.8"/><circle cx="238.8" cy="271.1"/><circle cx="238.5" cy="293.0"/><circle cx="240.5" cy="261.9"/><circle cx="246.0" cy="297.1"/><circle cx="250.5" cy="280.6"/><circle cx="252.9" cy="305.4"/><circle cx="245.5" cy="302.6"/><circle cx="241.0" cy="281.2"/><circle cx="242.8" cy="294.6"/><circle cx="253.4" cy="282.9"/><circle cx="247.3" cy="283.0"/><circle cx="243.4" cy="269.1"/><circle cx="244.8" cy="290.4"/><circle cx="258.4" cy="302.6"/><circle cx="238.1" cy="246.2"/><circle cx="244.3" cy="257.0"/><circle cx="246.4" cy="258.7"/><circle cx="240.5" cy="279.6"/><circle cx="245.8" cy="287.7"/><circle cx="243.1" cy="248.2"/><circle cx="249.0" cy="304.9"/><circle cx="241.5" cy="268.0"/><circle cx="241.1" cy="283.9"/><circle cx="237.6" cy="289.5"/><circle cx="242.4" cy="285.8"/><circle cx="237.8" cy="271.0"/><circle cx="251.7" cy="276.2"/><circle cx="249.7" cy="284.8"/><circle cx="250.1" cy="282.8"/><circle cx="239.5" cy="286.0"/><circle cx="249.8" cy="271.3"/><circle cx="253.9" cy="285.6"/><circle cx="252.5" cy="285.9"/><circle cx="248.4" cy="279.1"/><circle cx="242.6" cy="279.6"/><circle cx="237.2" cy="303.7"/><circle cx="250.4" cy="291.5"/><circle cx="237.8" cy="244.4"/><circle cx="254.3" cy="291.0"/><circle cx="252.2" cy="280.7"/><circle cx="245.3" cy="299.3"/><circle cx="242.9" cy="289.2"/><circle cx="244.9" cy="285.9"/><circle cx="237.5" cy="264.8"/><circle cx="246.6" cy="272.2"/><circle cx="238.7" cy="298.6"/><circle cx="247.5" cy="289.5"/><circle cx="244.3" cy="297.4"/><circle cx="241.7" cy="254.5"/><circle cx="241.9" cy="265.7"/><circle cx="239.1" cy="287.6"/><circle cx="242.0" cy="257.8"/><circle cx="250.8" cy="304.8"/><circle cx="244.4" cy="262.6"/><circle cx="254.4" cy="295.1"/><circle cx="238.1" cy="286.1"/><circle cx="248.6" cy="271.6"/><circle cx="236.2" cy="300.1"/><circle cx="256.4" cy="301.4"/><circle cx="244.6" cy="290.4"/><circle cx="237.4" cy="265.2"/><circle cx="241.2" cy="246.4"/><circle cx="249.1" cy="272.5"/><circle cx="250.1" cy="285.4"/><circle cx="251.7" cy="286.5"/><circle cx="243.0" cy="295.4"/><circle cx="240.2" cy="246.9"/><circle cx="244.5" cy="268.3"/><circle cx="242.3" cy="270.5"/><circle cx="238.3" cy="294.6"/><circle cx="257.0" cy="297.7"/><circle cx="239.2" cy="279.6"/><circle cx="243.6" cy="256.3"/><circle cx="240.2" cy="255.2"/><circle cx="243.0" cy="279.0"/><circle cx="247.5" cy="260.0"/><circle cx="238.6" cy="294.2"/><circle cx="255.8" cy="293.9"/><circle cx="256.8" cy="299.4"/><circle cx="242.5" cy="293.1"/><circle cx="243.1" cy="249.8"/><circle cx="238.2" cy="280.6"/><circle cx="238.7" cy="274.2"/><circle cx="244.0" cy="298.6"/><circle cx="249.6" cy="288.9"/><circle cx="237.0" cy="277.3"/><circle cx="254.4" cy="283.8"/><circle cx="243.1" cy="263.9"/><circle cx="239.1" cy="281.2"/><circle cx="246.2" cy="281.6"/><circle cx="250.9" cy="300.1"/><circle cx="246.9" cy="296.6"/><circle cx="246.8" cy="289.8"/><circle cx="245.6" cy="283.7"/><circle cx="242.8" cy="300.0"/><circle cx="239.5" cy="286.6"/><circle cx="242.0" cy="299.5"/><circle cx="237.4" cy="295.2"/><circle cx="247.6" cy="303.1"/><circle cx="251.5" cy="301.1"/><circle cx="247.2" cy="305.4"/><circle cx="248.1" cy="276.6"/><circle cx="237.1" cy="269.4"/><circle cx="247.0" cy="286.8"/><circle cx="239.6" cy="296.4"/><circle cx="238.2" cy="244.8"/><circle cx="250.0" cy="290.9"/><circle cx="238.5" cy="257.1"/><circle cx="239.7" cy="285.2"/><circle cx="254.2" cy="299.2"/><circle cx="243.6" cy="268.7"/><circle cx="240.7" cy="280.9"/><circle cx="246.2" cy="260.2"/><circle cx="245.0" cy="294.0"/><circle cx="245.0" cy="261.8"/><circle cx="243.9" cy="260.1"/><circle cx="256.0" cy="303.6"/><circle cx="245.0" cy="284.4"/><circle cx="241.6" cy="260.1"/><circle cx="252.6" cy="286.2"/><circle cx="247.4" cy="259.6"/><circle cx="249.4" cy="279.4"/><circle cx="246.2" cy="261.5"/><circle cx="254.5" cy="299.1"/><circle cx="238.1" cy="281.4"/><circle cx="246.2" cy="271.3"/><circle cx="250.8" cy="296.5"/><circle cx="243.3" cy="281.0"/><circle cx="243.9" cy="269.0"/><circle cx="246.9" cy="285.8"/><circle cx="257.3" cy="302.7"/><circle cx="248.0" cy="274.0"/><circle cx="243.5" cy="304.4"/><circle cx="245.6" cy="261.3"/><circle cx="246.4" cy="261.0"/><circle cx="249.3" cy="285.8"/><circle cx="238.7" cy="258.6"/><circle cx="249.2" cy="286.5"/><circle cx="253.4" cy="286.9"/><circle cx="236.5" cy="282.6"/><circle cx="238.3" cy="284.2"/><circle cx="246.1" cy="303.4"/><circle cx="245.5" cy="291.7"/><circle cx="243.9" cy="266.7"/><circle cx="242.7" cy="271.4"/><circle cx="238.3" cy="300.4"/><circle cx="250.5" cy="283.9"/><circle cx="247.6" cy="265.3"/><circle cx="249.9" cy="291.5"/><circle cx="240.5" cy="246.7"/><circle cx="236.9" cy="270.5"/><circle cx="246.7" cy="289.5"/><circle cx="239.1" cy="249.7"/><circle cx="249.5" cy="286.1"/><circle cx="254.3" cy="286.6"/><circle cx="239.3" cy="295.7"/><circle cx="240.9" cy="283.9"/><circle cx="241.8" cy="246.0"/><circle cx="256.2" cy="299.1"/><circle cx="251.8" cy="282.0"/><circle cx="239.0" cy="282.8"/><circle cx="237.4" cy="261.1"/><circle cx="249.1" cy="286.9"/><circle cx="239.2" cy="276.7"/><circle cx="245.9" cy="293.4"/><circle cx="239.6" cy="286.3"/><circle cx="252.9" cy="284.3"/><circle cx="250.4" cy="279.2"/><circle cx="243.7" cy="262.5"/><circle cx="248.4" cy="274.9"/><circle cx="253.8" cy="292.4"/><circle cx="249.8" cy="300.8"/><circle cx="243.0" cy="265.8"/><circle cx="252.4" cy="290.2"/><circle cx="243.8" cy="305.5"/><circle cx="249.8" cy="280.4"/><circle cx="245.9" cy="284.7"/><circle cx="239.7" cy="288.0"/><circle cx="241.1" cy="266.5"/><circle cx="249.7" cy="272.8"/><circle cx="239.0" cy="284.9"/><circle cx="245.3" cy="296.2"/><circle cx="256.5" cy="298.6"/><circle cx="246.8" cy="260.3"/><circle cx="243.4" cy="256.5"/><circle cx="247.9" cy="303.5"/><circle cx="246.0" cy="253.9"/><circle cx="245.6" cy="257.9"/><circle cx="237.0" cy="283.2"/><circle cx="239.6" cy="297.6"/><circle cx="244.6" cy="305.5"/><circle cx="241.3" cy="289.0"/><circle cx="241.0" cy="245.7"/><circle cx="242.7" cy="268.3"/><circle cx="237.8" cy="281.7"/><circle cx="244.7" cy="292.8"/><circle cx="254.5" cy="294.9"/><circle cx="242.6" cy="304.2"/><circle cx="244.0" cy="276.0"/><circle cx="245.1" cy="301.1"/><circle cx="254.0" cy="304.4"/><circle cx="241.1" cy="289.5"/><circle cx="245.3" cy="304.0"/><circle cx="240.1" cy="263.8"/><circle cx="236.8" cy="288.1"/><circle cx="243.1" cy="267.4"/><circle cx="236.9" cy="269.5"/><circle cx="252.5" cy="291.2"/><circle cx="241.4" cy="296.5"/><circle cx="253.9" cy="296.6"/><circle cx="243.1" cy="292.3"/><circle cx="241.0" cy="285.4"/><circle cx="252.2" cy="298.7"/><circle cx="236.7" cy="294.6"/><circle cx="241.6" cy="271.7"/><circle cx="240.9" cy="268.2"/><circle cx="251.0" cy="301.0"/><circle cx="249.8" cy="267.1"/><circle cx="250.4" cy="297.9"/><circle cx="245.1" cy="281.2"/><circle cx="242.6" cy="284.5"/><circle cx="247.9" cy="273.1"/><circle cx="239.6" cy="262.8"/><circle cx="253.9" cy="303.2"/><circle cx="241.5" cy="261.8"/><circle cx="249.9" cy="271.3"/><circle cx="256.7" cy="295.8"/><circle cx="250.7" cy="289.1"/><circle cx="241.1" cy="284.0"/><circle cx="245.7" cy="267.7"/><circle cx="238.3" cy="269.0"/><circle cx="237.1" cy="265.9"/><circle cx="240.1" cy="264.6"/><circle cx="240.5" cy="283.9"/><circle cx="237.9" cy="254.2"/><circle cx="238.1" cy="279.6"/><circle cx="239.4" cy="289.6"/><circle cx="241.1" cy="288.8"/><circle cx="239.9" cy="301.4"/><circle cx="249.4" cy="291.2"/><circle cx="254.0" cy="295.1"/><circle cx="244.9" cy="264.3"/><circle cx="244.2" cy="262.6"/><circle cx="253.4" cy="291.6"/><circle cx="238.5" cy="297.3"/><circle cx="257.0" cy="303.6"/><circle cx="243.8" cy="265.2"/><circle cx="247.9" cy="275.9"/><circle cx="246.4" cy="276.0"/><circle cx="249.5" cy="275.1"/><circle cx="245.4" cy="282.6"/><circle cx="245.8" cy="295.9"/><circle cx="246.6" cy="261.6"/><circle cx="245.4" cy="277.3"/><circle cx="244.1" cy="285.9"/><circle cx="241.4" cy="248.5"/><circle cx="243.3" cy="256.0"/><circle cx="243.8" cy="258.3"/><circle cx="250.2" cy="298.9"/><circle cx="253.7" cy="291.3"/><circle cx="254.7" cy="286.7"/><circle cx="249.3" cy="298.4"/><circle cx="249.2" cy="294.4"/><circle cx="253.1" cy="282.1"/><circle cx="241.8" cy="247.8"/><circle cx="252.6" cy="287.1"/><circle cx="252.3" cy="283.5"/><circle cx="257.9" cy="305.0"/><circle cx="247.6" cy="285.0"/><circle cx="242.5" cy="297.2"/><circle cx="238.3" cy="266.5"/><circle cx="243.8" cy="293.5"/><circle cx="241.9" cy="279.0"/><circle cx="238.3" cy="267.8"/><circle cx="247.2" cy="262.2"/><circle cx="244.0" cy="275.9"/><circle cx="243.1" cy="257.1"/><circle cx="241.5" cy="277.4"/><circle cx="249.3" cy="289.8"/><circle cx="239.6" cy="300.5"/><circle cx="243.3" cy="294.4"/><circle cx="249.9" cy="277.8"/><circle cx="246.2" cy="278.2"/><circle cx="241.2" cy="264.1"/><circle cx="242.6" cy="273.0"/><circle cx="256.8" cy="301.1"/><circle cx="240.8" cy="266.0"/><circle cx="238.7" cy="283.6"/><circle cx="240.1" cy="286.3"/><circle cx="242.1" cy="304.7"/><circle cx="237.6" cy="257.1"/><circle cx="250.2" cy="267.6"/><circle cx="238.4" cy="260.0"/><circle cx="248.5" cy="302.7"/><circle cx="243.5" cy="269.0"/><circle cx="237.7" cy="288.9"/><circle cx="245.6" cy="289.2"/><circle cx="246.9" cy="274.7"/><circle cx="244.9" cy="281.5"/><circle cx="245.8" cy="290.9"/><circle cx="253.5" cy="298.9"/><circle cx="239.4" cy="260.4"/><circle cx="242.0" cy="300.0"/><circle cx="252.1" cy="286.8"/><circle cx="244.8" cy="263.1"/><circle cx="248.7" cy="279.0"/><circle cx="242.8" cy="285.7"/><circle cx="239.3" cy="250.4"/><circle cx="238.9" cy="286.9"/><circle cx="245.5" cy="254.0"/><circle cx="252.3" cy="303.2"/><circle cx="247.6" cy="269.0"/><circle cx="239.0" cy="276.2"/><circle cx="250.3" cy="288.8"/><circle cx="257.5" cy="301.0"/><circle cx="238.9" cy="272.3"/><circle cx="243.3" cy="264.1"/><circle cx="244.8" cy="266.5"/><circle cx="252.2" cy="301.6"/><circle cx="239.4" cy="249.8"/><circle cx="248.5" cy="302.6"/><circle cx="240.0" cy="281.7"/><circle cx="255.2" cy="292.0"/><circle cx="239.8" cy="256.2"/><circle cx="242.2" cy="253.7"/><circle cx="250.3" cy="304.7"/><circle cx="237.9" cy="287.1"/><circle cx="240.2" cy="260.2"/><circle cx="245.8" cy="277.0"/><circle cx="244.6" cy="305.5"/><circle cx="255.2" cy="299.5"/><circle cx="250.2" cy="293.9"/><circle cx="247.8" cy="275.0"/><circle cx="241.7" cy="246.5"/><circle cx="249.2" cy="281.0"/><circle cx="249.6" cy="271.6"/><circle cx="243.6" cy="302.2"/><circle cx="239.2" cy="270.1"/><circle cx="244.2" cy="258.8"/><circle cx="236.6" cy="288.3"/><circle cx="244.3" cy="297.3"/><circle cx="248.4" cy="294.2"/><circle cx="245.3" cy="260.1"/><circle cx="245.3" cy="254.8"/><circle cx="247.9" cy="267.3"/><circle cx="236.2" cy="291.6"/><circle cx="245.4" cy="260.1"/><circle cx="241.5" cy="246.2"/><circle cx="243.3" cy="251.8"/><circle cx="249.3" cy="267.2"/><circle cx="251.5" cy="275.1"/><circle cx="242.0" cy="285.6"/><circle cx="249.3" cy="303.5"/><circle cx="244.4" cy="300.8"/><circle cx="246.7" cy="304.4"/><circle cx="236.7" cy="280.1"/><circle cx="250.8" cy="275.9"/><circle cx="237.2" cy="288.9"/><circle cx="242.2" cy="289.7"/><circle cx="248.7" cy="297.1"/><circle cx="245.1" cy="285.0"/><circle cx="246.0" cy="278.0"/><circle cx="254.2" cy="301.2"/><circle cx="240.0" cy="219.7"/><circle cx="249.0" cy="246.1"/><circle cx="256.7" cy="260.4"/><circle cx="248.6" cy="258.7"/><circle cx="255.8" cy="284.3"/><circle cx="253.5" cy="243.1"/><circle cx="244.0" cy="240.7"/><circle cx="243.4" cy="246.0"/><circle cx="257.9" cy="296.7"/><circle cx="246.5" cy="252.4"/><circle cx="257.8" cy="297.5"/><circle cx="239.5" cy="241.3"/><circle cx="241.6" cy="240.6"/><circle cx="240.6" cy="241.9"/><circle cx="253.6" cy="275.5"/><circle cx="243.9" cy="226.6"/><circle cx="238.5" cy="239.3"/><circle cx="258.0" cy="290.2"/><circle cx="253.7" cy="264.0"/><circle cx="248.3" cy="244.6"/><circle cx="237.3" cy="246.4"/><circle cx="242.9" cy="219.1"/><circle cx="246.8" cy="239.9"/><circle cx="248.3" cy="248.0"/><circle cx="245.2" cy="247.9"/><circle cx="254.9" cy="251.9"/><circle cx="237.7" cy="237.7"/><circle cx="245.0" cy="243.3"/><circle cx="251.6" cy="255.5"/><circle cx="242.6" cy="235.2"/><circle cx="237.7" cy="224.9"/><circle cx="247.9" cy="237.8"/><circle cx="253.9" cy="256.5"/><circle cx="251.3" cy="263.0"/><circle cx="253.2" cy="276.4"/><circle cx="236.4" cy="272.1"/><circle cx="254.1" cy="276.4"/><circle cx="251.1" cy="261.4"/><circle cx="248.9" cy="254.2"/><circle cx="254.8" cy="274.8"/><circle cx="238.0" cy="235.0"/><circle cx="245.9" cy="251.7"/><circle cx="252.8" cy="264.9"/><circle cx="256.0" cy="289.6"/><circle cx="244.9" cy="245.9"/><circle cx="236.3" cy="284.9"/><circle cx="248.6" cy="252.8"/><circle cx="250.4" cy="266.7"/><circle cx="242.4" cy="240.5"/><circle cx="258.6" cy="290.6"/><circle cx="247.0" cy="239.5"/><circle cx="247.6" cy="247.3"/><circle cx="256.3" cy="275.4"/><circle cx="241.6" cy="195.8"/><circle cx="237.9" cy="231.4"/><circle cx="243.3" cy="234.0"/><circle cx="255.0" cy="273.7"/><circle cx="252.2" cy="272.9"/><circle cx="253.7" cy="259.7"/><circle cx="245.5" cy="251.5"/><circle cx="239.3" cy="233.2"/><circle cx="244.7" cy="245.4"/><circle cx="246.1" cy="238.7"/><circle cx="238.9" cy="223.5"/><circle cx="248.0" cy="251.8"/><circle cx="250.8" cy="266.7"/><circle cx="242.5" cy="240.8"/><circle cx="251.6" cy="244.8"/><circle cx="239.4" cy="223.3"/><circle cx="251.2" cy="253.1"/><circle cx="236.7" cy="259.8"/><circle cx="249.4" cy="234.5"/><circle cx="240.5" cy="241.9"/><circle cx="253.0" cy="277.5"/><circle cx="257.4" cy="286.8"/><circle cx="243.9" cy="237.5"/><circle cx="239.8" cy="242.7"/><circle cx="248.8" cy="246.8"/><circle cx="236.6" cy="269.4"/><circle cx="251.2" cy="265.3"/><circle cx="238.0" cy="235.2"/><circle cx="252.0" cy="271.7"/><circle cx="254.5" cy="275.0"/><circle cx="246.7" cy="250.7"/><circle cx="249.9" cy="254.2"/><circle cx="253.8" cy="265.8"/><circle cx="254.3" cy="281.5"/><circle cx="237.5" cy="234.5"/><circle cx="241.9" cy="229.2"/><circle cx="252.9" cy="259.4"/><circle cx="246.8" cy="255.2"/><circle cx="252.8" cy="276.3"/><circle cx="248.7" cy="259.5"/><circle cx="249.0" cy="257.6"/><circle cx="249.3" cy="250.6"/><circle cx="242.5" cy="240.9"/><circle cx="252.3" cy="254.4"/><circle cx="252.1" cy="268.6"/><circle cx="253.9" cy="278.5"/><circle cx="251.9" cy="272.6"/><circle cx="242.2" cy="236.1"/><circle cx="249.8" cy="257.4"/><circle cx="243.0" cy="245.6"/><circle cx="246.0" cy="251.3"/><circle cx="253.4" cy="278.6"/><circle cx="242.8" cy="243.8"/><circle cx="258.1" cy="296.4"/><circle cx="254.8" cy="284.1"/><circle cx="253.2" cy="276.8"/><circle cx="240.0" cy="223.0"/><circle cx="250.7" cy="266.6"/><circle cx="240.8" cy="227.8"/><circle cx="237.0" cy="249.3"/><circle cx="245.7" cy="237.8"/><circle cx="240.2" cy="238.8"/><circle cx="253.3" cy="277.1"/><circle cx="252.4" cy="273.9"/><circle cx="253.0" cy="273.4"/><circle cx="258.2" cy="295.4"/><circle cx="238.1" cy="242.8"/><circle cx="249.3" cy="251.3"/><circle cx="245.6" cy="242.8"/><circle cx="236.6" cy="275.5"/><circle cx="239.1" cy="226.6"/><circle cx="258.3" cy="281.6"/><circle cx="237.3" cy="245.9"/><circle cx="241.8" cy="241.8"/><circle cx="239.3" cy="236.1"/><circle cx="236.7" cy="270.3"/><circle cx="237.8" cy="242.4"/><circle cx="235.9" cy="301.5"/><circle cx="236.8" cy="250.0"/><circle cx="254.9" cy="270.2"/><circle cx="247.7" cy="220.2"/><circle cx="253.8" cy="278.6"/><circle cx="236.3" cy="272.8"/><circle cx="243.4" cy="230.7"/><circle cx="239.1" cy="238.7"/><circle cx="240.3" cy="222.6"/><circle cx="255.1" cy="276.5"/><circle cx="254.2" cy="276.0"/><circle cx="250.2" cy="260.2"/><circle cx="253.7" cy="278.3"/><circle cx="250.9" cy="266.5"/><circle cx="240.4" cy="238.3"/><circle cx="237.8" cy="228.9"/><circle cx="257.8" cy="295.3"/><circle cx="253.7" cy="277.1"/><circle cx="251.3" cy="271.2"/><circle cx="249.1" cy="258.1"/><circle cx="248.6" cy="256.8"/><circle cx="258.2" cy="297.0"/><circle cx="244.1" cy="246.6"/><circle cx="257.7" cy="293.5"/><circle cx="248.3" cy="256.7"/><circle cx="248.2" cy="238.6"/><circle cx="255.3" cy="264.8"/><circle cx="244.0" cy="243.0"/><circle cx="249.6" cy="256.0"/><circle cx="253.8" cy="276.3"/><circle cx="244.8" cy="227.1"/><circle cx="251.5" cy="260.1"/><circle cx="240.2" cy="219.5"/><circle cx="242.2" cy="243.4"/><circle cx="250.2" cy="265.7"/><circle cx="239.7" cy="210.9"/><circle cx="251.3" cy="262.1"/><circle cx="251.9" cy="268.8"/><circle cx="249.2" cy="251.1"/><circle cx="236.6" cy="265.8"/><circle cx="240.0" cy="241.3"/><circle cx="247.9" cy="232.9"/><circle cx="246.1" cy="215.3"/><circle cx="238.8" cy="214.2"/><circle cx="253.5" cy="260.0"/><circle cx="239.9" cy="224.3"/><circle cx="252.0" cy="270.9"/><circle cx="242.2" cy="241.5"/><circle cx="238.6" cy="177.4"/><circle cx="243.6" cy="239.4"/><circle cx="248.2" cy="247.3"/><circle cx="251.2" cy="265.1"/><circle cx="249.0" cy="242.2"/><circle cx="245.0" cy="229.8"/><circle cx="242.3" cy="234.3"/><circle cx="251.7" cy="262.5"/><circle cx="245.1" cy="247.7"/><circle cx="242.8" cy="234.5"/><circle cx="248.5" cy="257.2"/><circle cx="251.3" cy="237.8"/><circle cx="249.1" cy="251.3"/><circle cx="250.5" cy="265.4"/><circle cx="248.4" cy="257.8"/><circle cx="238.4" cy="239.1"/><circle cx="245.7" cy="231.3"/><circle cx="237.1" cy="249.1"/><circle cx="258.5" cy="294.9"/><circle cx="254.2" cy="282.3"/><circle cx="238.8" cy="220.9"/><circle cx="247.4" cy="247.4"/><circle cx="246.1" cy="249.0"/><circle cx="247.7" cy="250.6"/><circle cx="255.8" cy="281.2"/><circle cx="248.1" cy="253.3"/><circle cx="256.1" cy="287.0"/><circle cx="241.5" cy="218.8"/><circle cx="241.6" cy="225.2"/><circle cx="248.2" cy="248.5"/><circle cx="243.8" cy="236.8"/><circle cx="240.3" cy="233.0"/><circle cx="252.6" cy="232.2"/><circle cx="236.4" cy="280.2"/><circle cx="244.6" cy="237.8"/><circle cx="245.4" cy="250.7"/><circle cx="256.4" cy="291.4"/><circle cx="246.7" cy="254.2"/><circle cx="246.2" cy="250.0"/><circle cx="249.8" cy="264.4"/><circle cx="240.9" cy="239.3"/><circle cx="256.9" cy="265.4"/><circle cx="241.9" cy="220.6"/><circle cx="258.5" cy="302.0"/><circle cx="250.9" cy="269.2"/><circle cx="239.4" cy="241.7"/><circle cx="251.4" cy="250.6"/><circle cx="253.5" cy="278.4"/><circle cx="245.9" cy="252.9"/><circle cx="251.1" cy="265.3"/><circle cx="254.1" cy="278.2"/><circle cx="239.5" cy="242.9"/><circle cx="248.7" cy="235.4"/><circle cx="241.0" cy="237.6"/><circle cx="253.1" cy="266.6"/><circle cx="250.0" cy="258.7"/><circle cx="250.8" cy="259.0"/><circle cx="254.0" cy="275.9"/><circle cx="236.0" cy="295.3"/><circle cx="243.1" cy="241.6"/><circle cx="258.0" cy="266.2"/><circle cx="255.3" cy="251.5"/></g>
<g class="r60" fill="#8d93ad" fill-opacity="0.55"><circle cx="253.7" cy="287.9"/><circle cx="221.1" cy="297.1"/><circle cx="263.0" cy="259.7"/><circle cx="288.9" cy="244.3"/><circle cx="243.5" cy="287.7"/><circle cx="219.6" cy="287.1"/><circle cx="211.7" cy="301.5"/><circle cx="253.5" cy="270.4"/><circle cx="304.4" cy="273.8"/><circle cx="250.6" cy="284.4"/><circle cx="231.3" cy="305.2"/><circle cx="225.7" cy="299.2"/><circle cx="252.4" cy="282.2"/><circle cx="260.5" cy="285.2"/><circle cx="262.5" cy="287.4"/><circle cx="254.6" cy="287.3"/><circle cx="225.3" cy="299.5"/><circle cx="249.6" cy="284.5"/><circle cx="241.3" cy="293.4"/><circle cx="224.0" cy="285.1"/><circle cx="243.0" cy="288.4"/><circle cx="230.2" cy="295.1"/><circle cx="273.2" cy="244.9"/><circle cx="269.5" cy="300.2"/><circle cx="229.8" cy="295.7"/><circle cx="227.7" cy="294.6"/><circle cx="277.6" cy="224.8"/><circle cx="218.6" cy="270.7"/><circle cx="239.7" cy="305.6"/><circle cx="263.7" cy="270.3"/><circle cx="243.8" cy="304.4"/><circle cx="265.0" cy="302.5"/><circle cx="281.9" cy="260.6"/><circle cx="239.6" cy="305.5"/><circle cx="250.8" cy="301.3"/><circle cx="264.2" cy="275.9"/><circle cx="304.5" cy="194.9"/><circle cx="260.5" cy="298.9"/><circle cx="237.4" cy="303.0"/><circle cx="242.9" cy="296.2"/><circle cx="292.2" cy="304.7"/><circle cx="232.1" cy="303.6"/><circle cx="247.9" cy="304.5"/><circle cx="261.5" cy="299.0"/><circle cx="266.9" cy="299.0"/><circle cx="278.4" cy="301.1"/><circle cx="265.6" cy="294.7"/><circle cx="281.6" cy="284.5"/><circle cx="238.1" cy="301.5"/><circle cx="261.4" cy="284.2"/><circle cx="244.4" cy="295.0"/><circle cx="215.3" cy="273.2"/><circle cx="213.8" cy="302.3"/><circle cx="247.4" cy="302.0"/><circle cx="265.1" cy="300.1"/><circle cx="260.5" cy="304.3"/><circle cx="261.0" cy="281.7"/><circle cx="231.3" cy="297.1"/><circle cx="271.7" cy="244.5"/><circle cx="250.0" cy="275.2"/><circle cx="297.5" cy="300.6"/><circle cx="239.0" cy="299.3"/><circle cx="279.2" cy="302.9"/><circle cx="211.8" cy="265.7"/><circle cx="228.8" cy="304.5"/><circle cx="218.7" cy="299.0"/><circle cx="271.0" cy="257.0"/><circle cx="245.6" cy="301.8"/><circle cx="198.3" cy="288.3"/><circle cx="261.8" cy="304.7"/><circle cx="246.2" cy="284.4"/><circle cx="209.6" cy="302.1"/><circle cx="217.7" cy="283.9"/><circle cx="247.9" cy="290.3"/><circle cx="215.2" cy="278.2"/><circle cx="224.1" cy="303.9"/><circle cx="218.3" cy="281.9"/><circle cx="271.8" cy="258.3"/><circle cx="260.7" cy="283.1"/><circle cx="216.3" cy="295.5"/><circle cx="218.5" cy="267.9"/><circle cx="240.7" cy="303.3"/><circle cx="218.2" cy="296.2"/><circle cx="231.0" cy="305.1"/><circle cx="224.5" cy="302.9"/><circle cx="279.4" cy="280.4"/><circle cx="301.6" cy="277.4"/><circle cx="258.0" cy="291.4"/><circle cx="226.4" cy="304.3"/><circle cx="225.8" cy="293.5"/><circle cx="254.0" cy="277.6"/><circle cx="226.6" cy="305.4"/><circle cx="218.8" cy="290.1"/><circle cx="293.3" cy="194.1"/><circle cx="248.9" cy="304.7"/><circle cx="252.2" cy="300.6"/><circle cx="245.8" cy="294.3"/><circle cx="269.2" cy="299.9"/><circle cx="250.1" cy="299.7"/><circle cx="247.2" cy="298.5"/><circle cx="251.2" cy="283.7"/><circle cx="227.5" cy="295.2"/><circle cx="217.4" cy="300.4"/><circle cx="268.1" cy="251.1"/><circle cx="278.8" cy="262.0"/><circle cx="251.5" cy="294.7"/><circle cx="252.2" cy="271.8"/><circle cx="251.3" cy="302.4"/><circle cx="221.7" cy="303.0"/><circle cx="242.2" cy="295.2"/><circle cx="260.2" cy="300.4"/><circle cx="228.3" cy="304.0"/><circle cx="248.9" cy="295.0"/><circle cx="218.0" cy="303.5"/><circle cx="264.6" cy="269.9"/><circle cx="304.3" cy="220.4"/><circle cx="237.4" cy="305.3"/><circle cx="226.1" cy="304.7"/><circle cx="207.1" cy="295.3"/><circle cx="217.3" cy="303.8"/><circle cx="283.4" cy="195.9"/><circle cx="231.8" cy="300.8"/><circle cx="244.6" cy="292.9"/><circle cx="260.3" cy="257.6"/><circle cx="238.2" cy="301.1"/><circle cx="301.4" cy="222.9"/><circle cx="258.0" cy="300.9"/><circle cx="257.3" cy="274.9"/><circle cx="225.1" cy="289.4"/><circle cx="284.0" cy="294.9"/><circle cx="281.5" cy="301.2"/><circle cx="246.3" cy="303.3"/><circle cx="261.7" cy="268.9"/><circle cx="218.3" cy="291.9"/><circle cx="218.7" cy="288.4"/><circle cx="219.0" cy="279.3"/><circle cx="253.2" cy="268.2"/><circle cx="250.8" cy="283.2"/><circle cx="246.7" cy="295.8"/><circle cx="243.8" cy="296.3"/><circle cx="259.5" cy="297.4"/><circle cx="260.4" cy="277.3"/><circle cx="246.0" cy="288.7"/><circle cx="250.0" cy="279.2"/><circle cx="253.0" cy="283.8"/><circle cx="274.2" cy="220.8"/><circle cx="288.0" cy="245.4"/><circle cx="239.5" cy="297.2"/><circle cx="237.8" cy="305.2"/><circle cx="222.7" cy="287.7"/><circle cx="241.1" cy="299.7"/><circle cx="249.6" cy="300.8"/><circle cx="257.2" cy="298.6"/><circle cx="276.5" cy="237.8"/><circle cx="249.9" cy="292.8"/><circle cx="221.3" cy="302.9"/><circle cx="237.8" cy="300.0"/><circle cx="230.5" cy="303.3"/><circle cx="227.5" cy="300.1"/><circle cx="273.4" cy="291.1"/><circle cx="246.4" cy="295.6"/><circle cx="231.1" cy="303.7"/><circle cx="232.7" cy="300.6"/><circle cx="224.5" cy="283.2"/><circle cx="238.6" cy="299.9"/><circle cx="230.5" cy="301.5"/><circle cx="258.8" cy="280.6"/><circle cx="240.5" cy="298.1"/><circle cx="230.5" cy="298.6"/><circle cx="247.3" cy="295.7"/><circle cx="242.2" cy="298.3"/><circle cx="249.8" cy="289.3"/><circle cx="276.9" cy="253.8"/><circle cx="237.2" cy="305.1"/><circle cx="209.4" cy="254.2"/><circle cx="208.8" cy="288.4"/><circle cx="238.4" cy="301.8"/><circle cx="250.7" cy="282.0"/><circle cx="244.2" cy="298.6"/><circle cx="229.1" cy="303.1"/><circle cx="243.6" cy="296.5"/><circle cx="228.8" cy="305.1"/><circle cx="276.7" cy="285.6"/><circle cx="258.7" cy="284.3"/><circle cx="244.8" cy="287.0"/><circle cx="254.3" cy="291.9"/><circle cx="247.4" cy="285.0"/><circle cx="222.4" cy="299.4"/><circle cx="239.2" cy="300.8"/><circle cx="253.2" cy="272.4"/><circle cx="249.4" cy="277.7"/><circle cx="290.0" cy="198.0"/><circle cx="269.0" cy="242.5"/><circle cx="219.8" cy="300.7"/><circle cx="230.7" cy="300.8"/><circle cx="297.9" cy="294.5"/><circle cx="217.8" cy="270.9"/><circle cx="270.4" cy="274.4"/><circle cx="229.3" cy="304.3"/><circle cx="282.0" cy="218.2"/><circle cx="277.7" cy="270.3"/><circle cx="219.1" cy="278.2"/><circle cx="255.1" cy="300.9"/><circle cx="249.6" cy="287.0"/><circle cx="301.9" cy="243.2"/><circle cx="254.6" cy="281.6"/><circle cx="266.8" cy="274.6"/><circle cx="281.7" cy="267.1"/><circle cx="250.3" cy="299.2"/><circle cx="228.3" cy="303.2"/><circle cx="226.9" cy="290.8"/><circle cx="245.2" cy="290.5"/><circle cx="208.2" cy="296.3"/><circle cx="241.8" cy="300.5"/><circle cx="247.9" cy="290.0"/><circle cx="226.7" cy="303.0"/><circle cx="223.7" cy="289.1"/><circle cx="243.2" cy="294.1"/><circle cx="227.4" cy="294.5"/><circle cx="198.8" cy="290.9"/><circle cx="197.8" cy="253.1"/><circle cx="259.7" cy="300.9"/><circle cx="217.5" cy="303.4"/><circle cx="222.3" cy="291.3"/><circle cx="259.1" cy="296.7"/><circle cx="251.1" cy="297.0"/><circle cx="274.1" cy="304.6"/><circle cx="298.3" cy="280.8"/><circle cx="242.6" cy="294.7"/><circle cx="282.5" cy="257.8"/><circle cx="249.6" cy="274.9"/><circle cx="253.0" cy="295.8"/><circle cx="270.8" cy="289.8"/><circle cx="229.8" cy="305.5"/><circle cx="232.5" cy="303.2"/><circle cx="255.4" cy="278.2"/><circle cx="256.8" cy="301.1"/><circle cx="268.4" cy="301.5"/><circle cx="230.4" cy="304.9"/><circle cx="252.9" cy="278.4"/><circle cx="252.8" cy="276.8"/><circle cx="253.4" cy="284.4"/><circle cx="245.8" cy="300.7"/><circle cx="226.8" cy="303.7"/><circle cx="247.2" cy="296.1"/><circle cx="230.0" cy="299.2"/><circle cx="207.3" cy="256.4"/><circle cx="217.8" cy="297.2"/><circle cx="220.6" cy="286.7"/><circle cx="239.3" cy="299.4"/><circle cx="249.7" cy="287.9"/><circle cx="270.6" cy="265.0"/><circle cx="260.8" cy="248.9"/><circle cx="227.4" cy="305.4"/><circle cx="251.6" cy="287.2"/><circle cx="223.4" cy="305.0"/><circle cx="242.0" cy="304.7"/><circle cx="246.8" cy="297.4"/><circle cx="204.3" cy="296.7"/><circle cx="258.5" cy="264.0"/><circle cx="206.2" cy="245.7"/><circle cx="276.5" cy="217.5"/><circle cx="237.9" cy="304.6"/><circle cx="258.5" cy="287.3"/><circle cx="257.4" cy="256.2"/><circle cx="266.0" cy="248.6"/><circle cx="285.1" cy="289.8"/><circle cx="284.3" cy="302.4"/><circle cx="245.3" cy="290.7"/><circle cx="230.7" cy="300.8"/><circle cx="271.0" cy="241.6"/><circle cx="251.1" cy="292.1"/><circle cx="286.8" cy="272.4"/><circle cx="253.3" cy="302.1"/><circle cx="212.9" cy="264.2"/><circle cx="230.3" cy="297.4"/><circle cx="227.4" cy="289.4"/><circle cx="252.8" cy="280.0"/><circle cx="269.6" cy="275.5"/><circle cx="265.2" cy="240.3"/><circle cx="222.4" cy="301.0"/><circle cx="261.2" cy="246.6"/><circle cx="270.8" cy="305.1"/><circle cx="224.6" cy="300.3"/><circle cx="254.7" cy="283.7"/><circle cx="251.4" cy="299.5"/><circle cx="231.3" cy="302.8"/><circle cx="231.0" cy="296.4"/><circle cx="254.4" cy="298.6"/><circle cx="228.6" cy="304.5"/><circle cx="243.1" cy="293.8"/><circle cx="288.9" cy="229.7"/><circle cx="242.7" cy="303.4"/><circle cx="224.4" cy="298.8"/><circle cx="230.7" cy="303.7"/><circle cx="225.9" cy="288.2"/><circle cx="254.8" cy="273.2"/><circle cx="241.6" cy="305.2"/><circle cx="239.8" cy="304.3"/><circle cx="222.3" cy="276.8"/><circle cx="246.2" cy="301.9"/><circle cx="271.6" cy="232.9"/><circle cx="264.1" cy="286.9"/><circle cx="297.3" cy="278.7"/><circle cx="273.9" cy="223.1"/><circle cx="248.0" cy="302.3"/><circle cx="241.1" cy="296.1"/><circle cx="251.3" cy="289.5"/><circle cx="247.9" cy="292.9"/><circle cx="229.2" cy="304.6"/><circle cx="280.9" cy="288.1"/><circle cx="214.3" cy="301.9"/><circle cx="248.5" cy="293.5"/><circle cx="254.7" cy="274.9"/><circle cx="241.0" cy="298.3"/><circle cx="246.8" cy="285.5"/><circle cx="238.1" cy="304.0"/><circle cx="249.5" cy="275.5"/><circle cx="237.2" cy="304.8"/><circle cx="214.2" cy="295.9"/><circle cx="251.4" cy="282.2"/><circle cx="250.3" cy="285.0"/><circle cx="251.4" cy="297.9"/><circle cx="246.6" cy="303.2"/><circle cx="248.4" cy="278.3"/><circle cx="237.7" cy="300.6"/><circle cx="271.6" cy="246.4"/><circle cx="245.3" cy="290.8"/><circle cx="222.4" cy="283.3"/><circle cx="256.1" cy="261.5"/><circle cx="227.9" cy="290.3"/><circle cx="239.4" cy="301.8"/><circle cx="248.4" cy="293.7"/><circle cx="262.2" cy="255.2"/><circle cx="238.1" cy="299.2"/><circle cx="274.0" cy="304.8"/><circle cx="262.9" cy="305.0"/><circle cx="286.2" cy="192.9"/><circle cx="262.0" cy="285.5"/><circle cx="227.8" cy="290.2"/><circle cx="257.2" cy="269.3"/><circle cx="228.9" cy="292.3"/><circle cx="257.1" cy="300.0"/><circle cx="260.0" cy="272.0"/><circle cx="240.9" cy="304.7"/><circle cx="217.6" cy="274.5"/><circle cx="285.9" cy="290.5"/><circle cx="231.5" cy="305.3"/><circle cx="255.6" cy="273.3"/><circle cx="252.5" cy="280.3"/><circle cx="255.4" cy="272.0"/><circle cx="272.0" cy="289.9"/><circle cx="251.2" cy="286.8"/><circle cx="263.2" cy="296.9"/><circle cx="247.7" cy="301.1"/><circle cx="225.2" cy="295.9"/><circle cx="253.6" cy="286.6"/><circle cx="221.6" cy="297.1"/><circle cx="261.0" cy="287.9"/><circle cx="259.4" cy="256.1"/><circle cx="293.8" cy="292.7"/><circle cx="204.4" cy="267.8"/><circle cx="239.4" cy="295.9"/><circle cx="240.1" cy="300.3"/><circle cx="266.6" cy="297.6"/><circle cx="238.7" cy="304.6"/><circle cx="219.5" cy="297.6"/><circle cx="233.0" cy="303.7"/><circle cx="251.5" cy="291.3"/><circle cx="203.4" cy="262.1"/><circle cx="250.2" cy="305.4"/><circle cx="252.3" cy="288.2"/><circle cx="231.8" cy="305.6"/><circle cx="210.0" cy="248.1"/><circle cx="257.0" cy="289.6"/><circle cx="220.0" cy="285.5"/><circle cx="264.1" cy="282.9"/><circle cx="240.1" cy="294.6"/><circle cx="243.6" cy="292.0"/><circle cx="240.6" cy="302.5"/><circle cx="266.3" cy="295.3"/><circle cx="249.4" cy="303.0"/><circle cx="246.7" cy="296.9"/><circle cx="253.7" cy="271.7"/><circle cx="242.0" cy="305.1"/><circle cx="265.3" cy="287.9"/><circle cx="250.6" cy="282.4"/><circle cx="246.5" cy="298.1"/><circle cx="243.6" cy="295.4"/><circle cx="254.0" cy="276.1"/><circle cx="256.4" cy="286.8"/><circle cx="237.7" cy="302.8"/><circle cx="237.5" cy="305.4"/><circle cx="242.9" cy="303.7"/><circle cx="231.5" cy="304.9"/><circle cx="226.5" cy="305.3"/><circle cx="264.1" cy="240.2"/><circle cx="283.8" cy="263.3"/><circle cx="226.3" cy="297.2"/><circle cx="255.5" cy="282.3"/><circle cx="261.7" cy="258.8"/><circle cx="210.2" cy="254.4"/><circle cx="215.0" cy="289.9"/><circle cx="221.7" cy="303.8"/><circle cx="248.0" cy="295.0"/><circle cx="249.5" cy="283.4"/><circle cx="256.4" cy="260.7"/><circle cx="254.3" cy="302.9"/><circle cx="216.4" cy="292.5"/><circle cx="227.8" cy="295.3"/><circle cx="247.2" cy="300.1"/><circle cx="255.2" cy="277.1"/><circle cx="226.8" cy="292.9"/><circle cx="220.5" cy="298.6"/><circle cx="251.3" cy="287.2"/><circle cx="239.6" cy="305.6"/><circle cx="237.4" cy="303.3"/><circle cx="277.6" cy="286.4"/><circle cx="242.6" cy="296.4"/><circle cx="279.8" cy="298.7"/><circle cx="270.5" cy="224.6"/><circle cx="240.6" cy="304.4"/><circle cx="266.3" cy="275.5"/><circle cx="228.8" cy="304.0"/><circle cx="216.2" cy="282.5"/><circle cx="257.6" cy="266.4"/><circle cx="216.3" cy="297.4"/><circle cx="258.3" cy="296.3"/><circle cx="251.4" cy="274.9"/><circle cx="266.1" cy="271.7"/><circle cx="281.3" cy="277.6"/><circle cx="212.2" cy="278.5"/><circle cx="245.1" cy="298.6"/><circle cx="244.3" cy="294.8"/><circle cx="238.9" cy="302.8"/><circle cx="218.6" cy="270.6"/><circle cx="227.3" cy="304.4"/><circle cx="261.1" cy="293.7"/><circle cx="242.9" cy="302.3"/><circle cx="251.0" cy="283.0"/><circle cx="249.2" cy="298.2"/><circle cx="214.0" cy="295.3"/><circle cx="255.4" cy="273.2"/><circle cx="252.7" cy="292.2"/><circle cx="239.6" cy="301.9"/><circle cx="243.3" cy="305.5"/><circle cx="226.5" cy="294.5"/><circle cx="258.7" cy="252.8"/><circle cx="207.3" cy="278.3"/><circle cx="250.3" cy="272.3"/><circle cx="217.3" cy="270.4"/><circle cx="250.0" cy="275.2"/><circle cx="238.5" cy="304.4"/><circle cx="221.4" cy="292.9"/><circle cx="260.0" cy="250.4"/><circle cx="250.4" cy="294.3"/><circle cx="223.7" cy="305.6"/><circle cx="264.5" cy="288.2"/><circle cx="245.9" cy="297.5"/><circle cx="244.9" cy="304.3"/><circle cx="248.0" cy="295.0"/><circle cx="260.0" cy="293.7"/><circle cx="247.1" cy="288.4"/><circle cx="238.7" cy="304.2"/><circle cx="267.1" cy="241.0"/><circle cx="218.8" cy="295.5"/><circle cx="212.5" cy="264.1"/><circle cx="219.0" cy="295.2"/><circle cx="245.9" cy="295.7"/><circle cx="263.2" cy="303.0"/><circle cx="247.9" cy="292.5"/><circle cx="265.5" cy="301.0"/><circle cx="288.3" cy="193.2"/><circle cx="262.1" cy="295.1"/><circle cx="246.3" cy="292.6"/><circle cx="276.9" cy="234.3"/><circle cx="231.9" cy="303.1"/><circle cx="231.7" cy="300.5"/><circle cx="252.5" cy="267.4"/><circle cx="255.6" cy="300.4"/><circle cx="225.9" cy="297.2"/><circle cx="257.7" cy="284.4"/><circle cx="246.4" cy="300.0"/><circle cx="243.6" cy="293.1"/><circle cx="251.3" cy="290.3"/><circle cx="282.8" cy="251.3"/><circle cx="245.6" cy="299.2"/><circle cx="266.3" cy="260.1"/><circle cx="207.4" cy="282.9"/><circle cx="248.6" cy="301.2"/><circle cx="214.2" cy="287.0"/><circle cx="251.7" cy="290.6"/><circle cx="262.9" cy="265.1"/><circle cx="246.1" cy="286.3"/><circle cx="222.9" cy="300.7"/><circle cx="228.2" cy="290.3"/><circle cx="254.1" cy="273.1"/><circle cx="238.7" cy="300.8"/><circle cx="245.2" cy="289.8"/><circle cx="247.5" cy="303.5"/><circle cx="240.7" cy="304.0"/><circle cx="247.7" cy="291.6"/><circle cx="245.9" cy="304.4"/><circle cx="253.3" cy="266.8"/><circle cx="292.4" cy="267.7"/><circle cx="253.0" cy="304.9"/><circle cx="237.5" cy="303.1"/><circle cx="245.7" cy="300.2"/><circle cx="251.3" cy="292.4"/><circle cx="227.6" cy="298.1"/><circle cx="240.8" cy="297.9"/><circle cx="212.7" cy="255.0"/><circle cx="266.2" cy="300.5"/><circle cx="250.9" cy="292.4"/><circle cx="274.7" cy="301.9"/><circle cx="228.6" cy="299.0"/><circle cx="259.6" cy="304.5"/><circle cx="253.9" cy="304.7"/><circle cx="240.4" cy="297.6"/><circle cx="232.6" cy="301.7"/><circle cx="238.1" cy="303.5"/><circle cx="243.0" cy="304.4"/><circle cx="241.7" cy="303.4"/><circle cx="225.6" cy="286.8"/><circle cx="228.3" cy="298.4"/><circle cx="269.9" cy="278.3"/><circle cx="227.9" cy="291.4"/><circle cx="223.3" cy="292.0"/><circle cx="229.9" cy="293.9"/><circle cx="247.7" cy="305.5"/><circle cx="280.6" cy="229.5"/><circle cx="242.8" cy="298.3"/><circle cx="238.4" cy="301.5"/><circle cx="256.8" cy="303.3"/><circle cx="224.8" cy="305.2"/><circle cx="245.5" cy="298.5"/><circle cx="245.3" cy="291.2"/><circle cx="268.0" cy="299.5"/><circle cx="219.1" cy="298.4"/><circle cx="208.6" cy="250.9"/><circle cx="278.4" cy="304.9"/><circle cx="243.9" cy="289.8"/><circle cx="222.8" cy="298.4"/><circle cx="274.5" cy="223.2"/><circle cx="229.5" cy="304.6"/><circle cx="243.5" cy="299.7"/><circle cx="232.6" cy="304.2"/><circle cx="245.2" cy="283.9"/><circle cx="246.0" cy="297.3"/><circle cx="251.2" cy="303.1"/><circle cx="244.0" cy="302.9"/><circle cx="229.4" cy="295.5"/><circle cx="221.8" cy="291.3"/><circle cx="251.0" cy="301.5"/><circle cx="246.5" cy="294.1"/><circle cx="229.4" cy="296.1"/><circle cx="222.9" cy="288.7"/><circle cx="272.2" cy="293.0"/><circle cx="245.0" cy="283.9"/><circle cx="242.7" cy="303.7"/><circle cx="214.7" cy="296.1"/><circle cx="247.4" cy="285.6"/><circle cx="275.6" cy="287.8"/><circle cx="256.4" cy="277.5"/><circle cx="259.3" cy="299.6"/><circle cx="230.5" cy="305.4"/><circle cx="245.1" cy="294.9"/><circle cx="252.4" cy="305.4"/><circle cx="223.3" cy="302.1"/><circle cx="232.4" cy="299.7"/><circle cx="228.3" cy="296.7"/><circle cx="278.4" cy="261.8"/><circle cx="284.7" cy="236.5"/><circle cx="244.1" cy="295.7"/><circle cx="240.6" cy="298.0"/><circle cx="271.6" cy="281.5"/><circle cx="252.4" cy="273.0"/><circle cx="224.5" cy="303.6"/><circle cx="243.8" cy="294.4"/><circle cx="283.4" cy="304.7"/><circle cx="228.0" cy="300.9"/><circle cx="276.1" cy="303.1"/><circle cx="229.1" cy="302.1"/><circle cx="227.3" cy="299.8"/><circle cx="232.9" cy="304.6"/><circle cx="299.5" cy="203.7"/><circle cx="255.5" cy="278.4"/><circle cx="230.3" cy="300.0"/><circle cx="251.8" cy="305.5"/><circle cx="258.9" cy="299.6"/><circle cx="228.4" cy="301.3"/><circle cx="264.8" cy="296.8"/><circle cx="229.9" cy="297.6"/><circle cx="255.4" cy="299.6"/><circle cx="221.3" cy="290.0"/><circle cx="257.9" cy="293.0"/><circle cx="261.0" cy="270.9"/><circle cx="239.1" cy="298.3"/><circle cx="216.1" cy="288.6"/><circle cx="232.5" cy="303.6"/><circle cx="238.3" cy="302.8"/><circle cx="254.0" cy="294.7"/><circle cx="232.1" cy="300.1"/><circle cx="257.6" cy="301.1"/><circle cx="257.7" cy="294.7"/><circle cx="232.1" cy="304.4"/><circle cx="278.3" cy="239.4"/><circle cx="228.1" cy="303.7"/><circle cx="254.5" cy="273.7"/><circle cx="266.8" cy="244.8"/><circle cx="254.4" cy="295.0"/><circle cx="258.1" cy="255.3"/><circle cx="229.1" cy="303.4"/><circle cx="237.4" cy="302.8"/><circle cx="230.9" cy="303.4"/><circle cx="225.6" cy="302.8"/><circle cx="237.9" cy="301.9"/><circle cx="238.0" cy="301.9"/><circle cx="296.0" cy="199.0"/><circle cx="264.5" cy="246.4"/><circle cx="226.5" cy="303.3"/><circle cx="207.5" cy="303.7"/><circle cx="278.8" cy="303.9"/><circle cx="238.9" cy="304.5"/><circle cx="208.9" cy="294.3"/><circle cx="227.2" cy="295.8"/><circle cx="265.7" cy="294.9"/><circle cx="248.1" cy="289.3"/><circle cx="250.7" cy="285.8"/><circle cx="282.1" cy="292.5"/><circle cx="228.1" cy="297.7"/><circle cx="270.3" cy="272.5"/><circle cx="213.7" cy="272.1"/><circle cx="244.4" cy="305.0"/><circle cx="265.1" cy="290.1"/><circle cx="225.4" cy="286.3"/><circle cx="211.4" cy="303.5"/><circle cx="238.9" cy="304.4"/><circle cx="208.0" cy="269.0"/><circle cx="242.3" cy="305.6"/><circle cx="218.4" cy="305.0"/><circle cx="274.6" cy="286.3"/><circle cx="247.6" cy="286.5"/></g>
<line x1="227.5" y1="189.6" x2="227.5" y2="305.7" stroke="#3a3a3a" stroke-width="0.8" stroke-dasharray="1.8,1.3"/>
<line x1="243.6" y1="189.6" x2="243.6" y2="305.7" stroke="#3a3a3a" stroke-width="0.8" stroke-dasharray="1.8,1.3"/>
<line x1="193.6" y1="285" x2="309.7" y2="285" stroke="#3a3a3a" stroke-width="0.8" stroke-dasharray="1.8,1.3"/>
<line x1="256.7" y1="261.3" x2="266.3" y2="242.5" stroke="#2d7fc1" stroke-width="1.0"/>
<line x1="258.9" y1="269.4" x2="270" y2="256.5" stroke="#2d7fc1" stroke-width="1.0"/>
<line x1="260" y1="292.3" x2="280" y2="300" stroke="#2d7fc1" stroke-width="1.0"/>
<circle cx="256.7" cy="261.3" r="1.9" fill="#1b5791"/>
<circle cx="258.9" cy="269.4" r="1.9" fill="#1b5791"/>
<circle cx="260" cy="292.3" r="1.9" fill="#1b5791"/>
<line x1="244.6" y1="284.5" x2="270.5" y2="269.5" stroke="#d42a35" stroke-width="1.0"/>
<circle cx="244.6" cy="284.5" r="2.1" fill="#e0202c"/>
<text x="267.8" y="241" font-size="7.4" fill="#2f80c0" textLength="16.8" lengthAdjust="spacingAndGlyphs" stroke="#2f80c0" stroke-width="0.18">IFIT2</text>
<text x="271.3" y="254.9" font-size="7.4" fill="#2f80c0" textLength="16.8" lengthAdjust="spacingAndGlyphs" stroke="#2f80c0" stroke-width="0.18">IFIT3</text>
<text x="272.2" y="267.4" font-size="7.4" fill="#d42a35" textLength="19.8" lengthAdjust="spacingAndGlyphs" stroke="#d42a35" stroke-width="0.18">CD38</text>
<text x="281" y="302.9" font-size="7.4" fill="#2f80c0" textLength="15.3" lengthAdjust="spacingAndGlyphs" stroke="#2f80c0" stroke-width="0.18">IFIT1</text>
<rect x="193.6" y="189.6" width="116.1" height="116.1" fill="none" stroke="#1c1c1c" stroke-width="1.15"/>
<line x1="194.4" y1="305.7" x2="194.4" y2="308.7" stroke="#1c1c1c" stroke-width="0.9"/>
<text x="194.4" y="318.2" font-size="7.4" fill="#2b2b2b" text-anchor="middle" stroke="#2b2b2b" stroke-width="0.18">−4</text>
<line x1="215.3" y1="305.7" x2="215.3" y2="308.7" stroke="#1c1c1c" stroke-width="0.9"/>
<text x="215.3" y="318.2" font-size="7.4" fill="#2b2b2b" text-anchor="middle" stroke="#2b2b2b" stroke-width="0.18">−2</text>
<line x1="236.2" y1="305.7" x2="236.2" y2="308.7" stroke="#1c1c1c" stroke-width="0.9"/>
<text x="236.2" y="318.2" font-size="7.4" fill="#2b2b2b" text-anchor="middle" stroke="#2b2b2b" stroke-width="0.18">0</text>
<line x1="257.1" y1="305.7" x2="257.1" y2="308.7" stroke="#1c1c1c" stroke-width="0.9"/>
<text x="257.1" y="318.2" font-size="7.4" fill="#2b2b2b" text-anchor="middle" stroke="#2b2b2b" stroke-width="0.18">2</text>
<line x1="278" y1="305.7" x2="278" y2="308.7" stroke="#1c1c1c" stroke-width="0.9"/>
<text x="278" y="318.2" font-size="7.4" fill="#2b2b2b" text-anchor="middle" stroke="#2b2b2b" stroke-width="0.18">4</text>
<line x1="298.9" y1="305.7" x2="298.9" y2="308.7" stroke="#1c1c1c" stroke-width="0.9"/>
<text x="298.9" y="318.2" font-size="7.4" fill="#2b2b2b" text-anchor="middle" stroke="#2b2b2b" stroke-width="0.18">6</text>
<line x1="204.85" y1="305.7" x2="204.85" y2="307.3" stroke="#1c1c1c" stroke-width="0.8"/>
<line x1="225.75" y1="305.7" x2="225.75" y2="307.3" stroke="#1c1c1c" stroke-width="0.8"/>
<line x1="246.65" y1="305.7" x2="246.65" y2="307.3" stroke="#1c1c1c" stroke-width="0.8"/>
<line x1="267.55" y1="305.7" x2="267.55" y2="307.3" stroke="#1c1c1c" stroke-width="0.8"/>
<line x1="288.45" y1="305.7" x2="288.45" y2="307.3" stroke="#1c1c1c" stroke-width="0.8"/>
<line x1="190.8" y1="305.5" x2="193.6" y2="305.5" stroke="#1c1c1c" stroke-width="0.9"/>
<text x="188.2" y="308.15" font-size="7.4" fill="#2b2b2b" text-anchor="end" stroke="#2b2b2b" stroke-width="0.18">0</text>
<line x1="190.8" y1="272.44" x2="193.6" y2="272.44" stroke="#1c1c1c" stroke-width="0.9"/>
<text x="188.2" y="275.09" font-size="7.4" fill="#2b2b2b" text-anchor="end" stroke="#2b2b2b" stroke-width="0.18">2</text>
<line x1="190.8" y1="239.38" x2="193.6" y2="239.38" stroke="#1c1c1c" stroke-width="0.9"/>
<text x="188.2" y="242.03" font-size="7.4" fill="#2b2b2b" text-anchor="end" stroke="#2b2b2b" stroke-width="0.18">4</text>
<line x1="190.8" y1="206.32" x2="193.6" y2="206.32" stroke="#1c1c1c" stroke-width="0.9"/>
<text x="188.2" y="208.97" font-size="7.4" fill="#2b2b2b" text-anchor="end" stroke="#2b2b2b" stroke-width="0.18">6</text>
<line x1="192" y1="288.97" x2="193.6" y2="288.97" stroke="#1c1c1c" stroke-width="0.8"/>
<line x1="192" y1="255.91" x2="193.6" y2="255.91" stroke="#1c1c1c" stroke-width="0.8"/>
<line x1="192" y1="222.85" x2="193.6" y2="222.85" stroke="#1c1c1c" stroke-width="0.8"/>
<line x1="192" y1="189.79" x2="193.6" y2="189.79" stroke="#1c1c1c" stroke-width="0.8"/>
<text x="198.2" y="199.6" font-size="7.4" fill="#1c1c1c">Aza</text>
<text x="251.65" y="330.9" font-size="8.8" fill="#2b2b2b" text-anchor="middle" textLength="40.4" lengthAdjust="spacingAndGlyphs" stroke="#2b2b2b" stroke-width="0.3">Log2FC mRNA</text>
<text x="177.1" y="249.1" font-size="8.1" fill="#2b2b2b" stroke="#2b2b2b" stroke-width="0.3" text-anchor="middle" transform="rotate(-90 177.1 249.1)" textLength="35.6" lengthAdjust="spacingAndGlyphs">–log <tspan font-style="italic">P</tspan>-value</text>
<text x="197" y="283.2" font-size="8.1" fill="#1c1c1c" textLength="24.2" lengthAdjust="spacingAndGlyphs"><tspan font-style="italic">P</tspan> = .05</text>
<rect x="430.2" y="217.05" width="64.50" height="5.3" fill="#c4112e"/>
<line x1="427.4" y1="219.7" x2="430.2" y2="219.7" stroke="#1c1c1c" stroke-width="0.9"/>
<text x="424.4" y="222.25" font-size="7.35" fill="#333" text-anchor="end">Salmonella infection</text>
<rect x="430.2" y="227.15" width="42.69" height="5.3" fill="#c4112e"/>
<line x1="427.4" y1="229.8" x2="430.2" y2="229.8" stroke="#1c1c1c" stroke-width="0.9"/>
<text x="424.4" y="232.35" font-size="7.35" fill="#333" text-anchor="end">HIV-1 infection</text>
<rect x="430.2" y="237.15" width="42.69" height="5.3" fill="#c4112e"/>
<line x1="427.4" y1="239.8" x2="430.2" y2="239.8" stroke="#1c1c1c" stroke-width="0.9"/>
<text x="424.4" y="242.35" font-size="7.35" fill="#333" text-anchor="end">Phagosome</text>
<rect x="430.2" y="247.25" width="39.63" height="5.3" fill="#c4112e"/>
<line x1="427.4" y1="249.9" x2="430.2" y2="249.9" stroke="#1c1c1c" stroke-width="0.9"/>
<text x="424.4" y="252.45" font-size="7.35" fill="#333" text-anchor="end">Pathogenic E. coli infection</text>
<rect x="430.2" y="257.25" width="37.58" height="5.3" fill="#c4112e"/>
<line x1="427.4" y1="259.9" x2="430.2" y2="259.9" stroke="#1c1c1c" stroke-width="0.9"/>
<text x="424.4" y="262.45" font-size="7.35" fill="#333" text-anchor="end">Apoptosis</text>
<rect x="430.2" y="267.35" width="25.06" height="5.3" fill="#c4112e"/>
<line x1="427.4" y1="270" x2="430.2" y2="270" stroke="#1c1c1c" stroke-width="0.9"/>
<text x="424.4" y="272.55" font-size="7.35" fill="#333" text-anchor="end">Lysosome</text>
<rect x="430.2" y="277.35" width="23.48" height="5.3" fill="#c4112e"/>
<line x1="427.4" y1="280" x2="430.2" y2="280" stroke="#1c1c1c" stroke-width="0.9"/>
<text x="424.4" y="282.55" font-size="7.35" fill="#333" text-anchor="end">Epstein-Barr virus infection</text>
<rect x="430.2" y="212.5" width="74.3" height="74.7" fill="none" stroke="#1c1c1c" stroke-width="1.15"/>
<line x1="430.2" y1="287.2" x2="430.2" y2="290.2" stroke="#1c1c1c" stroke-width="0.9"/>
<text x="430.2" y="299.1" font-size="7.4" fill="#2b2b2b" text-anchor="middle" stroke="#2b2b2b" stroke-width="0.18">0</text>
<line x1="448.76" y1="287.2" x2="448.76" y2="290.2" stroke="#1c1c1c" stroke-width="0.9"/>
<text x="448.76" y="299.1" font-size="7.4" fill="#2b2b2b" text-anchor="middle" stroke="#2b2b2b" stroke-width="0.18">2</text>
<line x1="467.32" y1="287.2" x2="467.32" y2="290.2" stroke="#1c1c1c" stroke-width="0.9"/>
<text x="467.32" y="299.1" font-size="7.4" fill="#2b2b2b" text-anchor="middle" stroke="#2b2b2b" stroke-width="0.18">4</text>
<line x1="485.88" y1="287.2" x2="485.88" y2="290.2" stroke="#1c1c1c" stroke-width="0.9"/>
<text x="485.88" y="299.1" font-size="7.4" fill="#2b2b2b" text-anchor="middle" stroke="#2b2b2b" stroke-width="0.18">6</text>
<line x1="504.44" y1="287.2" x2="504.44" y2="290.2" stroke="#1c1c1c" stroke-width="0.9"/>
<text x="504.44" y="299.1" font-size="7.4" fill="#2b2b2b" text-anchor="middle" stroke="#2b2b2b" stroke-width="0.18">8</text>
<text x="467.6" y="198.8" font-size="7.7" fill="#1e1e1e" text-anchor="middle" textLength="48" lengthAdjust="spacingAndGlyphs">Aza vs. DMSO</text>
<text x="467.4" y="207.5" font-size="7.7" fill="#1e1e1e" text-anchor="middle" textLength="86.8" lengthAdjust="spacingAndGlyphs">KEGG upregulated mRNA</text>
<text x="467.7" y="311.6" font-size="8.8" fill="#2b2b2b" stroke="#2b2b2b" stroke-width="0.15" text-anchor="middle" textLength="41.4" lengthAdjust="spacingAndGlyphs">–log10 <tspan font-style="italic">P</tspan> -value</text>
<text x="6.4" y="14.2" font-size="10.6" fill="#111" font-weight="bold" stroke="#111" stroke-width="0.1">A</text>
<text x="5.3" y="180.2" font-size="10.6" fill="#111" font-weight="bold" stroke="#111" stroke-width="0.1">B</text>
<text x="324.6" y="180.6" font-size="10.6" fill="#111" font-weight="bold" stroke="#111" stroke-width="0.1">C</text>
<path d="M519.5 0.5V338.5" stroke="#8a8a8a" stroke-width="1"/>
<path d="M519.5 0.5H0.5V338.5H519.5" fill="none" stroke="#555" stroke-width="1"/>
</svg>
</body></html>
